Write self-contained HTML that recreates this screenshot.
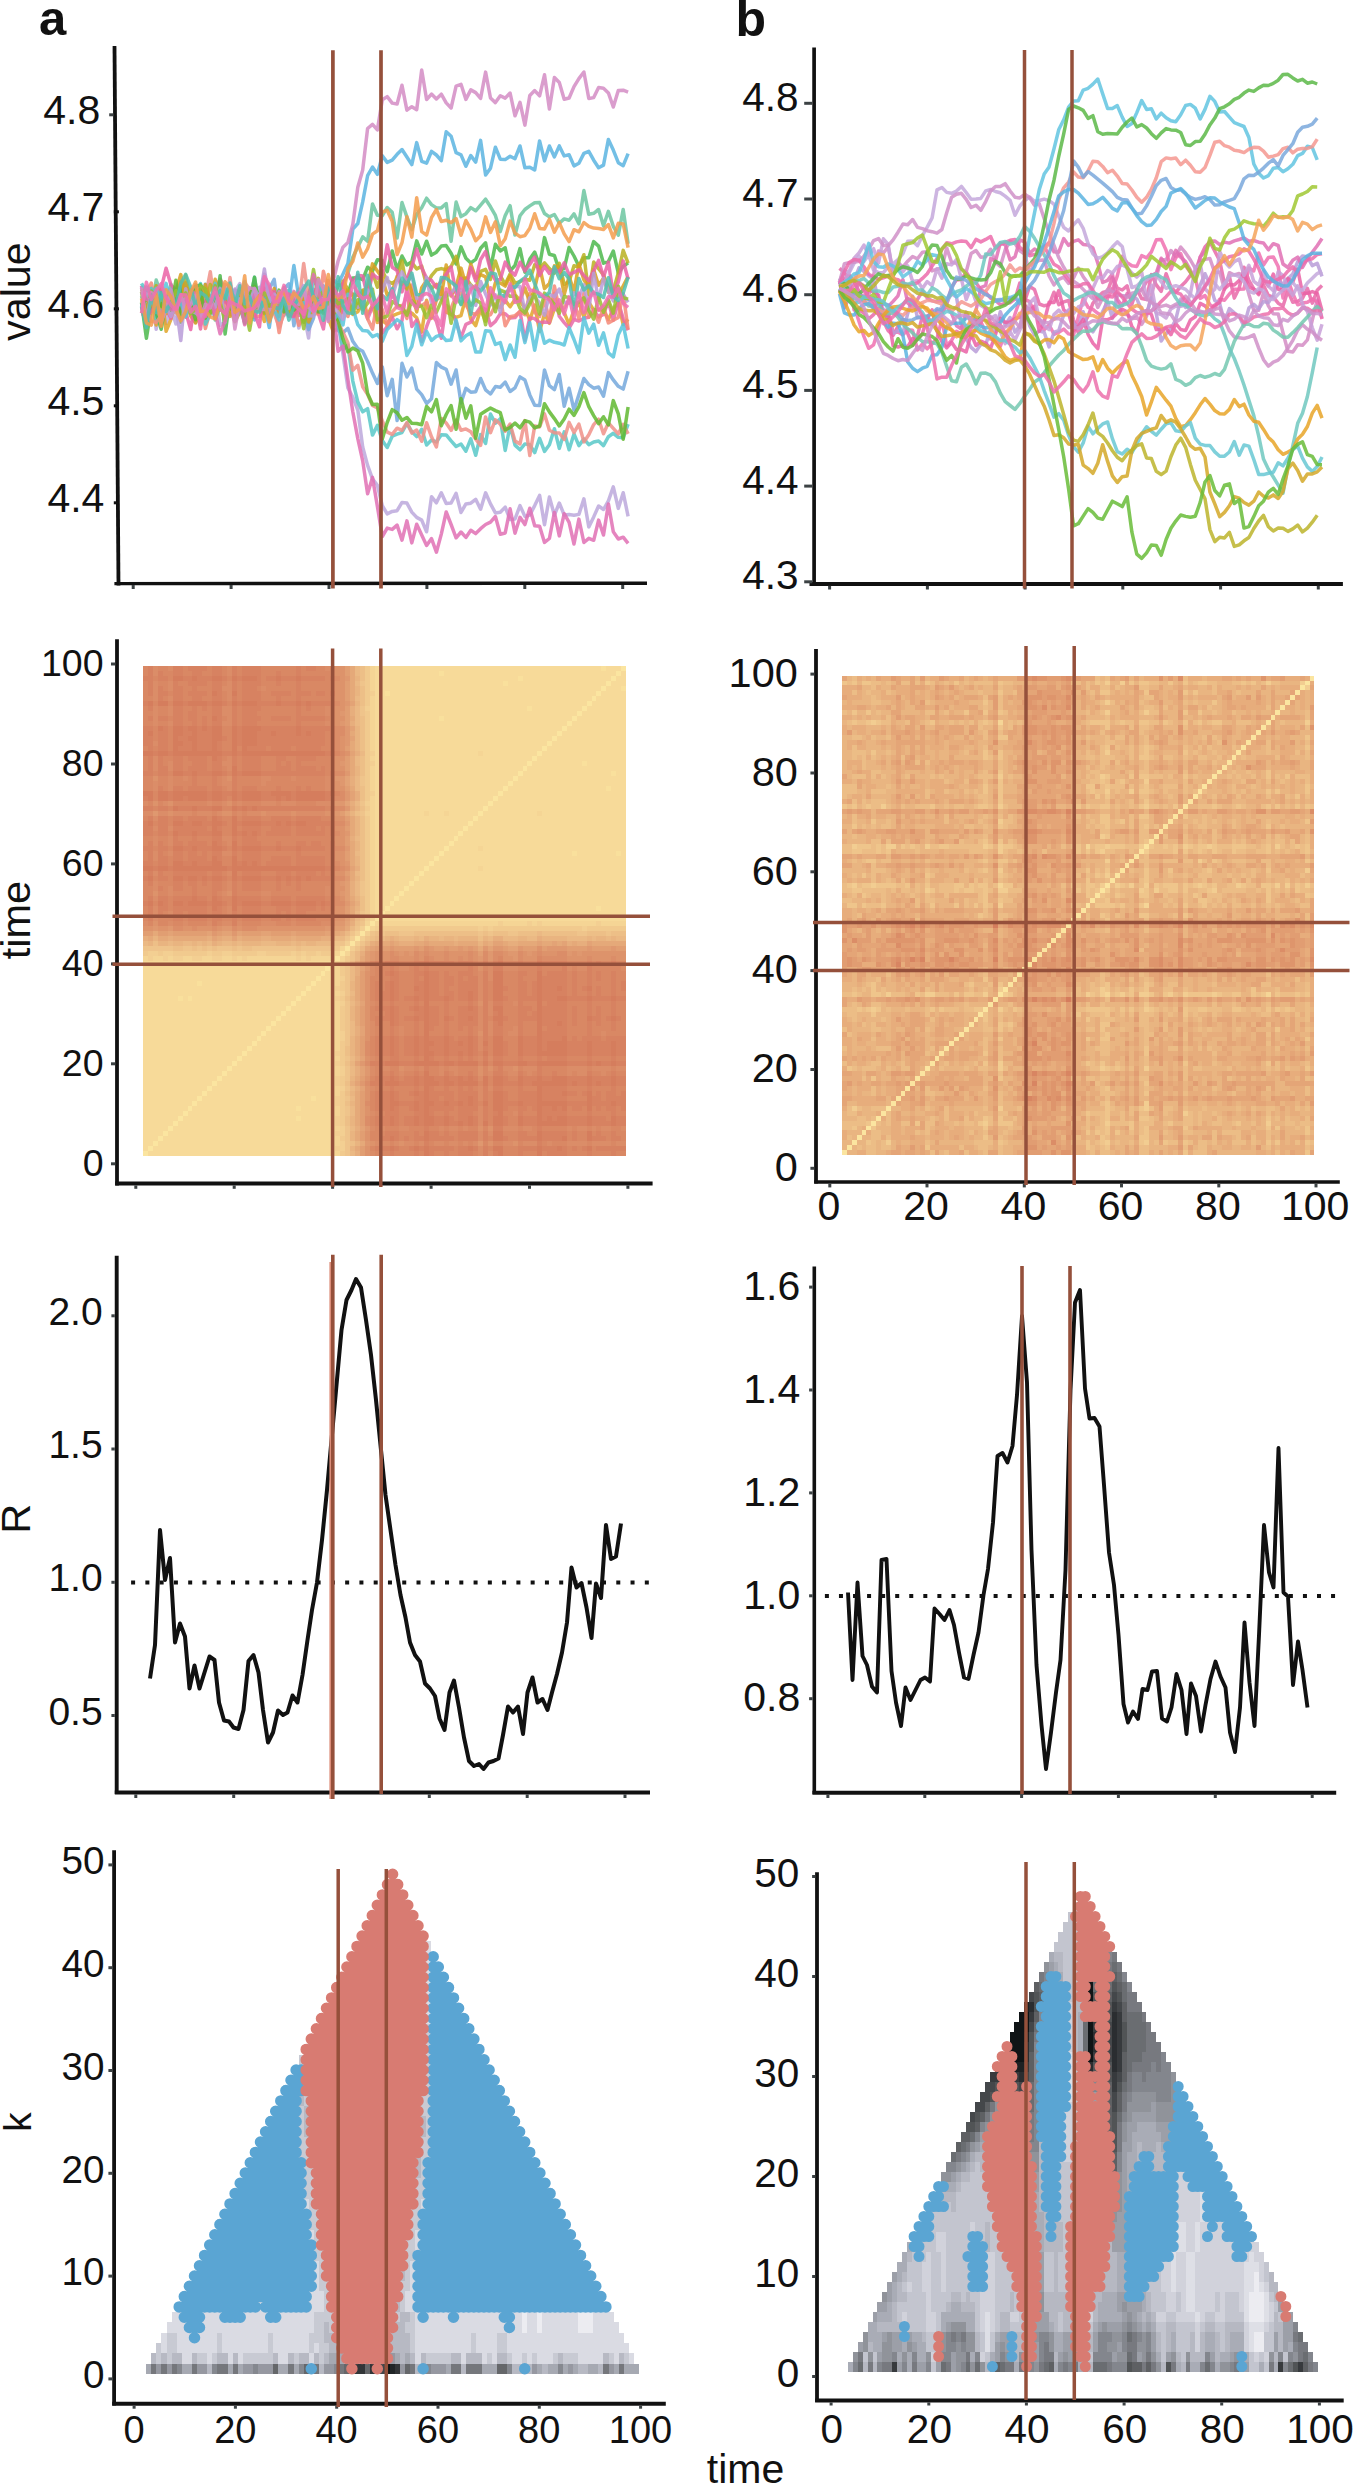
<!DOCTYPE html>
<html><head><meta charset="utf-8"><title>figure</title>
<style>html,body{margin:0;padding:0;background:#fff}svg{display:block}text{font-family:'Liberation Sans', sans-serif}</style>
</head><body>
<svg width="1354" height="2484" viewBox="0 0 1354 2484">
<rect width="1354" height="2484" fill="#fff"/>
<line x1="114.5" y1="46" x2="118.5" y2="585.5" stroke="#111" stroke-width="3.8" />
<line x1="114.4" y1="583.6" x2="647" y2="583.2" stroke="#111" stroke-width="3.4" />
<line x1="133.2" y1="585" x2="133.2" y2="589" stroke="#3c4244" stroke-width="3" />
<line x1="231.1" y1="585" x2="231.1" y2="589" stroke="#3c4244" stroke-width="3" />
<line x1="329" y1="585" x2="329" y2="589" stroke="#3c4244" stroke-width="3" />
<line x1="426.9" y1="585" x2="426.9" y2="589" stroke="#3c4244" stroke-width="3" />
<line x1="524.8" y1="585" x2="524.8" y2="589" stroke="#3c4244" stroke-width="3" />
<line x1="622.7" y1="585" x2="622.7" y2="589" stroke="#3c4244" stroke-width="3" />
<line x1="109.2" y1="114.8" x2="113.2" y2="114.8" stroke="#3c4244" stroke-width="3" />
<text x="100.3" y="123.9" font-size="41" text-anchor="end" font-weight="normal" fill="#111">4.8</text>
<line x1="113.8" y1="211.8" x2="118.9" y2="211.8" stroke="#111" stroke-width="3" />
<text x="104.4" y="220.9" font-size="41" text-anchor="end" font-weight="normal" fill="#111">4.7</text>
<line x1="113.8" y1="308.8" x2="118.9" y2="308.8" stroke="#111" stroke-width="3" />
<text x="104.4" y="317.9" font-size="41" text-anchor="end" font-weight="normal" fill="#111">4.6</text>
<line x1="113.8" y1="405.8" x2="118.9" y2="405.8" stroke="#111" stroke-width="3" />
<text x="104.4" y="414.9" font-size="41" text-anchor="end" font-weight="normal" fill="#111">4.5</text>
<line x1="113.8" y1="502.8" x2="118.9" y2="502.8" stroke="#111" stroke-width="3" />
<text x="104.4" y="511.9" font-size="41" text-anchor="end" font-weight="normal" fill="#111">4.4</text>
<text x="29.7" y="291.6" font-size="41.3" text-anchor="middle" font-weight="normal" fill="#111" transform="rotate(-90 29.7 291.6)">value</text>
<text x="39" y="34.6" font-size="49" text-anchor="start" font-weight="bold" fill="#111">a</text>
<polyline points="141.5,292.4 146.4,303.2 151.3,288.8 156.2,329.2 161.2,293.8 166.1,323.5 171,307.2 175.9,324 180.8,294.5 185.7,296.1 190.7,297.2 195.6,306.6 200.5,308.1 205.4,313.4 210.3,307.9 215.2,287.9 220.1,325.2 225.1,322.3 230,294.6 234.9,291.7 239.8,283.7 244.7,298.1 249.6,318.4 254.5,297.3 259.5,287.2 264.4,288.1 269.3,300.2 274.2,299.7 279.1,311.1 284,305.4 288.9,297.1 293.9,292.5 298.8,327.9 303.7,312.8 308.6,338.1 313.5,289.7 318.4,310.1 323.4,291 328.3,307.7 333.2,308 338.1,323.8 343,354.1 347.9,388 352.8,397.1 357.8,410 362.7,447 367.6,465.4 372.5,478.9 377.4,485.3 382.3,505.6 387.2,513.9 392.2,511.4 397.1,510.7 402,502.4 406.9,503.1 411.8,512.1 416.7,517.4 421.7,520.1 426.6,531.8 431.5,496.7 436.4,502.8 441.3,492.8 446.2,503.5 451.1,503 456.1,493.4 461,512.5 465.9,503.9 470.8,503.2 475.7,499.3 480.6,509.3 485.6,492.8 490.5,503.9 495.4,512.9 500.3,512.2 505.2,507.1 510.1,519.6 515,519 520,505.6 524.9,516.4 529.8,515.1 534.7,505.6 539.6,495.4 544.5,524.8 549.4,497 554.4,515.2 559.3,503 564.2,515 569.1,514.6 574,515.3 578.9,514.4 583.9,498.8 588.8,526.9 593.7,516.9 598.6,506 603.5,509.5 608.4,500.9 613.3,486.9 618.3,508.4 623.2,492.7 628.1,516.3" fill="none" stroke="#bca8dc" stroke-width="3.5" stroke-linejoin="round" stroke-linecap="butt" stroke-opacity="0.85"/>
<polyline points="141.5,294.1 146.4,296 151.3,296 156.2,325 161.2,291.4 166.1,331.3 171,319.2 175.9,290.2 180.8,303.1 185.7,288 190.7,290.5 195.6,288.7 200.5,298.6 205.4,307.6 210.3,310.7 215.2,306.8 220.1,290.8 225.1,315.2 230,293.5 234.9,315.5 239.8,288.7 244.7,309.5 249.6,294.2 254.5,284.3 259.5,306.8 264.4,321.4 269.3,288.4 274.2,295.6 279.1,309.1 284,287.8 288.9,313.8 293.9,305.5 298.8,289.3 303.7,305.3 308.6,315.8 313.5,306.2 318.4,288.4 323.4,310.4 328.3,318.1 333.2,331.4 338.1,328.1 343,302.9 347.9,298.6 352.8,314.4 357.8,311.8 362.7,302.4 367.6,314.8 372.5,305.2 377.4,322.4 382.3,320.7 387.2,324 392.2,315.8 397.1,313.8 402,312.2 406.9,311.3 411.8,313.1 416.7,317.7 421.7,332.1 426.6,300.2 431.5,318.4 436.4,299.9 441.3,296 446.2,312 451.1,314.5 456.1,317.4 461,315.6 465.9,297.2 470.8,319.2 475.7,325.6 480.6,309.3 485.6,321.2 490.5,300 495.4,306.8 500.3,307.2 505.2,300.4 510.1,306.8 515,299.4 520,301 524.9,308.2 529.8,320.2 534.7,305 539.6,331.5 544.5,313.6 549.4,323.3 554.4,308.6 559.3,304.7 564.2,312.7 569.1,324.4 574,309.9 578.9,302.8 583.9,316.8 588.8,302.2 593.7,310.1 598.6,309.3 603.5,310.5 608.4,319.5 613.3,309.2 618.3,302.7 623.2,324.6 628.1,319.3" fill="none" stroke="#e0a428" stroke-width="3.5" stroke-linejoin="round" stroke-linecap="butt" stroke-opacity="0.85"/>
<polyline points="141.5,308.1 146.4,302.3 151.3,296.2 156.2,315.2 161.2,299.8 166.1,296.9 171,293 175.9,304.6 180.8,311.7 185.7,295.1 190.7,298.8 195.6,305.8 200.5,309.3 205.4,284.2 210.3,302.2 215.2,311.2 220.1,299.8 225.1,290.4 230,301.6 234.9,291.6 239.8,298.1 244.7,290.4 249.6,293.4 254.5,320 259.5,300 264.4,302.4 269.3,288.6 274.2,279.4 279.1,315.1 284,288.7 288.9,283.8 293.9,325.8 298.8,296.2 303.7,313.9 308.6,329.6 313.5,318.2 318.4,293.1 323.4,285.8 328.3,318.9 333.2,313.5 338.1,330.7 343,332.6 347.9,328.4 352.8,341.3 357.8,348.5 362.7,351.3 367.6,361.5 372.5,373.1 377.4,383.5 382.3,366.9 387.2,395.8 392.2,379.3 397.1,420.5 402,363.3 406.9,377 411.8,368.1 416.7,389.1 421.7,394.6 426.6,403.4 431.5,398.7 436.4,362.6 441.3,367.1 446.2,369.3 451.1,384.2 456.1,370 461,402.9 465.9,388.3 470.8,392.2 475.7,391.7 480.6,378.5 485.6,389.9 490.5,394 495.4,386.6 500.3,387.3 505.2,382.1 510.1,391.5 515,387.9 520,376.9 524.9,380 529.8,394.9 534.7,405.2 539.6,405.5 544.5,370.1 549.4,385.7 554.4,389.6 559.3,374.5 564.2,406.2 569.1,388.3 574,410 578.9,394.6 583.9,378.5 588.8,384.7 593.7,388.2 598.6,387 603.5,396.1 608.4,372.6 613.3,379.9 618.3,386.3 623.2,389.1 628.1,371.2" fill="none" stroke="#74a8dc" stroke-width="3.5" stroke-linejoin="round" stroke-linecap="butt" stroke-opacity="0.85"/>
<polyline points="141.5,302.8 146.4,310.3 151.3,310.8 156.2,299.8 161.2,311.1 166.1,308.7 171,296 175.9,302.3 180.8,281.6 185.7,297.8 190.7,312.3 195.6,289.7 200.5,302.3 205.4,312.6 210.3,298.6 215.2,317.5 220.1,279.8 225.1,295.8 230,290.5 234.9,293.5 239.8,307.1 244.7,322.3 249.6,316.6 254.5,317.6 259.5,300.2 264.4,304 269.3,327.6 274.2,293.1 279.1,298.9 284,315.4 288.9,301.9 293.9,265.5 298.8,297 303.7,315.1 308.6,323.1 313.5,295.6 318.4,305.2 323.4,288.5 328.3,300.6 333.2,279.2 338.1,284 343,273.9 347.9,263.4 352.8,229.2 357.8,223.5 362.7,201.9 367.6,175.7 372.5,167 377.4,174.3 382.3,155.7 387.2,162.4 392.2,160.1 397.1,154.3 402,149.5 406.9,157 411.8,164.6 416.7,142.6 421.7,161.3 426.6,163.2 431.5,151.3 436.4,155 441.3,160.6 446.2,131.7 451.1,136.2 456.1,152.7 461,154.9 465.9,166.3 470.8,155.6 475.7,162.1 480.6,140.4 485.6,175.1 490.5,168.2 495.4,147.2 500.3,159.2 505.2,159.6 510.1,156.2 515,158.7 520,146 524.9,167.8 529.8,167.2 534.7,170 539.6,140.9 544.5,160.9 549.4,146 554.4,156.9 559.3,145.9 564.2,155.9 569.1,154.8 574,165.9 578.9,163.3 583.9,153.4 588.8,151.3 593.7,160.2 598.6,167.7 603.5,165.1 608.4,139.4 613.3,150.1 618.3,162.7 623.2,165.7 628.1,153.7" fill="none" stroke="#5ab4e0" stroke-width="3.5" stroke-linejoin="round" stroke-linecap="butt" stroke-opacity="0.85"/>
<polyline points="141.5,296 146.4,313.6 151.3,311.4 156.2,280 161.2,294.3 166.1,303 171,284.4 175.9,310.6 180.8,282.9 185.7,303.8 190.7,308.9 195.6,312.3 200.5,317.4 205.4,295.2 210.3,296.1 215.2,320.1 220.1,305.4 225.1,292.5 230,308.4 234.9,315.5 239.8,307.5 244.7,310.3 249.6,304 254.5,277 259.5,311.1 264.4,299.2 269.3,305.1 274.2,293.8 279.1,294.6 284,303.2 288.9,316.3 293.9,304.2 298.8,312.9 303.7,307.9 308.6,292.3 313.5,297.8 318.4,311.3 323.4,310.7 328.3,296.3 333.2,299.8 338.1,303.4 343,284.5 347.9,273.2 352.8,257.3 357.8,247 362.7,236.9 367.6,241.3 372.5,204 377.4,215.3 382.3,215.7 387.2,207.5 392.2,212.3 397.1,238.1 402,202.6 406.9,216.9 411.8,229.7 416.7,214.4 421.7,207.8 426.6,198.2 431.5,204.6 436.4,207.9 441.3,207.9 446.2,203.5 451.1,241.2 456.1,202.1 461,216.6 465.9,213.7 470.8,207.6 475.7,210.8 480.6,205.1 485.6,199.2 490.5,206.8 495.4,215.4 500.3,231.6 505.2,215.6 510.1,205.7 515,235.1 520,215.8 524.9,209.5 529.8,205.9 534.7,202.7 539.6,202.6 544.5,213.5 549.4,216.9 554.4,214.5 559.3,223.1 564.2,218.9 569.1,220.2 574,213.9 578.9,223.8 583.9,190.5 588.8,214.3 593.7,213.3 598.6,209.5 603.5,225.7 608.4,211.3 613.3,226.3 618.3,235.2 623.2,209.4 628.1,243.7" fill="none" stroke="#6cc6a0" stroke-width="3.5" stroke-linejoin="round" stroke-linecap="butt" stroke-opacity="0.85"/>
<polyline points="141.5,285.8 146.4,314.2 151.3,310.8 156.2,294.7 161.2,302.6 166.1,308.6 171,318.4 175.9,297.9 180.8,288 185.7,282.5 190.7,304.8 195.6,301.7 200.5,329 205.4,293.6 210.3,296.3 215.2,304.4 220.1,299.1 225.1,312.9 230,314.7 234.9,294.3 239.8,292.1 244.7,308.8 249.6,308.9 254.5,290.1 259.5,301.2 264.4,274.3 269.3,293 274.2,311.5 279.1,302.6 284,307.4 288.9,301.8 293.9,297.1 298.8,315.5 303.7,310.5 308.6,302.1 313.5,297 318.4,313.8 323.4,328.9 328.3,295.4 333.2,306.5 338.1,296 343,312.7 347.9,310.6 352.8,300.3 357.8,292.1 362.7,306.1 367.6,318.7 372.5,306.8 377.4,306.6 382.3,333.1 387.2,326.6 392.2,316.9 397.1,328.8 402,320.6 406.9,287.7 411.8,326.4 416.7,320.1 421.7,341.6 426.6,326.7 431.5,313.9 436.4,321.4 441.3,338.2 446.2,305.3 451.1,310.3 456.1,321.7 461,337.5 465.9,324.3 470.8,322.2 475.7,313.9 480.6,306.9 485.6,309.6 490.5,325.6 495.4,321.4 500.3,313.6 505.2,313.8 510.1,318.1 515,317.6 520,311.4 524.9,340.2 529.8,318 534.7,318.6 539.6,322.8 544.5,322.1 549.4,322.6 554.4,293.2 559.3,316.3 564.2,322.6 569.1,328.1 574,319.3 578.9,321 583.9,318.3 588.8,317.2 593.7,309.8 598.6,316.9 603.5,314.4 608.4,301.3 613.3,320.2 618.3,302 623.2,318.6 628.1,330.3" fill="none" stroke="#e868a8" stroke-width="3.5" stroke-linejoin="round" stroke-linecap="butt" stroke-opacity="0.85"/>
<polyline points="141.5,297.2 146.4,293.7 151.3,283 156.2,308.3 161.2,308.7 166.1,306.7 171,296.7 175.9,295.4 180.8,297.7 185.7,317.2 190.7,296.4 195.6,284.3 200.5,299.8 205.4,328.6 210.3,310.2 215.2,290.9 220.1,279.2 225.1,288.5 230,309.3 234.9,310.7 239.8,295.8 244.7,294.3 249.6,299.8 254.5,316 259.5,316.4 264.4,309.1 269.3,296.5 274.2,299 279.1,332.6 284,307 288.9,298.7 293.9,306.4 298.8,325.2 303.7,315.7 308.6,297.5 313.5,313.2 318.4,313.9 323.4,271.2 328.3,291.4 333.2,303.4 338.1,299.4 343,305.5 347.9,316.5 352.8,299.5 357.8,308.3 362.7,291 367.6,318.7 372.5,329.1 377.4,300.9 382.3,309.5 387.2,325.9 392.2,311.6 397.1,306.3 402,305.5 406.9,318.5 411.8,285 416.7,302.5 421.7,305.7 426.6,302.2 431.5,315.8 436.4,298 441.3,287.3 446.2,311.8 451.1,308.1 456.1,296.2 461,292.6 465.9,304.9 470.8,313.2 475.7,314.3 480.6,310.2 485.6,315.8 490.5,314.8 495.4,305.4 500.3,297.3 505.2,325.8 510.1,316.8 515,315.7 520,311.6 524.9,314.7 529.8,293.2 534.7,312.3 539.6,316.5 544.5,299.9 549.4,320.5 554.4,286.1 559.3,309.1 564.2,307.8 569.1,300 574,302 578.9,318.5 583.9,293.3 588.8,317.1 593.7,310.7 598.6,322.2 603.5,306.4 608.4,322.9 613.3,320.2 618.3,317.5 623.2,293.5 628.1,329.6" fill="none" stroke="#f48878" stroke-width="3.5" stroke-linejoin="round" stroke-linecap="butt" stroke-opacity="0.85"/>
<polyline points="141.5,283.4 146.4,291.9 151.3,288.4 156.2,319.8 161.2,308.2 166.1,303.7 171,289.6 175.9,289.8 180.8,291.3 185.7,309.9 190.7,297.3 195.6,322.2 200.5,283.4 205.4,324 210.3,313.9 215.2,299.6 220.1,306.8 225.1,298.6 230,306.6 234.9,298.4 239.8,296.5 244.7,294 249.6,299.5 254.5,295.5 259.5,306.1 264.4,304.9 269.3,309 274.2,298 279.1,301 284,291.3 288.9,290.7 293.9,312.9 298.8,298.2 303.7,299.6 308.6,299.2 313.5,314.6 318.4,283.1 323.4,310.6 328.3,293.5 333.2,315.9 338.1,322 343,349.5 347.9,345 352.8,381.1 357.8,401.9 362.7,411.8 367.6,408.6 372.5,435.1 377.4,425.4 382.3,440.6 387.2,447.5 392.2,436.2 397.1,434.1 402,432.5 406.9,423.4 411.8,431.6 416.7,436.6 421.7,429.3 426.6,445 431.5,440.1 436.4,441.9 441.3,434.7 446.2,434.9 451.1,440.9 456.1,446.5 461,444 465.9,451.2 470.8,438.9 475.7,455.3 480.6,434.6 485.6,443.5 490.5,414 495.4,423.2 500.3,418.7 505.2,450.5 510.1,425.6 515,445.1 520,449.8 524.9,443.9 529.8,444.8 534.7,452.6 539.6,438.3 544.5,451.4 549.4,444.8 554.4,428.7 559.3,448.4 564.2,431.9 569.1,449.7 574,434 578.9,445.6 583.9,438.9 588.8,444.7 593.7,442 598.6,441 603.5,445.6 608.4,436.7 613.3,433.3 618.3,437.3 623.2,437.7 628.1,424.1" fill="none" stroke="#58c8c8" stroke-width="3.5" stroke-linejoin="round" stroke-linecap="butt" stroke-opacity="0.85"/>
<polyline points="141.5,302.5 146.4,338.2 151.3,307.7 156.2,313 161.2,329.3 166.1,299.4 171,304.4 175.9,300.6 180.8,286.8 185.7,302.4 190.7,312.1 195.6,286.3 200.5,284.8 205.4,293.8 210.3,313 215.2,307 220.1,275.7 225.1,334.1 230,298.3 234.9,304.7 239.8,297.7 244.7,298.2 249.6,302.8 254.5,277.5 259.5,308.6 264.4,312.3 269.3,305.5 274.2,303.7 279.1,299.4 284,304.9 288.9,311.1 293.9,302.4 298.8,302.1 303.7,301.2 308.6,300.6 313.5,299.7 318.4,310.9 323.4,307.9 328.3,312.3 333.2,304.2 338.1,284.7 343,285.8 347.9,294.1 352.8,277.9 357.8,277.7 362.7,279.7 367.6,267.2 372.5,271 377.4,259.7 382.3,260.5 387.2,271.7 392.2,251 397.1,269.6 402,256 406.9,265 411.8,261.7 416.7,240.9 421.7,254 426.6,241.2 431.5,255.1 436.4,252.2 441.3,246 446.2,245.6 451.1,253.2 456.1,264 461,246.9 465.9,258.2 470.8,262.9 475.7,259.4 480.6,248.3 485.6,242.8 490.5,268.7 495.4,244.3 500.3,250.9 505.2,247.8 510.1,270.9 515,265.5 520,248.6 524.9,272.2 529.8,259 534.7,252.1 539.6,265.4 544.5,237.6 549.4,254.2 554.4,255.5 559.3,270.4 564.2,268.3 569.1,247.5 574,256 578.9,266.3 583.9,257.7 588.8,257.8 593.7,241.6 598.6,246.1 603.5,263.2 608.4,261.6 613.3,251 618.3,273 623.2,266.3 628.1,262.8" fill="none" stroke="#4cb84c" stroke-width="3.5" stroke-linejoin="round" stroke-linecap="butt" stroke-opacity="0.85"/>
<polyline points="141.5,300.8 146.4,307.9 151.3,321.3 156.2,322.4 161.2,315.4 166.1,304.4 171,304.2 175.9,309.5 180.8,295.9 185.7,294.1 190.7,293.2 195.6,307.7 200.5,288 205.4,297.7 210.3,271.8 215.2,309.2 220.1,297.9 225.1,311.1 230,277.4 234.9,315.7 239.8,300.4 244.7,283 249.6,288.8 254.5,311.9 259.5,309.7 264.4,291.4 269.3,301.8 274.2,313.3 279.1,327.1 284,314.2 288.9,306.2 293.9,291.7 298.8,304.8 303.7,263.5 308.6,299 313.5,312.7 318.4,301.3 323.4,291.7 328.3,315.4 333.2,310.5 338.1,322.6 343,332.4 347.9,342.7 352.8,370.2 357.8,365.3 362.7,386.7 367.6,394.4 372.5,405.5 377.4,407.9 382.3,420.9 387.2,432.1 392.2,434.4 397.1,428.2 402,430.4 406.9,422.6 411.8,433.1 416.7,430.1 421.7,441.3 426.6,422.8 431.5,436.8 436.4,446.9 441.3,418.4 446.2,423 451.1,430.4 456.1,420 461,430.3 465.9,428.9 470.8,431.8 475.7,439.1 480.6,445.4 485.6,416.9 490.5,432.7 495.4,419.8 500.3,424.3 505.2,431.2 510.1,424 515,441.1 520,443.9 524.9,420.6 529.8,455.4 534.7,425.9 539.6,427 544.5,413.9 549.4,430.2 554.4,432.8 559.3,433 564.2,439.5 569.1,422.4 574,432.6 578.9,424.1 583.9,441.9 588.8,434.7 593.7,424.6 598.6,419.2 603.5,433.8 608.4,422.9 613.3,428.4 618.3,433.9 623.2,424.4 628.1,433.9" fill="none" stroke="#f09088" stroke-width="3.5" stroke-linejoin="round" stroke-linecap="butt" stroke-opacity="0.85"/>
<polyline points="141.5,313.5 146.4,305.6 151.3,301.3 156.2,285.7 161.2,306.9 166.1,309.1 171,307.4 175.9,312.6 180.8,315.8 185.7,275.1 190.7,308.6 195.6,291.5 200.5,302.9 205.4,310.6 210.3,284.5 215.2,298.5 220.1,298.6 225.1,298.7 230,308.1 234.9,321.6 239.8,312.2 244.7,296 249.6,303.3 254.5,308.3 259.5,305.1 264.4,313.6 269.3,295 274.2,302.2 279.1,298.9 284,295 288.9,313.4 293.9,299.2 298.8,308.3 303.7,294.9 308.6,310.1 313.5,300.4 318.4,278.4 323.4,313.5 328.3,310.7 333.2,310.1 338.1,319.9 343,280.9 347.9,289.7 352.8,294.8 357.8,308.4 362.7,290.1 367.6,288.7 372.5,272.5 377.4,287.3 382.3,270.5 387.2,281.1 392.2,283.3 397.1,280 402,260.7 406.9,289 411.8,262.6 416.7,268.9 421.7,266.2 426.6,285.2 431.5,275.6 436.4,269.8 441.3,268.6 446.2,269.7 451.1,266.5 456.1,256.2 461,278.8 465.9,278.1 470.8,284.9 475.7,289.2 480.6,271.4 485.6,269.4 490.5,279.4 495.4,261 500.3,275.8 505.2,284.3 510.1,273.9 515,283.1 520,281.8 524.9,279.3 529.8,280.2 534.7,264.8 539.6,268.4 544.5,262.9 549.4,268.6 554.4,273.1 559.3,263.4 564.2,284.4 569.1,281.6 574,265.8 578.9,267.1 583.9,254.7 588.8,294.9 593.7,261.9 598.6,268.7 603.5,275 608.4,287.4 613.3,290.6 618.3,273.1 623.2,250.4 628.1,263.1" fill="none" stroke="#b8b020" stroke-width="3.5" stroke-linejoin="round" stroke-linecap="butt" stroke-opacity="0.85"/>
<polyline points="141.5,289.2 146.4,299.3 151.3,306 156.2,291.3 161.2,289 166.1,313.7 171,299.9 175.9,291.2 180.8,274.6 185.7,301.1 190.7,315.9 195.6,323 200.5,309.6 205.4,284.6 210.3,305.8 215.2,279.2 220.1,309.1 225.1,288.8 230,316.4 234.9,294.2 239.8,291.6 244.7,315.1 249.6,311.6 254.5,299.3 259.5,293.6 264.4,309.2 269.3,309.8 274.2,288.5 279.1,316.7 284,294.8 288.9,307.1 293.9,315.2 298.8,298.6 303.7,299.5 308.6,322 313.5,310.8 318.4,312.1 323.4,296.4 328.3,303 333.2,307.5 338.1,306.2 343,283.8 347.9,296.9 352.8,294.3 357.8,295 362.7,297.4 367.6,285.8 372.5,263.9 377.4,270.9 382.3,277.8 387.2,295 392.2,291.3 397.1,276.3 402,284.3 406.9,277.9 411.8,291.9 416.7,311.9 421.7,287.7 426.6,280.5 431.5,288.3 436.4,284.3 441.3,296.7 446.2,265.1 451.1,296 456.1,286.6 461,268.1 465.9,285.1 470.8,264.2 475.7,278 480.6,274.7 485.6,276.9 490.5,301 495.4,282.6 500.3,283 505.2,286.1 510.1,275.9 515,294.7 520,300.7 524.9,287.9 529.8,302.6 534.7,288.3 539.6,266.7 544.5,288.6 549.4,283.5 554.4,265.9 559.3,267.7 564.2,294.5 569.1,276.4 574,291.7 578.9,263.9 583.9,279.8 588.8,287.5 593.7,269.7 598.6,285.2 603.5,278.2 608.4,292.3 613.3,290.5 618.3,295.8 623.2,286 628.1,276.6" fill="none" stroke="#d8a020" stroke-width="3.5" stroke-linejoin="round" stroke-linecap="butt" stroke-opacity="0.85"/>
<polyline points="141.5,313.8 146.4,314.8 151.3,312.1 156.2,303.1 161.2,288.6 166.1,268.2 171,284.9 175.9,290 180.8,306.6 185.7,312 190.7,329.5 195.6,297.3 200.5,304.9 205.4,301.9 210.3,301.9 215.2,316.8 220.1,298.2 225.1,302 230,306.2 234.9,290.3 239.8,292.4 244.7,297.8 249.6,306.2 254.5,313.4 259.5,326.8 264.4,279.3 269.3,297.7 274.2,291.7 279.1,309.6 284,309.6 288.9,315.3 293.9,316.6 298.8,304.3 303.7,317 308.6,297.7 313.5,289.3 318.4,312 323.4,295.8 328.3,317.4 333.2,298 338.1,308.4 343,283.4 347.9,273.3 352.8,282.7 357.8,275.2 362.7,275.9 367.6,297.1 372.5,274 377.4,278.2 382.3,275.4 387.2,244.7 392.2,267.2 397.1,270.6 402,291.9 406.9,278.2 411.8,267.3 416.7,249.1 421.7,267.8 426.6,278.3 431.5,280.4 436.4,287.5 441.3,281 446.2,274.4 451.1,267 456.1,293.5 461,278.4 465.9,288.7 470.8,267.4 475.7,280.9 480.6,259.5 485.6,251.5 490.5,270.1 495.4,280.3 500.3,279.5 505.2,262.1 510.1,270.5 515,275.1 520,262.2 524.9,271 529.8,264.3 534.7,257 539.6,275.5 544.5,266.4 549.4,273.4 554.4,269 559.3,271.9 564.2,262.9 569.1,274.7 574,272.4 578.9,269.8 583.9,275.5 588.8,280.7 593.7,270.9 598.6,260.4 603.5,277 608.4,262.1 613.3,295 618.3,281.8 623.2,261 628.1,279.1" fill="none" stroke="#ea62a6" stroke-width="3.5" stroke-linejoin="round" stroke-linecap="butt" stroke-opacity="0.85"/>
<polyline points="141.5,309.9 146.4,296 151.3,302.5 156.2,295.3 161.2,306.2 166.1,296.5 171,310.2 175.9,280.3 180.8,322.2 185.7,309.7 190.7,305.4 195.6,319.8 200.5,289.6 205.4,318.2 210.3,304.4 215.2,299.6 220.1,309.6 225.1,311.3 230,306.5 234.9,314.1 239.8,297.7 244.7,323.5 249.6,292.9 254.5,286.7 259.5,296.9 264.4,305 269.3,301.9 274.2,309.2 279.1,290.1 284,311.9 288.9,302.6 293.9,310 298.8,304.8 303.7,322.4 308.6,307.6 313.5,302.8 318.4,311.8 323.4,311.9 328.3,296.9 333.2,312.4 338.1,320.7 343,339.2 347.9,351.8 352.8,348.1 357.8,351 362.7,363.2 367.6,393.5 372.5,404.5 377.4,404.2 382.3,439 387.2,422.5 392.2,409.6 397.1,412.8 402,420.3 406.9,417.5 411.8,423.3 416.7,423.5 421.7,424.8 426.6,406.5 431.5,411.8 436.4,399.6 441.3,425.7 446.2,414.5 451.1,405.5 456.1,429.3 461,398.5 465.9,418.2 470.8,405.9 475.7,438.2 480.6,414.3 485.6,411 490.5,408 495.4,410.6 500.3,412.7 505.2,429.9 510.1,427.5 515,423.1 520,427.8 524.9,420.7 529.8,422.1 534.7,427.9 539.6,426 544.5,403.7 549.4,411.9 554.4,418.6 559.3,425.9 564.2,419 569.1,409.2 574,415.3 578.9,406.6 583.9,392.6 588.8,406.7 593.7,415.6 598.6,423.7 603.5,416.8 608.4,424.8 613.3,400.6 618.3,413.9 623.2,439.2 628.1,407" fill="none" stroke="#60b830" stroke-width="3.5" stroke-linejoin="round" stroke-linecap="butt" stroke-opacity="0.85"/>
<polyline points="141.5,307.3 146.4,287 151.3,292.6 156.2,288.4 161.2,299.7 166.1,283.4 171,302.6 175.9,307.6 180.8,302.3 185.7,316.7 190.7,297.9 195.6,307 200.5,318.1 205.4,312.8 210.3,300.7 215.2,283.4 220.1,307.4 225.1,288.8 230,304.1 234.9,290.9 239.8,305.6 244.7,281.5 249.6,313.5 254.5,291.7 259.5,297.7 264.4,307.3 269.3,297.8 274.2,309.8 279.1,319.9 284,292.8 288.9,300.8 293.9,301.4 298.8,304.4 303.7,302.6 308.6,316.1 313.5,279.4 318.4,286.3 323.4,294 328.3,293.2 333.2,320.3 338.1,313.8 343,325 347.9,294.2 352.8,308 357.8,324.7 362.7,330.6 367.6,330.9 372.5,336.6 377.4,334.5 382.3,341.3 387.2,329.4 392.2,324.6 397.1,319.6 402,323.1 406.9,355.5 411.8,346.4 416.7,324.3 421.7,344.8 426.6,331.3 431.5,340.5 436.4,336.4 441.3,335 446.2,340.6 451.1,339.9 456.1,319.9 461,340.9 465.9,335.7 470.8,332.9 475.7,352 480.6,352 485.6,330.7 490.5,331.3 495.4,344.4 500.3,342.6 505.2,359.6 510.1,345 515,357.3 520,320.5 524.9,342.6 529.8,322.7 534.7,350.2 539.6,324.2 544.5,343.3 549.4,340.2 554.4,342.3 559.3,343.2 564.2,345 569.1,327.7 574,339.5 578.9,352.6 583.9,317.8 588.8,333.1 593.7,324.2 598.6,345.3 603.5,332.8 608.4,352.9 613.3,357 618.3,334.7 623.2,324.5 628.1,348.5" fill="none" stroke="#58c4dc" stroke-width="3.5" stroke-linejoin="round" stroke-linecap="butt" stroke-opacity="0.85"/>
<polyline points="141.5,292 146.4,293.7 151.3,302.8 156.2,300.5 161.2,322.7 166.1,306.8 171,316.4 175.9,303.9 180.8,340.6 185.7,288.7 190.7,311.6 195.6,312.7 200.5,317.1 205.4,310.1 210.3,300.1 215.2,307.2 220.1,288.4 225.1,322.5 230,299.4 234.9,289 239.8,303.5 244.7,286.6 249.6,303.4 254.5,288.3 259.5,298.3 264.4,269.1 269.3,301.7 274.2,294.2 279.1,299.4 284,295.6 288.9,304.3 293.9,294.6 298.8,295.2 303.7,285.5 308.6,315.7 313.5,316 318.4,299.4 323.4,298.5 328.3,319.7 333.2,307.4 338.1,312.2 343,319.2 347.9,300.4 352.8,304.2 357.8,307.3 362.7,303.4 367.6,290 372.5,302.3 377.4,301.6 382.3,291.1 387.2,277.5 392.2,297.2 397.1,280.4 402,271.9 406.9,282.3 411.8,275.2 416.7,298.3 421.7,299.5 426.6,277.3 431.5,303.1 436.4,296 441.3,298.1 446.2,296.1 451.1,292.9 456.1,286.9 461,290.4 465.9,289.7 470.8,285.2 475.7,305.3 480.6,281.4 485.6,294.1 490.5,305.1 495.4,294.9 500.3,312.3 505.2,292.9 510.1,290.4 515,286.6 520,286.5 524.9,311.9 529.8,297.5 534.7,296.6 539.6,303 544.5,315.3 549.4,294.3 554.4,296.7 559.3,289 564.2,302.3 569.1,303.2 574,292.8 578.9,297.3 583.9,284.7 588.8,310 593.7,273.3 598.6,300.5 603.5,278.5 608.4,291.2 613.3,301 618.3,295.9 623.2,294.5 628.1,302.2" fill="none" stroke="#b89cd8" stroke-width="3.5" stroke-linejoin="round" stroke-linecap="butt" stroke-opacity="0.85"/>
<polyline points="141.5,291.8 146.4,317.9 151.3,291 156.2,298.9 161.2,300.3 166.1,300 171,303.4 175.9,290.7 180.8,299.1 185.7,292.8 190.7,313.8 195.6,309.3 200.5,285.9 205.4,289 210.3,313.1 215.2,285.7 220.1,302.6 225.1,320.7 230,298.8 234.9,313.9 239.8,308.8 244.7,306.7 249.6,330.2 254.5,301.3 259.5,295.5 264.4,293 269.3,306 274.2,303.1 279.1,303.6 284,295.1 288.9,294.5 293.9,298.8 298.8,298.6 303.7,328.8 308.6,300 313.5,269.6 318.4,297.4 323.4,291.4 328.3,303.8 333.2,295.3 338.1,303.8 343,301.4 347.9,298.9 352.8,313.5 357.8,299.7 362.7,309.7 367.6,303.1 372.5,289.2 377.4,320.1 382.3,317.8 387.2,316 392.2,301.6 397.1,304.6 402,307.3 406.9,315.2 411.8,300.6 416.7,306.2 421.7,306.1 426.6,317.7 431.5,305.2 436.4,312.2 441.3,301.1 446.2,292.4 451.1,323.3 456.1,296.9 461,304.1 465.9,295.6 470.8,305.2 475.7,299.8 480.6,303 485.6,324.8 490.5,294.7 495.4,311.8 500.3,290.1 505.2,292.2 510.1,296.3 515,296 520,308.3 524.9,313.1 529.8,303.9 534.7,293.3 539.6,314.2 544.5,293.1 549.4,298.7 554.4,304.4 559.3,313.3 564.2,296.5 569.1,297.6 574,304.5 578.9,302.2 583.9,297.9 588.8,310.3 593.7,319.1 598.6,296.9 603.5,312.3 608.4,299.8 613.3,313.2 618.3,286.2 623.2,297.8 628.1,299.1" fill="none" stroke="#98c030" stroke-width="3.5" stroke-linejoin="round" stroke-linecap="butt" stroke-opacity="0.85"/>
<polyline points="141.5,292 146.4,299.2 151.3,301 156.2,302.4 161.2,320.5 166.1,296.7 171,309.4 175.9,309.8 180.8,298 185.7,303.6 190.7,292.5 195.6,293.3 200.5,307.5 205.4,316.4 210.3,299.9 215.2,313.2 220.1,333.8 225.1,321 230,297 234.9,320.6 239.8,301.2 244.7,324.8 249.6,309.8 254.5,294.8 259.5,298.5 264.4,298.8 269.3,319.3 274.2,297.3 279.1,302.7 284,294.3 288.9,293.9 293.9,300.8 298.8,292.9 303.7,317.2 308.6,297.8 313.5,274.6 318.4,291.4 323.4,307.2 328.3,280.4 333.2,311.1 338.1,351.2 343,346 347.9,379.5 352.8,411.8 357.8,438.6 362.7,460.8 367.6,493.7 372.5,477.4 377.4,506.5 382.3,536.5 387.2,528.1 392.2,529.4 397.1,525.1 402,540.1 406.9,520.9 411.8,542.9 416.7,524.2 421.7,534.9 426.6,545.4 431.5,538.6 436.4,552.2 441.3,534.1 446.2,512 451.1,524.5 456.1,537.8 461,532 465.9,537.4 470.8,530.3 475.7,533.6 480.6,528.7 485.6,524.5 490.5,522.1 495.4,516.5 500.3,534.3 505.2,533 510.1,508.8 515,533.2 520,517.3 524.9,524.6 529.8,508.2 534.7,525.7 539.6,526.3 544.5,542.4 549.4,538.5 554.4,512.4 559.3,535.9 564.2,513.7 569.1,522.3 574,544 578.9,519.1 583.9,542.5 588.8,538.3 593.7,540.3 598.6,520.1 603.5,535 608.4,503.9 613.3,531.8 618.3,539 623.2,537.2 628.1,543.4" fill="none" stroke="#e070b4" stroke-width="3.5" stroke-linejoin="round" stroke-linecap="butt" stroke-opacity="0.85"/>
<polyline points="141.5,287.4 146.4,321.2 151.3,292.5 156.2,296.7 161.2,320.8 166.1,309.7 171,289.9 175.9,312.5 180.8,294.5 185.7,309.6 190.7,304.7 195.6,295.2 200.5,321.2 205.4,304.2 210.3,308 215.2,292.6 220.1,302.4 225.1,284.6 230,287.2 234.9,329 239.8,301.9 244.7,296.6 249.6,287.7 254.5,289.1 259.5,309 264.4,309.6 269.3,309.5 274.2,310.1 279.1,291.8 284,298.4 288.9,308.3 293.9,291.4 298.8,304.4 303.7,289.6 308.6,307.2 313.5,311.7 318.4,279.5 323.4,288.7 328.3,321.5 333.2,281.4 338.1,261 343,247.2 347.9,242.5 352.8,224.5 357.8,187.2 362.7,169.9 367.6,128.5 372.5,124.3 377.4,129.9 382.3,99.8 387.2,96.6 392.2,103.1 397.1,104 402,85.3 406.9,110.2 411.8,106.7 416.7,109.7 421.7,70 426.6,99.5 431.5,94.1 436.4,99 441.3,94.2 446.2,102.9 451.1,108 456.1,86.1 461,84.3 465.9,99.4 470.8,89.9 475.7,92.6 480.6,98.4 485.6,72.1 490.5,98 495.4,102.6 500.3,95.7 505.2,98.1 510.1,93 515,115.8 520,102.3 524.9,125.1 529.8,95.5 534.7,90.6 539.6,95.8 544.5,74.8 549.4,109 554.4,77.5 559.3,82.5 564.2,99.3 569.1,98 574,86.6 578.9,78.6 583.9,72 588.8,98.5 593.7,97.6 598.6,87.6 603.5,88.2 608.4,92.9 613.3,107 618.3,90.6 623.2,90.2 628.1,92.1" fill="none" stroke="#d48cc4" stroke-width="3.5" stroke-linejoin="round" stroke-linecap="butt" stroke-opacity="0.85"/>
<polyline points="141.5,306.9 146.4,327.6 151.3,295 156.2,312.6 161.2,292.6 166.1,311.6 171,302.1 175.9,305.3 180.8,283.6 185.7,274.3 190.7,287.1 195.6,306.7 200.5,292.4 205.4,295.9 210.3,303.1 215.2,295.7 220.1,290.6 225.1,298.8 230,283 234.9,306.2 239.8,285.8 244.7,303.7 249.6,296.5 254.5,310.9 259.5,312.2 264.4,298.3 269.3,321 274.2,307.3 279.1,308.7 284,298 288.9,320.1 293.9,306.6 298.8,297.6 303.7,288.8 308.6,281.1 313.5,296.5 318.4,301.8 323.4,320.3 328.3,288.1 333.2,305.9 338.1,276.7 343,306.1 347.9,313.1 352.8,313.2 357.8,272.2 362.7,313.2 367.6,275.2 372.5,293.9 377.4,308.8 382.3,295.6 387.2,299.7 392.2,288.7 397.1,303.9 402,278 406.9,284.9 411.8,273 416.7,294.5 421.7,294.8 426.6,281.1 431.5,288.1 436.4,300 441.3,277.5 446.2,278.3 451.1,282.1 456.1,286 461,304.6 465.9,281.2 470.8,314.4 475.7,287.5 480.6,291.2 485.6,284.8 490.5,272.9 495.4,273.9 500.3,295 505.2,296.5 510.1,286.1 515,287.4 520,281.2 524.9,277.8 529.8,270.2 534.7,283.6 539.6,296.6 544.5,296.4 549.4,292.4 554.4,266.8 559.3,278.8 564.2,272.4 569.1,278.9 574,309.7 578.9,278.6 583.9,290 588.8,285.6 593.7,293.3 598.6,294.3 603.5,297.5 608.4,277.8 613.3,296.7 618.3,300.5 623.2,293 628.1,277.2" fill="none" stroke="#50c0b0" stroke-width="3.5" stroke-linejoin="round" stroke-linecap="butt" stroke-opacity="0.85"/>
<polyline points="141.5,298.5 146.4,323 151.3,325.1 156.2,293.8 161.2,326.3 166.1,289.7 171,296.9 175.9,309.3 180.8,320.8 185.7,311.5 190.7,292.3 195.6,282.1 200.5,311.6 205.4,310.9 210.3,316.9 215.2,318.8 220.1,303.9 225.1,281.8 230,287.5 234.9,312.3 239.8,309 244.7,275.8 249.6,323 254.5,302.3 259.5,295.6 264.4,300.4 269.3,321.9 274.2,306.4 279.1,293.6 284,292.6 288.9,303.6 293.9,293.1 298.8,298.3 303.7,308.3 308.6,305 313.5,296.5 318.4,308.7 323.4,307.1 328.3,274.5 333.2,296.5 338.1,296.9 343,297.2 347.9,268.7 352.8,261.2 357.8,243 362.7,257.2 367.6,248.6 372.5,234.1 377.4,230.7 382.3,211.9 387.2,210.4 392.2,221.2 397.1,254.6 402,242.7 406.9,216.7 411.8,237.1 416.7,197.7 421.7,231.6 426.6,235.1 431.5,217.7 436.4,209.5 441.3,221.5 446.2,220.2 451.1,222.6 456.1,218.6 461,235.3 465.9,220.5 470.8,229.1 475.7,240.7 480.6,235.7 485.6,216.9 490.5,232.4 495.4,221.8 500.3,245.7 505.2,238.8 510.1,221.1 515,233.1 520,236.7 524.9,235.6 529.8,228.3 534.7,213.7 539.6,228.4 544.5,228.9 549.4,219.2 554.4,232.2 559.3,222.6 564.2,233.9 569.1,241.6 574,229.7 578.9,231.8 583.9,222.5 588.8,226.4 593.7,228.1 598.6,228.5 603.5,229.5 608.4,224.6 613.3,237.9 618.3,223.2 623.2,223.9 628.1,247.6" fill="none" stroke="#f39c4c" stroke-width="3.5" stroke-linejoin="round" stroke-linecap="butt" stroke-opacity="0.85"/>
<polyline points="141.5,313.2 146.4,282.2 151.3,299.5 156.2,290.4 161.2,283.7 166.1,298.1 171,305.2 175.9,309.5 180.8,294.8 185.7,294.9 190.7,312 195.6,306.3 200.5,324.8 205.4,313 210.3,303.5 215.2,288 220.1,309.1 225.1,313.5 230,301.8 234.9,304.1 239.8,306.4 244.7,311 249.6,309.4 254.5,308.1 259.5,300.8 264.4,276.7 269.3,285.2 274.2,302.2 279.1,300.7 284,285.3 288.9,300.5 293.9,304.5 298.8,309.3 303.7,314.4 308.6,296.9 313.5,311.2 318.4,303.6 323.4,299.8 328.3,299.5 333.2,287.4 338.1,296 343,290.6 347.9,308.7 352.8,283.1 357.8,293.1 362.7,298.6 367.6,296.5 372.5,305.8 377.4,300.3 382.3,295.5 387.2,313 392.2,290.9 397.1,307.4 402,309.8 406.9,292.9 411.8,302.5 416.7,308.4 421.7,295.7 426.6,293.4 431.5,296.2 436.4,315.8 441.3,325.8 446.2,288.7 451.1,294 456.1,302.4 461,281.1 465.9,300.9 470.8,289.2 475.7,285.7 480.6,295.8 485.6,310.6 490.5,287.8 495.4,297.4 500.3,297 505.2,302.4 510.1,283.7 515,302.4 520,300.9 524.9,279 529.8,290 534.7,291 539.6,293.2 544.5,297.4 549.4,299.7 554.4,310 559.3,299.8 564.2,314.1 569.1,296.9 574,318.5 578.9,293.1 583.9,312.7 588.8,299.1 593.7,291.9 598.6,310.4 603.5,305.7 608.4,296.8 613.3,297 618.3,288.4 623.2,303.4 628.1,307.3" fill="none" stroke="#f070b0" stroke-width="3.5" stroke-linejoin="round" stroke-linecap="butt" stroke-opacity="0.85"/>
<line x1="332.9" y1="50.2" x2="332.9" y2="588.5" stroke="#95503b" stroke-width="3.7" />
<line x1="381" y1="50.2" x2="381" y2="588.5" stroke="#95503b" stroke-width="3.7" />
<line x1="814.1" y1="47.4" x2="814.1" y2="585.5" stroke="#111" stroke-width="3.7" />
<line x1="809.5" y1="584" x2="1342.9" y2="584" stroke="#111" stroke-width="3.8" />
<line x1="829.6" y1="585.8" x2="829.6" y2="589.5" stroke="#3c4244" stroke-width="3" />
<line x1="927.4" y1="585.8" x2="927.4" y2="589.5" stroke="#3c4244" stroke-width="3" />
<line x1="1025.1" y1="585.8" x2="1025.1" y2="589.5" stroke="#3c4244" stroke-width="3" />
<line x1="1122.8" y1="585.8" x2="1122.8" y2="589.5" stroke="#3c4244" stroke-width="3" />
<line x1="1220.6" y1="585.8" x2="1220.6" y2="589.5" stroke="#3c4244" stroke-width="3" />
<line x1="1318.3" y1="585.8" x2="1318.3" y2="589.5" stroke="#3c4244" stroke-width="3" />
<line x1="804.2" y1="103.3" x2="812.3" y2="103.3" stroke="#3c4244" stroke-width="3" />
<text x="798.5" y="110.9" font-size="40.5" text-anchor="end" font-weight="normal" fill="#111">4.8</text>
<line x1="804.2" y1="199" x2="812.3" y2="199" stroke="#3c4244" stroke-width="3" />
<text x="798.5" y="206.6" font-size="40.5" text-anchor="end" font-weight="normal" fill="#111">4.7</text>
<line x1="804.2" y1="294.7" x2="812.3" y2="294.7" stroke="#3c4244" stroke-width="3" />
<text x="798.5" y="302.3" font-size="40.5" text-anchor="end" font-weight="normal" fill="#111">4.6</text>
<line x1="804.2" y1="390.4" x2="812.3" y2="390.4" stroke="#3c4244" stroke-width="3" />
<text x="798.5" y="398" font-size="40.5" text-anchor="end" font-weight="normal" fill="#111">4.5</text>
<line x1="804.2" y1="486.1" x2="812.3" y2="486.1" stroke="#3c4244" stroke-width="3" />
<text x="798.5" y="493.7" font-size="40.5" text-anchor="end" font-weight="normal" fill="#111">4.4</text>
<line x1="804.2" y1="581.8" x2="812.3" y2="581.8" stroke="#3c4244" stroke-width="3" />
<text x="798.5" y="589.4" font-size="40.5" text-anchor="end" font-weight="normal" fill="#111">4.3</text>
<text x="735.6" y="35.8" font-size="50" text-anchor="start" font-weight="bold" fill="#111">b</text>
<polyline points="839.5,268.3 844.4,272.5 849.2,278.9 854.1,309.9 859,309.7 863.9,313.1 868.7,318.8 873.6,314.6 878.5,309.3 883.4,321.3 888.2,330.8 893.1,335.3 898,326.3 902.9,319.1 907.7,333.5 912.6,345.3 917.5,335.5 922.4,316.3 927.2,316.2 932.1,323.5 937,310.2 941.9,313.5 946.7,304.7 951.6,286.8 956.5,279.9 961.4,279.6 966.2,271.8 971.1,280 976,282.7 980.8,289.8 985.7,292.4 990.6,298.2 995.5,300.4 1000.3,304.7 1005.2,303.5 1010.1,302.7 1015,299.2 1019.8,283.1 1024.7,301.3 1029.6,286.4 1034.5,289.5 1039.3,304 1044.2,305.8 1049.1,304.6 1054,292.2 1058.8,304.6 1063.7,301.9 1068.6,300.5 1073.5,319.8 1078.3,332.8 1083.2,324.9 1088.1,316.2 1092.9,303.2 1097.8,296.9 1102.7,292.5 1107.6,291.3 1112.4,277.6 1117.3,288 1122.2,290 1127.1,285.8 1131.9,304.3 1136.8,289.1 1141.7,298.6 1146.6,299.4 1151.4,274.6 1156.3,284.9 1161.2,291.4 1166.1,273.7 1170.9,286.9 1175.8,292.3 1180.7,286.5 1185.6,281.7 1190.4,275.4 1195.3,271.9 1200.2,257.3 1205,246.9 1209.9,241.6 1214.8,251.2 1219.7,260.8 1224.5,283.9 1229.4,276.5 1234.3,298.1 1239.2,288 1244,267.2 1248.9,280.3 1253.8,288.8 1258.7,294.6 1263.5,285.2 1268.4,295.5 1273.3,297.1 1278.2,303.2 1283,306 1287.9,291 1292.8,302.3 1297.7,301.4 1302.5,298.2 1307.4,288.4 1312.3,303.2 1317.2,290.3 1322,285.6" fill="none" stroke="#e868a8" stroke-width="3.5" stroke-linejoin="round" stroke-linecap="butt" stroke-opacity="0.85"/>
<polyline points="839.5,278.3 844.4,278.1 849.2,297.6 854.1,305.1 859,295.5 863.9,295.2 868.7,295.9 873.6,275.4 878.5,250.9 883.4,252.8 888.2,246.8 893.1,271.9 898,262.8 902.9,266.9 907.7,261.2 912.6,256.5 917.5,258.8 922.4,252.2 927.2,251.8 932.1,270.9 937,269.2 941.9,268 946.7,247.9 951.6,262.4 956.5,263.3 961.4,269.3 966.2,271.7 971.1,253.5 976,250.5 980.8,257.3 985.7,256.8 990.6,249.3 995.5,262.2 1000.3,266.4 1005.2,249.7 1010.1,241.3 1015,243.6 1019.8,250.7 1024.7,254 1029.6,273.2 1034.5,263.1 1039.3,260.3 1044.2,259.9 1049.1,276 1054,284.9 1058.8,279.4 1063.7,277.1 1068.6,283.4 1073.5,278.1 1078.3,268 1083.2,276.7 1088.1,283.4 1092.9,293.9 1097.8,307.4 1102.7,298 1107.6,292.2 1112.4,288.5 1117.3,302.3 1122.2,314.2 1127.1,314.5 1131.9,318.8 1136.8,316.9 1141.7,324.4 1146.6,316.1 1151.4,295 1156.3,277.3 1161.2,259.5 1166.1,259.9 1170.9,250.5 1175.8,256.3 1180.7,247 1185.6,252.9 1190.4,260 1195.3,268.5 1200.2,261.4 1205,259.4 1209.9,258.5 1214.8,272.8 1219.7,272 1224.5,289.3 1229.4,272.7 1234.3,275 1239.2,273.5 1244,275.5 1248.9,294.4 1253.8,310.3 1258.7,310.3 1263.5,292.8 1268.4,305.9 1273.3,313.8 1278.2,313.9 1283,332.8 1287.9,351.3 1292.8,351.9 1297.7,344.8 1302.5,345.3 1307.4,339.8 1312.3,320.2 1317.2,300 1322,318.3" fill="none" stroke="#d48cc4" stroke-width="3.5" stroke-linejoin="round" stroke-linecap="butt" stroke-opacity="0.85"/>
<polyline points="839.5,292.7 844.4,279.5 849.2,296 854.1,306.7 859,321.4 863.9,336.4 868.7,348.3 873.6,344.8 878.5,328.8 883.4,310.4 888.2,310 893.1,332.3 898,331.9 902.9,334.9 907.7,329.7 912.6,330.3 917.5,350 922.4,343.8 927.2,348.8 932.1,343.8 937,338.4 941.9,319.2 946.7,345.7 951.6,340.4 956.5,331.3 961.4,334.1 966.2,325.7 971.1,337.6 976,328.9 980.8,321.8 985.7,332.4 990.6,339.1 995.5,340.1 1000.3,346.4 1005.2,333 1010.1,330 1015,314 1019.8,300.1 1024.7,299.3 1029.6,301.6 1034.5,312.4 1039.3,321.2 1044.2,329.8 1049.1,324.9 1054,334.3 1058.8,332.3 1063.7,329.1 1068.6,333.9 1073.5,335 1078.3,317.4 1083.2,298.3 1088.1,307.3 1092.9,309.3 1097.8,313.3 1102.7,316.1 1107.6,297.9 1112.4,290.1 1117.3,275.9 1122.2,256.2 1127.1,262.6 1131.9,265.8 1136.8,266.4 1141.7,255.6 1146.6,257.9 1151.4,251.8 1156.3,239.8 1161.2,239.4 1166.1,250.3 1170.9,269.6 1175.8,257.6 1180.7,253.6 1185.6,265.8 1190.4,272.6 1195.3,278.5 1200.2,298.4 1205,295.6 1209.9,304.7 1214.8,307.9 1219.7,299.2 1224.5,300.3 1229.4,294 1234.3,289.3 1239.2,289.3 1244,289 1248.9,268 1253.8,270.9 1258.7,253 1263.5,264.9 1268.4,257.6 1273.3,256.9 1278.2,266.5 1283,297.9 1287.9,279.7 1292.8,293.5 1297.7,304.8 1302.5,303.1 1307.4,302.3 1312.3,299.1 1317.2,302 1322,319.1" fill="none" stroke="#f070b0" stroke-width="3.5" stroke-linejoin="round" stroke-linecap="butt" stroke-opacity="0.85"/>
<polyline points="839.5,278.4 844.4,289.4 849.2,287.1 854.1,280.9 859,267.9 863.9,271.4 868.7,275.7 873.6,279.1 878.5,300.9 883.4,309.6 888.2,320.8 893.1,333.4 898,330.4 902.9,333.1 907.7,313.7 912.6,296.2 917.5,317.9 922.4,316 927.2,327 932.1,319.7 937,317.3 941.9,306.1 946.7,302.3 951.6,293.5 956.5,297.1 961.4,326 966.2,338.8 971.1,347.4 976,351.6 980.8,344.3 985.7,344.9 990.6,328.6 995.5,331.7 1000.3,311.7 1005.2,325.1 1010.1,317.5 1015,332.2 1019.8,326.1 1024.7,307.1 1029.6,325.6 1034.5,334.9 1039.3,331 1044.2,332.2 1049.1,346.9 1054,332.2 1058.8,330.6 1063.7,314.8 1068.6,310.7 1073.5,323.6 1078.3,328.4 1083.2,311.7 1088.1,327.2 1092.9,331.8 1097.8,323.9 1102.7,311.5 1107.6,301.6 1112.4,318.5 1117.3,294 1122.2,296 1127.1,296 1131.9,296.1 1136.8,298.9 1141.7,310 1146.6,313.5 1151.4,297.9 1156.3,313.6 1161.2,341.1 1166.1,333.7 1170.9,328.8 1175.8,319.5 1180.7,299.1 1185.6,307.4 1190.4,305.2 1195.3,299.2 1200.2,285.1 1205,273.7 1209.9,284.2 1214.8,300.5 1219.7,303.6 1224.5,322 1229.4,308.6 1234.3,312.8 1239.2,316.5 1244,326.2 1248.9,307.9 1253.8,304.4 1258.7,308.9 1263.5,301.6 1268.4,302.6 1273.3,295.6 1278.2,280.6 1283,284.2 1287.9,278.8 1292.8,273.9 1297.7,261.7 1302.5,256 1307.4,256.9 1312.3,265.6 1317.2,263.2 1322,276.3" fill="none" stroke="#b89cd8" stroke-width="3.5" stroke-linejoin="round" stroke-linecap="butt" stroke-opacity="0.85"/>
<polyline points="839.5,280.8 844.4,280.7 849.2,275 854.1,281.7 859,291.4 863.9,302.1 868.7,289.4 873.6,292.2 878.5,295 883.4,315.7 888.2,315.9 893.1,345.6 898,347 902.9,345.3 907.7,346.9 912.6,338.5 917.5,339.7 922.4,333.6 927.2,318 932.1,309.8 937,331.3 941.9,341.7 946.7,347.8 951.6,342.3 956.5,349.6 961.4,349.6 966.2,351.9 971.1,334 976,345.5 980.8,341.2 985.7,343.1 990.6,348.4 995.5,334.5 1000.3,318.4 1005.2,322.4 1010.1,321.9 1015,318.6 1019.8,317.4 1024.7,305.2 1029.6,310.7 1034.5,306.1 1039.3,331.3 1044.2,321.7 1049.1,302.2 1054,302.5 1058.8,290.5 1063.7,309.9 1068.6,313.4 1073.5,330.7 1078.3,326.2 1083.2,319.4 1088.1,334.5 1092.9,343.2 1097.8,348.7 1102.7,319.4 1107.6,319.7 1112.4,317.7 1117.3,313 1122.2,309.2 1127.1,311.7 1131.9,326.6 1136.8,333.6 1141.7,313.9 1146.6,310.5 1151.4,314.5 1156.3,329.6 1161.2,329.3 1166.1,328.1 1170.9,334.7 1175.8,323.5 1180.7,329.5 1185.6,330.6 1190.4,320 1195.3,316.8 1200.2,303.4 1205,305.9 1209.9,310.7 1214.8,305 1219.7,302.4 1224.5,288.7 1229.4,284.4 1234.3,285.1 1239.2,280.4 1244,273.5 1248.9,287.1 1253.8,289.1 1258.7,293.3 1263.5,279.7 1268.4,285.9 1273.3,274.1 1278.2,289.3 1283,290.3 1287.9,278.3 1292.8,281.9 1297.7,269.2 1302.5,293.4 1307.4,293.3 1312.3,291.6 1317.2,293.3 1322,310.8" fill="none" stroke="#ea62a6" stroke-width="3.5" stroke-linejoin="round" stroke-linecap="butt" stroke-opacity="0.85"/>
<polyline points="839.5,280.7 844.4,308 849.2,296.9 854.1,293.6 859,282.4 863.9,285.9 868.7,299 873.6,305 878.5,310.1 883.4,302.9 888.2,306.4 893.1,301.4 898,295.8 902.9,279.6 907.7,303 912.6,307.5 917.5,299.3 922.4,291.3 927.2,297.9 932.1,300.9 937,301.8 941.9,300.1 946.7,306.4 951.6,313.4 956.5,325.7 961.4,329.1 966.2,312.1 971.1,322.4 976,310.5 980.8,287.7 985.7,285.5 990.6,258.6 995.5,261.1 1000.3,242.9 1005.2,244.8 1010.1,260 1015,256.8 1019.8,239.9 1024.7,241.9 1029.6,253.3 1034.5,249 1039.3,252.2 1044.2,246.7 1049.1,242.7 1054,251.8 1058.8,252.2 1063.7,238.6 1068.6,245.4 1073.5,241.4 1078.3,239.8 1083.2,244.4 1088.1,244.9 1092.9,248 1097.8,263.1 1102.7,282.5 1107.6,280.4 1112.4,274 1117.3,299.5 1122.2,305.7 1127.1,293.6 1131.9,298.9 1136.8,292.4 1141.7,289.6 1146.6,281.5 1151.4,276 1156.3,272.7 1161.2,258.2 1166.1,264.8 1170.9,263.3 1175.8,250.4 1180.7,257.2 1185.6,261.6 1190.4,270.2 1195.3,280.7 1200.2,256.9 1205,251.6 1209.9,241.3 1214.8,240.9 1219.7,244.7 1224.5,242.1 1229.4,243.1 1234.3,240.9 1239.2,239.5 1244,237.9 1248.9,241.2 1253.8,240.5 1258.7,242.2 1263.5,242.9 1268.4,249.8 1273.3,243.7 1278.2,245.5 1283,264 1287.9,267.5 1292.8,260.3 1297.7,257.1 1302.5,267.5 1307.4,259 1312.3,252.2 1317.2,245.7 1322,238.5" fill="none" stroke="#e070b4" stroke-width="3.5" stroke-linejoin="round" stroke-linecap="butt" stroke-opacity="0.85"/>
<polyline points="839.5,280.5 844.4,283.2 849.2,271.5 854.1,258.2 859,253 863.9,245.1 868.7,255.2 873.6,248.7 878.5,263.1 883.4,238.8 888.2,244.3 893.1,276 898,261.2 902.9,271.7 907.7,265.9 912.6,281.4 917.5,280.8 922.4,288.4 927.2,281.6 932.1,285.7 937,268.7 941.9,278.1 946.7,263.8 951.6,264.9 956.5,259.7 961.4,279 966.2,299.5 971.1,287.3 976,301.6 980.8,305.3 985.7,308.6 990.6,318.6 995.5,315.5 1000.3,331.1 1005.2,343.7 1010.1,331.7 1015,339.9 1019.8,330 1024.7,321.4 1029.6,303.3 1034.5,297.9 1039.3,318.9 1044.2,325.7 1049.1,329.6 1054,314.6 1058.8,310.1 1063.7,315.4 1068.6,309.9 1073.5,313.6 1078.3,306.9 1083.2,304.9 1088.1,292 1092.9,288.4 1097.8,277.3 1102.7,278.1 1107.6,270.5 1112.4,273.1 1117.3,266.5 1122.2,265 1127.1,267.4 1131.9,273.2 1136.8,277.1 1141.7,272.4 1146.6,299.5 1151.4,285.2 1156.3,312.9 1161.2,314.6 1166.1,318 1170.9,308.9 1175.8,305.9 1180.7,306.2 1185.6,305.1 1190.4,294 1195.3,267.3 1200.2,263.9 1205,288.7 1209.9,293.8 1214.8,289.2 1219.7,251.4 1224.5,261.6 1229.4,267 1234.3,261.6 1239.2,259 1244,275.4 1248.9,265.3 1253.8,281.4 1258.7,285 1263.5,270.2 1268.4,286.3 1273.3,290.6 1278.2,271.7 1283,275.5 1287.9,288.3 1292.8,295.3 1297.7,285.8 1302.5,304.3 1307.4,311.4 1312.3,327.8 1317.2,340.2 1322,324.2" fill="none" stroke="#c8a0d8" stroke-width="3.5" stroke-linejoin="round" stroke-linecap="butt" stroke-opacity="0.85"/>
<polyline points="839.5,283.8 844.4,269.9 849.2,272.8 854.1,263.3 859,256.2 863.9,261.5 868.7,254.7 873.6,270.1 878.5,272.5 883.4,272.7 888.2,266.6 893.1,263.8 898,259.7 902.9,253.7 907.7,241.3 912.6,241 917.5,245.7 922.4,235.7 927.2,227.1 932.1,217.9 937,189.9 941.9,187.5 946.7,192.4 951.6,193.3 956.5,191.1 961.4,186.4 966.2,192.5 971.1,199.3 976,199 980.8,198.4 985.7,190.9 990.6,189.5 995.5,191.5 1000.3,192.8 1005.2,196.1 1010.1,200.3 1015,215.3 1019.8,206 1024.7,200.5 1029.6,197.1 1034.5,201.3 1039.3,200.5 1044.2,199.1 1049.1,200.6 1054,204.2 1058.8,216.5 1063.7,227.3 1068.6,231 1073.5,224.7 1078.3,219.8 1083.2,228.3 1088.1,243.6 1092.9,253.8 1097.8,258.4 1102.7,256.7 1107.6,252.8 1112.4,247 1117.3,241.9 1122.2,246.5 1127.1,268.8 1131.9,287.5 1136.8,285.9 1141.7,281.2 1146.6,279.7 1151.4,276.7 1156.3,273.9 1161.2,281.8 1166.1,288.3 1170.9,286.9 1175.8,285.7 1180.7,287.4 1185.6,289.4 1190.4,294.3 1195.3,298.7 1200.2,291.1 1205,286.3 1209.9,280 1214.8,283.6 1219.7,289.5 1224.5,283.6 1229.4,276.2 1234.3,274.6 1239.2,276.5 1244,281.8 1248.9,291.2 1253.8,293.1 1258.7,288.6 1263.5,290.7 1268.4,298.7 1273.3,299.5 1278.2,294.2 1283,290 1287.9,285.1 1292.8,282.6 1297.7,288.5 1302.5,290.3 1307.4,283.1 1312.3,278.3 1317.2,273.6 1322,271.3" fill="none" stroke="#c4a8dc" stroke-width="3.5" stroke-linejoin="round" stroke-linecap="butt" stroke-opacity="0.85"/>
<polyline points="839.5,282.5 844.4,263.7 849.2,262.8 854.1,262.3 859,261.2 863.9,256.3 868.7,249 873.6,240.7 878.5,238.6 883.4,245.6 888.2,245.5 893.1,239.9 898,232.2 902.9,224.1 907.7,224.7 912.6,219.5 917.5,227.4 922.4,228.6 927.2,230.7 932.1,231.7 937,233.2 941.9,229.5 946.7,212.8 951.6,197.2 956.5,194.2 961.4,193.3 966.2,199.3 971.1,207.5 976,205.3 980.8,210.3 985.7,201.6 990.6,190.9 995.5,186.5 1000.3,186.6 1005.2,183.7 1010.1,191 1015,197.3 1019.8,197.9 1024.7,194.3 1029.6,197.5 1034.5,205.2 1039.3,203.9 1044.2,218.8 1049.1,233 1054,245.3 1058.8,257.8 1063.7,267.2 1068.6,275.7 1073.5,281.3 1078.3,284.4 1083.2,289.4 1088.1,294.4 1092.9,298.7 1097.8,300.2 1102.7,296.4 1107.6,289.4 1112.4,291.5 1117.3,293.8 1122.2,295.6 1127.1,297.7 1131.9,293.2 1136.8,292.1 1141.7,289.7 1146.6,298.8 1151.4,302.4 1156.3,305.6 1161.2,306.4 1166.1,305.1 1170.9,307.1 1175.8,304.3 1180.7,302 1185.6,296.1 1190.4,302.1 1195.3,309.5 1200.2,312.5 1205,312.1 1209.9,312.6 1214.8,309.2 1219.7,307.9 1224.5,320.2 1229.4,330.9 1234.3,336.9 1239.2,337.7 1244,338.5 1248.9,337.1 1253.8,334.8 1258.7,348.2 1263.5,359.7 1268.4,366.2 1273.3,362.1 1278.2,360.1 1283,355.4 1287.9,348.2 1292.8,340.3 1297.7,330.1 1302.5,324.7 1307.4,329.3 1312.3,332.1 1317.2,337 1322,340.3" fill="none" stroke="#d090c8" stroke-width="3.5" stroke-linejoin="round" stroke-linecap="butt" stroke-opacity="0.85"/>
<polyline points="839.5,284.4 844.4,271.7 849.2,262.5 854.1,259.5 859,260.3 863.9,266.7 868.7,274.3 873.6,276.8 878.5,279.2 883.4,277.9 888.2,276.1 893.1,278.7 898,279.7 902.9,283.4 907.7,284.7 912.6,284.4 917.5,282.8 922.4,278.4 927.2,273.8 932.1,266.1 937,258.8 941.9,249.6 946.7,242.7 951.6,243.8 956.5,241.9 961.4,241 966.2,241.5 971.1,247.6 976,239.4 980.8,241.9 985.7,239.4 990.6,236.5 995.5,248.1 1000.3,244.3 1005.2,242.4 1010.1,240.3 1015,239.5 1019.8,247.5 1024.7,251.1 1029.6,255.7 1034.5,254.4 1039.3,253.8 1044.2,246 1049.1,255.8 1054,264.3 1058.8,267.1 1063.7,273.6 1068.6,279.8 1073.5,286.5 1078.3,286.6 1083.2,283.8 1088.1,283.6 1092.9,290.3 1097.8,298.5 1102.7,299.4 1107.6,296 1112.4,297 1117.3,291.4 1122.2,297.2 1127.1,303.2 1131.9,309.3 1136.8,312.4 1141.7,313.6 1146.6,314 1151.4,311.1 1156.3,306.8 1161.2,301.4 1166.1,296.7 1170.9,291.4 1175.8,292.3 1180.7,294.2 1185.6,301 1190.4,305.5 1195.3,299 1200.2,294.5 1205,286.5 1209.9,278.8 1214.8,268.1 1219.7,263.4 1224.5,260.5 1229.4,256.7 1234.3,255.7 1239.2,253.9 1244,248.9 1248.9,251.2 1253.8,259.2 1258.7,268.4 1263.5,281 1268.4,282.1 1273.3,281.3 1278.2,279.1 1283,276.9 1287.9,271.2 1292.8,266.9 1297.7,272.9 1302.5,263.7 1307.4,259.7 1312.3,258.7 1317.2,254.4 1322,253.7" fill="none" stroke="#ec6cac" stroke-width="3.5" stroke-linejoin="round" stroke-linecap="butt" stroke-opacity="0.85"/>
<polyline points="839.5,287.5 844.4,289.2 849.2,292 854.1,298.6 859,298.6 863.9,300.4 868.7,306.1 873.6,306.1 878.5,304.3 883.4,312.4 888.2,313.8 893.1,312.2 898,317.2 902.9,324.4 907.7,328.7 912.6,333 917.5,337.5 922.4,341.5 927.2,341.7 932.1,342.5 937,343.9 941.9,352.1 946.7,366.5 951.6,380.7 956.5,381.8 961.4,367.2 966.2,364 971.1,372.4 976,384 980.8,373.3 985.7,373.1 990.6,375.2 995.5,381.9 1000.3,393.2 1005.2,401.7 1010.1,405.5 1015,409.4 1019.8,403.4 1024.7,396.2 1029.6,389.4 1034.5,382 1039.3,378.7 1044.2,372.6 1049.1,366 1054,360.4 1058.8,355 1063.7,350.5 1068.6,344.3 1073.5,339.3 1078.3,334.7 1083.2,330.9 1088.1,331.6 1092.9,329.8 1097.8,324.6 1102.7,321.5 1107.6,322.9 1112.4,323.8 1117.3,324.3 1122.2,328.8 1127.1,328.5 1131.9,328.9 1136.8,333.6 1141.7,346.1 1146.6,360.4 1151.4,366.2 1156.3,367.9 1161.2,369.1 1166.1,368.1 1170.9,363.9 1175.8,379.4 1180.7,381.3 1185.6,385.3 1190.4,383.1 1195.3,377.6 1200.2,375.5 1205,377.3 1209.9,375.9 1214.8,373.5 1219.7,375.3 1224.5,369.3 1229.4,355.3 1234.3,341.4 1239.2,332.6 1244,324.2 1248.9,324.1 1253.8,326.5 1258.7,326.7 1263.5,323.3 1268.4,323.9 1273.3,330.1 1278.2,333.3 1283,337.1 1287.9,337.3 1292.8,332.6 1297.7,327.6 1302.5,322.2 1307.4,317 1312.3,311.1 1317.2,306.5 1322,311.9" fill="none" stroke="#74c8b0" stroke-width="3.5" stroke-linejoin="round" stroke-linecap="butt" stroke-opacity="0.85"/>
<polyline points="839.5,291.4 844.4,288.6 849.2,280.1 854.1,279.8 859,280.6 863.9,278.4 868.7,283.1 873.6,291.3 878.5,290.9 883.4,292.5 888.2,292.5 893.1,287 898,286.2 902.9,282.8 907.7,284.3 912.6,282.4 917.5,289.9 922.4,289.9 927.2,295.1 932.1,287.9 937,290.5 941.9,295.4 946.7,299.1 951.6,294.3 956.5,291.7 961.4,290 966.2,286.2 971.1,282.8 976,283.2 980.8,275.1 985.7,253.9 990.6,254.8 995.5,247.9 1000.3,242.4 1005.2,241.6 1010.1,244.1 1015,242.7 1019.8,236.5 1024.7,226.5 1029.6,231.1 1034.5,238.3 1039.3,246.5 1044.2,254.9 1049.1,264 1054,275.8 1058.8,284.9 1063.7,293.1 1068.6,296.3 1073.5,300.5 1078.3,297.7 1083.2,295.6 1088.1,293 1092.9,292.5 1097.8,294.7 1102.7,298.9 1107.6,302.4 1112.4,302.5 1117.3,307.2 1122.2,305.4 1127.1,303.5 1131.9,299 1136.8,290.7 1141.7,280.2 1146.6,276.9 1151.4,275.5 1156.3,274.1 1161.2,277.2 1166.1,279.8 1170.9,289.6 1175.8,298 1180.7,304.6 1185.6,304.9 1190.4,309.3 1195.3,312.6 1200.2,315.1 1205,316 1209.9,313.6 1214.8,318.9 1219.7,322.2 1224.5,334.5 1229.4,348.5 1234.3,358.5 1239.2,371.2 1244,385 1248.9,400.4 1253.8,415.6 1258.7,436.1 1263.5,459.1 1268.4,469.3 1273.3,477 1278.2,485.2 1283,493.2 1287.9,466.6 1292.8,445.8 1297.7,423.3 1302.5,413.3 1307.4,396.5 1312.3,372.6 1317.2,347.5" fill="none" stroke="#70c8c0" stroke-width="3.5" stroke-linejoin="round" stroke-linecap="butt" stroke-opacity="0.85"/>
<polyline points="839.5,285.3 844.4,282.3 849.2,278.9 854.1,273.9 859,272.7 863.9,259.9 868.7,243.4 873.6,261.8 878.5,266.7 883.4,267.2 888.2,263.9 893.1,266 898,269.4 902.9,276.9 907.7,273.4 912.6,270.1 917.5,261.3 922.4,265 927.2,260 932.1,254.6 937,255.8 941.9,269.8 946.7,279.4 951.6,288.1 956.5,296.9 961.4,292.9 966.2,288.4 971.1,291.9 976,295.2 980.8,300.6 985.7,303.8 990.6,302.6 995.5,301 1000.3,300.6 1005.2,297.8 1010.1,297.5 1015,295.5 1019.8,294.1 1024.7,264.7 1029.6,237.3 1034.5,212.8 1039.3,189.5 1044.2,174 1049.1,166.9 1054,148.8 1058.8,129.5 1063.7,119.8 1068.6,107.2 1073.5,101.1 1078.3,100.7 1083.2,90.1 1088.1,88.3 1092.9,84.1 1097.8,79 1102.7,93.9 1107.6,108.5 1112.4,108.6 1117.3,105.6 1122.2,117.1 1127.1,126.5 1131.9,123.5 1136.8,112.6 1141.7,100.5 1146.6,109.4 1151.4,108.7 1156.3,118.9 1161.2,113.2 1166.1,117.8 1170.9,120.7 1175.8,121.8 1180.7,114.8 1185.6,105.5 1190.4,104.4 1195.3,108.2 1200.2,118.9 1205,109.4 1209.9,96.3 1214.8,101.4 1219.7,111.9 1224.5,111.5 1229.4,117.1 1234.3,122.6 1239.2,124.6 1244,126.5 1248.9,137.5 1253.8,164 1258.7,173.2 1263.5,178 1268.4,175.6 1273.3,168.2 1278.2,167.4 1283,171.7 1287.9,168.7 1292.8,164.3 1297.7,155.7 1302.5,153.4 1307.4,146.2 1312.3,147.7 1317.2,159.8" fill="none" stroke="#62c4e0" stroke-width="3.5" stroke-linejoin="round" stroke-linecap="butt" stroke-opacity="0.85"/>
<polyline points="839.5,286.8 844.4,283.5 849.2,290.4 854.1,292.3 859,293.9 863.9,289.4 868.7,283.4 873.6,278.5 878.5,273.8 883.4,276.1 888.2,275.4 893.1,274.6 898,269.2 902.9,266.8 907.7,268 912.6,269.5 917.5,272.5 922.4,266.5 927.2,251.9 932.1,245 937,245.4 941.9,256.6 946.7,270.6 951.6,277.7 956.5,279.3 961.4,278.7 966.2,276 971.1,277.8 976,279.3 980.8,280 985.7,279.4 990.6,272.8 995.5,261.3 1000.3,263.9 1005.2,272.5 1010.1,275.8 1015,276.2 1019.8,275.7 1024.7,270.5 1029.6,264.7 1034.5,259 1039.3,247 1044.2,224.4 1049.1,199.7 1054,180.2 1058.8,156 1063.7,133.9 1068.6,109.5 1073.5,106 1078.3,107.8 1083.2,110.4 1088.1,118.4 1092.9,115.7 1097.8,131.8 1102.7,134.3 1107.6,133.6 1112.4,133.8 1117.3,134.1 1122.2,127.2 1127.1,122 1131.9,118 1136.8,127 1141.7,124.6 1146.6,128 1151.4,133.7 1156.3,138.3 1161.2,132.8 1166.1,128.6 1170.9,129.9 1175.8,130.2 1180.7,132.5 1185.6,144.7 1190.4,145.5 1195.3,141.6 1200.2,141.3 1205,134.2 1209.9,124.9 1214.8,118.1 1219.7,108.6 1224.5,106.8 1229.4,103.8 1234.3,99.4 1239.2,97.3 1244,93.1 1248.9,90.1 1253.8,91.4 1258.7,87.9 1263.5,85.2 1268.4,85.5 1273.3,83.4 1278.2,80.2 1283,74.5 1287.9,74.3 1292.8,77.9 1297.7,81 1302.5,79.3 1307.4,83.2 1312.3,82 1317.2,84" fill="none" stroke="#5cb848" stroke-width="3.5" stroke-linejoin="round" stroke-linecap="butt" stroke-opacity="0.85"/>
<polyline points="839.5,292.8 844.4,290.7 849.2,290.2 854.1,290.1 859,298.2 863.9,301.4 868.7,304 873.6,308.6 878.5,309.6 883.4,312.2 888.2,309.7 893.1,311.9 898,313.4 902.9,315.4 907.7,310.6 912.6,308 917.5,305.4 922.4,302.6 927.2,300.5 932.1,300.6 937,302.3 941.9,304 946.7,306.3 951.6,311.6 956.5,306.7 961.4,301.7 966.2,304 971.1,306.1 976,302.7 980.8,299.1 985.7,291.3 990.6,284.4 995.5,281.6 1000.3,279.4 1005.2,273.6 1010.1,264.9 1015,271.2 1019.8,267.9 1024.7,270.1 1029.6,265.8 1034.5,261.7 1039.3,256.4 1044.2,249.6 1049.1,243.3 1054,223.4 1058.8,199.2 1063.7,187.8 1068.6,182.1 1073.5,171.8 1078.3,177.1 1083.2,177.7 1088.1,170.7 1092.9,161.2 1097.8,161.7 1102.7,166.4 1107.6,172.7 1112.4,170.2 1117.3,176.1 1122.2,183.4 1127.1,184 1131.9,190 1136.8,197.2 1141.7,202.2 1146.6,197.3 1151.4,189.2 1156.3,177.8 1161.2,161.7 1166.1,157.9 1170.9,158.8 1175.8,158 1180.7,164.7 1185.6,160.2 1190.4,165.3 1195.3,171.8 1200.2,172.2 1205,167.6 1209.9,155.4 1214.8,142.2 1219.7,141.2 1224.5,145.7 1229.4,147.2 1234.3,150.2 1239.2,151 1244,152.6 1248.9,149.1 1253.8,147.3 1258.7,147.4 1263.5,151.1 1268.4,157.2 1273.3,156.1 1278.2,154.6 1283,148.6 1287.9,147.3 1292.8,152.8 1297.7,149.2 1302.5,148.4 1307.4,148.4 1312.3,146.7 1317.2,139.1" fill="none" stroke="#f49890" stroke-width="3.5" stroke-linejoin="round" stroke-linecap="butt" stroke-opacity="0.85"/>
<polyline points="839.5,291.7 844.4,295.3 849.2,294.1 854.1,294.5 859,295.1 863.9,297.3 868.7,299.8 873.6,298.1 878.5,303.5 883.4,303.5 888.2,304.9 893.1,309.3 898,314.1 902.9,319.5 907.7,320.4 912.6,319.9 917.5,317.3 922.4,318 927.2,316.2 932.1,313.7 937,308.7 941.9,310.1 946.7,300.2 951.6,289.2 956.5,277.1 961.4,278.4 966.2,280.4 971.1,284.6 976,288.9 980.8,291.4 985.7,294.7 990.6,296.6 995.5,299.9 1000.3,299.5 1005.2,300.8 1010.1,298.9 1015,296.8 1019.8,303.6 1024.7,293.2 1029.6,286 1034.5,280.3 1039.3,271.6 1044.2,262.8 1049.1,253.3 1054,238.8 1058.8,225.8 1063.7,210.5 1068.6,186.4 1073.5,160.9 1078.3,167.1 1083.2,177 1088.1,171.6 1092.9,175.1 1097.8,179.1 1102.7,183.1 1107.6,187.3 1112.4,191.6 1117.3,197.3 1122.2,199.6 1127.1,200 1131.9,208 1136.8,214 1141.7,213.3 1146.6,205.9 1151.4,196.3 1156.3,185.6 1161.2,180.3 1166.1,178.5 1170.9,187.4 1175.8,190.5 1180.7,189.7 1185.6,194 1190.4,197.4 1195.3,199.4 1200.2,198.3 1205,196.7 1209.9,199.6 1214.8,205.1 1219.7,204.7 1224.5,201.8 1229.4,200.3 1234.3,198.7 1239.2,190.2 1244,178.8 1248.9,175.2 1253.8,175.4 1258.7,172.3 1263.5,168.1 1268.4,163.2 1273.3,159.7 1278.2,165.8 1283,155.4 1287.9,149.7 1292.8,143.7 1297.7,132.2 1302.5,127.2 1307.4,126.3 1312.3,124.2 1317.2,118.1" fill="none" stroke="#7aa8dc" stroke-width="3.5" stroke-linejoin="round" stroke-linecap="butt" stroke-opacity="0.85"/>
<polyline points="839.5,293.8 844.4,312.9 849.2,315 854.1,314.9 859,308.1 863.9,304.7 868.7,303.6 873.6,307.8 878.5,312.5 883.4,321.7 888.2,327.1 893.1,323.2 898,323.8 902.9,335.3 907.7,361.9 912.6,368.2 917.5,371.6 922.4,368.2 927.2,366.3 932.1,355.1 937,354.8 941.9,347.2 946.7,326.9 951.6,323.5 956.5,323.3 961.4,323 966.2,318.1 971.1,317.4 976,319.8 980.8,326.3 985.7,327.9 990.6,327.1 995.5,325.7 1000.3,322.8 1005.2,315.3 1010.1,309.9 1015,305.3 1019.8,299.7 1024.7,283.4 1029.6,274.5 1034.5,267.1 1039.3,255.3 1044.2,242.6 1049.1,227.5 1054,211.6 1058.8,195.8 1063.7,191.9 1068.6,189.5 1073.5,189.5 1078.3,193.2 1083.2,198.7 1088.1,204.4 1092.9,203.8 1097.8,200.9 1102.7,197.3 1107.6,202.7 1112.4,208.4 1117.3,210.9 1122.2,203 1127.1,202.4 1131.9,208.1 1136.8,215.6 1141.7,221.7 1146.6,225.4 1151.4,224.9 1156.3,219.4 1161.2,211.5 1166.1,206.4 1170.9,193.1 1175.8,190.7 1180.7,188.6 1185.6,193.2 1190.4,200.7 1195.3,208 1200.2,204.4 1205,200.5 1209.9,197.8 1214.8,198.1 1219.7,202 1224.5,204.5 1229.4,207 1234.3,208.7 1239.2,223 1244,239.3 1248.9,245 1253.8,249.4 1258.7,260.6 1263.5,269.6 1268.4,276.9 1273.3,280.9 1278.2,283.9 1283,286.1 1287.9,285.7 1292.8,279.4 1297.7,270.9 1302.5,259.8 1307.4,255.8 1312.3,253.2 1317.2,253.3 1322,253.3" fill="none" stroke="#5cb4e0" stroke-width="3.5" stroke-linejoin="round" stroke-linecap="butt" stroke-opacity="0.85"/>
<polyline points="839.5,289.2 844.4,291.6 849.2,293.8 854.1,289.7 859,296.4 863.9,298.1 868.7,298.5 873.6,294.3 878.5,302 883.4,302.4 888.2,289.1 893.1,276.4 898,264.8 902.9,245.2 907.7,243.8 912.6,242.6 917.5,238 922.4,235.1 927.2,248.1 932.1,261.2 937,262.2 941.9,248.7 946.7,243.8 951.6,246 956.5,255.5 961.4,268.8 966.2,274.2 971.1,280.9 976,296.5 980.8,303.5 985.7,307.4 990.6,310.3 995.5,291 1000.3,271.8 1005.2,301.3 1010.1,277.9 1015,275.5 1019.8,275.8 1024.7,275.6 1029.6,272 1034.5,271.4 1039.3,272 1044.2,272.2 1049.1,269.7 1054,270.9 1058.8,272.7 1063.7,272.7 1068.6,271.2 1073.5,270.6 1078.3,269.2 1083.2,269.8 1088.1,270 1092.9,279.8 1097.8,268.8 1102.7,259.2 1107.6,253.9 1112.4,249.7 1117.3,252.6 1122.2,259.6 1127.1,267.5 1131.9,275.6 1136.8,274.4 1141.7,270.2 1146.6,264.9 1151.4,256.3 1156.3,260.3 1161.2,264.4 1166.1,268.5 1170.9,261.9 1175.8,264.9 1180.7,268.6 1185.6,264.3 1190.4,272.2 1195.3,281.5 1200.2,266.4 1205,257.6 1209.9,238.2 1214.8,248.4 1219.7,250 1224.5,237.8 1229.4,230.5 1234.3,229.1 1239.2,225.9 1244,220.8 1248.9,222.6 1253.8,223.8 1258.7,224.1 1263.5,226.4 1268.4,220.5 1273.3,213.2 1278.2,217.5 1283,216.8 1287.9,217.1 1292.8,210.5 1297.7,195.9 1302.5,194 1307.4,191.5 1312.3,186.7 1317.2,186.9" fill="none" stroke="#a0c832" stroke-width="3.5" stroke-linejoin="round" stroke-linecap="butt" stroke-opacity="0.85"/>
<polyline points="839.5,285.5 844.4,285.6 849.2,283.2 854.1,278.8 859,276.1 863.9,275.5 868.7,267.7 873.6,258.9 878.5,253.9 883.4,254.9 888.2,267.8 893.1,277.2 898,283.3 902.9,286.5 907.7,292.4 912.6,297.1 917.5,302 922.4,305.5 927.2,311 932.1,313 937,314.4 941.9,317.7 946.7,322.6 951.6,330.2 956.5,336.8 961.4,332.8 966.2,328.7 971.1,319.9 976,309.6 980.8,317.7 985.7,321.3 990.6,328.7 995.5,338 1000.3,342 1005.2,333.9 1010.1,327.7 1015,321 1019.8,313.2 1024.7,313.9 1029.6,312.4 1034.5,312.5 1039.3,313.4 1044.2,317.3 1049.1,316.6 1054,319.4 1058.8,315.6 1063.7,315 1068.6,314.8 1073.5,307.5 1078.3,311.2 1083.2,314.7 1088.1,315.2 1092.9,315.4 1097.8,317.9 1102.7,313.6 1107.6,308.4 1112.4,308.1 1117.3,312.1 1122.2,315 1127.1,312.2 1131.9,307.9 1136.8,305.4 1141.7,307.7 1146.6,321.5 1151.4,323.8 1156.3,324.6 1161.2,325.3 1166.1,337.7 1170.9,345.6 1175.8,348.5 1180.7,345.7 1185.6,345 1190.4,345.1 1195.3,349.8 1200.2,343 1205,320.4 1209.9,292.2 1214.8,268.7 1219.7,264.8 1224.5,255.7 1229.4,264.9 1234.3,256.8 1239.2,248.7 1244,250.9 1248.9,249.5 1253.8,238.3 1258.7,220.2 1263.5,230.2 1268.4,223.9 1273.3,215.8 1278.2,217 1283,218 1287.9,216.5 1292.8,219.6 1297.7,231 1302.5,222.3 1307.4,224.1 1312.3,229.6 1317.2,226.4 1322,224.8" fill="none" stroke="#f4a45c" stroke-width="3.5" stroke-linejoin="round" stroke-linecap="butt" stroke-opacity="0.85"/>
<polyline points="839.5,291.4 844.4,301.1 849.2,312.6 854.1,325 859,331.8 863.9,330.5 868.7,335.6 873.6,332.2 878.5,323.3 883.4,315.3 888.2,310.2 893.1,307 898,306.4 902.9,308.3 907.7,309.9 912.6,311 917.5,308.7 922.4,306.7 927.2,308.2 932.1,314.6 937,319.5 941.9,324.5 946.7,327.9 951.6,329.8 956.5,334.6 961.4,337.5 966.2,337.1 971.1,332.1 976,329.5 980.8,333.2 985.7,335.5 990.6,336.6 995.5,342.7 1000.3,349.1 1005.2,356.9 1010.1,360.7 1015,358.5 1019.8,359.1 1024.7,332.9 1029.6,334.5 1034.5,340 1039.3,344.1 1044.2,340 1049.1,339.6 1054,342.8 1058.8,336.1 1063.7,339.1 1068.6,351.5 1073.5,354.5 1078.3,357 1083.2,359.6 1088.1,358.9 1092.9,356.8 1097.8,370.7 1102.7,359.5 1107.6,368.2 1112.4,373.3 1117.3,368.1 1122.2,363.8 1127.1,360.8 1131.9,375.2 1136.8,385.2 1141.7,396.5 1146.6,415 1151.4,401.8 1156.3,387.4 1161.2,393.7 1166.1,400.2 1170.9,406.2 1175.8,418.4 1180.7,426.7 1185.6,425.5 1190.4,419.7 1195.3,412.7 1200.2,404.8 1205,398.5 1209.9,404.1 1214.8,410.6 1219.7,413.7 1224.5,414 1229.4,409.4 1234.3,399.6 1239.2,406.6 1244,404.2 1248.9,415 1253.8,421.3 1258.7,422.3 1263.5,429.4 1268.4,437.4 1273.3,442.1 1278.2,449.7 1283,454.3 1287.9,452.1 1292.8,449.4 1297.7,438.9 1302.5,434.3 1307.4,426.5 1312.3,413.1 1317.2,405.4 1322,418.2" fill="none" stroke="#e8a428" stroke-width="3.5" stroke-linejoin="round" stroke-linecap="butt" stroke-opacity="0.85"/>
<polyline points="839.5,288.3 844.4,295 849.2,301.4 854.1,303.8 859,302 863.9,297 868.7,297.3 873.6,299.3 878.5,299.7 883.4,301.5 888.2,308.6 893.1,312 898,307.2 902.9,304.1 907.7,299.3 912.6,302.7 917.5,307.9 922.4,312.2 927.2,321.4 932.1,320.6 937,316.9 941.9,314.6 946.7,311.2 951.6,312.5 956.5,315.3 961.4,319.1 966.2,326.3 971.1,326.5 976,327 980.8,330.7 985.7,332.2 990.6,333.7 995.5,336.7 1000.3,340.6 1005.2,340.6 1010.1,344.1 1015,347.2 1019.8,352.9 1024.7,350.2 1029.6,357.4 1034.5,366.8 1039.3,376.3 1044.2,390.6 1049.1,403.6 1054,417.2 1058.8,413.7 1063.7,420.3 1068.6,435.3 1073.5,446.6 1078.3,452.2 1083.2,442.9 1088.1,426.4 1092.9,433.8 1097.8,428.6 1102.7,423.9 1107.6,422 1112.4,438.7 1117.3,451.6 1122.2,454 1127.1,449.2 1131.9,452.7 1136.8,444 1141.7,434 1146.6,426.8 1151.4,431.3 1156.3,435.2 1161.2,429.2 1166.1,423.8 1170.9,422.9 1175.8,430.7 1180.7,431.6 1185.6,426 1190.4,422.6 1195.3,438.1 1200.2,444.1 1205,445.4 1209.9,445.5 1214.8,451.9 1219.7,456.2 1224.5,456.2 1229.4,452 1234.3,441.5 1239.2,455.2 1244,445 1248.9,446.1 1253.8,459.5 1258.7,474.4 1263.5,474.6 1268.4,473.3 1273.3,472.3 1278.2,462.8 1283,465.9 1287.9,458.1 1292.8,449.7 1297.7,446.2 1302.5,458.2 1307.4,466.9 1312.3,471.4 1317.2,466.6 1322,457" fill="none" stroke="#68c8d4" stroke-width="3.5" stroke-linejoin="round" stroke-linecap="butt" stroke-opacity="0.85"/>
<polyline points="839.5,290 844.4,294.5 849.2,298.2 854.1,303.2 859,308.5 863.9,310.1 868.7,310.8 873.6,310.4 878.5,314.2 883.4,318.7 888.2,320.1 893.1,325.5 898,323 902.9,323.1 907.7,324.3 912.6,322.6 917.5,327.1 922.4,325.9 927.2,324.7 932.1,323.5 937,330.7 941.9,336.5 946.7,335.7 951.6,335 956.5,333.6 961.4,332.6 966.2,330.3 971.1,334.7 976,336 980.8,343 985.7,345.7 990.6,349.9 995.5,351.5 1000.3,355.3 1005.2,360.2 1010.1,363 1015,360.5 1019.8,359.8 1024.7,365.9 1029.6,374.2 1034.5,385.2 1039.3,396.3 1044.2,406.2 1049.1,420 1054,435.5 1058.8,434.7 1063.7,437.7 1068.6,444 1073.5,444.9 1078.3,444.5 1083.2,465.1 1088.1,468.6 1092.9,473.3 1097.8,463.2 1102.7,444.8 1107.6,461.4 1112.4,475.9 1117.3,482.5 1122.2,476.7 1127.1,476 1131.9,450.4 1136.8,438.7 1141.7,433.4 1146.6,431.3 1151.4,429.3 1156.3,427.9 1161.2,415.5 1166.1,422.1 1170.9,419.8 1175.8,422.1 1180.7,428.8 1185.6,437 1190.4,445.7 1195.3,449.3 1200.2,448.3 1205,457 1209.9,492 1214.8,503.8 1219.7,516.7 1224.5,512.4 1229.4,505.8 1234.3,496.6 1239.2,498.2 1244,502.5 1248.9,505.1 1253.8,501.2 1258.7,492 1263.5,496.2 1268.4,498 1273.3,494.9 1278.2,498.5 1283,491.2 1287.9,468.9 1292.8,463 1297.7,470.5 1302.5,481.2 1307.4,474 1312.3,473.9 1317.2,471.9 1322,467" fill="none" stroke="#d4a828" stroke-width="3.5" stroke-linejoin="round" stroke-linecap="butt" stroke-opacity="0.85"/>
<polyline points="839.5,287.8 844.4,285.3 849.2,281.7 854.1,280.4 859,283.2 863.9,286.5 868.7,290.3 873.6,285.9 878.5,280.2 883.4,275.1 888.2,276.6 893.1,281 898,284.8 902.9,286.1 907.7,286.2 912.6,289.8 917.5,293.2 922.4,294.2 927.2,295.9 932.1,295.7 937,298.3 941.9,297.5 946.7,304.9 951.6,307.2 956.5,308.4 961.4,311.3 966.2,312.5 971.1,313.3 976,317.1 980.8,318.9 985.7,320.1 990.6,324.5 995.5,327.9 1000.3,331.3 1005.2,334.1 1010.1,339.7 1015,341.6 1019.8,345.2 1024.7,332.9 1029.6,335.5 1034.5,341.4 1039.3,343.4 1044.2,354 1049.1,367.3 1054,381.1 1058.8,397.6 1063.7,414.4 1068.6,432.2 1073.5,440.1 1078.3,441.4 1083.2,434.8 1088.1,424.8 1092.9,413 1097.8,432.8 1102.7,436.4 1107.6,443 1112.4,450.7 1117.3,457.3 1122.2,460.7 1127.1,454.1 1131.9,450.1 1136.8,445.7 1141.7,443.8 1146.6,458 1151.4,458.6 1156.3,471.3 1161.2,474.6 1166.1,471.1 1170.9,456.8 1175.8,445.1 1180.7,438.2 1185.6,447.3 1190.4,464.4 1195.3,480.3 1200.2,489.5 1205,498.7 1209.9,529.6 1214.8,541.6 1219.7,537.2 1224.5,537.9 1229.4,532.3 1234.3,546.4 1239.2,544.8 1244,540.8 1248.9,537.5 1253.8,528.5 1258.7,521 1263.5,515.4 1268.4,526.7 1273.3,531 1278.2,527.9 1283,528.2 1287.9,531.4 1292.8,528.9 1297.7,525 1302.5,531.9 1307.4,528.2 1312.3,522.2 1317.2,515.3" fill="none" stroke="#bcb42c" stroke-width="3.5" stroke-linejoin="round" stroke-linecap="butt" stroke-opacity="0.85"/>
<polyline points="839.5,289.8 844.4,297.3 849.2,301 854.1,306.9 859,314.4 863.9,317.5 868.7,322.5 873.6,328 878.5,333.5 883.4,341.7 888.2,347 893.1,351.2 898,338.7 902.9,347.2 907.7,348.3 912.6,345.4 917.5,339 922.4,334 927.2,335.1 932.1,336.5 937,340.5 941.9,351 946.7,360.3 951.6,355.4 956.5,363 961.4,338.5 966.2,329.5 971.1,326.1 976,323.5 980.8,318.3 985.7,314.8 990.6,311.8 995.5,308.5 1000.3,307.2 1005.2,305.1 1010.1,301.3 1015,296.7 1019.8,290.9 1024.7,313.2 1029.6,321.9 1034.5,330.3 1039.3,342.9 1044.2,356.5 1049.1,379.6 1054,405 1058.8,429.9 1063.7,456.7 1068.6,489.1 1073.5,525.8 1078.3,523.7 1083.2,516.1 1088.1,508.6 1092.9,512.4 1097.8,518.1 1102.7,519.2 1107.6,510 1112.4,501.2 1117.3,503.8 1122.2,506.6 1127.1,496.8 1131.9,532.2 1136.8,554.1 1141.7,558.4 1146.6,552.9 1151.4,544.9 1156.3,545.4 1161.2,555.3 1166.1,539.5 1170.9,528.3 1175.8,521.1 1180.7,515 1185.6,516.4 1190.4,517.3 1195.3,516.2 1200.2,502.4 1205,482 1209.9,475.5 1214.8,490.5 1219.7,495.9 1224.5,485.3 1229.4,483.9 1234.3,503.5 1239.2,499.9 1244,528.1 1248.9,526.6 1253.8,516.6 1258.7,505.7 1263.5,501.2 1268.4,492.1 1273.3,488.3 1278.2,494.3 1283,479.1 1287.9,466 1292.8,449 1297.7,444.4 1302.5,441.8 1307.4,454.6 1312.3,456.4 1317.2,464.6 1322,464.7" fill="none" stroke="#68bc38" stroke-width="3.5" stroke-linejoin="round" stroke-linecap="butt" stroke-opacity="0.85"/>
<polyline points="839.5,288.6 844.4,291.1 849.2,291.2 854.1,285.3 859,282.7 863.9,290.7 868.7,297 873.6,301.1 878.5,314.6 883.4,323.7 888.2,321.5 893.1,316.7 898,311.7 902.9,305.1 907.7,298.2 912.6,300.7 917.5,307.7 922.4,315.8 927.2,328.1 932.1,350.2 937,378.9 941.9,377.2 946.7,377.3 951.6,365.6 956.5,355.3 961.4,344.9 966.2,336.3 971.1,328.4 976,320.3 980.8,323 985.7,308.3 990.6,322.9 995.5,324.9 1000.3,325 1005.2,332.7 1010.1,344 1015,355.7 1019.8,357.6 1024.7,360.4 1029.6,366.9 1034.5,372.8 1039.3,376.4 1044.2,374.4 1049.1,381.9 1054,391.9 1058.8,387.1 1063.7,381.8 1068.6,375.8 1073.5,379.4 1078.3,386.6 1083.2,391.8 1088.1,384.7 1092.9,371.8 1097.8,390.5 1102.7,396.2 1107.6,398.1 1112.4,375.6 1117.3,377.2 1122.2,366.6 1127.1,353.7 1131.9,342.4 1136.8,337.9 1141.7,333.9 1146.6,338.4 1151.4,338.3 1156.3,336.1 1161.2,332 1166.1,327.1 1170.9,325.9 1175.8,331.3 1180.7,335.9 1185.6,338.3 1190.4,332 1195.3,325.4 1200.2,318.7 1205,322.6 1209.9,323.8 1214.8,327.5 1219.7,325.6 1224.5,321.7 1229.4,314.3 1234.3,313.8 1239.2,316.5 1244,322.8 1248.9,320.7 1253.8,317 1258.7,315.9 1263.5,314.4 1268.4,313.7 1273.3,308.8 1278.2,308.7 1283,307.9 1287.9,312.8 1292.8,315.4 1297.7,313.1 1302.5,308 1307.4,308.2 1312.3,311.4 1317.2,310.8 1322,311.3" fill="none" stroke="#ec70ac" stroke-width="3.5" stroke-linejoin="round" stroke-linecap="butt" stroke-opacity="0.85"/>
<polyline points="839.5,288.3 844.4,290.9 849.2,293.9 854.1,296.6 859,300.2 863.9,307.6 868.7,320.4 873.6,331.3 878.5,342.2 883.4,353.4 888.2,355.4 893.1,358.5 898,360.7 902.9,359.5 907.7,360.6 912.6,353.5 917.5,347 922.4,350.4 927.2,336.5 932.1,325.9 937,320.2 941.9,315.2 946.7,319 951.6,323.4 956.5,317.1 961.4,315.2 966.2,315.8 971.1,319.4 976,324.3 980.8,319.2 985.7,315.5 990.6,316.7 995.5,322.4 1000.3,326.9 1005.2,326.9 1010.1,324.2 1015,321.5 1019.8,327.5 1024.7,307.7 1029.6,308.8 1034.5,315.9 1039.3,319.5 1044.2,322.3 1049.1,322.9 1054,318.7 1058.8,318.4 1063.7,322 1068.6,327.4 1073.5,327.1 1078.3,328.3 1083.2,324.7 1088.1,323.5 1092.9,320.8 1097.8,321.2 1102.7,319.9 1107.6,322.4 1112.4,323.1 1117.3,323.5 1122.2,318.3 1127.1,321.4 1131.9,318.2 1136.8,314.2 1141.7,311.9 1146.6,310.7 1151.4,311 1156.3,304.7 1161.2,312.8 1166.1,313.6 1170.9,314.3 1175.8,322 1180.7,318.9 1185.6,313 1190.4,309.1 1195.3,312.3 1200.2,311.1 1205,312.8 1209.9,309.7 1214.8,314.1 1219.7,314.4 1224.5,315 1229.4,320.9 1234.3,319.1 1239.2,315.1 1244,316.7 1248.9,319.8 1253.8,310.6 1258.7,316.2 1263.5,317.7 1268.4,318.2 1273.3,324.7 1278.2,325.6 1283,319.3 1287.9,321.1 1292.8,316 1297.7,312.9 1302.5,307.2 1307.4,309.9 1312.3,313.5 1317.2,313.4 1322,314.8" fill="none" stroke="#cc94cc" stroke-width="3.5" stroke-linejoin="round" stroke-linecap="butt" stroke-opacity="0.85"/>
<line x1="1024.5" y1="50" x2="1024.5" y2="588.5" stroke="#95503b" stroke-width="3.5" />
<line x1="1072" y1="50" x2="1072" y2="588.5" stroke="#95503b" stroke-width="3.5" />
<line x1="117" y1="639.2" x2="117" y2="1185.5" stroke="#111" stroke-width="3.8" />
<line x1="115.2" y1="1183.5" x2="652.6" y2="1183.5" stroke="#111" stroke-width="4" />
<line x1="135.8" y1="1185.4" x2="135.8" y2="1188.8" stroke="#3c4244" stroke-width="3" />
<line x1="234.2" y1="1185.4" x2="234.2" y2="1188.8" stroke="#3c4244" stroke-width="3" />
<line x1="332.6" y1="1185.4" x2="332.6" y2="1188.8" stroke="#3c4244" stroke-width="3" />
<line x1="431.1" y1="1185.4" x2="431.1" y2="1188.8" stroke="#3c4244" stroke-width="3" />
<line x1="529.5" y1="1185.4" x2="529.5" y2="1188.8" stroke="#3c4244" stroke-width="3" />
<line x1="627.9" y1="1185.4" x2="627.9" y2="1188.8" stroke="#3c4244" stroke-width="3" />
<line x1="111" y1="664" x2="115.2" y2="664" stroke="#3c4244" stroke-width="3" />
<text x="103.5" y="676" font-size="37.5" text-anchor="end" font-weight="normal" fill="#111">100</text>
<line x1="111" y1="764" x2="115.2" y2="764" stroke="#3c4244" stroke-width="3" />
<text x="103.5" y="776" font-size="37.5" text-anchor="end" font-weight="normal" fill="#111">80</text>
<line x1="111" y1="863.9" x2="115.2" y2="863.9" stroke="#3c4244" stroke-width="3" />
<text x="103.5" y="875.9" font-size="37.5" text-anchor="end" font-weight="normal" fill="#111">60</text>
<line x1="111" y1="963.9" x2="115.2" y2="963.9" stroke="#3c4244" stroke-width="3" />
<text x="103.5" y="975.9" font-size="37.5" text-anchor="end" font-weight="normal" fill="#111">40</text>
<line x1="111" y1="1063.8" x2="115.2" y2="1063.8" stroke="#3c4244" stroke-width="3" />
<text x="103.5" y="1075.8" font-size="37.5" text-anchor="end" font-weight="normal" fill="#111">20</text>
<line x1="111" y1="1163.8" x2="115.2" y2="1163.8" stroke="#3c4244" stroke-width="3" />
<text x="103.5" y="1175.8" font-size="37.5" text-anchor="end" font-weight="normal" fill="#111">0</text>
<text x="29.7" y="920" font-size="41.5" text-anchor="middle" font-weight="normal" fill="#111" transform="rotate(-90 29.7 920)">time</text>
<g transform="translate(143.2 666) scale(4.9265 5.0000)" shape-rendering="crispEdges">
<rect width="98" height="98" fill="#f7db99"/>
<path fill="#fbe5a0" d="M0 97h1v1h-1zM1 96h1v1h-1zM2 95h1v1h-1zM3 94h1v1h-1zM4 93h1v1h-1zM5 92h1v1h-1zM6 91h1v1h-1zM7 90h1v1h-1zM8 89h1v1h-1zM9 88h1v1h-1zM10 87h1v1h-1zM11 86h1v1h-1zM12 85h1v1h-1zM13 84h1v1h-1zM14 83h1v1h-1zM15 82h1v1h-1zM16 81h1v1h-1zM17 80h1v1h-1zM18 79h1v1h-1zM19 78h1v1h-1zM20 77h1v1h-1zM21 76h1v1h-1zM22 75h1v1h-1zM23 74h1v1h-1zM24 73h1v1h-1zM25 72h1v1h-1zM26 71h1v1h-1zM27 70h1v1h-1zM28 69h1v1h-1zM29 68h1v1h-1zM30 67h1v1h-1zM31 66h1v1h-1zM32 65h1v1h-1zM33 64h1v1h-1zM34 63h1v1h-1zM35 62h1v1h-1zM36 61h1v1h-1zM37 60h1v1h-1zM38 59h1v1h-1zM39 58h1v1h-1zM40 57h1v1h-1zM41 56h1v1h-1zM42 55h1v1h-1zM43 54h1v1h-1zM44 53h1v1h-1zM45 52h1v1h-1zM46 51h1v1h-1zM47 50h1v1h-1zM48 49h1v1h-1zM49 48h1v1h-1zM50 47h1v1h-1zM51 46h1v1h-1zM52 45h1v1h-1zM53 44h1v1h-1zM54 43h1v1h-1zM55 42h1v1h-1zM56 41h1v1h-1zM57 40h1v1h-1zM58 39h1v1h-1zM59 38h1v1h-1zM60 37h1v1h-1zM61 36h1v1h-1zM62 35h1v1h-1zM63 34h1v1h-1zM64 33h1v1h-1zM65 32h1v1h-1zM66 31h1v1h-1zM67 30h1v1h-1zM68 29h1v1h-1zM69 28h1v1h-1zM70 27h1v1h-1zM71 26h1v1h-1zM72 25h1v1h-1zM73 24h1v1h-1zM74 23h1v1h-1zM75 22h1v1h-1zM76 21h1v1h-1zM77 20h1v1h-1zM78 19h1v1h-1zM79 18h1v1h-1zM80 17h1v1h-1zM81 16h1v1h-1zM82 15h1v1h-1zM83 14h1v1h-1zM84 13h1v1h-1zM85 12h1v1h-1zM86 11h1v1h-1zM87 10h1v1h-1zM88 9h1v1h-1zM89 8h1v1h-1zM90 7h1v1h-1zM91 6h1v1h-1zM92 5h1v1h-1zM93 4h1v1h-1zM94 3h1v1h-1zM95 2h1v1h-1zM96 1h1v1h-1zM97 0h1v1h-1z"/>
<path fill="#f9e09c" d="M31 90h1v1h-1zM31 88h1v1h-1zM34 86h1v1h-1zM7 66h1v1h-1zM9 66h1v1h-1zM11 63h1v1h-1zM92 48h1v1h-1zM87 37h1v1h-1zM96 37h1v1h-1zM94 24h1v1h-1zM95 21h1v1h-1zM89 19h1v1h-1zM60 10h1v1h-1zM78 8h1v1h-1zM49 5h1v1h-1zM97 4h1v1h-1zM73 3h1v1h-1zM76 2h1v1h-1zM60 1h1v1h-1zM93 0h1v1h-1z"/>
<path fill="#f7da99" d="M1 97h38v1h-38zM0 96h1v1h-1zM2 96h37v1h-37zM0 95h2v1h-2zM3 95h36v1h-36zM0 94h3v1h-3zM4 94h35v1h-35zM0 93h4v1h-4zM5 93h34v1h-34zM0 92h5v1h-5zM6 92h33v1h-33zM0 91h6v1h-6zM7 91h32v1h-32zM0 90h7v1h-7zM8 90h23v1h-23zM32 90h7v1h-7zM0 89h8v1h-8zM9 89h30v1h-30zM0 88h9v1h-9zM10 88h21v1h-21zM32 88h7v1h-7zM0 87h10v1h-10zM11 87h28v1h-28zM0 86h11v1h-11zM12 86h22v1h-22zM35 86h4v1h-4zM0 85h12v1h-12zM13 85h26v1h-26zM0 84h13v1h-13zM14 84h25v1h-25zM0 83h14v1h-14zM15 83h24v1h-24zM0 82h15v1h-15zM16 82h23v1h-23zM0 81h16v1h-16zM17 81h22v1h-22zM0 80h17v1h-17zM18 80h21v1h-21zM0 79h18v1h-18zM19 79h20v1h-20zM0 78h19v1h-19zM20 78h19v1h-19zM0 77h20v1h-20zM21 77h18v1h-18zM0 76h21v1h-21zM22 76h17v1h-17zM0 75h22v1h-22zM23 75h16v1h-16zM0 74h23v1h-23zM24 74h15v1h-15zM0 73h24v1h-24zM25 73h14v1h-14zM0 72h25v1h-25zM26 72h13v1h-13zM0 71h26v1h-26zM27 71h12v1h-12zM0 70h27v1h-27zM28 70h11v1h-11zM0 69h28v1h-28zM29 69h10v1h-10zM0 68h29v1h-29zM30 68h9v1h-9zM0 67h30v1h-30zM31 67h8v1h-8zM0 66h7v1h-7zM8 66h1v1h-1zM10 66h21v1h-21zM32 66h7v1h-7zM0 65h32v1h-32zM33 65h6v1h-6zM0 64h33v1h-33zM34 64h5v1h-5zM0 63h11v1h-11zM12 63h22v1h-22zM35 63h4v1h-4zM0 62h35v1h-35zM36 62h3v1h-3zM0 61h36v1h-36zM37 61h2v1h-2zM0 60h37v1h-37zM38 60h1v1h-1zM0 59h38v1h-38zM48 50h50v1h-50zM47 49h1v1h-1zM49 49h49v1h-49zM47 48h2v1h-2zM50 48h42v1h-42zM93 48h5v1h-5zM47 47h3v1h-3zM51 47h47v1h-47zM47 46h4v1h-4zM52 46h46v1h-46zM47 45h5v1h-5zM53 45h45v1h-45zM47 44h6v1h-6zM54 44h44v1h-44zM47 43h7v1h-7zM55 43h43v1h-43zM47 42h8v1h-8zM56 42h42v1h-42zM47 41h9v1h-9zM57 41h41v1h-41zM47 40h10v1h-10zM58 40h10v1h-10zM69 40h29v1h-29zM47 39h11v1h-11zM59 39h39v1h-39zM47 38h12v1h-12zM60 38h38v1h-38zM47 37h13v1h-13zM61 37h26v1h-26zM88 37h8v1h-8zM97 37h1v1h-1zM47 36h14v1h-14zM62 36h6v1h-6zM69 36h29v1h-29zM47 35h15v1h-15zM63 35h35v1h-35zM47 34h16v1h-16zM64 34h34v1h-34zM47 33h17v1h-17zM65 33h33v1h-33zM47 32h18v1h-18zM66 32h32v1h-32zM47 31h19v1h-19zM67 31h31v1h-31zM47 30h20v1h-20zM68 30h30v1h-30zM47 29h10v1h-10zM58 29h3v1h-3zM62 29h6v1h-6zM69 29h11v1h-11zM81 29h17v1h-17zM47 28h22v1h-22zM70 28h28v1h-28zM47 27h23v1h-23zM71 27h27v1h-27zM47 26h24v1h-24zM72 26h26v1h-26zM47 25h25v1h-25zM73 25h25v1h-25zM47 24h26v1h-26zM74 24h20v1h-20zM95 24h3v1h-3zM47 23h27v1h-27zM75 23h23v1h-23zM47 22h28v1h-28zM76 22h22v1h-22zM47 21h29v1h-29zM77 21h18v1h-18zM96 21h2v1h-2zM47 20h30v1h-30zM78 20h20v1h-20zM47 19h31v1h-31zM79 19h10v1h-10zM90 19h8v1h-8zM47 18h32v1h-32zM80 18h18v1h-18zM47 17h21v1h-21zM69 17h11v1h-11zM81 17h17v1h-17zM47 16h34v1h-34zM82 16h16v1h-16zM47 15h35v1h-35zM83 15h15v1h-15zM47 14h36v1h-36zM84 14h14v1h-14zM47 13h37v1h-37zM85 13h13v1h-13zM47 12h38v1h-38zM86 12h12v1h-12zM47 11h39v1h-39zM87 11h11v1h-11zM47 10h13v1h-13zM61 10h26v1h-26zM88 10h10v1h-10zM47 9h41v1h-41zM89 9h9v1h-9zM47 8h31v1h-31zM79 8h10v1h-10zM90 8h8v1h-8zM47 7h43v1h-43zM91 7h7v1h-7zM47 6h44v1h-44zM92 6h6v1h-6zM47 5h2v1h-2zM50 5h42v1h-42zM93 5h5v1h-5zM47 4h46v1h-46zM94 4h3v1h-3zM47 3h26v1h-26zM74 3h20v1h-20zM95 3h3v1h-3zM47 2h29v1h-29zM77 2h18v1h-18zM96 2h2v1h-2zM47 1h13v1h-13zM61 1h35v1h-35zM97 1h1v1h-1zM47 0h46v1h-46zM94 0h3v1h-3z"/>
<path fill="#f5d595" d="M39 97h1v1h-1zM39 95h1v1h-1zM39 94h1v1h-1zM39 92h1v1h-1zM39 89h1v1h-1zM39 88h1v1h-1zM39 85h1v1h-1zM39 84h1v1h-1zM39 81h1v1h-1zM39 80h1v1h-1zM39 78h1v1h-1zM39 76h1v1h-1zM39 75h1v1h-1zM39 74h1v1h-1zM39 73h1v1h-1zM39 72h1v1h-1zM39 71h1v1h-1zM39 70h1v1h-1zM39 69h1v1h-1zM39 68h1v1h-1zM39 67h1v1h-1zM39 65h1v1h-1zM39 63h1v1h-1zM39 62h1v1h-1zM39 61h1v1h-1zM39 60h1v1h-1zM39 59h1v1h-1zM0 58h1v1h-1zM2 58h2v1h-2zM5 58h1v1h-1zM8 58h2v1h-2zM12 58h2v1h-2zM16 58h2v1h-2zM19 58h1v1h-1zM21 58h10v1h-10zM32 58h1v1h-1zM34 58h5v1h-5zM40 58h1v1h-1zM39 57h1v1h-1zM41 57h1v1h-1zM40 56h1v1h-1zM46 52h1v1h-1zM45 51h1v1h-1zM47 51h25v1h-25zM73 51h5v1h-5zM79 51h1v1h-1zM81 51h11v1h-11zM93 51h5v1h-5zM46 50h1v1h-1zM46 49h1v1h-1zM46 48h1v1h-1zM46 47h1v1h-1zM46 46h1v1h-1zM46 45h1v1h-1zM46 44h1v1h-1zM46 43h1v1h-1zM46 42h1v1h-1zM46 41h1v1h-1zM46 40h1v1h-1zM68 40h1v1h-1zM46 39h1v1h-1zM46 38h1v1h-1zM46 37h1v1h-1zM46 36h1v1h-1zM68 36h1v1h-1zM46 35h1v1h-1zM46 34h1v1h-1zM46 33h1v1h-1zM46 32h1v1h-1zM46 31h1v1h-1zM46 30h1v1h-1zM46 29h1v1h-1zM57 29h1v1h-1zM61 29h1v1h-1zM80 29h1v1h-1zM46 28h1v1h-1zM46 27h1v1h-1zM46 26h1v1h-1zM46 24h1v1h-1zM46 23h1v1h-1zM46 22h1v1h-1zM46 21h1v1h-1zM46 20h1v1h-1zM46 18h1v1h-1zM68 17h1v1h-1zM46 16h1v1h-1zM46 15h1v1h-1zM46 14h1v1h-1zM46 13h1v1h-1zM46 12h1v1h-1zM46 11h1v1h-1zM46 10h1v1h-1zM46 9h1v1h-1zM46 8h1v1h-1zM46 7h1v1h-1zM46 6h1v1h-1zM46 4h1v1h-1zM46 3h1v1h-1zM46 2h1v1h-1zM46 1h1v1h-1zM46 0h1v1h-1z"/>
<path fill="#f3cf92" d="M39 96h2v1h-2zM40 95h1v1h-1zM39 93h2v1h-2zM40 92h1v1h-1zM39 91h1v1h-1zM39 90h1v1h-1zM39 87h1v1h-1zM39 86h1v1h-1zM40 84h1v1h-1zM39 83h1v1h-1zM39 82h1v1h-1zM40 81h1v1h-1zM40 80h1v1h-1zM39 79h1v1h-1zM39 77h1v1h-1zM40 74h1v1h-1zM40 73h1v1h-1zM40 67h1v1h-1zM39 66h1v1h-1zM40 65h1v1h-1zM39 64h1v1h-1zM40 62h1v1h-1zM40 59h1v1h-1zM1 58h1v1h-1zM4 58h1v1h-1zM6 58h2v1h-2zM10 58h2v1h-2zM14 58h2v1h-2zM18 58h1v1h-1zM20 58h1v1h-1zM31 58h1v1h-1zM33 58h1v1h-1zM1 57h2v1h-2zM4 57h2v1h-2zM13 57h1v1h-1zM16 57h2v1h-2zM23 57h2v1h-2zM30 57h1v1h-1zM32 57h1v1h-1zM35 57h1v1h-1zM38 57h1v1h-1zM42 56h1v1h-1zM41 55h1v1h-1zM43 55h1v1h-1zM42 54h1v1h-1zM44 54h1v1h-1zM43 53h1v1h-1zM45 53h1v1h-1zM44 52h1v1h-1zM47 52h1v1h-1zM68 52h1v1h-1zM70 52h1v1h-1zM89 52h1v1h-1zM72 51h1v1h-1zM78 51h1v1h-1zM80 51h1v1h-1zM92 51h1v1h-1zM45 50h1v1h-1zM45 29h1v1h-1zM45 27h1v1h-1zM46 25h1v1h-1zM46 19h1v1h-1zM46 17h1v1h-1zM45 8h1v1h-1zM46 5h1v1h-1z"/>
<path fill="#f1ca8e" d="M40 97h1v1h-1zM40 94h1v1h-1zM40 91h1v1h-1zM40 90h1v1h-1zM40 89h1v1h-1zM40 88h1v1h-1zM40 87h1v1h-1zM40 86h1v1h-1zM40 85h1v1h-1zM40 83h1v1h-1zM40 82h1v1h-1zM40 79h1v1h-1zM40 78h1v1h-1zM40 77h1v1h-1zM40 76h1v1h-1zM40 75h1v1h-1zM40 72h1v1h-1zM40 71h1v1h-1zM40 70h1v1h-1zM40 69h1v1h-1zM40 68h1v1h-1zM40 66h1v1h-1zM40 64h1v1h-1zM40 63h1v1h-1zM40 61h1v1h-1zM40 60h1v1h-1zM41 58h1v1h-1zM0 57h1v1h-1zM3 57h1v1h-1zM6 57h7v1h-7zM14 57h2v1h-2zM18 57h5v1h-5zM25 57h5v1h-5zM31 57h1v1h-1zM33 57h2v1h-2zM36 57h2v1h-2zM39 56h1v1h-1zM48 52h20v1h-20zM69 52h1v1h-1zM71 52h18v1h-18zM90 52h8v1h-8zM45 49h1v1h-1zM45 48h1v1h-1zM45 47h1v1h-1zM45 46h1v1h-1zM45 45h1v1h-1zM45 44h1v1h-1zM45 43h1v1h-1zM45 42h1v1h-1zM45 41h1v1h-1zM45 40h1v1h-1zM45 39h1v1h-1zM45 38h1v1h-1zM45 37h1v1h-1zM45 36h1v1h-1zM45 35h1v1h-1zM45 34h1v1h-1zM45 33h1v1h-1zM45 32h1v1h-1zM45 31h1v1h-1zM45 30h1v1h-1zM45 28h1v1h-1zM45 26h1v1h-1zM45 25h1v1h-1zM45 24h1v1h-1zM45 23h1v1h-1zM45 22h1v1h-1zM45 21h1v1h-1zM45 20h1v1h-1zM45 19h1v1h-1zM45 18h1v1h-1zM45 17h1v1h-1zM45 16h1v1h-1zM45 15h1v1h-1zM45 14h1v1h-1zM45 13h1v1h-1zM45 12h1v1h-1zM45 11h1v1h-1zM45 10h1v1h-1zM45 9h1v1h-1zM45 7h1v1h-1zM45 6h1v1h-1zM45 5h1v1h-1zM45 4h1v1h-1zM45 3h1v1h-1zM45 2h1v1h-1zM45 1h1v1h-1zM45 0h1v1h-1z"/>
<path fill="#efc48b" d="M41 97h1v1h-1zM41 96h1v1h-1zM41 95h1v1h-1zM41 94h1v1h-1zM41 93h1v1h-1zM41 92h1v1h-1zM41 89h1v1h-1zM41 88h1v1h-1zM41 86h1v1h-1zM41 84h1v1h-1zM41 82h1v1h-1zM41 81h1v1h-1zM41 80h1v1h-1zM41 78h1v1h-1zM41 75h1v1h-1zM41 74h1v1h-1zM41 73h1v1h-1zM41 72h1v1h-1zM41 71h1v1h-1zM41 70h1v1h-1zM41 69h1v1h-1zM41 68h1v1h-1zM41 67h1v1h-1zM41 65h1v1h-1zM41 64h1v1h-1zM41 63h1v1h-1zM41 62h1v1h-1zM41 61h1v1h-1zM41 60h1v1h-1zM41 59h1v1h-1zM42 58h1v1h-1zM42 57h1v1h-1zM0 56h6v1h-6zM8 56h2v1h-2zM11 56h1v1h-1zM13 56h1v1h-1zM15 56h3v1h-3zM19 56h1v1h-1zM22 56h9v1h-9zM32 56h7v1h-7zM43 56h1v1h-1zM39 55h2v1h-2zM44 55h1v1h-1zM41 54h1v1h-1zM45 54h1v1h-1zM42 53h1v1h-1zM46 53h1v1h-1zM48 53h1v1h-1zM52 53h3v1h-3zM68 53h1v1h-1zM70 53h1v1h-1zM74 53h2v1h-2zM88 53h2v1h-2zM94 53h1v1h-1zM43 52h1v1h-1zM44 51h1v1h-1zM44 49h1v1h-1zM44 45h1v1h-1zM44 44h1v1h-1zM44 43h1v1h-1zM44 29h1v1h-1zM44 27h1v1h-1zM44 23h1v1h-1zM44 22h1v1h-1zM44 9h1v1h-1zM44 8h1v1h-1zM44 3h1v1h-1z"/>
<path fill="#edbf87" d="M42 95h1v1h-1zM41 91h1v1h-1zM41 90h1v1h-1zM41 87h1v1h-1zM41 85h1v1h-1zM41 83h1v1h-1zM41 79h1v1h-1zM41 77h1v1h-1zM41 76h1v1h-1zM41 66h1v1h-1zM6 56h2v1h-2zM10 56h1v1h-1zM12 56h1v1h-1zM14 56h1v1h-1zM18 56h1v1h-1zM20 56h2v1h-2zM31 56h1v1h-1zM2 55h1v1h-1zM46 54h1v1h-1zM68 54h1v1h-1zM47 53h1v1h-1zM49 53h3v1h-3zM55 53h13v1h-13zM69 53h1v1h-1zM71 53h3v1h-3zM76 53h4v1h-4zM81 53h7v1h-7zM90 53h4v1h-4zM95 53h3v1h-3zM43 51h1v1h-1zM44 50h1v1h-1zM44 48h1v1h-1zM44 47h1v1h-1zM44 46h1v1h-1zM44 42h1v1h-1zM44 41h1v1h-1zM44 40h1v1h-1zM44 39h1v1h-1zM44 38h1v1h-1zM44 37h1v1h-1zM44 36h1v1h-1zM44 35h1v1h-1zM44 34h1v1h-1zM44 33h1v1h-1zM44 32h1v1h-1zM44 31h1v1h-1zM44 30h1v1h-1zM43 29h1v1h-1zM44 28h1v1h-1zM44 26h1v1h-1zM44 25h1v1h-1zM44 24h1v1h-1zM44 21h1v1h-1zM44 20h1v1h-1zM44 19h1v1h-1zM44 18h1v1h-1zM44 16h1v1h-1zM44 15h1v1h-1zM44 14h1v1h-1zM44 13h1v1h-1zM44 12h1v1h-1zM44 11h1v1h-1zM44 10h1v1h-1zM44 7h1v1h-1zM44 6h1v1h-1zM44 5h1v1h-1zM44 4h1v1h-1zM44 2h1v1h-1zM44 1h1v1h-1zM44 0h1v1h-1z"/>
<path fill="#ebb984" d="M42 97h1v1h-1zM42 92h1v1h-1zM42 89h1v1h-1zM42 88h1v1h-1zM42 86h1v1h-1zM42 84h1v1h-1zM42 81h1v1h-1zM42 80h1v1h-1zM42 78h1v1h-1zM42 73h1v1h-1zM42 72h1v1h-1zM42 71h1v1h-1zM42 67h1v1h-1zM42 65h1v1h-1zM42 62h1v1h-1zM42 61h1v1h-1zM42 60h1v1h-1zM42 59h1v1h-1zM43 58h1v1h-1zM43 57h1v1h-1zM44 56h1v1h-1zM0 55h1v1h-1zM5 55h1v1h-1zM8 55h2v1h-2zM11 55h1v1h-1zM13 55h1v1h-1zM16 55h2v1h-2zM19 55h1v1h-1zM24 55h3v1h-3zM30 55h1v1h-1zM32 55h1v1h-1zM35 55h4v1h-4zM45 55h1v1h-1zM39 54h2v1h-2zM47 54h2v1h-2zM52 54h3v1h-3zM56 54h1v1h-1zM60 54h1v1h-1zM63 54h1v1h-1zM70 54h1v1h-1zM73 54h3v1h-3zM78 54h2v1h-2zM86 54h4v1h-4zM91 54h1v1h-1zM94 54h1v1h-1zM96 54h2v1h-2zM41 53h1v1h-1zM80 53h1v1h-1zM42 52h1v1h-1zM43 50h1v1h-1zM43 49h1v1h-1zM43 45h1v1h-1zM43 44h1v1h-1zM43 43h1v1h-1zM43 41h1v1h-1zM43 37h1v1h-1zM43 34h1v1h-1zM43 27h1v1h-1zM43 24h1v1h-1zM43 23h1v1h-1zM43 22h1v1h-1zM43 19h1v1h-1zM43 18h1v1h-1zM44 17h1v1h-1zM43 11h1v1h-1zM43 10h1v1h-1zM43 9h1v1h-1zM43 8h1v1h-1zM43 6h1v1h-1zM43 3h1v1h-1zM43 1h1v1h-1zM43 0h1v1h-1z"/>
<path fill="#e9b480" d="M42 96h1v1h-1zM43 95h1v1h-1zM42 94h1v1h-1zM42 93h1v1h-1zM42 91h1v1h-1zM42 90h1v1h-1zM42 87h1v1h-1zM42 85h1v1h-1zM42 82h1v1h-1zM42 79h1v1h-1zM42 77h1v1h-1zM42 76h1v1h-1zM42 75h1v1h-1zM42 74h1v1h-1zM42 70h1v1h-1zM42 69h1v1h-1zM42 68h1v1h-1zM42 66h1v1h-1zM42 64h1v1h-1zM42 63h1v1h-1zM1 55h1v1h-1zM3 55h2v1h-2zM6 55h2v1h-2zM10 55h1v1h-1zM12 55h1v1h-1zM15 55h1v1h-1zM18 55h1v1h-1zM20 55h4v1h-4zM27 55h3v1h-3zM31 55h1v1h-1zM33 55h2v1h-2zM68 55h1v1h-1zM2 54h1v1h-1zM49 54h1v1h-1zM51 54h1v1h-1zM55 54h1v1h-1zM58 54h2v1h-2zM61 54h2v1h-2zM64 54h4v1h-4zM69 54h1v1h-1zM76 54h2v1h-2zM81 54h5v1h-5zM90 54h1v1h-1zM92 54h2v1h-2zM95 54h1v1h-1zM43 48h1v1h-1zM43 46h1v1h-1zM43 42h1v1h-1zM43 39h1v1h-1zM43 38h1v1h-1zM43 36h1v1h-1zM43 35h1v1h-1zM43 33h1v1h-1zM43 32h1v1h-1zM43 31h1v1h-1zM43 30h1v1h-1zM42 29h1v1h-1zM43 28h1v1h-1zM43 21h1v1h-1zM43 20h1v1h-1zM43 16h1v1h-1zM43 15h1v1h-1zM43 14h1v1h-1zM43 13h1v1h-1zM43 12h1v1h-1zM43 7h1v1h-1zM43 5h1v1h-1zM43 4h1v1h-1zM43 2h1v1h-1z"/>
<path fill="#e7ae7d" d="M43 97h1v1h-1zM43 92h1v1h-1zM43 84h1v1h-1zM42 83h1v1h-1zM43 81h1v1h-1zM43 80h1v1h-1zM43 78h1v1h-1zM43 73h1v1h-1zM43 72h1v1h-1zM43 67h1v1h-1zM43 61h1v1h-1zM43 60h1v1h-1zM44 57h1v1h-1zM14 55h1v1h-1zM46 55h1v1h-1zM52 55h3v1h-3zM63 55h1v1h-1zM70 55h1v1h-1zM74 55h2v1h-2zM86 55h1v1h-1zM88 55h2v1h-2zM0 54h1v1h-1zM5 54h1v1h-1zM13 54h1v1h-1zM16 54h2v1h-2zM19 54h1v1h-1zM24 54h2v1h-2zM30 54h1v1h-1zM36 54h2v1h-2zM50 54h1v1h-1zM57 54h1v1h-1zM71 54h2v1h-2zM80 54h1v1h-1zM40 53h1v1h-1zM42 51h1v1h-1zM43 47h1v1h-1zM42 45h1v1h-1zM42 44h1v1h-1zM42 43h1v1h-1zM43 40h1v1h-1zM42 34h1v1h-1zM42 27h1v1h-1zM43 26h1v1h-1zM43 25h1v1h-1zM42 23h1v1h-1zM42 22h1v1h-1zM43 17h1v1h-1zM42 11h1v1h-1zM42 9h1v1h-1zM42 8h1v1h-1z"/>
<path fill="#e5a979" d="M43 96h1v1h-1zM44 95h1v1h-1zM43 94h1v1h-1zM43 93h1v1h-1zM43 91h1v1h-1zM43 90h1v1h-1zM43 89h1v1h-1zM43 88h1v1h-1zM43 87h1v1h-1zM43 86h1v1h-1zM43 85h1v1h-1zM43 82h1v1h-1zM43 77h1v1h-1zM43 76h1v1h-1zM43 75h1v1h-1zM43 74h1v1h-1zM43 71h1v1h-1zM43 70h1v1h-1zM43 69h1v1h-1zM43 68h1v1h-1zM43 66h1v1h-1zM43 65h1v1h-1zM43 64h1v1h-1zM43 63h1v1h-1zM43 62h1v1h-1zM43 59h1v1h-1zM44 58h1v1h-1zM45 56h1v1h-1zM68 56h1v1h-1zM47 55h3v1h-3zM51 55h1v1h-1zM55 55h2v1h-2zM58 55h5v1h-5zM64 55h4v1h-4zM69 55h1v1h-1zM73 55h1v1h-1zM76 55h4v1h-4zM81 55h2v1h-2zM84 55h1v1h-1zM87 55h1v1h-1zM91 55h7v1h-7zM1 54h1v1h-1zM3 54h2v1h-2zM6 54h7v1h-7zM15 54h1v1h-1zM20 54h4v1h-4zM26 54h4v1h-4zM31 54h5v1h-5zM38 54h1v1h-1zM2 53h1v1h-1zM39 53h1v1h-1zM41 52h1v1h-1zM42 50h1v1h-1zM42 49h1v1h-1zM42 48h1v1h-1zM42 46h1v1h-1zM42 42h1v1h-1zM42 41h1v1h-1zM42 39h1v1h-1zM42 38h1v1h-1zM42 37h1v1h-1zM42 36h1v1h-1zM42 35h1v1h-1zM42 33h1v1h-1zM42 32h1v1h-1zM42 31h1v1h-1zM42 30h1v1h-1zM41 29h1v1h-1zM42 28h1v1h-1zM42 24h1v1h-1zM42 21h1v1h-1zM42 20h1v1h-1zM42 19h1v1h-1zM42 18h1v1h-1zM42 16h1v1h-1zM42 15h1v1h-1zM42 13h1v1h-1zM42 10h1v1h-1zM42 6h1v1h-1zM42 5h1v1h-1zM42 4h1v1h-1zM42 3h1v1h-1zM42 2h1v1h-1zM42 1h1v1h-1zM42 0h1v1h-1z"/>
<path fill="#e3a376" d="M44 92h1v1h-1zM44 84h1v1h-1zM43 83h1v1h-1zM44 81h1v1h-1zM44 80h1v1h-1zM43 79h1v1h-1zM44 78h1v1h-1zM44 73h1v1h-1zM44 72h1v1h-1zM44 67h1v1h-1zM44 60h1v1h-1zM46 56h1v1h-1zM70 56h1v1h-1zM74 56h2v1h-2zM50 55h1v1h-1zM57 55h1v1h-1zM71 55h2v1h-2zM80 55h1v1h-1zM83 55h1v1h-1zM85 55h1v1h-1zM90 55h1v1h-1zM14 54h1v1h-1zM18 54h1v1h-1zM5 53h1v1h-1zM13 53h1v1h-1zM16 53h2v1h-2zM19 53h1v1h-1zM24 53h2v1h-2zM30 53h1v1h-1zM37 53h1v1h-1zM41 51h1v1h-1zM42 47h1v1h-1zM42 40h1v1h-1zM41 27h1v1h-1zM42 26h1v1h-1zM42 25h1v1h-1zM41 23h1v1h-1zM41 22h1v1h-1zM42 17h1v1h-1zM42 14h1v1h-1zM42 12h1v1h-1zM42 7h1v1h-1z"/>
<path fill="#e19e72" d="M44 97h1v1h-1zM44 96h1v1h-1zM44 94h1v1h-1zM44 93h1v1h-1zM44 91h1v1h-1zM44 90h1v1h-1zM44 89h1v1h-1zM44 88h1v1h-1zM44 87h1v1h-1zM44 86h1v1h-1zM44 85h1v1h-1zM44 82h1v1h-1zM44 77h1v1h-1zM44 76h1v1h-1zM44 75h1v1h-1zM44 74h1v1h-1zM44 71h1v1h-1zM44 70h1v1h-1zM44 69h1v1h-1zM44 68h1v1h-1zM44 66h1v1h-1zM44 65h1v1h-1zM44 64h1v1h-1zM44 63h1v1h-1zM44 62h1v1h-1zM44 61h1v1h-1zM44 59h1v1h-1zM45 58h1v1h-1zM45 57h1v1h-1zM68 57h1v1h-1zM47 56h3v1h-3zM51 56h4v1h-4zM56 56h1v1h-1zM59 56h2v1h-2zM62 56h2v1h-2zM65 56h1v1h-1zM67 56h1v1h-1zM73 56h1v1h-1zM77 56h3v1h-3zM81 56h1v1h-1zM86 56h4v1h-4zM91 56h4v1h-4zM96 56h2v1h-2zM0 53h2v1h-2zM3 53h2v1h-2zM6 53h7v1h-7zM15 53h1v1h-1zM20 53h4v1h-4zM26 53h4v1h-4zM31 53h6v1h-6zM38 53h1v1h-1zM39 52h2v1h-2zM41 50h1v1h-1zM41 49h1v1h-1zM41 48h1v1h-1zM41 46h1v1h-1zM41 45h1v1h-1zM41 44h1v1h-1zM41 43h1v1h-1zM41 41h1v1h-1zM41 38h1v1h-1zM41 37h1v1h-1zM41 35h1v1h-1zM41 34h1v1h-1zM41 32h1v1h-1zM41 30h1v1h-1zM40 29h1v1h-1zM41 24h1v1h-1zM41 20h1v1h-1zM41 19h1v1h-1zM41 18h1v1h-1zM41 16h1v1h-1zM41 11h1v1h-1zM41 10h1v1h-1zM41 9h1v1h-1zM41 8h1v1h-1zM41 6h1v1h-1zM41 5h1v1h-1zM41 4h1v1h-1zM41 3h1v1h-1zM41 1h1v1h-1zM41 0h1v1h-1z"/>
<path fill="#df986f" d="M45 95h1v1h-1zM68 95h1v1h-1zM45 92h1v1h-1zM44 83h1v1h-1zM45 81h1v1h-1zM45 80h1v1h-1zM44 79h1v1h-1zM45 60h1v1h-1zM46 58h1v1h-1zM68 58h1v1h-1zM70 58h1v1h-1zM75 58h1v1h-1zM46 57h1v1h-1zM52 57h1v1h-1zM54 57h1v1h-1zM70 57h1v1h-1zM74 57h2v1h-2zM78 57h1v1h-1zM86 57h1v1h-1zM88 57h1v1h-1zM50 56h1v1h-1zM55 56h1v1h-1zM58 56h1v1h-1zM61 56h1v1h-1zM64 56h1v1h-1zM66 56h1v1h-1zM69 56h1v1h-1zM71 56h2v1h-2zM76 56h1v1h-1zM82 56h4v1h-4zM90 56h1v1h-1zM95 56h1v1h-1zM14 53h1v1h-1zM18 53h1v1h-1zM2 52h1v1h-1zM5 52h1v1h-1zM16 52h2v1h-2zM37 52h1v1h-1zM39 51h2v1h-2zM41 47h1v1h-1zM40 45h1v1h-1zM40 43h1v1h-1zM41 42h1v1h-1zM41 39h1v1h-1zM41 36h1v1h-1zM41 33h1v1h-1zM41 31h1v1h-1zM2 29h1v1h-1zM39 29h1v1h-1zM41 28h1v1h-1zM39 27h2v1h-2zM41 26h1v1h-1zM41 25h1v1h-1zM40 23h1v1h-1zM39 22h2v1h-2zM41 21h1v1h-1zM40 19h1v1h-1zM41 15h1v1h-1zM41 14h1v1h-1zM41 13h1v1h-1zM41 12h1v1h-1zM40 11h1v1h-1zM40 9h1v1h-1zM41 7h1v1h-1zM41 2h1v1h-1z"/>
<path fill="#dd936b" d="M45 97h1v1h-1zM45 96h1v1h-1zM46 95h1v1h-1zM52 95h1v1h-1zM70 95h1v1h-1zM75 95h1v1h-1zM45 94h1v1h-1zM45 93h1v1h-1zM68 92h1v1h-1zM70 92h1v1h-1zM45 89h1v1h-1zM45 88h1v1h-1zM45 86h1v1h-1zM45 85h1v1h-1zM45 84h1v1h-1zM45 82h1v1h-1zM68 81h1v1h-1zM52 80h1v1h-1zM68 80h1v1h-1zM70 80h1v1h-1zM75 80h1v1h-1zM45 78h1v1h-1zM45 74h1v1h-1zM45 73h1v1h-1zM68 73h1v1h-1zM45 72h1v1h-1zM45 71h1v1h-1zM45 70h1v1h-1zM45 69h1v1h-1zM45 68h1v1h-1zM45 67h1v1h-1zM68 67h1v1h-1zM45 66h1v1h-1zM45 65h1v1h-1zM45 64h1v1h-1zM45 63h1v1h-1zM45 62h1v1h-1zM45 61h1v1h-1zM68 60h1v1h-1zM45 59h1v1h-1zM47 58h3v1h-3zM52 58h3v1h-3zM56 58h1v1h-1zM59 58h2v1h-2zM62 58h2v1h-2zM65 58h1v1h-1zM67 58h1v1h-1zM73 58h2v1h-2zM77 58h3v1h-3zM86 58h4v1h-4zM91 58h4v1h-4zM96 58h2v1h-2zM47 57h3v1h-3zM51 57h1v1h-1zM53 57h1v1h-1zM56 57h1v1h-1zM58 57h3v1h-3zM62 57h4v1h-4zM67 57h1v1h-1zM73 57h1v1h-1zM77 57h1v1h-1zM79 57h1v1h-1zM81 57h3v1h-3zM87 57h1v1h-1zM89 57h9v1h-9zM57 56h1v1h-1zM80 56h1v1h-1zM0 52h2v1h-2zM3 52h2v1h-2zM8 52h2v1h-2zM11 52h3v1h-3zM15 52h1v1h-1zM19 52h1v1h-1zM23 52h14v1h-14zM38 52h1v1h-1zM2 51h1v1h-1zM39 50h2v1h-2zM39 49h2v1h-2zM39 48h2v1h-2zM40 46h1v1h-1zM2 45h1v1h-1zM17 45h1v1h-1zM39 45h1v1h-1zM39 44h2v1h-2zM39 43h1v1h-1zM39 41h2v1h-2zM41 40h1v1h-1zM40 39h1v1h-1zM39 38h2v1h-2zM39 37h2v1h-2zM39 35h2v1h-2zM39 34h2v1h-2zM40 33h1v1h-1zM39 32h2v1h-2zM39 30h2v1h-2zM5 29h1v1h-1zM16 29h2v1h-2zM24 29h1v1h-1zM30 29h1v1h-1zM37 29h1v1h-1zM2 27h1v1h-1zM5 27h1v1h-1zM17 27h1v1h-1zM39 24h2v1h-2zM39 23h1v1h-1zM2 22h1v1h-1zM17 22h1v1h-1zM39 20h2v1h-2zM39 19h1v1h-1zM39 18h2v1h-2zM41 17h1v1h-1zM40 16h1v1h-1zM40 15h1v1h-1zM40 14h1v1h-1zM39 11h1v1h-1zM39 10h2v1h-2zM39 9h1v1h-1zM39 8h2v1h-2zM40 7h1v1h-1zM39 6h2v1h-2zM39 5h2v1h-2zM39 4h2v1h-2zM39 3h2v1h-2zM40 2h1v1h-1zM39 1h2v1h-2zM39 0h2v1h-2z"/>
<path fill="#db8d68" d="M46 97h1v1h-1zM68 97h1v1h-1zM70 97h1v1h-1zM68 96h1v1h-1zM47 95h3v1h-3zM51 95h1v1h-1zM53 95h2v1h-2zM56 95h1v1h-1zM59 95h2v1h-2zM62 95h2v1h-2zM65 95h1v1h-1zM67 95h1v1h-1zM73 95h2v1h-2zM77 95h3v1h-3zM82 95h1v1h-1zM86 95h4v1h-4zM91 95h4v1h-4zM96 95h2v1h-2zM68 94h1v1h-1zM68 93h1v1h-1zM70 93h1v1h-1zM46 92h1v1h-1zM48 92h1v1h-1zM52 92h2v1h-2zM60 92h1v1h-1zM62 92h2v1h-2zM65 92h1v1h-1zM73 92h3v1h-3zM77 92h2v1h-2zM86 92h1v1h-1zM88 92h2v1h-2zM91 92h1v1h-1zM93 92h2v1h-2zM97 92h1v1h-1zM45 91h1v1h-1zM68 91h1v1h-1zM45 90h1v1h-1zM68 90h1v1h-1zM46 89h1v1h-1zM68 89h1v1h-1zM75 89h1v1h-1zM68 88h1v1h-1zM45 87h1v1h-1zM68 86h1v1h-1zM68 85h1v1h-1zM46 84h1v1h-1zM68 84h1v1h-1zM70 84h1v1h-1zM45 83h1v1h-1zM68 82h1v1h-1zM46 81h1v1h-1zM52 81h1v1h-1zM60 81h1v1h-1zM63 81h1v1h-1zM70 81h1v1h-1zM74 81h2v1h-2zM78 81h1v1h-1zM86 81h1v1h-1zM88 81h2v1h-2zM93 81h1v1h-1zM46 80h1v1h-1zM48 80h2v1h-2zM53 80h2v1h-2zM56 80h1v1h-1zM60 80h1v1h-1zM62 80h2v1h-2zM73 80h2v1h-2zM77 80h3v1h-3zM86 80h4v1h-4zM91 80h4v1h-4zM96 80h2v1h-2zM45 79h1v1h-1zM46 78h1v1h-1zM68 78h1v1h-1zM70 78h1v1h-1zM45 77h1v1h-1zM45 76h1v1h-1zM68 76h1v1h-1zM45 75h1v1h-1zM68 75h1v1h-1zM68 74h1v1h-1zM46 73h1v1h-1zM52 73h1v1h-1zM70 73h1v1h-1zM74 73h2v1h-2zM93 73h1v1h-1zM46 72h1v1h-1zM52 72h1v1h-1zM68 72h1v1h-1zM70 72h1v1h-1zM75 72h1v1h-1zM46 71h1v1h-1zM68 71h1v1h-1zM70 71h1v1h-1zM68 70h1v1h-1zM68 69h1v1h-1zM70 69h1v1h-1zM68 68h1v1h-1zM70 68h1v1h-1zM46 67h1v1h-1zM70 67h1v1h-1zM75 67h1v1h-1zM68 66h1v1h-1zM68 65h1v1h-1zM68 64h1v1h-1zM68 63h1v1h-1zM68 62h1v1h-1zM70 62h1v1h-1zM46 61h1v1h-1zM68 61h1v1h-1zM70 61h1v1h-1zM46 60h1v1h-1zM52 60h2v1h-2zM70 60h1v1h-1zM73 60h3v1h-3zM86 60h1v1h-1zM88 60h2v1h-2zM97 60h1v1h-1zM68 59h1v1h-1zM70 59h1v1h-1zM50 58h2v1h-2zM55 58h1v1h-1zM58 58h1v1h-1zM61 58h1v1h-1zM64 58h1v1h-1zM66 58h1v1h-1zM69 58h1v1h-1zM71 58h1v1h-1zM76 58h1v1h-1zM81 58h5v1h-5zM90 58h1v1h-1zM95 58h1v1h-1zM50 57h1v1h-1zM55 57h1v1h-1zM57 57h1v1h-1zM61 57h1v1h-1zM66 57h1v1h-1zM69 57h1v1h-1zM71 57h2v1h-2zM76 57h1v1h-1zM80 57h1v1h-1zM84 57h2v1h-2zM6 52h2v1h-2zM10 52h1v1h-1zM14 52h1v1h-1zM18 52h1v1h-1zM20 52h3v1h-3zM0 51h1v1h-1zM5 51h1v1h-1zM8 51h1v1h-1zM13 51h1v1h-1zM16 51h2v1h-2zM19 51h1v1h-1zM24 51h3v1h-3zM30 51h1v1h-1zM36 51h2v1h-2zM2 50h1v1h-1zM2 49h1v1h-1zM5 49h1v1h-1zM17 49h1v1h-1zM2 48h1v1h-1zM17 48h1v1h-1zM39 47h2v1h-2zM2 46h1v1h-1zM39 46h1v1h-1zM5 45h1v1h-1zM16 45h1v1h-1zM24 45h2v1h-2zM37 45h1v1h-1zM2 44h1v1h-1zM5 44h1v1h-1zM17 44h1v1h-1zM37 44h1v1h-1zM2 43h1v1h-1zM17 43h1v1h-1zM39 42h2v1h-2zM2 41h1v1h-1zM17 41h1v1h-1zM40 40h1v1h-1zM39 39h1v1h-1zM2 38h1v1h-1zM2 37h1v1h-1zM5 37h1v1h-1zM16 37h2v1h-2zM39 36h2v1h-2zM2 35h1v1h-1zM5 35h1v1h-1zM17 35h1v1h-1zM2 34h1v1h-1zM5 34h1v1h-1zM16 34h2v1h-2zM39 33h1v1h-1zM2 32h1v1h-1zM5 32h1v1h-1zM39 31h2v1h-2zM2 30h1v1h-1zM0 29h2v1h-2zM3 29h2v1h-2zM6 29h4v1h-4zM11 29h3v1h-3zM15 29h1v1h-1zM19 29h1v1h-1zM21 29h3v1h-3zM25 29h5v1h-5zM31 29h6v1h-6zM38 29h1v1h-1zM39 28h2v1h-2zM0 27h1v1h-1zM4 27h1v1h-1zM13 27h1v1h-1zM16 27h1v1h-1zM19 27h1v1h-1zM24 27h3v1h-3zM28 27h3v1h-3zM35 27h4v1h-4zM39 26h2v1h-2zM40 25h1v1h-1zM2 24h1v1h-1zM5 24h1v1h-1zM17 24h1v1h-1zM37 24h1v1h-1zM2 23h1v1h-1zM5 23h1v1h-1zM16 23h2v1h-2zM24 23h1v1h-1zM37 23h1v1h-1zM5 22h1v1h-1zM8 22h1v1h-1zM16 22h1v1h-1zM24 22h2v1h-2zM30 22h1v1h-1zM37 22h1v1h-1zM39 21h2v1h-2zM2 20h1v1h-1zM5 20h1v1h-1zM17 20h1v1h-1zM2 19h1v1h-1zM5 19h1v1h-1zM16 19h2v1h-2zM2 18h1v1h-1zM17 18h1v1h-1zM40 17h1v1h-1zM39 16h1v1h-1zM2 15h1v1h-1zM39 15h1v1h-1zM39 14h1v1h-1zM39 13h2v1h-2zM39 12h2v1h-2zM2 11h1v1h-1zM5 11h1v1h-1zM16 11h2v1h-2zM37 11h1v1h-1zM2 10h1v1h-1zM17 10h1v1h-1zM2 9h1v1h-1zM5 9h1v1h-1zM16 9h2v1h-2zM37 9h1v1h-1zM2 8h1v1h-1zM5 8h1v1h-1zM16 8h2v1h-2zM37 8h1v1h-1zM39 7h1v1h-1zM2 6h1v1h-1zM5 6h1v1h-1zM17 6h1v1h-1zM2 5h1v1h-1zM17 5h1v1h-1zM2 4h1v1h-1zM5 4h1v1h-1zM16 4h2v1h-2zM24 4h1v1h-1zM2 3h1v1h-1zM5 3h1v1h-1zM17 3h1v1h-1zM39 2h1v1h-1zM2 1h1v1h-1zM17 1h1v1h-1zM2 0h1v1h-1zM5 0h1v1h-1zM17 0h1v1h-1zM37 0h1v1h-1z"/>
<path fill="#d98864" d="M47 97h3v1h-3zM51 97h4v1h-4zM56 97h1v1h-1zM59 97h2v1h-2zM62 97h2v1h-2zM67 97h1v1h-1zM73 97h3v1h-3zM77 97h3v1h-3zM81 97h1v1h-1zM86 97h4v1h-4zM91 97h4v1h-4zM96 97h2v1h-2zM46 96h1v1h-1zM52 96h2v1h-2zM63 96h1v1h-1zM70 96h1v1h-1zM73 96h3v1h-3zM86 96h1v1h-1zM88 96h1v1h-1zM91 96h1v1h-1zM50 95h1v1h-1zM55 95h1v1h-1zM58 95h1v1h-1zM61 95h1v1h-1zM64 95h1v1h-1zM66 95h1v1h-1zM69 95h1v1h-1zM71 95h2v1h-2zM76 95h1v1h-1zM81 95h1v1h-1zM83 95h3v1h-3zM90 95h1v1h-1zM95 95h1v1h-1zM46 94h2v1h-2zM52 94h1v1h-1zM54 94h1v1h-1zM63 94h1v1h-1zM70 94h1v1h-1zM74 94h2v1h-2zM86 94h1v1h-1zM88 94h2v1h-2zM94 94h1v1h-1zM97 94h1v1h-1zM46 93h3v1h-3zM52 93h3v1h-3zM56 93h1v1h-1zM60 93h1v1h-1zM62 93h2v1h-2zM73 93h3v1h-3zM78 93h2v1h-2zM86 93h1v1h-1zM88 93h2v1h-2zM91 93h1v1h-1zM93 93h2v1h-2zM96 93h2v1h-2zM47 92h1v1h-1zM49 92h3v1h-3zM54 92h3v1h-3zM58 92h2v1h-2zM61 92h1v1h-1zM64 92h1v1h-1zM66 92h2v1h-2zM69 92h1v1h-1zM76 92h1v1h-1zM79 92h1v1h-1zM81 92h5v1h-5zM87 92h1v1h-1zM90 92h1v1h-1zM92 92h1v1h-1zM95 92h2v1h-2zM46 91h1v1h-1zM52 91h1v1h-1zM70 91h1v1h-1zM74 91h2v1h-2zM46 90h1v1h-1zM52 90h1v1h-1zM63 90h1v1h-1zM70 90h1v1h-1zM74 90h2v1h-2zM94 90h1v1h-1zM47 89h2v1h-2zM52 89h3v1h-3zM59 89h2v1h-2zM62 89h2v1h-2zM67 89h1v1h-1zM70 89h1v1h-1zM73 89h2v1h-2zM77 89h3v1h-3zM86 89h4v1h-4zM91 89h4v1h-4zM96 89h2v1h-2zM46 88h1v1h-1zM52 88h2v1h-2zM63 88h1v1h-1zM70 88h1v1h-1zM74 88h2v1h-2zM78 88h1v1h-1zM86 88h1v1h-1zM89 88h1v1h-1zM91 88h1v1h-1zM93 88h1v1h-1zM96 88h1v1h-1zM46 87h1v1h-1zM68 87h1v1h-1zM70 87h1v1h-1zM46 86h1v1h-1zM52 86h3v1h-3zM60 86h1v1h-1zM63 86h1v1h-1zM70 86h1v1h-1zM74 86h2v1h-2zM86 86h4v1h-4zM93 86h1v1h-1zM46 85h1v1h-1zM52 85h2v1h-2zM63 85h1v1h-1zM70 85h1v1h-1zM74 85h2v1h-2zM88 85h1v1h-1zM91 85h1v1h-1zM93 85h1v1h-1zM96 85h1v1h-1zM47 84h3v1h-3zM51 84h4v1h-4zM56 84h1v1h-1zM59 84h2v1h-2zM62 84h2v1h-2zM65 84h1v1h-1zM67 84h1v1h-1zM73 84h3v1h-3zM77 84h3v1h-3zM86 84h4v1h-4zM91 84h4v1h-4zM96 84h2v1h-2zM68 83h1v1h-1zM70 83h1v1h-1zM46 82h1v1h-1zM52 82h1v1h-1zM70 82h1v1h-1zM74 82h2v1h-2zM47 81h3v1h-3zM51 81h1v1h-1zM53 81h2v1h-2zM56 81h1v1h-1zM58 81h2v1h-2zM62 81h1v1h-1zM64 81h2v1h-2zM67 81h1v1h-1zM69 81h1v1h-1zM73 81h1v1h-1zM77 81h1v1h-1zM79 81h1v1h-1zM81 81h2v1h-2zM84 81h2v1h-2zM87 81h1v1h-1zM91 81h2v1h-2zM94 81h1v1h-1zM96 81h2v1h-2zM47 80h1v1h-1zM50 80h2v1h-2zM55 80h1v1h-1zM58 80h2v1h-2zM61 80h1v1h-1zM64 80h4v1h-4zM69 80h1v1h-1zM71 80h1v1h-1zM76 80h1v1h-1zM81 80h5v1h-5zM90 80h1v1h-1zM95 80h1v1h-1zM68 79h1v1h-1zM70 79h1v1h-1zM47 78h3v1h-3zM52 78h3v1h-3zM56 78h1v1h-1zM59 78h2v1h-2zM62 78h2v1h-2zM65 78h1v1h-1zM67 78h1v1h-1zM73 78h3v1h-3zM77 78h3v1h-3zM81 78h1v1h-1zM86 78h4v1h-4zM91 78h4v1h-4zM96 78h2v1h-2zM46 77h1v1h-1zM52 77h1v1h-1zM68 77h1v1h-1zM70 77h1v1h-1zM74 77h2v1h-2zM46 76h1v1h-1zM52 76h1v1h-1zM70 76h1v1h-1zM74 76h2v1h-2zM46 75h1v1h-1zM52 75h1v1h-1zM70 75h1v1h-1zM74 75h2v1h-2zM46 74h1v1h-1zM52 74h1v1h-1zM63 74h1v1h-1zM70 74h1v1h-1zM73 74h3v1h-3zM86 74h1v1h-1zM88 74h1v1h-1zM93 74h1v1h-1zM47 73h3v1h-3zM51 73h1v1h-1zM53 73h2v1h-2zM56 73h1v1h-1zM58 73h3v1h-3zM62 73h4v1h-4zM67 73h1v1h-1zM73 73h1v1h-1zM77 73h3v1h-3zM86 73h4v1h-4zM91 73h2v1h-2zM94 73h4v1h-4zM47 72h3v1h-3zM51 72h1v1h-1zM53 72h2v1h-2zM56 72h1v1h-1zM59 72h2v1h-2zM62 72h2v1h-2zM65 72h1v1h-1zM67 72h1v1h-1zM73 72h2v1h-2zM77 72h3v1h-3zM81 72h1v1h-1zM86 72h4v1h-4zM91 72h4v1h-4zM96 72h2v1h-2zM48 71h2v1h-2zM52 71h3v1h-3zM56 71h1v1h-1zM60 71h1v1h-1zM62 71h2v1h-2zM73 71h3v1h-3zM77 71h3v1h-3zM86 71h1v1h-1zM88 71h2v1h-2zM91 71h1v1h-1zM93 71h2v1h-2zM96 71h2v1h-2zM46 70h1v1h-1zM52 70h1v1h-1zM60 70h1v1h-1zM63 70h1v1h-1zM70 70h1v1h-1zM74 70h2v1h-2zM86 70h1v1h-1zM88 70h2v1h-2zM93 70h1v1h-1zM97 70h1v1h-1zM46 69h3v1h-3zM52 69h3v1h-3zM60 69h1v1h-1zM62 69h2v1h-2zM73 69h3v1h-3zM78 69h1v1h-1zM86 69h1v1h-1zM88 69h2v1h-2zM91 69h1v1h-1zM93 69h2v1h-2zM96 69h2v1h-2zM46 68h1v1h-1zM52 68h2v1h-2zM60 68h1v1h-1zM62 68h2v1h-2zM73 68h3v1h-3zM79 68h1v1h-1zM86 68h1v1h-1zM88 68h2v1h-2zM91 68h1v1h-1zM93 68h2v1h-2zM96 68h2v1h-2zM47 67h3v1h-3zM51 67h4v1h-4zM56 67h1v1h-1zM58 67h3v1h-3zM62 67h4v1h-4zM67 67h1v1h-1zM73 67h2v1h-2zM77 67h3v1h-3zM81 67h1v1h-1zM86 67h4v1h-4zM91 67h4v1h-4zM96 67h2v1h-2zM46 66h1v1h-1zM52 66h1v1h-1zM63 66h1v1h-1zM70 66h1v1h-1zM74 66h2v1h-2zM46 65h1v1h-1zM52 65h3v1h-3zM60 65h1v1h-1zM63 65h1v1h-1zM70 65h1v1h-1zM73 65h3v1h-3zM78 65h1v1h-1zM86 65h1v1h-1zM88 65h2v1h-2zM91 65h1v1h-1zM93 65h2v1h-2zM96 65h2v1h-2zM46 64h1v1h-1zM48 64h1v1h-1zM52 64h3v1h-3zM60 64h1v1h-1zM62 64h2v1h-2zM70 64h1v1h-1zM74 64h2v1h-2zM78 64h1v1h-1zM86 64h1v1h-1zM88 64h1v1h-1zM91 64h1v1h-1zM93 64h2v1h-2zM96 64h1v1h-1zM46 63h1v1h-1zM48 63h1v1h-1zM52 63h3v1h-3zM60 63h1v1h-1zM63 63h1v1h-1zM70 63h1v1h-1zM73 63h3v1h-3zM78 63h1v1h-1zM86 63h1v1h-1zM88 63h2v1h-2zM91 63h4v1h-4zM96 63h1v1h-1zM46 62h4v1h-4zM52 62h3v1h-3zM56 62h1v1h-1zM60 62h1v1h-1zM63 62h1v1h-1zM65 62h1v1h-1zM73 62h3v1h-3zM77 62h3v1h-3zM86 62h1v1h-1zM88 62h2v1h-2zM91 62h1v1h-1zM93 62h2v1h-2zM96 62h2v1h-2zM47 61h2v1h-2zM52 61h3v1h-3zM60 61h1v1h-1zM62 61h2v1h-2zM67 61h1v1h-1zM73 61h3v1h-3zM78 61h2v1h-2zM81 61h1v1h-1zM86 61h1v1h-1zM88 61h2v1h-2zM91 61h1v1h-1zM93 61h2v1h-2zM96 61h2v1h-2zM47 60h3v1h-3zM51 60h1v1h-1zM54 60h1v1h-1zM56 60h1v1h-1zM58 60h8v1h-8zM67 60h1v1h-1zM69 60h1v1h-1zM76 60h4v1h-4zM81 60h4v1h-4zM87 60h1v1h-1zM91 60h6v1h-6zM46 59h1v1h-1zM48 59h1v1h-1zM52 59h3v1h-3zM63 59h1v1h-1zM67 59h1v1h-1zM73 59h3v1h-3zM77 59h3v1h-3zM86 59h4v1h-4zM91 59h1v1h-1zM93 59h2v1h-2zM96 59h2v1h-2zM57 58h1v1h-1zM72 58h1v1h-1zM80 58h1v1h-1zM1 51h1v1h-1zM3 51h2v1h-2zM6 51h2v1h-2zM9 51h4v1h-4zM15 51h1v1h-1zM20 51h4v1h-4zM27 51h3v1h-3zM31 51h5v1h-5zM38 51h1v1h-1zM0 50h1v1h-1zM3 50h3v1h-3zM8 50h1v1h-1zM13 50h1v1h-1zM16 50h2v1h-2zM19 50h1v1h-1zM24 50h2v1h-2zM28 50h1v1h-1zM30 50h1v1h-1zM35 50h3v1h-3zM0 49h1v1h-1zM4 49h1v1h-1zM8 49h1v1h-1zM13 49h1v1h-1zM16 49h1v1h-1zM19 49h1v1h-1zM24 49h3v1h-3zM28 49h1v1h-1zM30 49h1v1h-1zM33 49h6v1h-6zM0 48h1v1h-1zM5 48h1v1h-1zM13 48h1v1h-1zM16 48h1v1h-1zM19 48h1v1h-1zM24 48h3v1h-3zM30 48h1v1h-1zM35 48h1v1h-1zM37 48h1v1h-1zM2 47h1v1h-1zM5 47h1v1h-1zM17 47h1v1h-1zM0 46h1v1h-1zM5 46h1v1h-1zM13 46h1v1h-1zM16 46h2v1h-2zM24 46h2v1h-2zM30 46h1v1h-1zM37 46h1v1h-1zM0 45h2v1h-2zM3 45h2v1h-2zM6 45h4v1h-4zM11 45h3v1h-3zM15 45h1v1h-1zM19 45h5v1h-5zM26 45h11v1h-11zM38 45h1v1h-1zM0 44h2v1h-2zM4 44h1v1h-1zM8 44h2v1h-2zM11 44h3v1h-3zM16 44h1v1h-1zM19 44h1v1h-1zM24 44h3v1h-3zM28 44h3v1h-3zM32 44h5v1h-5zM38 44h1v1h-1zM0 43h1v1h-1zM3 43h3v1h-3zM8 43h1v1h-1zM11 43h1v1h-1zM13 43h1v1h-1zM16 43h1v1h-1zM19 43h1v1h-1zM24 43h3v1h-3zM28 43h1v1h-1zM30 43h1v1h-1zM32 43h7v1h-7zM2 42h1v1h-1zM5 42h1v1h-1zM17 42h1v1h-1zM0 41h1v1h-1zM4 41h2v1h-2zM13 41h1v1h-1zM16 41h1v1h-1zM19 41h1v1h-1zM24 41h3v1h-3zM30 41h1v1h-1zM35 41h1v1h-1zM37 41h1v1h-1zM39 40h1v1h-1zM2 39h1v1h-1zM5 39h1v1h-1zM16 39h2v1h-2zM24 39h1v1h-1zM30 39h1v1h-1zM37 39h1v1h-1zM0 38h1v1h-1zM5 38h1v1h-1zM8 38h1v1h-1zM13 38h1v1h-1zM16 38h2v1h-2zM19 38h1v1h-1zM24 38h2v1h-2zM30 38h1v1h-1zM37 38h1v1h-1zM0 37h1v1h-1zM4 37h1v1h-1zM8 37h1v1h-1zM11 37h1v1h-1zM13 37h1v1h-1zM19 37h1v1h-1zM24 37h7v1h-7zM32 37h6v1h-6zM2 36h1v1h-1zM5 36h1v1h-1zM17 36h1v1h-1zM37 36h1v1h-1zM0 35h1v1h-1zM4 35h1v1h-1zM8 35h1v1h-1zM13 35h1v1h-1zM16 35h1v1h-1zM19 35h1v1h-1zM24 35h3v1h-3zM28 35h3v1h-3zM33 35h1v1h-1zM36 35h2v1h-2zM0 34h2v1h-2zM3 34h2v1h-2zM7 34h3v1h-3zM11 34h3v1h-3zM19 34h1v1h-1zM23 34h16v1h-16zM2 33h1v1h-1zM5 33h1v1h-1zM16 33h2v1h-2zM24 33h1v1h-1zM30 33h1v1h-1zM37 33h1v1h-1zM13 32h1v1h-1zM16 32h2v1h-2zM19 32h1v1h-1zM24 32h2v1h-2zM30 32h1v1h-1zM35 32h1v1h-1zM37 32h1v1h-1zM2 31h1v1h-1zM5 31h1v1h-1zM17 31h1v1h-1zM0 30h1v1h-1zM5 30h1v1h-1zM8 30h1v1h-1zM13 30h1v1h-1zM16 30h2v1h-2zM19 30h1v1h-1zM24 30h2v1h-2zM30 30h1v1h-1zM36 30h3v1h-3zM10 29h1v1h-1zM14 29h1v1h-1zM18 29h1v1h-1zM20 29h1v1h-1zM2 28h1v1h-1zM5 28h1v1h-1zM16 28h2v1h-2zM37 28h1v1h-1zM1 27h1v1h-1zM3 27h1v1h-1zM6 27h7v1h-7zM14 27h2v1h-2zM18 27h1v1h-1zM20 27h4v1h-4zM27 27h1v1h-1zM31 27h4v1h-4zM2 26h1v1h-1zM17 26h1v1h-1zM2 25h1v1h-1zM39 25h1v1h-1zM0 24h2v1h-2zM4 24h1v1h-1zM8 24h1v1h-1zM13 24h1v1h-1zM16 24h1v1h-1zM19 24h1v1h-1zM23 24h4v1h-4zM28 24h3v1h-3zM32 24h1v1h-1zM34 24h3v1h-3zM38 24h1v1h-1zM0 23h2v1h-2zM3 23h2v1h-2zM6 23h4v1h-4zM11 23h3v1h-3zM15 23h1v1h-1zM19 23h5v1h-5zM25 23h12v1h-12zM38 23h1v1h-1zM0 22h2v1h-2zM3 22h2v1h-2zM6 22h2v1h-2zM9 22h1v1h-1zM11 22h3v1h-3zM15 22h1v1h-1zM19 22h5v1h-5zM26 22h4v1h-4zM31 22h6v1h-6zM38 22h1v1h-1zM2 21h1v1h-1zM5 21h1v1h-1zM17 21h1v1h-1zM37 21h1v1h-1zM0 20h1v1h-1zM8 20h1v1h-1zM13 20h1v1h-1zM16 20h1v1h-1zM19 20h1v1h-1zM24 20h3v1h-3zM30 20h1v1h-1zM35 20h1v1h-1zM37 20h2v1h-2zM0 19h1v1h-1zM4 19h1v1h-1zM8 19h2v1h-2zM13 19h1v1h-1zM19 19h1v1h-1zM24 19h3v1h-3zM28 19h1v1h-1zM30 19h1v1h-1zM32 19h7v1h-7zM0 18h1v1h-1zM4 18h2v1h-2zM8 18h1v1h-1zM13 18h1v1h-1zM16 18h1v1h-1zM19 18h1v1h-1zM24 18h3v1h-3zM29 18h2v1h-2zM35 18h4v1h-4zM39 17h1v1h-1zM0 16h1v1h-1zM2 16h1v1h-1zM5 16h1v1h-1zM16 16h2v1h-2zM19 16h1v1h-1zM25 16h1v1h-1zM30 16h1v1h-1zM36 16h2v1h-2zM5 15h1v1h-1zM16 15h2v1h-2zM37 15h1v1h-1zM2 14h1v1h-1zM5 14h1v1h-1zM17 14h1v1h-1zM37 14h1v1h-1zM2 13h1v1h-1zM5 13h1v1h-1zM16 13h2v1h-2zM37 13h1v1h-1zM2 12h1v1h-1zM5 12h1v1h-1zM16 12h2v1h-2zM0 11h2v1h-2zM3 11h2v1h-2zM8 11h2v1h-2zM11 11h1v1h-1zM13 11h1v1h-1zM19 11h1v1h-1zM23 11h8v1h-8zM32 11h5v1h-5zM38 11h1v1h-1zM0 10h1v1h-1zM5 10h1v1h-1zM8 10h1v1h-1zM11 10h1v1h-1zM13 10h1v1h-1zM16 10h1v1h-1zM19 10h1v1h-1zM24 10h2v1h-2zM30 10h1v1h-1zM37 10h2v1h-2zM0 9h2v1h-2zM3 9h2v1h-2zM8 9h1v1h-1zM11 9h3v1h-3zM19 9h1v1h-1zM23 9h8v1h-8zM32 9h5v1h-5zM38 9h1v1h-1zM0 8h1v1h-1zM3 8h2v1h-2zM8 8h2v1h-2zM11 8h1v1h-1zM13 8h1v1h-1zM19 8h1v1h-1zM24 8h7v1h-7zM32 8h1v1h-1zM34 8h3v1h-3zM38 8h1v1h-1zM2 7h1v1h-1zM5 7h1v1h-1zM17 7h1v1h-1zM0 6h2v1h-2zM4 6h1v1h-1zM8 6h2v1h-2zM12 6h2v1h-2zM16 6h1v1h-1zM19 6h1v1h-1zM24 6h3v1h-3zM28 6h3v1h-3zM32 6h7v1h-7zM0 5h1v1h-1zM5 5h1v1h-1zM8 5h1v1h-1zM13 5h1v1h-1zM16 5h1v1h-1zM19 5h1v1h-1zM24 5h2v1h-2zM30 5h1v1h-1zM34 5h1v1h-1zM37 5h1v1h-1zM0 4h1v1h-1zM4 4h1v1h-1zM8 4h2v1h-2zM11 4h3v1h-3zM19 4h1v1h-1zM23 4h1v1h-1zM25 4h6v1h-6zM32 4h7v1h-7zM0 3h1v1h-1zM3 3h2v1h-2zM7 3h2v1h-2zM13 3h1v1h-1zM16 3h1v1h-1zM19 3h1v1h-1zM24 3h3v1h-3zM28 3h3v1h-3zM32 3h7v1h-7zM2 2h1v1h-1zM5 2h1v1h-1zM17 2h1v1h-1zM24 2h1v1h-1zM37 2h1v1h-1zM0 1h1v1h-1zM4 1h2v1h-2zM8 1h2v1h-2zM12 1h2v1h-2zM16 1h1v1h-1zM19 1h1v1h-1zM24 1h3v1h-3zM28 1h3v1h-3zM32 1h7v1h-7zM0 0h1v1h-1zM3 0h2v1h-2zM8 0h1v1h-1zM13 0h1v1h-1zM16 0h1v1h-1zM19 0h1v1h-1zM24 0h7v1h-7zM32 0h1v1h-1zM35 0h2v1h-2zM38 0h1v1h-1z"/>
<path fill="#d78261" d="M50 97h1v1h-1zM55 97h1v1h-1zM58 97h1v1h-1zM61 97h1v1h-1zM64 97h3v1h-3zM69 97h1v1h-1zM71 97h1v1h-1zM76 97h1v1h-1zM82 97h4v1h-4zM90 97h1v1h-1zM95 97h1v1h-1zM47 96h3v1h-3zM51 96h1v1h-1zM54 96h1v1h-1zM56 96h1v1h-1zM58 96h5v1h-5zM64 96h2v1h-2zM67 96h1v1h-1zM69 96h1v1h-1zM76 96h4v1h-4zM81 96h3v1h-3zM85 96h1v1h-1zM87 96h1v1h-1zM89 96h1v1h-1zM92 96h6v1h-6zM57 95h1v1h-1zM80 95h1v1h-1zM48 94h2v1h-2zM51 94h1v1h-1zM53 94h1v1h-1zM55 94h2v1h-2zM58 94h5v1h-5zM64 94h4v1h-4zM69 94h1v1h-1zM73 94h1v1h-1zM76 94h4v1h-4zM81 94h4v1h-4zM87 94h1v1h-1zM91 94h3v1h-3zM95 94h2v1h-2zM49 93h3v1h-3zM55 93h1v1h-1zM58 93h2v1h-2zM61 93h1v1h-1zM64 93h4v1h-4zM69 93h1v1h-1zM76 93h2v1h-2zM81 93h5v1h-5zM87 93h1v1h-1zM92 93h1v1h-1zM95 93h1v1h-1zM57 92h1v1h-1zM71 92h2v1h-2zM80 92h1v1h-1zM47 91h3v1h-3zM51 91h1v1h-1zM53 91h2v1h-2zM56 91h1v1h-1zM59 91h2v1h-2zM62 91h2v1h-2zM65 91h1v1h-1zM67 91h1v1h-1zM73 91h1v1h-1zM77 91h3v1h-3zM86 91h4v1h-4zM91 91h4v1h-4zM96 91h2v1h-2zM47 90h3v1h-3zM51 90h1v1h-1zM53 90h2v1h-2zM56 90h1v1h-1zM59 90h2v1h-2zM62 90h1v1h-1zM64 90h2v1h-2zM67 90h1v1h-1zM69 90h1v1h-1zM73 90h1v1h-1zM77 90h3v1h-3zM81 90h1v1h-1zM83 90h1v1h-1zM86 90h4v1h-4zM91 90h3v1h-3zM96 90h2v1h-2zM49 89h3v1h-3zM55 89h2v1h-2zM58 89h1v1h-1zM61 89h1v1h-1zM64 89h3v1h-3zM69 89h1v1h-1zM71 89h1v1h-1zM76 89h1v1h-1zM81 89h5v1h-5zM90 89h1v1h-1zM95 89h1v1h-1zM47 88h3v1h-3zM51 88h1v1h-1zM54 88h1v1h-1zM56 88h1v1h-1zM58 88h5v1h-5zM64 88h4v1h-4zM69 88h1v1h-1zM73 88h1v1h-1zM76 88h2v1h-2zM79 88h1v1h-1zM81 88h2v1h-2zM84 88h1v1h-1zM87 88h2v1h-2zM92 88h1v1h-1zM94 88h2v1h-2zM97 88h1v1h-1zM47 87h3v1h-3zM52 87h3v1h-3zM56 87h1v1h-1zM59 87h2v1h-2zM62 87h2v1h-2zM65 87h1v1h-1zM67 87h1v1h-1zM73 87h3v1h-3zM77 87h3v1h-3zM86 87h4v1h-4zM91 87h4v1h-4zM96 87h2v1h-2zM47 86h3v1h-3zM51 86h1v1h-1zM55 86h2v1h-2zM58 86h2v1h-2zM61 86h2v1h-2zM64 86h2v1h-2zM67 86h1v1h-1zM69 86h1v1h-1zM73 86h1v1h-1zM76 86h4v1h-4zM81 86h5v1h-5zM91 86h2v1h-2zM94 86h4v1h-4zM47 85h3v1h-3zM51 85h1v1h-1zM54 85h1v1h-1zM56 85h1v1h-1zM58 85h5v1h-5zM64 85h4v1h-4zM69 85h1v1h-1zM73 85h1v1h-1zM76 85h4v1h-4zM81 85h4v1h-4zM86 85h2v1h-2zM89 85h1v1h-1zM92 85h1v1h-1zM94 85h2v1h-2zM97 85h1v1h-1zM50 84h1v1h-1zM55 84h1v1h-1zM58 84h1v1h-1zM61 84h1v1h-1zM64 84h1v1h-1zM66 84h1v1h-1zM69 84h1v1h-1zM71 84h2v1h-2zM76 84h1v1h-1zM81 84h5v1h-5zM90 84h1v1h-1zM95 84h1v1h-1zM46 83h3v1h-3zM52 83h3v1h-3zM56 83h1v1h-1zM60 83h1v1h-1zM63 83h1v1h-1zM73 83h3v1h-3zM77 83h2v1h-2zM86 83h1v1h-1zM88 83h2v1h-2zM91 83h1v1h-1zM93 83h2v1h-2zM96 83h2v1h-2zM47 82h3v1h-3zM51 82h1v1h-1zM53 82h2v1h-2zM56 82h1v1h-1zM59 82h2v1h-2zM62 82h2v1h-2zM65 82h1v1h-1zM67 82h1v1h-1zM73 82h1v1h-1zM77 82h3v1h-3zM81 82h2v1h-2zM86 82h4v1h-4zM91 82h4v1h-4zM96 82h2v1h-2zM50 81h1v1h-1zM55 81h1v1h-1zM61 81h1v1h-1zM66 81h1v1h-1zM71 81h2v1h-2zM76 81h1v1h-1zM80 81h1v1h-1zM83 81h1v1h-1zM90 81h1v1h-1zM95 81h1v1h-1zM57 80h1v1h-1zM72 80h1v1h-1zM80 80h1v1h-1zM46 79h3v1h-3zM52 79h3v1h-3zM60 79h1v1h-1zM63 79h1v1h-1zM73 79h3v1h-3zM78 79h2v1h-2zM86 79h4v1h-4zM91 79h1v1h-1zM93 79h2v1h-2zM96 79h2v1h-2zM50 78h2v1h-2zM55 78h1v1h-1zM58 78h1v1h-1zM61 78h1v1h-1zM64 78h1v1h-1zM66 78h1v1h-1zM69 78h1v1h-1zM71 78h2v1h-2zM76 78h1v1h-1zM80 78h1v1h-1zM82 78h4v1h-4zM90 78h1v1h-1zM95 78h1v1h-1zM47 77h3v1h-3zM51 77h1v1h-1zM53 77h2v1h-2zM56 77h1v1h-1zM59 77h2v1h-2zM62 77h2v1h-2zM65 77h1v1h-1zM67 77h1v1h-1zM73 77h1v1h-1zM77 77h3v1h-3zM86 77h4v1h-4zM91 77h4v1h-4zM96 77h2v1h-2zM47 76h3v1h-3zM51 76h1v1h-1zM53 76h2v1h-2zM56 76h1v1h-1zM58 76h3v1h-3zM62 76h4v1h-4zM67 76h1v1h-1zM69 76h1v1h-1zM73 76h1v1h-1zM77 76h3v1h-3zM81 76h1v1h-1zM86 76h4v1h-4zM91 76h4v1h-4zM96 76h2v1h-2zM47 75h3v1h-3zM51 75h1v1h-1zM53 75h2v1h-2zM56 75h1v1h-1zM59 75h2v1h-2zM62 75h2v1h-2zM65 75h1v1h-1zM67 75h1v1h-1zM73 75h1v1h-1zM77 75h3v1h-3zM81 75h1v1h-1zM86 75h4v1h-4zM91 75h4v1h-4zM96 75h2v1h-2zM47 74h3v1h-3zM51 74h1v1h-1zM53 74h2v1h-2zM56 74h1v1h-1zM58 74h3v1h-3zM62 74h1v1h-1zM64 74h2v1h-2zM67 74h1v1h-1zM69 74h1v1h-1zM77 74h3v1h-3zM81 74h4v1h-4zM87 74h1v1h-1zM89 74h4v1h-4zM94 74h4v1h-4zM50 73h1v1h-1zM55 73h1v1h-1zM61 73h1v1h-1zM66 73h1v1h-1zM69 73h1v1h-1zM71 73h2v1h-2zM76 73h1v1h-1zM81 73h5v1h-5zM90 73h1v1h-1zM50 72h1v1h-1zM55 72h1v1h-1zM58 72h1v1h-1zM61 72h1v1h-1zM64 72h1v1h-1zM66 72h1v1h-1zM69 72h1v1h-1zM71 72h2v1h-2zM76 72h1v1h-1zM82 72h4v1h-4zM90 72h1v1h-1zM95 72h1v1h-1zM47 71h1v1h-1zM51 71h1v1h-1zM55 71h1v1h-1zM58 71h2v1h-2zM61 71h1v1h-1zM64 71h4v1h-4zM69 71h1v1h-1zM71 71h1v1h-1zM76 71h1v1h-1zM81 71h3v1h-3zM85 71h1v1h-1zM87 71h1v1h-1zM90 71h1v1h-1zM92 71h1v1h-1zM95 71h1v1h-1zM47 70h3v1h-3zM51 70h1v1h-1zM53 70h2v1h-2zM56 70h1v1h-1zM58 70h2v1h-2zM62 70h1v1h-1zM64 70h2v1h-2zM67 70h1v1h-1zM69 70h1v1h-1zM73 70h1v1h-1zM76 70h4v1h-4zM81 70h5v1h-5zM87 70h1v1h-1zM91 70h2v1h-2zM94 70h1v1h-1zM96 70h1v1h-1zM49 69h1v1h-1zM51 69h1v1h-1zM55 69h2v1h-2zM58 69h2v1h-2zM61 69h1v1h-1zM64 69h4v1h-4zM69 69h1v1h-1zM71 69h1v1h-1zM76 69h2v1h-2zM79 69h1v1h-1zM81 69h5v1h-5zM87 69h1v1h-1zM90 69h1v1h-1zM92 69h1v1h-1zM95 69h1v1h-1zM47 68h3v1h-3zM51 68h1v1h-1zM54 68h1v1h-1zM56 68h1v1h-1zM58 68h2v1h-2zM61 68h1v1h-1zM64 68h2v1h-2zM67 68h1v1h-1zM69 68h1v1h-1zM76 68h3v1h-3zM81 68h5v1h-5zM87 68h1v1h-1zM90 68h1v1h-1zM92 68h1v1h-1zM95 68h1v1h-1zM50 67h1v1h-1zM55 67h1v1h-1zM61 67h1v1h-1zM66 67h1v1h-1zM69 67h1v1h-1zM71 67h2v1h-2zM76 67h1v1h-1zM82 67h4v1h-4zM90 67h1v1h-1zM95 67h1v1h-1zM47 66h3v1h-3zM51 66h1v1h-1zM53 66h2v1h-2zM56 66h1v1h-1zM58 66h3v1h-3zM62 66h1v1h-1zM64 66h2v1h-2zM67 66h1v1h-1zM69 66h1v1h-1zM73 66h1v1h-1zM76 66h4v1h-4zM81 66h3v1h-3zM86 66h4v1h-4zM91 66h4v1h-4zM96 66h2v1h-2zM47 65h3v1h-3zM51 65h1v1h-1zM55 65h2v1h-2zM58 65h2v1h-2zM61 65h2v1h-2zM64 65h2v1h-2zM67 65h1v1h-1zM69 65h1v1h-1zM76 65h2v1h-2zM79 65h1v1h-1zM81 65h5v1h-5zM87 65h1v1h-1zM90 65h1v1h-1zM92 65h1v1h-1zM95 65h1v1h-1zM47 64h1v1h-1zM49 64h1v1h-1zM51 64h1v1h-1zM56 64h1v1h-1zM58 64h2v1h-2zM61 64h1v1h-1zM64 64h4v1h-4zM69 64h1v1h-1zM73 64h1v1h-1zM76 64h2v1h-2zM79 64h1v1h-1zM81 64h3v1h-3zM85 64h1v1h-1zM87 64h1v1h-1zM89 64h1v1h-1zM92 64h1v1h-1zM95 64h1v1h-1zM97 64h1v1h-1zM47 63h1v1h-1zM49 63h1v1h-1zM51 63h1v1h-1zM55 63h2v1h-2zM58 63h2v1h-2zM61 63h2v1h-2zM64 63h4v1h-4zM69 63h1v1h-1zM76 63h2v1h-2zM79 63h1v1h-1zM81 63h5v1h-5zM87 63h1v1h-1zM90 63h1v1h-1zM95 63h1v1h-1zM97 63h1v1h-1zM50 62h2v1h-2zM55 62h1v1h-1zM58 62h2v1h-2zM61 62h2v1h-2zM64 62h1v1h-1zM66 62h2v1h-2zM69 62h1v1h-1zM76 62h1v1h-1zM81 62h5v1h-5zM87 62h1v1h-1zM90 62h1v1h-1zM92 62h1v1h-1zM95 62h1v1h-1zM49 61h1v1h-1zM51 61h1v1h-1zM55 61h2v1h-2zM58 61h2v1h-2zM61 61h1v1h-1zM64 61h3v1h-3zM69 61h1v1h-1zM76 61h2v1h-2zM82 61h4v1h-4zM87 61h1v1h-1zM90 61h1v1h-1zM92 61h1v1h-1zM95 61h1v1h-1zM50 60h1v1h-1zM55 60h1v1h-1zM57 60h1v1h-1zM66 60h1v1h-1zM71 60h2v1h-2zM80 60h1v1h-1zM85 60h1v1h-1zM90 60h1v1h-1zM47 59h1v1h-1zM49 59h3v1h-3zM55 59h2v1h-2zM58 59h5v1h-5zM64 59h3v1h-3zM69 59h1v1h-1zM71 59h1v1h-1zM76 59h1v1h-1zM81 59h5v1h-5zM90 59h1v1h-1zM92 59h1v1h-1zM95 59h1v1h-1zM14 51h1v1h-1zM18 51h1v1h-1zM1 50h1v1h-1zM6 50h2v1h-2zM9 50h4v1h-4zM14 50h2v1h-2zM18 50h1v1h-1zM20 50h4v1h-4zM26 50h2v1h-2zM29 50h1v1h-1zM31 50h4v1h-4zM38 50h1v1h-1zM1 49h1v1h-1zM3 49h1v1h-1zM6 49h2v1h-2zM9 49h4v1h-4zM14 49h2v1h-2zM18 49h1v1h-1zM20 49h4v1h-4zM27 49h1v1h-1zM29 49h1v1h-1zM31 49h2v1h-2zM1 48h1v1h-1zM3 48h2v1h-2zM6 48h7v1h-7zM15 48h1v1h-1zM20 48h4v1h-4zM27 48h3v1h-3zM31 48h4v1h-4zM36 48h1v1h-1zM38 48h1v1h-1zM0 47h1v1h-1zM4 47h1v1h-1zM8 47h1v1h-1zM13 47h1v1h-1zM16 47h1v1h-1zM19 47h1v1h-1zM24 47h2v1h-2zM30 47h1v1h-1zM35 47h1v1h-1zM37 47h2v1h-2zM1 46h1v1h-1zM3 46h2v1h-2zM6 46h4v1h-4zM11 46h2v1h-2zM15 46h1v1h-1zM19 46h5v1h-5zM26 46h4v1h-4zM31 46h6v1h-6zM38 46h1v1h-1zM10 45h1v1h-1zM14 45h1v1h-1zM18 45h1v1h-1zM3 44h1v1h-1zM6 44h2v1h-2zM10 44h1v1h-1zM14 44h2v1h-2zM18 44h1v1h-1zM20 44h4v1h-4zM27 44h1v1h-1zM31 44h1v1h-1zM1 43h1v1h-1zM6 43h2v1h-2zM9 43h2v1h-2zM12 43h1v1h-1zM14 43h2v1h-2zM18 43h1v1h-1zM20 43h4v1h-4zM27 43h1v1h-1zM29 43h1v1h-1zM31 43h1v1h-1zM0 42h1v1h-1zM3 42h2v1h-2zM8 42h1v1h-1zM11 42h1v1h-1zM13 42h1v1h-1zM16 42h1v1h-1zM19 42h1v1h-1zM24 42h3v1h-3zM28 42h1v1h-1zM30 42h1v1h-1zM32 42h1v1h-1zM34 42h5v1h-5zM1 41h1v1h-1zM3 41h1v1h-1zM6 41h7v1h-7zM14 41h2v1h-2zM20 41h4v1h-4zM27 41h3v1h-3zM31 41h4v1h-4zM36 41h1v1h-1zM38 41h1v1h-1zM2 40h1v1h-1zM5 40h1v1h-1zM17 40h1v1h-1zM37 40h1v1h-1zM0 39h2v1h-2zM3 39h2v1h-2zM8 39h2v1h-2zM11 39h3v1h-3zM19 39h1v1h-1zM21 39h1v1h-1zM23 39h1v1h-1zM25 39h5v1h-5zM31 39h6v1h-6zM38 39h1v1h-1zM1 38h1v1h-1zM3 38h2v1h-2zM6 38h2v1h-2zM9 38h4v1h-4zM15 38h1v1h-1zM20 38h4v1h-4zM26 38h4v1h-4zM31 38h6v1h-6zM38 38h1v1h-1zM1 37h1v1h-1zM3 37h1v1h-1zM6 37h2v1h-2zM9 37h2v1h-2zM12 37h1v1h-1zM14 37h2v1h-2zM18 37h1v1h-1zM20 37h4v1h-4zM31 37h1v1h-1zM38 37h1v1h-1zM0 36h2v1h-2zM3 36h2v1h-2zM8 36h2v1h-2zM11 36h3v1h-3zM16 36h1v1h-1zM19 36h1v1h-1zM24 36h3v1h-3zM28 36h3v1h-3zM32 36h5v1h-5zM38 36h1v1h-1zM1 35h1v1h-1zM3 35h1v1h-1zM6 35h2v1h-2zM9 35h4v1h-4zM15 35h1v1h-1zM20 35h4v1h-4zM27 35h1v1h-1zM31 35h2v1h-2zM34 35h2v1h-2zM38 35h1v1h-1zM6 34h1v1h-1zM10 34h1v1h-1zM14 34h2v1h-2zM18 34h1v1h-1zM20 34h3v1h-3zM0 33h2v1h-2zM3 33h2v1h-2zM7 33h3v1h-3zM11 33h3v1h-3zM19 33h1v1h-1zM21 33h1v1h-1zM23 33h1v1h-1zM25 33h5v1h-5zM31 33h6v1h-6zM38 33h1v1h-1zM0 32h2v1h-2zM3 32h2v1h-2zM6 32h7v1h-7zM15 32h1v1h-1zM20 32h4v1h-4zM26 32h4v1h-4zM31 32h4v1h-4zM36 32h1v1h-1zM38 32h1v1h-1zM0 31h1v1h-1zM3 31h2v1h-2zM8 31h2v1h-2zM12 31h2v1h-2zM16 31h1v1h-1zM19 31h1v1h-1zM24 31h3v1h-3zM28 31h1v1h-1zM30 31h1v1h-1zM33 31h6v1h-6zM1 30h1v1h-1zM3 30h2v1h-2zM6 30h2v1h-2zM9 30h4v1h-4zM15 30h1v1h-1zM20 30h4v1h-4zM26 30h4v1h-4zM31 30h5v1h-5zM0 28h2v1h-2zM3 28h2v1h-2zM7 28h3v1h-3zM11 28h3v1h-3zM19 28h1v1h-1zM21 28h1v1h-1zM23 28h14v1h-14zM38 28h1v1h-1zM0 26h1v1h-1zM5 26h1v1h-1zM8 26h1v1h-1zM13 26h1v1h-1zM16 26h1v1h-1zM19 26h1v1h-1zM24 26h3v1h-3zM28 26h1v1h-1zM30 26h1v1h-1zM37 26h2v1h-2zM5 25h1v1h-1zM13 25h1v1h-1zM16 25h2v1h-2zM19 25h1v1h-1zM24 25h2v1h-2zM30 25h1v1h-1zM37 25h1v1h-1zM3 24h1v1h-1zM6 24h2v1h-2zM9 24h4v1h-4zM14 24h2v1h-2zM18 24h1v1h-1zM20 24h3v1h-3zM27 24h1v1h-1zM31 24h1v1h-1zM33 24h1v1h-1zM10 23h1v1h-1zM14 23h1v1h-1zM18 23h1v1h-1zM10 22h1v1h-1zM14 22h1v1h-1zM18 22h1v1h-1zM0 21h2v1h-2zM3 21h2v1h-2zM8 21h2v1h-2zM11 21h3v1h-3zM16 21h1v1h-1zM19 21h1v1h-1zM24 21h13v1h-13zM38 21h1v1h-1zM1 20h1v1h-1zM3 20h2v1h-2zM6 20h2v1h-2zM9 20h4v1h-4zM14 20h2v1h-2zM20 20h4v1h-4zM27 20h3v1h-3zM31 20h4v1h-4zM36 20h1v1h-1zM1 19h1v1h-1zM3 19h1v1h-1zM6 19h2v1h-2zM10 19h3v1h-3zM14 19h2v1h-2zM18 19h1v1h-1zM20 19h4v1h-4zM27 19h1v1h-1zM29 19h1v1h-1zM31 19h1v1h-1zM1 18h1v1h-1zM3 18h1v1h-1zM6 18h2v1h-2zM9 18h4v1h-4zM15 18h1v1h-1zM18 18h1v1h-1zM20 18h4v1h-4zM27 18h2v1h-2zM31 18h4v1h-4zM2 17h1v1h-1zM5 17h1v1h-1zM16 17h2v1h-2zM19 17h1v1h-1zM37 17h1v1h-1zM1 16h1v1h-1zM3 16h2v1h-2zM7 16h3v1h-3zM11 16h3v1h-3zM15 16h1v1h-1zM21 16h4v1h-4zM26 16h4v1h-4zM31 16h5v1h-5zM38 16h1v1h-1zM0 15h2v1h-2zM3 15h2v1h-2zM8 15h2v1h-2zM11 15h3v1h-3zM15 15h1v1h-1zM19 15h1v1h-1zM23 15h14v1h-14zM38 15h1v1h-1zM0 14h2v1h-2zM3 14h2v1h-2zM7 14h2v1h-2zM11 14h3v1h-3zM16 14h1v1h-1zM19 14h1v1h-1zM23 14h14v1h-14zM38 14h1v1h-1zM0 13h1v1h-1zM3 13h2v1h-2zM8 13h2v1h-2zM11 13h3v1h-3zM19 13h1v1h-1zM23 13h3v1h-3zM27 13h4v1h-4zM32 13h1v1h-1zM34 13h3v1h-3zM38 13h1v1h-1zM0 12h2v1h-2zM4 12h1v1h-1zM8 12h1v1h-1zM11 12h1v1h-1zM13 12h1v1h-1zM19 12h1v1h-1zM24 12h7v1h-7zM32 12h7v1h-7zM6 11h2v1h-2zM10 11h1v1h-1zM12 11h1v1h-1zM14 11h2v1h-2zM18 11h1v1h-1zM20 11h3v1h-3zM31 11h1v1h-1zM1 10h1v1h-1zM3 10h2v1h-2zM6 10h2v1h-2zM9 10h2v1h-2zM12 10h1v1h-1zM15 10h1v1h-1zM18 10h1v1h-1zM20 10h4v1h-4zM26 10h4v1h-4zM31 10h6v1h-6zM6 9h2v1h-2zM9 9h2v1h-2zM14 9h2v1h-2zM18 9h1v1h-1zM20 9h3v1h-3zM31 9h1v1h-1zM1 8h1v1h-1zM6 8h2v1h-2zM10 8h1v1h-1zM12 8h1v1h-1zM14 8h2v1h-2zM18 8h1v1h-1zM20 8h4v1h-4zM31 8h1v1h-1zM33 8h1v1h-1zM0 7h1v1h-1zM8 7h1v1h-1zM13 7h1v1h-1zM16 7h1v1h-1zM19 7h1v1h-1zM23 7h4v1h-4zM28 7h3v1h-3zM32 7h1v1h-1zM34 7h5v1h-5zM3 6h1v1h-1zM6 6h2v1h-2zM10 6h2v1h-2zM14 6h2v1h-2zM18 6h1v1h-1zM20 6h4v1h-4zM27 6h1v1h-1zM31 6h1v1h-1zM1 5h1v1h-1zM3 5h2v1h-2zM6 5h2v1h-2zM9 5h4v1h-4zM15 5h1v1h-1zM20 5h4v1h-4zM26 5h4v1h-4zM31 5h3v1h-3zM35 5h2v1h-2zM38 5h1v1h-1zM1 4h1v1h-1zM3 4h1v1h-1zM6 4h2v1h-2zM10 4h1v1h-1zM14 4h2v1h-2zM18 4h1v1h-1zM20 4h3v1h-3zM31 4h1v1h-1zM1 3h1v1h-1zM6 3h1v1h-1zM9 3h4v1h-4zM14 3h2v1h-2zM18 3h1v1h-1zM20 3h4v1h-4zM27 3h1v1h-1zM31 3h1v1h-1zM0 2h2v1h-2zM3 2h2v1h-2zM8 2h2v1h-2zM11 2h3v1h-3zM16 2h1v1h-1zM19 2h1v1h-1zM23 2h1v1h-1zM25 2h2v1h-2zM28 2h3v1h-3zM32 2h5v1h-5zM38 2h1v1h-1zM1 1h1v1h-1zM3 1h1v1h-1zM6 1h2v1h-2zM10 1h2v1h-2zM14 1h2v1h-2zM18 1h1v1h-1zM20 1h4v1h-4zM27 1h1v1h-1zM31 1h1v1h-1zM1 0h1v1h-1zM6 0h2v1h-2zM9 0h4v1h-4zM14 0h2v1h-2zM18 0h1v1h-1zM20 0h4v1h-4zM31 0h1v1h-1zM33 0h2v1h-2z"/>
<path fill="#d57d5d" d="M57 97h1v1h-1zM72 97h1v1h-1zM80 97h1v1h-1zM50 96h1v1h-1zM55 96h1v1h-1zM57 96h1v1h-1zM66 96h1v1h-1zM71 96h2v1h-2zM80 96h1v1h-1zM84 96h1v1h-1zM90 96h1v1h-1zM50 94h1v1h-1zM57 94h1v1h-1zM71 94h2v1h-2zM80 94h1v1h-1zM85 94h1v1h-1zM90 94h1v1h-1zM57 93h1v1h-1zM71 93h2v1h-2zM80 93h1v1h-1zM90 93h1v1h-1zM50 91h1v1h-1zM55 91h1v1h-1zM57 91h2v1h-2zM61 91h1v1h-1zM64 91h1v1h-1zM66 91h1v1h-1zM69 91h1v1h-1zM71 91h2v1h-2zM76 91h1v1h-1zM80 91h6v1h-6zM90 91h1v1h-1zM95 91h1v1h-1zM50 90h1v1h-1zM55 90h1v1h-1zM57 90h2v1h-2zM61 90h1v1h-1zM66 90h1v1h-1zM71 90h2v1h-2zM76 90h1v1h-1zM80 90h1v1h-1zM82 90h1v1h-1zM84 90h2v1h-2zM90 90h1v1h-1zM95 90h1v1h-1zM57 89h1v1h-1zM72 89h1v1h-1zM80 89h1v1h-1zM50 88h1v1h-1zM55 88h1v1h-1zM57 88h1v1h-1zM71 88h2v1h-2zM80 88h1v1h-1zM83 88h1v1h-1zM85 88h1v1h-1zM90 88h1v1h-1zM50 87h2v1h-2zM55 87h1v1h-1zM57 87h2v1h-2zM61 87h1v1h-1zM64 87h1v1h-1zM66 87h1v1h-1zM69 87h1v1h-1zM71 87h2v1h-2zM76 87h1v1h-1zM80 87h6v1h-6zM90 87h1v1h-1zM95 87h1v1h-1zM50 86h1v1h-1zM57 86h1v1h-1zM66 86h1v1h-1zM71 86h2v1h-2zM80 86h1v1h-1zM90 86h1v1h-1zM50 85h1v1h-1zM55 85h1v1h-1zM57 85h1v1h-1zM71 85h2v1h-2zM80 85h1v1h-1zM85 85h1v1h-1zM90 85h1v1h-1zM57 84h1v1h-1zM80 84h1v1h-1zM49 83h3v1h-3zM55 83h1v1h-1zM57 83h3v1h-3zM61 83h2v1h-2zM64 83h4v1h-4zM69 83h1v1h-1zM71 83h2v1h-2zM76 83h1v1h-1zM79 83h7v1h-7zM87 83h1v1h-1zM90 83h1v1h-1zM92 83h1v1h-1zM95 83h1v1h-1zM50 82h1v1h-1zM55 82h1v1h-1zM57 82h2v1h-2zM61 82h1v1h-1zM64 82h1v1h-1zM66 82h1v1h-1zM69 82h1v1h-1zM71 82h2v1h-2zM76 82h1v1h-1zM80 82h1v1h-1zM83 82h3v1h-3zM90 82h1v1h-1zM95 82h1v1h-1zM57 81h1v1h-1zM49 79h3v1h-3zM55 79h5v1h-5zM61 79h2v1h-2zM64 79h4v1h-4zM69 79h1v1h-1zM71 79h2v1h-2zM76 79h2v1h-2zM80 79h6v1h-6zM90 79h1v1h-1zM92 79h1v1h-1zM95 79h1v1h-1zM57 78h1v1h-1zM50 77h1v1h-1zM55 77h1v1h-1zM57 77h2v1h-2zM61 77h1v1h-1zM64 77h1v1h-1zM66 77h1v1h-1zM69 77h1v1h-1zM71 77h2v1h-2zM76 77h1v1h-1zM80 77h6v1h-6zM90 77h1v1h-1zM95 77h1v1h-1zM50 76h1v1h-1zM55 76h1v1h-1zM57 76h1v1h-1zM61 76h1v1h-1zM66 76h1v1h-1zM71 76h2v1h-2zM76 76h1v1h-1zM80 76h1v1h-1zM82 76h4v1h-4zM90 76h1v1h-1zM95 76h1v1h-1zM50 75h1v1h-1zM55 75h1v1h-1zM57 75h2v1h-2zM61 75h1v1h-1zM64 75h1v1h-1zM66 75h1v1h-1zM69 75h1v1h-1zM71 75h2v1h-2zM76 75h1v1h-1zM80 75h1v1h-1zM82 75h4v1h-4zM90 75h1v1h-1zM95 75h1v1h-1zM50 74h1v1h-1zM55 74h1v1h-1zM57 74h1v1h-1zM61 74h1v1h-1zM66 74h1v1h-1zM71 74h2v1h-2zM76 74h1v1h-1zM80 74h1v1h-1zM85 74h1v1h-1zM57 73h1v1h-1zM80 73h1v1h-1zM57 72h1v1h-1zM80 72h1v1h-1zM50 71h1v1h-1zM57 71h1v1h-1zM72 71h1v1h-1zM80 71h1v1h-1zM84 71h1v1h-1zM50 70h1v1h-1zM55 70h1v1h-1zM57 70h1v1h-1zM61 70h1v1h-1zM66 70h1v1h-1zM71 70h2v1h-2zM80 70h1v1h-1zM90 70h1v1h-1zM95 70h1v1h-1zM50 69h1v1h-1zM57 69h1v1h-1zM72 69h1v1h-1zM80 69h1v1h-1zM50 68h1v1h-1zM55 68h1v1h-1zM57 68h1v1h-1zM66 68h1v1h-1zM71 68h2v1h-2zM80 68h1v1h-1zM57 67h1v1h-1zM80 67h1v1h-1zM50 66h1v1h-1zM55 66h1v1h-1zM57 66h1v1h-1zM61 66h1v1h-1zM66 66h1v1h-1zM71 66h2v1h-2zM80 66h1v1h-1zM84 66h2v1h-2zM90 66h1v1h-1zM95 66h1v1h-1zM50 65h1v1h-1zM57 65h1v1h-1zM66 65h1v1h-1zM71 65h2v1h-2zM80 65h1v1h-1zM50 64h1v1h-1zM55 64h1v1h-1zM57 64h1v1h-1zM71 64h2v1h-2zM80 64h1v1h-1zM84 64h1v1h-1zM90 64h1v1h-1zM50 63h1v1h-1zM57 63h1v1h-1zM71 63h2v1h-2zM80 63h1v1h-1zM57 62h1v1h-1zM71 62h2v1h-2zM80 62h1v1h-1zM50 61h1v1h-1zM57 61h1v1h-1zM71 61h2v1h-2zM80 61h1v1h-1zM57 59h1v1h-1zM72 59h1v1h-1zM80 59h1v1h-1zM14 48h1v1h-1zM18 48h1v1h-1zM1 47h1v1h-1zM3 47h1v1h-1zM6 47h2v1h-2zM9 47h4v1h-4zM14 47h2v1h-2zM18 47h1v1h-1zM20 47h4v1h-4zM26 47h4v1h-4zM31 47h4v1h-4zM36 47h1v1h-1zM10 46h1v1h-1zM14 46h1v1h-1zM18 46h1v1h-1zM1 42h1v1h-1zM6 42h2v1h-2zM9 42h2v1h-2zM12 42h1v1h-1zM14 42h2v1h-2zM18 42h1v1h-1zM20 42h4v1h-4zM27 42h1v1h-1zM29 42h1v1h-1zM31 42h1v1h-1zM33 42h1v1h-1zM18 41h1v1h-1zM0 40h2v1h-2zM3 40h2v1h-2zM6 40h11v1h-11zM18 40h19v1h-19zM38 40h1v1h-1zM6 39h2v1h-2zM10 39h1v1h-1zM14 39h2v1h-2zM18 39h1v1h-1zM20 39h1v1h-1zM22 39h1v1h-1zM14 38h1v1h-1zM18 38h1v1h-1zM6 36h2v1h-2zM10 36h1v1h-1zM14 36h2v1h-2zM18 36h1v1h-1zM20 36h4v1h-4zM27 36h1v1h-1zM31 36h1v1h-1zM14 35h1v1h-1zM18 35h1v1h-1zM6 33h1v1h-1zM10 33h1v1h-1zM14 33h2v1h-2zM18 33h1v1h-1zM20 33h1v1h-1zM22 33h1v1h-1zM14 32h1v1h-1zM18 32h1v1h-1zM1 31h1v1h-1zM6 31h2v1h-2zM10 31h2v1h-2zM14 31h2v1h-2zM18 31h1v1h-1zM20 31h4v1h-4zM27 31h1v1h-1zM29 31h1v1h-1zM31 31h2v1h-2zM14 30h1v1h-1zM18 30h1v1h-1zM6 28h1v1h-1zM10 28h1v1h-1zM14 28h2v1h-2zM18 28h1v1h-1zM20 28h1v1h-1zM22 28h1v1h-1zM1 26h1v1h-1zM3 26h2v1h-2zM6 26h2v1h-2zM9 26h4v1h-4zM14 26h2v1h-2zM18 26h1v1h-1zM20 26h4v1h-4zM27 26h1v1h-1zM29 26h1v1h-1zM31 26h6v1h-6zM0 25h2v1h-2zM3 25h2v1h-2zM6 25h7v1h-7zM14 25h2v1h-2zM18 25h1v1h-1zM20 25h4v1h-4zM26 25h4v1h-4zM31 25h6v1h-6zM38 25h1v1h-1zM6 21h2v1h-2zM10 21h1v1h-1zM14 21h2v1h-2zM18 21h1v1h-1zM20 21h4v1h-4zM18 20h1v1h-1zM14 18h1v1h-1zM0 17h2v1h-2zM3 17h2v1h-2zM6 17h10v1h-10zM18 17h1v1h-1zM20 17h17v1h-17zM38 17h1v1h-1zM6 16h1v1h-1zM10 16h1v1h-1zM14 16h1v1h-1zM18 16h1v1h-1zM20 16h1v1h-1zM6 15h2v1h-2zM10 15h1v1h-1zM14 15h1v1h-1zM18 15h1v1h-1zM20 15h3v1h-3zM6 14h1v1h-1zM9 14h2v1h-2zM14 14h2v1h-2zM18 14h1v1h-1zM20 14h3v1h-3zM1 13h1v1h-1zM6 13h2v1h-2zM10 13h1v1h-1zM14 13h2v1h-2zM18 13h1v1h-1zM20 13h3v1h-3zM26 13h1v1h-1zM31 13h1v1h-1zM33 13h1v1h-1zM3 12h1v1h-1zM6 12h2v1h-2zM9 12h2v1h-2zM12 12h1v1h-1zM14 12h2v1h-2zM18 12h1v1h-1zM20 12h4v1h-4zM31 12h1v1h-1zM14 10h1v1h-1zM1 7h1v1h-1zM3 7h2v1h-2zM6 7h2v1h-2zM9 7h4v1h-4zM14 7h2v1h-2zM18 7h1v1h-1zM20 7h3v1h-3zM27 7h1v1h-1zM31 7h1v1h-1zM33 7h1v1h-1zM14 5h1v1h-1zM18 5h1v1h-1zM6 2h2v1h-2zM10 2h1v1h-1zM14 2h2v1h-2zM18 2h1v1h-1zM20 2h3v1h-3zM27 2h1v1h-1zM31 2h1v1h-1z"/>
</g>
<line x1="332.6" y1="648.5" x2="332.6" y2="1187" stroke="#95503b" stroke-width="3.5" />
<line x1="380.8" y1="648.5" x2="380.8" y2="1187" stroke="#95503b" stroke-width="3.5" />
<line x1="112.5" y1="916.3" x2="650" y2="916.3" stroke="#95503b" stroke-width="3.5" />
<line x1="112.5" y1="964.3" x2="650" y2="964.3" stroke="#95503b" stroke-width="3.5" />
<line x1="816" y1="649" x2="816" y2="1183.5" stroke="#111" stroke-width="3.8" />
<line x1="814.2" y1="1182" x2="1339.8" y2="1182" stroke="#111" stroke-width="3.4" />
<line x1="829.8" y1="1183.6" x2="829.8" y2="1187.4" stroke="#3c4244" stroke-width="3" />
<text x="828.9" y="1220" font-size="41" text-anchor="middle" font-weight="normal" fill="#111">0</text>
<line x1="927" y1="1183.6" x2="927" y2="1187.4" stroke="#3c4244" stroke-width="3" />
<text x="926.1" y="1220" font-size="41" text-anchor="middle" font-weight="normal" fill="#111">20</text>
<line x1="1024.3" y1="1183.6" x2="1024.3" y2="1187.4" stroke="#3c4244" stroke-width="3" />
<text x="1023.4" y="1220" font-size="41" text-anchor="middle" font-weight="normal" fill="#111">40</text>
<line x1="1121.5" y1="1183.6" x2="1121.5" y2="1187.4" stroke="#3c4244" stroke-width="3" />
<text x="1120.6" y="1220" font-size="41" text-anchor="middle" font-weight="normal" fill="#111">60</text>
<line x1="1218.8" y1="1183.6" x2="1218.8" y2="1187.4" stroke="#3c4244" stroke-width="3" />
<text x="1217.9" y="1220" font-size="41" text-anchor="middle" font-weight="normal" fill="#111">80</text>
<line x1="1316" y1="1183.6" x2="1316" y2="1187.4" stroke="#3c4244" stroke-width="3" />
<text x="1315.1" y="1220" font-size="41" text-anchor="middle" font-weight="normal" fill="#111">100</text>
<line x1="810.4" y1="674.1" x2="814.2" y2="674.1" stroke="#3c4244" stroke-width="3" />
<text x="797.8" y="686.8" font-size="41.5" text-anchor="end" font-weight="normal" fill="#111">100</text>
<line x1="810.4" y1="773" x2="814.2" y2="773" stroke="#3c4244" stroke-width="3" />
<text x="797.8" y="785.7" font-size="41.5" text-anchor="end" font-weight="normal" fill="#111">80</text>
<line x1="810.4" y1="871.8" x2="814.2" y2="871.8" stroke="#3c4244" stroke-width="3" />
<text x="797.8" y="884.5" font-size="41.5" text-anchor="end" font-weight="normal" fill="#111">60</text>
<line x1="810.4" y1="970.6" x2="814.2" y2="970.6" stroke="#3c4244" stroke-width="3" />
<text x="797.8" y="983.4" font-size="41.5" text-anchor="end" font-weight="normal" fill="#111">40</text>
<line x1="810.4" y1="1069.5" x2="814.2" y2="1069.5" stroke="#3c4244" stroke-width="3" />
<text x="797.8" y="1082.2" font-size="41.5" text-anchor="end" font-weight="normal" fill="#111">20</text>
<line x1="810.4" y1="1168.3" x2="814.2" y2="1168.3" stroke="#3c4244" stroke-width="3" />
<text x="797.8" y="1181" font-size="41.5" text-anchor="end" font-weight="normal" fill="#111">0</text>
<g transform="translate(842.1 675.6) scale(4.8691 4.9443)" shape-rendering="crispEdges">
<rect width="97" height="97" fill="#e8b17e"/>
<path fill="#fbe5a0" d="M0 96h1v1h-1zM1 95h1v1h-1zM2 94h1v1h-1zM3 93h1v1h-1zM4 92h1v1h-1zM5 91h1v1h-1zM6 90h1v1h-1zM7 89h1v1h-1zM8 88h1v1h-1zM9 87h1v1h-1zM10 86h1v1h-1zM11 85h1v1h-1zM12 84h1v1h-1zM13 83h1v1h-1zM14 82h1v1h-1zM15 81h1v1h-1zM16 80h1v1h-1zM17 79h1v1h-1zM18 78h1v1h-1zM19 77h1v1h-1zM20 76h1v1h-1zM21 75h1v1h-1zM22 74h1v1h-1zM23 73h1v1h-1zM24 72h1v1h-1zM25 71h1v1h-1zM26 70h1v1h-1zM27 69h1v1h-1zM28 68h1v1h-1zM29 67h1v1h-1zM30 66h1v1h-1zM31 65h1v1h-1zM32 64h1v1h-1zM33 63h1v1h-1zM34 62h1v1h-1zM35 61h1v1h-1zM36 60h1v1h-1zM37 59h1v1h-1zM38 58h1v1h-1zM39 57h1v1h-1zM40 56h1v1h-1zM41 55h1v1h-1zM42 54h1v1h-1zM43 53h1v1h-1zM44 52h1v1h-1zM45 51h1v1h-1zM46 50h1v1h-1zM47 49h1v1h-1zM48 48h1v1h-1zM49 47h1v1h-1zM50 46h1v1h-1zM51 45h1v1h-1zM52 44h1v1h-1zM53 43h1v1h-1zM54 42h1v1h-1zM55 41h1v1h-1zM56 40h1v1h-1zM57 39h1v1h-1zM58 38h1v1h-1zM59 37h1v1h-1zM60 36h1v1h-1zM61 35h1v1h-1zM62 34h1v1h-1zM63 33h1v1h-1zM64 32h1v1h-1zM65 31h1v1h-1zM66 30h1v1h-1zM67 29h1v1h-1zM68 28h1v1h-1zM69 27h1v1h-1zM70 26h1v1h-1zM71 25h1v1h-1zM72 24h1v1h-1zM73 23h1v1h-1zM74 22h1v1h-1zM75 21h1v1h-1zM76 20h1v1h-1zM77 19h1v1h-1zM78 18h1v1h-1zM79 17h1v1h-1zM80 16h1v1h-1zM81 15h1v1h-1zM82 14h1v1h-1zM83 13h1v1h-1zM84 12h1v1h-1zM85 11h1v1h-1zM86 10h1v1h-1zM87 9h1v1h-1zM88 8h1v1h-1zM89 7h1v1h-1zM90 6h1v1h-1zM91 5h1v1h-1zM92 4h1v1h-1zM93 3h1v1h-1zM94 2h1v1h-1zM95 1h1v1h-1zM96 0h1v1h-1z"/>
<path fill="#f5d596" d="M54 64h1v1h-1zM87 64h1v1h-1zM62 46h1v1h-1zM32 42h1v1h-1zM50 34h1v1h-1zM32 9h1v1h-1z"/>
<path fill="#f2cd91" d="M9 94h1v1h-1zM54 94h1v1h-1zM62 94h1v1h-1zM29 90h1v1h-1zM54 90h1v1h-1zM87 90h1v1h-1zM70 88h1v1h-1zM2 87h1v1h-1zM32 87h1v1h-1zM62 87h1v1h-1zM62 86h1v1h-1zM32 79h1v1h-1zM53 79h1v1h-1zM62 79h1v1h-1zM32 78h1v1h-1zM6 67h1v1h-1zM32 67h1v1h-1zM62 67h1v1h-1zM9 64h1v1h-1zM17 64h2v1h-2zM29 64h1v1h-1zM33 64h1v1h-1zM50 64h1v1h-1zM53 64h1v1h-1zM57 64h1v1h-1zM61 64h2v1h-2zM67 64h1v1h-1zM70 64h1v1h-1zM76 64h1v1h-1zM32 63h1v1h-1zM53 63h1v1h-1zM32 46h1v1h-1zM17 43h1v1h-1zM32 43h2v1h-2zM54 43h1v1h-1zM61 43h1v1h-1zM64 43h1v1h-1zM76 43h1v1h-1zM2 42h1v1h-1zM6 42h1v1h-1zM53 42h1v1h-1zM56 42h1v1h-1zM59 42h1v1h-1zM62 42h1v1h-1zM73 42h1v1h-1zM81 42h1v1h-1zM89 42h1v1h-1zM91 42h1v1h-1zM95 42h1v1h-1zM54 40h1v1h-1zM32 39h1v1h-1zM95 39h1v1h-1zM54 37h1v1h-1zM73 37h1v1h-1zM32 35h1v1h-1zM53 35h1v1h-1zM62 35h1v1h-1zM2 34h1v1h-1zM9 34h2v1h-2zM17 34h1v1h-1zM29 34h1v1h-1zM32 34h1v1h-1zM54 34h1v1h-1zM61 34h1v1h-1zM70 34h1v1h-1zM75 34h1v1h-1zM89 34h1v1h-1zM53 32h1v1h-1zM32 29h1v1h-1zM8 26h1v1h-1zM32 26h1v1h-1zM62 26h1v1h-1zM54 23h1v1h-1zM59 23h1v1h-1zM62 21h1v1h-1zM32 20h1v1h-1zM53 20h1v1h-1zM54 15h1v1h-1zM6 9h1v1h-1zM95 9h1v1h-1zM54 7h1v1h-1zM62 7h1v1h-1zM54 5h1v1h-1zM95 2h1v1h-1zM54 1h1v1h-1zM57 1h1v1h-1zM87 1h1v1h-1zM94 1h1v1h-1z"/>
<path fill="#efc58b" d="M70 96h1v1h-1zM95 96h1v1h-1zM17 95h1v1h-1zM50 95h1v1h-1zM54 95h1v1h-1zM5 94h1v1h-1zM32 94h1v1h-1zM50 94h1v1h-1zM53 94h1v1h-1zM61 94h1v1h-1zM66 94h1v1h-1zM70 94h1v1h-1zM87 94h1v1h-1zM89 94h1v1h-1zM95 94h1v1h-1zM29 93h1v1h-1zM53 93h1v1h-1zM61 93h2v1h-2zM50 92h1v1h-1zM52 92h1v1h-1zM54 92h1v1h-1zM56 92h1v1h-1zM62 92h1v1h-1zM95 92h1v1h-1zM2 91h1v1h-1zM6 91h1v1h-1zM29 91h1v1h-1zM54 91h1v1h-1zM59 91h1v1h-1zM62 91h1v1h-1zM70 91h1v1h-1zM87 91h1v1h-1zM89 91h1v1h-1zM95 91h1v1h-1zM5 90h1v1h-1zM15 90h1v1h-1zM28 90h1v1h-1zM32 90h3v1h-3zM59 90h1v1h-1zM67 90h1v1h-1zM81 90h1v1h-1zM29 89h1v1h-1zM32 89h1v1h-1zM54 89h1v1h-1zM61 89h2v1h-2zM87 89h1v1h-1zM50 88h1v1h-1zM54 88h1v1h-1zM54 87h1v1h-1zM61 87h1v1h-1zM54 86h1v1h-1zM62 84h1v1h-1zM54 83h1v1h-1zM62 82h1v1h-1zM6 81h1v1h-1zM32 81h1v1h-1zM1 79h1v1h-1zM54 79h1v1h-1zM56 79h1v1h-1zM95 79h1v1h-1zM29 78h1v1h-1zM50 78h1v1h-1zM53 78h1v1h-1zM70 78h1v1h-1zM87 78h1v1h-1zM29 76h1v1h-1zM62 76h1v1h-1zM62 75h1v1h-1zM32 73h1v1h-1zM50 73h1v1h-1zM53 73h2v1h-2zM95 73h1v1h-1zM54 72h1v1h-1zM32 71h1v1h-1zM53 71h1v1h-1zM89 71h1v1h-1zM32 70h1v1h-1zM34 70h1v1h-1zM53 70h2v1h-2zM29 69h1v1h-1zM50 69h1v1h-1zM6 68h1v1h-1zM29 68h1v1h-1zM48 68h1v1h-1zM54 68h1v1h-1zM70 68h1v1h-1zM3 67h1v1h-1zM5 67h1v1h-1zM7 67h1v1h-1zM18 67h1v1h-1zM20 67h1v1h-1zM27 67h2v1h-2zM35 67h1v1h-1zM50 67h5v1h-5zM57 67h1v1h-1zM59 67h1v1h-1zM63 67h1v1h-1zM70 67h1v1h-1zM73 67h2v1h-2zM80 67h2v1h-2zM87 67h1v1h-1zM89 67h1v1h-1zM91 67h1v1h-1zM62 66h1v1h-1zM2 64h1v1h-1zM6 64h2v1h-2zM15 64h1v1h-1zM23 64h1v1h-1zM25 64h2v1h-2zM34 64h1v1h-1zM51 64h1v1h-1zM56 64h1v1h-1zM59 64h1v1h-1zM63 64h1v1h-1zM66 64h1v1h-1zM71 64h5v1h-5zM77 64h1v1h-1zM80 64h2v1h-2zM84 64h1v1h-1zM86 64h1v1h-1zM89 64h1v1h-1zM93 64h1v1h-1zM95 64h1v1h-1zM6 63h1v1h-1zM54 63h1v1h-1zM59 63h1v1h-1zM62 63h1v1h-1zM84 63h1v1h-1zM6 62h1v1h-1zM26 62h1v1h-1zM32 62h1v1h-1zM54 62h1v1h-1zM62 62h1v1h-1zM29 61h1v1h-1zM54 49h1v1h-1zM28 48h1v1h-1zM53 48h1v1h-1zM61 48h2v1h-2zM70 48h1v1h-1zM1 46h2v1h-2zM4 46h1v1h-1zM8 46h1v1h-1zM18 46h1v1h-1zM23 46h1v1h-1zM27 46h1v1h-1zM29 46h1v1h-1zM52 46h4v1h-4zM57 46h1v1h-1zM61 46h1v1h-1zM70 46h1v1h-1zM74 46h1v1h-1zM29 45h1v1h-1zM32 45h1v1h-1zM54 45h1v1h-1zM73 45h2v1h-2zM87 45h1v1h-1zM4 44h1v1h-1zM29 44h1v1h-1zM50 44h1v1h-1zM53 44h1v1h-1zM56 44h1v1h-1zM61 44h2v1h-2zM72 44h1v1h-1zM87 44h1v1h-1zM95 44h1v1h-1zM2 43h2v1h-2zM18 43h1v1h-1zM23 43h1v1h-1zM25 43h2v1h-2zM29 43h1v1h-1zM48 43h1v1h-1zM50 43h1v1h-1zM52 43h1v1h-1zM62 43h1v1h-1zM67 43h2v1h-2zM70 43h1v1h-1zM75 43h1v1h-1zM87 43h1v1h-1zM93 43h1v1h-1zM1 42h1v1h-1zM4 42h2v1h-2zM7 42h4v1h-4zM13 42h1v1h-1zM17 42h1v1h-1zM23 42h2v1h-2zM26 42h1v1h-1zM28 42h2v1h-2zM33 42h2v1h-2zM47 42h1v1h-1zM50 42h2v1h-2zM57 42h1v1h-1zM64 42h1v1h-1zM66 42h3v1h-3zM70 42h1v1h-1zM72 42h1v1h-1zM74 42h1v1h-1zM76 42h1v1h-1zM82 42h1v1h-1zM86 42h2v1h-2zM93 42h1v1h-1zM50 41h1v1h-1zM62 41h1v1h-1zM4 40h1v1h-1zM17 40h1v1h-1zM32 40h1v1h-1zM52 40h1v1h-1zM62 40h1v1h-1zM29 39h1v1h-1zM50 39h1v1h-1zM54 39h1v1h-1zM62 39h1v1h-1zM67 39h1v1h-1zM75 39h1v1h-1zM87 39h1v1h-1zM5 37h2v1h-2zM29 37h1v1h-1zM32 37h2v1h-2zM76 37h1v1h-1zM95 37h1v1h-1zM2 35h2v1h-2zM7 35h1v1h-1zM9 35h1v1h-1zM48 35h1v1h-1zM50 35h1v1h-1zM52 35h1v1h-1zM68 35h1v1h-1zM70 35h1v1h-1zM73 35h1v1h-1zM76 35h1v1h-1zM80 35h1v1h-1zM87 35h1v1h-1zM95 35h1v1h-1zM3 34h3v1h-3zM7 34h1v1h-1zM12 34h1v1h-1zM14 34h1v1h-1zM20 34h2v1h-2zM30 34h1v1h-1zM33 34h2v1h-2zM48 34h1v1h-1zM52 34h2v1h-2zM55 34h3v1h-3zM63 34h1v1h-1zM66 34h1v1h-1zM68 34h1v1h-1zM71 34h1v1h-1zM73 34h2v1h-2zM76 34h1v1h-1zM80 34h3v1h-3zM87 34h1v1h-1zM93 34h1v1h-1zM95 34h1v1h-1zM29 33h1v1h-1zM32 33h1v1h-1zM62 33h1v1h-1zM54 32h1v1h-1zM2 30h1v1h-1zM32 30h1v1h-1zM54 30h1v1h-1zM62 30h1v1h-1zM87 30h1v1h-1zM6 29h1v1h-1zM53 29h2v1h-2zM57 29h1v1h-1zM95 29h1v1h-1zM53 28h2v1h-2zM61 28h2v1h-2zM70 28h1v1h-1zM0 26h1v1h-1zM2 26h1v1h-1zM5 26h1v1h-1zM18 26h1v1h-1zM28 26h2v1h-2zM48 26h1v1h-1zM50 26h1v1h-1zM53 26h2v1h-2zM61 26h1v1h-1zM68 26h1v1h-1zM76 26h1v1h-1zM81 26h1v1h-1zM87 26h1v1h-1zM89 26h1v1h-1zM93 26h1v1h-1zM95 26h1v1h-1zM32 25h1v1h-1zM62 25h1v1h-1zM32 24h1v1h-1zM52 24h1v1h-1zM54 24h1v1h-1zM93 24h1v1h-1zM29 23h1v1h-1zM32 23h1v1h-1zM51 23h1v1h-1zM61 23h2v1h-2zM87 23h1v1h-1zM89 23h1v1h-1zM95 23h1v1h-1zM29 22h1v1h-1zM32 22h1v1h-1zM50 22h2v1h-2zM54 22h1v1h-1zM62 22h1v1h-1zM95 22h1v1h-1zM32 21h1v1h-1zM53 21h1v1h-1zM57 21h1v1h-1zM54 20h1v1h-1zM59 20h1v1h-1zM61 20h2v1h-2zM70 20h1v1h-1zM87 20h1v1h-1zM91 20h1v1h-1zM32 19h1v1h-1zM87 19h1v1h-1zM29 16h1v1h-1zM32 16h1v1h-1zM61 16h2v1h-2zM6 15h1v1h-1zM29 15h1v1h-1zM32 15h1v1h-1zM62 15h1v1h-1zM70 15h1v1h-1zM54 14h1v1h-1zM62 14h1v1h-1zM95 14h1v1h-1zM32 12h2v1h-2zM95 12h1v1h-1zM32 10h1v1h-1zM54 10h1v1h-1zM2 9h1v1h-1zM5 9h1v1h-1zM7 9h1v1h-1zM18 9h1v1h-1zM29 9h1v1h-1zM51 9h4v1h-4zM57 9h1v1h-1zM61 9h2v1h-2zM66 9h1v1h-1zM70 9h1v1h-1zM73 9h1v1h-1zM76 9h2v1h-2zM2 7h1v1h-1zM5 7h1v1h-1zM25 7h1v1h-1zM29 7h1v1h-1zM32 7h1v1h-1zM70 7h1v1h-1zM73 7h1v1h-1zM29 5h1v1h-1zM76 5h1v1h-1zM32 3h1v1h-1zM53 3h2v1h-2zM62 3h1v1h-1zM70 3h1v1h-1zM72 3h1v1h-1zM0 1h1v1h-1zM2 1h1v1h-1zM4 1h2v1h-2zM17 1h1v1h-1zM23 1h1v1h-1zM32 1h1v1h-1zM52 1h1v1h-1zM59 1h1v1h-1zM61 1h2v1h-2zM67 1h1v1h-1zM70 1h1v1h-1zM73 1h2v1h-2zM82 1h1v1h-1zM84 1h1v1h-1z"/>
<path fill="#ecbd86" d="M5 96h2v1h-2zM18 96h1v1h-1zM21 96h1v1h-1zM25 96h1v1h-1zM29 96h1v1h-1zM32 96h1v1h-1zM51 96h1v1h-1zM53 96h2v1h-2zM61 96h2v1h-2zM72 96h3v1h-3zM89 96h1v1h-1zM3 95h1v1h-1zM5 95h2v1h-2zM8 95h2v1h-2zM24 95h1v1h-1zM28 95h2v1h-2zM32 95h1v1h-1zM51 95h1v1h-1zM53 95h1v1h-1zM61 95h2v1h-2zM70 95h1v1h-1zM73 95h2v1h-2zM87 95h1v1h-1zM95 95h1v1h-1zM6 94h1v1h-1zM8 94h1v1h-1zM17 94h1v1h-1zM27 94h4v1h-4zM33 94h1v1h-1zM52 94h1v1h-1zM56 94h1v1h-1zM59 94h1v1h-1zM64 94h1v1h-1zM67 94h2v1h-2zM71 94h1v1h-1zM73 94h2v1h-2zM76 94h1v1h-1zM80 94h3v1h-3zM84 94h1v1h-1zM93 94h1v1h-1zM96 94h1v1h-1zM1 93h1v1h-1zM6 93h2v1h-2zM9 93h1v1h-1zM32 93h1v1h-1zM48 93h1v1h-1zM54 93h1v1h-1zM76 93h1v1h-1zM81 93h1v1h-1zM84 93h1v1h-1zM87 93h1v1h-1zM6 92h2v1h-2zM15 92h1v1h-1zM17 92h1v1h-1zM26 92h1v1h-1zM29 92h1v1h-1zM33 92h1v1h-1zM53 92h1v1h-1zM59 92h1v1h-1zM61 92h1v1h-1zM66 92h1v1h-1zM70 92h2v1h-2zM76 92h1v1h-1zM78 92h4v1h-4zM87 92h1v1h-1zM0 91h2v1h-2zM17 91h1v1h-1zM34 91h1v1h-1zM50 91h1v1h-1zM52 91h2v1h-2zM61 91h1v1h-1zM93 91h1v1h-1zM0 90h5v1h-5zM7 90h1v1h-1zM9 90h1v1h-1zM12 90h2v1h-2zM17 90h2v1h-2zM23 90h1v1h-1zM25 90h2v1h-2zM30 90h1v1h-1zM50 90h1v1h-1zM53 90h1v1h-1zM55 90h4v1h-4zM61 90h3v1h-3zM66 90h1v1h-1zM70 90h2v1h-2zM73 90h1v1h-1zM76 90h2v1h-2zM80 90h1v1h-1zM84 90h1v1h-1zM91 90h2v1h-2zM94 90h2v1h-2zM3 89h2v1h-2zM6 89h1v1h-1zM9 89h1v1h-1zM18 89h1v1h-1zM21 89h1v1h-1zM25 89h1v1h-1zM30 89h1v1h-1zM35 89h1v1h-1zM50 89h1v1h-1zM53 89h1v1h-1zM57 89h1v1h-1zM63 89h1v1h-1zM70 89h2v1h-2zM73 89h1v1h-1zM77 89h1v1h-1zM89 89h1v1h-1zM91 89h1v1h-1zM95 89h1v1h-1zM1 88h2v1h-2zM9 88h1v1h-1zM21 88h1v1h-1zM27 88h1v1h-1zM32 88h2v1h-2zM51 88h3v1h-3zM57 88h1v1h-1zM59 88h1v1h-1zM61 88h2v1h-2zM66 88h1v1h-1zM71 88h1v1h-1zM73 88h1v1h-1zM76 88h1v1h-1zM87 88h1v1h-1zM1 87h1v1h-1zM3 87h1v1h-1zM6 87h3v1h-3zM17 87h1v1h-1zM21 87h1v1h-1zM29 87h1v1h-1zM36 87h1v1h-1zM55 87h1v1h-1zM59 87h1v1h-1zM63 87h1v1h-1zM66 87h2v1h-2zM70 87h1v1h-1zM74 87h1v1h-1zM81 87h1v1h-1zM84 87h1v1h-1zM87 87h2v1h-2zM93 87h1v1h-1zM95 87h1v1h-1zM32 86h1v1h-1zM53 86h1v1h-1zM32 85h1v1h-1zM54 85h1v1h-1zM6 84h1v1h-1zM17 84h2v1h-2zM32 84h1v1h-1zM53 84h3v1h-3zM70 84h1v1h-1zM80 84h1v1h-1zM95 84h1v1h-1zM6 83h1v1h-1zM17 83h1v1h-1zM29 83h1v1h-1zM53 83h1v1h-1zM62 83h1v1h-1zM76 83h1v1h-1zM87 83h1v1h-1zM95 83h1v1h-1zM52 82h1v1h-1zM4 81h1v1h-1zM47 81h1v1h-1zM50 81h2v1h-2zM53 81h2v1h-2zM61 81h2v1h-2zM70 81h1v1h-1zM79 81h1v1h-1zM95 81h1v1h-1zM32 80h1v1h-1zM70 80h1v1h-1zM2 79h1v1h-1zM4 79h3v1h-3zM9 79h1v1h-1zM12 79h2v1h-2zM20 79h1v1h-1zM25 79h1v1h-1zM28 79h2v1h-2zM33 79h1v1h-1zM51 79h2v1h-2zM55 79h1v1h-1zM57 79h1v1h-1zM59 79h1v1h-1zM70 79h1v1h-1zM72 79h2v1h-2zM79 79h1v1h-1zM87 79h1v1h-1zM89 79h1v1h-1zM91 79h1v1h-1zM0 78h1v1h-1zM6 78h2v1h-2zM12 78h1v1h-1zM21 78h1v1h-1zM27 78h1v1h-1zM51 78h1v1h-1zM56 78h1v1h-1zM62 78h1v1h-1zM76 78h1v1h-1zM89 78h1v1h-1zM95 78h1v1h-1zM32 77h1v1h-1zM62 77h1v1h-1zM17 76h1v1h-1zM32 76h1v1h-1zM53 76h2v1h-2zM76 76h1v1h-1zM0 75h1v1h-1zM7 75h3v1h-3zM18 75h1v1h-1zM29 75h1v1h-1zM32 75h1v1h-1zM52 75h3v1h-3zM67 75h2v1h-2zM70 75h1v1h-1zM73 75h1v1h-1zM75 75h1v1h-1zM89 75h1v1h-1zM95 75h1v1h-1zM29 74h1v1h-1zM53 74h2v1h-2zM62 74h1v1h-1zM87 74h1v1h-1zM6 73h1v1h-1zM29 73h1v1h-1zM62 73h1v1h-1zM70 73h1v1h-1zM1 72h1v1h-1zM53 72h1v1h-1zM62 72h2v1h-2zM70 72h1v1h-1zM87 72h1v1h-1zM0 71h1v1h-1zM6 71h2v1h-2zM17 71h1v1h-1zM29 71h2v1h-2zM34 71h1v1h-1zM50 71h2v1h-2zM57 71h1v1h-1zM62 71h1v1h-1zM66 71h1v1h-1zM73 71h1v1h-1zM75 71h1v1h-1zM81 71h1v1h-1zM95 71h1v1h-1zM4 70h1v1h-1zM6 70h1v1h-1zM29 70h1v1h-1zM33 70h1v1h-1zM61 70h2v1h-2zM66 70h1v1h-1zM87 70h1v1h-1zM2 69h1v1h-1zM8 69h1v1h-1zM18 69h1v1h-1zM32 69h1v1h-1zM53 69h3v1h-3zM61 69h2v1h-2zM70 69h1v1h-1zM73 69h1v1h-1zM95 69h1v1h-1zM1 68h2v1h-2zM17 68h1v1h-1zM32 68h1v1h-1zM51 68h3v1h-3zM57 68h1v1h-1zM59 68h1v1h-1zM61 68h3v1h-3zM67 68h1v1h-1zM72 68h1v1h-1zM76 68h1v1h-1zM86 68h2v1h-2zM93 68h1v1h-1zM95 68h1v1h-1zM0 67h3v1h-3zM4 67h1v1h-1zM9 67h1v1h-1zM13 67h1v1h-1zM17 67h1v1h-1zM21 67h3v1h-3zM25 67h2v1h-2zM33 67h1v1h-1zM36 67h1v1h-1zM48 67h2v1h-2zM55 67h1v1h-1zM61 67h1v1h-1zM64 67h1v1h-1zM66 67h1v1h-1zM68 67h1v1h-1zM71 67h2v1h-2zM75 67h3v1h-3zM82 67h1v1h-1zM84 67h2v1h-2zM90 67h1v1h-1zM92 67h1v1h-1zM95 67h1v1h-1zM2 66h1v1h-1zM6 66h2v1h-2zM25 66h1v1h-1zM34 66h1v1h-1zM50 66h1v1h-1zM53 66h1v1h-1zM70 66h1v1h-1zM76 66h1v1h-1zM80 66h1v1h-1zM87 66h1v1h-1zM95 66h1v1h-1zM54 65h1v1h-1zM0 64h2v1h-2zM3 64h1v1h-1zM8 64h1v1h-1zM10 64h3v1h-3zM16 64h1v1h-1zM19 64h3v1h-3zM27 64h2v1h-2zM47 64h2v1h-2zM52 64h1v1h-1zM55 64h1v1h-1zM58 64h1v1h-1zM68 64h1v1h-1zM78 64h2v1h-2zM85 64h1v1h-1zM90 64h3v1h-3zM94 64h1v1h-1zM2 63h1v1h-1zM4 63h1v1h-1zM8 63h1v1h-1zM17 63h1v1h-1zM26 63h1v1h-1zM29 63h1v1h-1zM48 63h1v1h-1zM51 63h2v1h-2zM56 63h1v1h-1zM61 63h1v1h-1zM66 63h2v1h-2zM70 63h1v1h-1zM89 63h1v1h-1zM95 63h1v1h-1zM5 62h1v1h-1zM25 62h1v1h-1zM30 62h1v1h-1zM51 62h1v1h-1zM53 62h1v1h-1zM63 62h1v1h-1zM67 62h2v1h-2zM76 62h1v1h-1zM86 62h2v1h-2zM95 62h1v1h-1zM7 61h1v1h-1zM53 61h1v1h-1zM59 61h1v1h-1zM62 61h1v1h-1zM93 61h1v1h-1zM9 60h1v1h-1zM29 60h1v1h-1zM53 60h1v1h-1zM61 60h1v1h-1zM87 60h1v1h-1zM61 55h1v1h-1zM54 51h1v1h-1zM62 51h1v1h-1zM15 49h1v1h-1zM32 49h1v1h-1zM50 49h1v1h-1zM62 49h1v1h-1zM95 49h1v1h-1zM3 48h1v1h-1zM29 48h1v1h-1zM32 48h2v1h-2zM50 48h1v1h-1zM54 48h1v1h-1zM56 48h1v1h-1zM68 48h1v1h-1zM95 48h1v1h-1zM29 47h1v1h-1zM5 46h3v1h-3zM15 46h1v1h-1zM25 46h1v1h-1zM30 46h1v1h-1zM47 46h2v1h-2zM56 46h1v1h-1zM66 46h1v1h-1zM68 46h1v1h-1zM73 46h1v1h-1zM76 46h1v1h-1zM78 46h1v1h-1zM80 46h2v1h-2zM84 46h1v1h-1zM87 46h1v1h-1zM89 46h1v1h-1zM94 46h2v1h-2zM0 45h2v1h-2zM8 45h1v1h-1zM15 45h1v1h-1zM17 45h2v1h-2zM25 45h1v1h-1zM28 45h1v1h-1zM33 45h2v1h-2zM52 45h2v1h-2zM62 45h1v1h-1zM67 45h1v1h-1zM70 45h1v1h-1zM75 45h1v1h-1zM77 45h1v1h-1zM80 45h1v1h-1zM93 45h1v1h-1zM2 44h1v1h-1zM5 44h1v1h-1zM8 44h1v1h-1zM14 44h1v1h-1zM17 44h1v1h-1zM21 44h1v1h-1zM28 44h1v1h-1zM32 44h2v1h-2zM51 44h1v1h-1zM54 44h1v1h-1zM57 44h1v1h-1zM66 44h1v1h-1zM70 44h1v1h-1zM73 44h1v1h-1zM75 44h3v1h-3zM96 44h1v1h-1zM0 43h2v1h-2zM4 43h5v1h-5zM10 43h1v1h-1zM12 43h2v1h-2zM15 43h1v1h-1zM20 43h3v1h-3zM24 43h1v1h-1zM27 43h2v1h-2zM30 43h1v1h-1zM34 43h3v1h-3zM51 43h1v1h-1zM56 43h1v1h-1zM65 43h2v1h-2zM73 43h2v1h-2zM78 43h5v1h-5zM85 43h1v1h-1zM89 43h1v1h-1zM91 43h1v1h-1zM94 43h2v1h-2zM0 42h1v1h-1zM3 42h1v1h-1zM11 42h2v1h-2zM15 42h1v1h-1zM20 42h3v1h-3zM27 42h1v1h-1zM31 42h1v1h-1zM45 42h1v1h-1zM48 42h1v1h-1zM52 42h1v1h-1zM55 42h1v1h-1zM58 42h1v1h-1zM61 42h1v1h-1zM65 42h1v1h-1zM71 42h1v1h-1zM75 42h1v1h-1zM79 42h2v1h-2zM83 42h2v1h-2zM88 42h1v1h-1zM94 42h1v1h-1zM96 42h1v1h-1zM6 41h1v1h-1zM9 41h1v1h-1zM12 41h1v1h-1zM17 41h1v1h-1zM27 41h1v1h-1zM29 41h1v1h-1zM32 41h1v1h-1zM54 41h1v1h-1zM61 41h1v1h-1zM74 41h1v1h-1zM80 41h1v1h-1zM83 41h1v1h-1zM91 41h1v1h-1zM2 40h1v1h-1zM6 40h1v1h-1zM18 40h1v1h-1zM33 40h1v1h-1zM48 40h1v1h-1zM50 40h1v1h-1zM53 40h1v1h-1zM67 40h1v1h-1zM70 40h1v1h-1zM73 40h3v1h-3zM79 40h1v1h-1zM82 40h1v1h-1zM84 40h1v1h-1zM87 40h1v1h-1zM94 40h1v1h-1zM6 39h3v1h-3zM17 39h1v1h-1zM25 39h1v1h-1zM28 39h1v1h-1zM52 39h1v1h-1zM59 39h1v1h-1zM74 39h1v1h-1zM84 39h1v1h-1zM6 38h1v1h-1zM32 38h1v1h-1zM54 38h1v1h-1zM62 38h1v1h-1zM87 38h1v1h-1zM2 37h1v1h-1zM4 37h1v1h-1zM8 37h2v1h-2zM17 37h1v1h-1zM28 37h1v1h-1zM35 37h1v1h-1zM57 37h1v1h-1zM61 37h2v1h-2zM66 37h3v1h-3zM70 37h2v1h-2zM74 37h1v1h-1zM77 37h1v1h-1zM80 37h3v1h-3zM86 37h2v1h-2zM62 36h1v1h-1zM0 35h2v1h-2zM4 35h3v1h-3zM8 35h1v1h-1zM15 35h1v1h-1zM26 35h4v1h-4zM33 35h1v1h-1zM36 35h1v1h-1zM41 35h1v1h-1zM54 35h2v1h-2zM59 35h1v1h-1zM63 35h5v1h-5zM72 35h1v1h-1zM74 35h1v1h-1zM77 35h1v1h-1zM81 35h2v1h-2zM85 35h2v1h-2zM89 35h1v1h-1zM91 35h1v1h-1zM94 35h1v1h-1zM0 34h2v1h-2zM6 34h1v1h-1zM8 34h1v1h-1zM13 34h1v1h-1zM15 34h1v1h-1zM18 34h2v1h-2zM22 34h7v1h-7zM35 34h1v1h-1zM45 34h1v1h-1zM47 34h1v1h-1zM51 34h1v1h-1zM58 34h3v1h-3zM64 34h2v1h-2zM67 34h1v1h-1zM72 34h1v1h-1zM77 34h3v1h-3zM83 34h2v1h-2zM86 34h1v1h-1zM90 34h1v1h-1zM92 34h1v1h-1zM94 34h1v1h-1zM6 33h2v1h-2zM9 33h1v1h-1zM24 33h1v1h-1zM28 33h1v1h-1zM34 33h1v1h-1zM61 33h1v1h-1zM70 33h1v1h-1zM73 33h1v1h-1zM76 33h1v1h-1zM80 33h1v1h-1zM82 33h1v1h-1zM87 33h1v1h-1zM89 33h2v1h-2zM92 33h1v1h-1zM95 33h1v1h-1zM2 32h1v1h-1zM29 32h1v1h-1zM61 32h2v1h-2zM66 32h1v1h-1zM70 32h1v1h-1zM76 32h1v1h-1zM87 32h1v1h-1zM89 32h1v1h-1zM95 32h1v1h-1zM53 31h2v1h-2zM61 31h2v1h-2zM76 31h1v1h-1zM4 30h1v1h-1zM6 30h1v1h-1zM8 30h2v1h-2zM25 30h2v1h-2zM29 30h1v1h-1zM33 30h1v1h-1zM50 30h1v1h-1zM52 30h2v1h-2zM59 30h1v1h-1zM61 30h1v1h-1zM64 30h1v1h-1zM70 30h1v1h-1zM73 30h2v1h-2zM80 30h1v1h-1zM90 30h1v1h-1zM2 29h1v1h-1zM9 29h1v1h-1zM21 29h1v1h-1zM28 29h1v1h-1zM33 29h2v1h-2zM51 29h1v1h-1zM56 29h1v1h-1zM59 29h1v1h-1zM61 29h2v1h-2zM72 29h1v1h-1zM74 29h1v1h-1zM76 29h1v1h-1zM80 29h1v1h-1zM87 29h1v1h-1zM2 28h1v1h-1zM21 28h1v1h-1zM29 28h1v1h-1zM32 28h1v1h-1zM34 28h1v1h-1zM48 28h1v1h-1zM50 28h1v1h-1zM59 28h1v1h-1zM74 28h1v1h-1zM1 26h1v1h-1zM4 26h1v1h-1zM6 26h2v1h-2zM9 26h1v1h-1zM12 26h1v1h-1zM15 26h3v1h-3zM21 26h1v1h-1zM23 26h2v1h-2zM27 26h1v1h-1zM30 26h1v1h-1zM33 26h1v1h-1zM51 26h2v1h-2zM56 26h1v1h-1zM59 26h1v1h-1zM63 26h2v1h-2zM66 26h1v1h-1zM73 26h3v1h-3zM77 26h1v1h-1zM80 26h1v1h-1zM82 26h1v1h-1zM86 26h1v1h-1zM91 26h1v1h-1zM96 26h1v1h-1zM2 25h1v1h-1zM4 25h1v1h-1zM6 25h3v1h-3zM29 25h1v1h-1zM54 25h1v1h-1zM59 25h1v1h-1zM0 24h1v1h-1zM17 24h1v1h-1zM28 24h2v1h-2zM61 24h2v1h-2zM67 24h1v1h-1zM73 24h1v1h-1zM76 24h1v1h-1zM81 24h1v1h-1zM87 24h1v1h-1zM91 24h1v1h-1zM95 24h1v1h-1zM0 23h3v1h-3zM6 23h3v1h-3zM17 23h1v1h-1zM21 23h1v1h-1zM25 23h1v1h-1zM27 23h1v1h-1zM50 23h1v1h-1zM52 23h2v1h-2zM56 23h1v1h-1zM63 23h1v1h-1zM66 23h1v1h-1zM70 23h1v1h-1zM72 23h1v1h-1zM74 23h1v1h-1zM80 23h1v1h-1zM82 23h1v1h-1zM0 22h3v1h-3zM9 22h1v1h-1zM53 22h1v1h-1zM55 22h3v1h-3zM59 22h1v1h-1zM61 22h1v1h-1zM66 22h3v1h-3zM70 22h1v1h-1zM73 22h1v1h-1zM80 22h1v1h-1zM84 22h1v1h-1zM21 21h1v1h-1zM25 21h1v1h-1zM29 21h1v1h-1zM51 21h2v1h-2zM54 21h1v1h-1zM56 21h1v1h-1zM70 21h1v1h-1zM82 21h1v1h-1zM87 21h1v1h-1zM90 21h1v1h-1zM95 21h1v1h-1zM2 20h3v1h-3zM6 20h1v1h-1zM8 20h1v1h-1zM13 20h1v1h-1zM18 20h1v1h-1zM20 20h1v1h-1zM28 20h3v1h-3zM34 20h1v1h-1zM50 20h1v1h-1zM52 20h1v1h-1zM63 20h3v1h-3zM67 20h1v1h-1zM72 20h1v1h-1zM79 20h1v1h-1zM81 20h1v1h-1zM84 20h1v1h-1zM89 20h1v1h-1zM93 20h3v1h-3zM6 19h2v1h-2zM29 19h1v1h-1zM51 19h2v1h-2zM59 19h1v1h-1zM61 19h2v1h-2zM70 19h1v1h-1zM80 19h1v1h-1zM83 19h1v1h-1zM4 18h1v1h-1zM32 18h1v1h-1zM50 18h1v1h-1zM53 18h1v1h-1zM62 18h1v1h-1zM4 17h1v1h-1zM15 17h1v1h-1zM17 17h1v1h-1zM32 17h1v1h-1zM53 17h2v1h-2zM56 17h1v1h-1zM62 17h1v1h-1zM76 17h1v1h-1zM2 16h1v1h-1zM4 16h1v1h-1zM6 16h1v1h-1zM12 16h1v1h-1zM30 16h1v1h-1zM50 16h2v1h-2zM53 16h3v1h-3zM59 16h1v1h-1zM63 16h1v1h-1zM66 16h2v1h-2zM70 16h1v1h-1zM73 16h2v1h-2zM77 16h1v1h-1zM82 16h1v1h-1zM89 16h1v1h-1zM95 16h1v1h-1zM2 15h3v1h-3zM9 15h1v1h-1zM25 15h1v1h-1zM50 15h1v1h-1zM53 15h1v1h-1zM59 15h1v1h-1zM61 15h1v1h-1zM72 15h1v1h-1zM76 15h1v1h-1zM87 15h1v1h-1zM93 15h1v1h-1zM95 15h1v1h-1zM2 14h1v1h-1zM29 14h1v1h-1zM53 14h1v1h-1zM56 14h1v1h-1zM59 14h1v1h-1zM61 14h1v1h-1zM63 14h1v1h-1zM70 14h1v1h-1zM73 14h1v1h-1zM75 14h1v1h-1zM80 14h1v1h-1zM87 14h1v1h-1zM54 13h2v1h-2zM62 13h1v1h-1zM77 13h1v1h-1zM87 13h1v1h-1zM95 13h1v1h-1zM2 12h2v1h-2zM6 12h1v1h-1zM9 12h1v1h-1zM29 12h1v1h-1zM50 12h1v1h-1zM54 12h1v1h-1zM56 12h2v1h-2zM62 12h1v1h-1zM74 12h1v1h-1zM76 12h1v1h-1zM29 11h1v1h-1zM32 11h1v1h-1zM53 11h1v1h-1zM61 11h1v1h-1zM28 10h1v1h-1zM34 10h1v1h-1zM59 10h1v1h-1zM61 10h2v1h-2zM70 10h1v1h-1zM95 10h1v1h-1zM1 9h1v1h-1zM3 9h2v1h-2zM8 9h2v1h-2zM13 9h1v1h-1zM17 9h1v1h-1zM22 9h1v1h-1zM24 9h1v1h-1zM26 9h1v1h-1zM28 9h1v1h-1zM30 9h1v1h-1zM34 9h1v1h-1zM36 9h1v1h-1zM50 9h1v1h-1zM56 9h1v1h-1zM58 9h2v1h-2zM63 9h2v1h-2zM67 9h1v1h-1zM72 9h1v1h-1zM75 9h1v1h-1zM81 9h3v1h-3zM90 9h1v1h-1zM9 8h1v1h-1zM54 8h1v1h-1zM95 8h1v1h-1zM0 7h1v1h-1zM7 7h1v1h-1zM17 7h2v1h-2zM21 7h1v1h-1zM33 7h1v1h-1zM50 7h1v1h-1zM53 7h1v1h-1zM61 7h1v1h-1zM63 7h2v1h-2zM76 7h1v1h-1zM80 7h1v1h-1zM95 7h1v1h-1zM29 6h1v1h-1zM32 6h1v1h-1zM62 6h2v1h-2zM66 6h1v1h-1zM75 6h1v1h-1zM87 6h1v1h-1zM6 5h2v1h-2zM17 5h1v1h-1zM32 5h1v1h-1zM53 5h1v1h-1zM55 5h1v1h-1zM61 5h1v1h-1zM70 5h1v1h-1zM72 5h1v1h-1zM6 4h1v1h-1zM29 4h1v1h-1zM32 4h1v1h-1zM62 4h2v1h-2zM2 3h1v1h-1zM5 3h1v1h-1zM9 3h1v1h-1zM28 3h1v1h-1zM35 3h1v1h-1zM51 3h1v1h-1zM76 3h1v1h-1zM81 3h1v1h-1zM6 2h1v1h-1zM32 2h1v1h-1zM50 2h1v1h-1zM53 2h2v1h-2zM56 2h1v1h-1zM61 2h2v1h-2zM76 2h1v1h-1zM1 1h1v1h-1zM6 1h2v1h-2zM9 1h1v1h-1zM12 1h2v1h-2zM15 1h1v1h-1zM18 1h1v1h-1zM21 1h1v1h-1zM25 1h1v1h-1zM27 1h4v1h-4zM33 1h2v1h-2zM47 1h2v1h-2zM50 1h1v1h-1zM53 1h1v1h-1zM63 1h2v1h-2zM72 1h1v1h-1zM75 1h2v1h-2zM80 1h2v1h-2zM83 1h1v1h-1zM86 1h1v1h-1zM88 1h2v1h-2zM2 0h1v1h-1zM52 0h1v1h-1zM54 0h1v1h-1zM70 0h1v1h-1z"/>
<path fill="#e9b581" d="M1 96h2v1h-2zM7 96h2v1h-2zM20 96h1v1h-1zM28 96h1v1h-1zM33 96h2v1h-2zM50 96h1v1h-1zM55 96h1v1h-1zM57 96h1v1h-1zM64 96h1v1h-1zM66 96h1v1h-1zM68 96h1v1h-1zM77 96h8v1h-8zM87 96h1v1h-1zM91 96h1v1h-1zM0 95h1v1h-1zM2 95h1v1h-1zM4 95h1v1h-1zM7 95h1v1h-1zM10 95h1v1h-1zM27 95h1v1h-1zM30 95h1v1h-1zM33 95h2v1h-2zM52 95h1v1h-1zM56 95h2v1h-2zM59 95h1v1h-1zM63 95h4v1h-4zM72 95h1v1h-1zM76 95h2v1h-2zM80 95h2v1h-2zM84 95h1v1h-1zM86 95h1v1h-1zM89 95h1v1h-1zM96 95h1v1h-1zM0 94h2v1h-2zM3 94h2v1h-2zM7 94h1v1h-1zM10 94h1v1h-1zM12 94h2v1h-2zM18 94h1v1h-1zM20 94h7v1h-7zM34 94h3v1h-3zM47 94h3v1h-3zM51 94h1v1h-1zM55 94h1v1h-1zM57 94h2v1h-2zM63 94h1v1h-1zM75 94h1v1h-1zM78 94h1v1h-1zM85 94h1v1h-1zM88 94h1v1h-1zM91 94h1v1h-1zM2 93h1v1h-1zM4 93h2v1h-2zM17 93h1v1h-1zM21 93h1v1h-1zM25 93h1v1h-1zM27 93h2v1h-2zM30 93h1v1h-1zM33 93h1v1h-1zM45 93h1v1h-1zM50 93h2v1h-2zM56 93h4v1h-4zM63 93h2v1h-2zM66 93h2v1h-2zM70 93h1v1h-1zM73 93h1v1h-1zM80 93h1v1h-1zM89 93h1v1h-1zM91 93h1v1h-1zM95 93h1v1h-1zM1 92h3v1h-3zM8 92h2v1h-2zM12 92h1v1h-1zM16 92h1v1h-1zM21 92h1v1h-1zM25 92h1v1h-1zM28 92h1v1h-1zM32 92h1v1h-1zM34 92h1v1h-1zM51 92h1v1h-1zM57 92h1v1h-1zM63 92h2v1h-2zM67 92h1v1h-1zM72 92h3v1h-3zM84 92h1v1h-1zM88 92h2v1h-2zM91 92h4v1h-4zM96 92h1v1h-1zM3 91h1v1h-1zM7 91h3v1h-3zM12 91h1v1h-1zM18 91h1v1h-1zM22 91h1v1h-1zM25 91h4v1h-4zM32 91h2v1h-2zM35 91h2v1h-2zM49 91h1v1h-1zM56 91h1v1h-1zM66 91h1v1h-1zM71 91h1v1h-1zM78 91h2v1h-2zM81 91h3v1h-3zM85 91h2v1h-2zM91 91h2v1h-2zM94 91h1v1h-1zM8 90h1v1h-1zM21 90h2v1h-2zM24 90h1v1h-1zM27 90h1v1h-1zM35 90h1v1h-1zM47 90h1v1h-1zM51 90h2v1h-2zM68 90h2v1h-2zM72 90h1v1h-1zM75 90h1v1h-1zM78 90h2v1h-2zM82 90h2v1h-2zM86 90h1v1h-1zM88 90h3v1h-3zM93 90h1v1h-1zM96 90h1v1h-1zM0 89h3v1h-3zM5 89h1v1h-1zM17 89h1v1h-1zM19 89h1v1h-1zM27 89h2v1h-2zM33 89h2v1h-2zM45 89h1v1h-1zM48 89h1v1h-1zM52 89h1v1h-1zM59 89h1v1h-1zM64 89h1v1h-1zM66 89h2v1h-2zM72 89h1v1h-1zM74 89h2v1h-2zM78 89h1v1h-1zM80 89h3v1h-3zM84 89h1v1h-1zM86 89h1v1h-1zM88 89h1v1h-1zM92 89h2v1h-2zM0 88h1v1h-1zM4 88h3v1h-3zM12 88h2v1h-2zM15 88h2v1h-2zM25 88h1v1h-1zM28 88h3v1h-3zM49 88h1v1h-1zM55 88h2v1h-2zM67 88h1v1h-1zM72 88h1v1h-1zM74 88h2v1h-2zM77 88h1v1h-1zM81 88h1v1h-1zM84 88h1v1h-1zM89 88h1v1h-1zM91 88h1v1h-1zM94 88h2v1h-2zM4 87h2v1h-2zM10 87h2v1h-2zM15 87h1v1h-1zM18 87h1v1h-1zM23 87h6v1h-6zM33 87h3v1h-3zM45 87h1v1h-1zM50 87h4v1h-4zM56 87h2v1h-2zM60 87h1v1h-1zM68 87h1v1h-1zM71 87h3v1h-3zM75 87h6v1h-6zM82 87h1v1h-1zM85 87h2v1h-2zM89 87h1v1h-1zM91 87h1v1h-1zM94 87h1v1h-1zM1 86h2v1h-2zM9 86h1v1h-1zM17 86h1v1h-1zM29 86h1v1h-1zM33 86h2v1h-2zM50 86h1v1h-1zM55 86h1v1h-1zM66 86h3v1h-3zM70 86h1v1h-1zM73 86h2v1h-2zM77 86h1v1h-1zM81 86h1v1h-1zM90 86h1v1h-1zM93 86h1v1h-1zM95 86h1v1h-1zM9 85h1v1h-1zM18 85h1v1h-1zM25 85h1v1h-1zM29 85h1v1h-1zM52 85h1v1h-1zM61 85h2v1h-2zM87 85h1v1h-1zM2 84h1v1h-1zM4 84h2v1h-2zM8 84h1v1h-1zM19 84h2v1h-2zM25 84h1v1h-1zM28 84h2v1h-2zM33 84h1v1h-1zM35 84h1v1h-1zM50 84h1v1h-1zM56 84h1v1h-1zM59 84h1v1h-1zM61 84h1v1h-1zM66 84h1v1h-1zM68 84h1v1h-1zM74 84h1v1h-1zM76 84h1v1h-1zM79 84h1v1h-1zM86 84h2v1h-2zM89 84h1v1h-1zM92 84h1v1h-1zM2 83h1v1h-1zM8 83h1v1h-1zM15 83h1v1h-1zM23 83h1v1h-1zM32 83h1v1h-1zM34 83h1v1h-1zM52 83h1v1h-1zM56 83h2v1h-2zM59 83h1v1h-1zM61 83h1v1h-1zM63 83h1v1h-1zM70 83h1v1h-1zM72 83h1v1h-1zM77 83h1v1h-1zM81 83h2v1h-2zM89 83h3v1h-3zM29 82h1v1h-1zM33 82h1v1h-1zM53 82h1v1h-1zM61 82h1v1h-1zM70 82h1v1h-1zM74 82h1v1h-1zM77 82h1v1h-1zM89 82h2v1h-2zM8 81h2v1h-2zM13 81h1v1h-1zM25 81h1v1h-1zM29 81h2v1h-2zM33 81h2v1h-2zM48 81h1v1h-1zM52 81h1v1h-1zM57 81h1v1h-1zM59 81h1v1h-1zM66 81h1v1h-1zM68 81h1v1h-1zM72 81h1v1h-1zM74 81h1v1h-1zM76 81h2v1h-2zM80 81h1v1h-1zM82 81h1v1h-1zM84 81h1v1h-1zM86 81h1v1h-1zM89 81h1v1h-1zM93 81h1v1h-1zM96 81h1v1h-1zM4 80h1v1h-1zM8 80h1v1h-1zM17 80h1v1h-1zM29 80h1v1h-1zM53 80h2v1h-2zM61 80h2v1h-2zM66 80h1v1h-1zM76 80h1v1h-1zM87 80h1v1h-1zM3 79h1v1h-1zM7 79h1v1h-1zM10 79h1v1h-1zM16 79h1v1h-1zM18 79h1v1h-1zM21 79h4v1h-4zM26 79h1v1h-1zM30 79h1v1h-1zM35 79h2v1h-2zM50 79h1v1h-1zM61 79h1v1h-1zM63 79h4v1h-4zM68 79h1v1h-1zM74 79h5v1h-5zM81 79h2v1h-2zM84 79h1v1h-1zM86 79h1v1h-1zM88 79h1v1h-1zM92 79h2v1h-2zM96 79h1v1h-1zM2 78h1v1h-1zM5 78h1v1h-1zM9 78h1v1h-1zM11 78h1v1h-1zM17 78h1v1h-1zM20 78h1v1h-1zM23 78h1v1h-1zM25 78h2v1h-2zM33 78h2v1h-2zM49 78h1v1h-1zM52 78h1v1h-1zM54 78h1v1h-1zM57 78h1v1h-1zM59 78h1v1h-1zM61 78h1v1h-1zM64 78h1v1h-1zM66 78h1v1h-1zM68 78h1v1h-1zM73 78h1v1h-1zM77 78h1v1h-1zM80 78h2v1h-2zM86 78h1v1h-1zM91 78h1v1h-1zM94 78h1v1h-1zM7 77h1v1h-1zM12 77h1v1h-1zM28 77h2v1h-2zM51 77h1v1h-1zM53 77h2v1h-2zM57 77h1v1h-1zM59 77h1v1h-1zM61 77h1v1h-1zM70 77h1v1h-1zM76 77h1v1h-1zM0 76h1v1h-1zM2 76h1v1h-1zM12 76h1v1h-1zM18 76h1v1h-1zM21 76h1v1h-1zM33 76h2v1h-2zM50 76h2v1h-2zM59 76h1v1h-1zM70 76h1v1h-1zM80 76h2v1h-2zM87 76h1v1h-1zM89 76h1v1h-1zM95 76h1v1h-1zM2 75h3v1h-3zM6 75h1v1h-1zM17 75h1v1h-1zM20 75h1v1h-1zM23 75h1v1h-1zM26 75h1v1h-1zM36 75h1v1h-1zM50 75h2v1h-2zM55 75h1v1h-1zM57 75h1v1h-1zM59 75h1v1h-1zM61 75h1v1h-1zM71 75h1v1h-1zM76 75h2v1h-2zM80 75h4v1h-4zM87 75h1v1h-1zM93 75h1v1h-1zM2 74h1v1h-1zM5 74h2v1h-2zM17 74h1v1h-1zM28 74h1v1h-1zM32 74h1v1h-1zM35 74h1v1h-1zM50 74h1v1h-1zM55 74h3v1h-3zM61 74h1v1h-1zM64 74h1v1h-1zM70 74h1v1h-1zM73 74h1v1h-1zM75 74h2v1h-2zM90 74h1v1h-1zM95 74h1v1h-1zM2 73h1v1h-1zM9 73h1v1h-1zM13 73h1v1h-1zM17 73h2v1h-2zM21 73h1v1h-1zM25 73h1v1h-1zM30 73h1v1h-1zM35 73h1v1h-1zM51 73h1v1h-1zM56 73h2v1h-2zM59 73h1v1h-1zM61 73h1v1h-1zM64 73h1v1h-1zM66 73h1v1h-1zM68 73h1v1h-1zM72 73h2v1h-2zM76 73h3v1h-3zM80 73h1v1h-1zM84 73h1v1h-1zM87 73h1v1h-1zM89 73h1v1h-1zM92 73h1v1h-1zM2 72h1v1h-1zM6 72h1v1h-1zM9 72h1v1h-1zM17 72h1v1h-1zM25 72h1v1h-1zM29 72h2v1h-2zM32 72h1v1h-1zM55 72h2v1h-2zM59 72h1v1h-1zM61 72h1v1h-1zM67 72h2v1h-2zM74 72h1v1h-1zM80 72h2v1h-2zM84 72h1v1h-1zM89 72h1v1h-1zM94 72h2v1h-2zM2 71h4v1h-4zM8 71h2v1h-2zM11 71h2v1h-2zM15 71h1v1h-1zM18 71h1v1h-1zM23 71h2v1h-2zM26 71h3v1h-3zM33 71h1v1h-1zM48 71h1v1h-1zM54 71h3v1h-3zM58 71h2v1h-2zM61 71h1v1h-1zM63 71h1v1h-1zM68 71h1v1h-1zM70 71h1v1h-1zM72 71h1v1h-1zM74 71h1v1h-1zM76 71h2v1h-2zM80 71h1v1h-1zM82 71h1v1h-1zM85 71h3v1h-3zM93 71h1v1h-1zM96 71h1v1h-1zM2 70h1v1h-1zM5 70h1v1h-1zM9 70h1v1h-1zM17 70h2v1h-2zM21 70h1v1h-1zM25 70h1v1h-1zM28 70h1v1h-1zM30 70h1v1h-1zM35 70h1v1h-1zM50 70h2v1h-2zM57 70h3v1h-3zM63 70h2v1h-2zM68 70h1v1h-1zM70 70h1v1h-1zM73 70h1v1h-1zM77 70h1v1h-1zM80 70h1v1h-1zM82 70h1v1h-1zM84 70h1v1h-1zM91 70h1v1h-1zM93 70h1v1h-1zM95 70h1v1h-1zM1 69h1v1h-1zM3 69h1v1h-1zM5 69h3v1h-3zM9 69h1v1h-1zM25 69h1v1h-1zM28 69h1v1h-1zM30 69h1v1h-1zM34 69h1v1h-1zM48 69h1v1h-1zM51 69h1v1h-1zM56 69h2v1h-2zM59 69h1v1h-1zM64 69h1v1h-1zM66 69h1v1h-1zM72 69h1v1h-1zM76 69h1v1h-1zM80 69h1v1h-1zM91 69h1v1h-1zM93 69h2v1h-2zM0 68h1v1h-1zM3 68h3v1h-3zM7 68h3v1h-3zM12 68h1v1h-1zM19 68h1v1h-1zM22 68h1v1h-1zM25 68h3v1h-3zM30 68h1v1h-1zM33 68h2v1h-2zM36 68h1v1h-1zM47 68h1v1h-1zM50 68h1v1h-1zM56 68h1v1h-1zM64 68h1v1h-1zM66 68h1v1h-1zM68 68h1v1h-1zM71 68h1v1h-1zM73 68h2v1h-2zM77 68h1v1h-1zM80 68h4v1h-4zM85 68h1v1h-1zM90 68h2v1h-2zM8 67h1v1h-1zM10 67h3v1h-3zM14 67h3v1h-3zM19 67h1v1h-1zM24 67h1v1h-1zM30 67h1v1h-1zM34 67h1v1h-1zM37 67h1v1h-1zM42 67h1v1h-1zM45 67h1v1h-1zM56 67h1v1h-1zM58 67h1v1h-1zM60 67h1v1h-1zM65 67h1v1h-1zM67 67h1v1h-1zM78 67h2v1h-2zM83 67h1v1h-1zM86 67h1v1h-1zM88 67h1v1h-1zM93 67h2v1h-2zM96 67h1v1h-1zM1 66h1v1h-1zM3 66h1v1h-1zM8 66h1v1h-1zM15 66h1v1h-1zM17 66h1v1h-1zM23 66h2v1h-2zM26 66h4v1h-4zM32 66h2v1h-2zM45 66h1v1h-1zM48 66h1v1h-1zM54 66h4v1h-4zM59 66h1v1h-1zM61 66h1v1h-1zM63 66h1v1h-1zM65 66h2v1h-2zM68 66h1v1h-1zM71 66h4v1h-4zM78 66h2v1h-2zM81 66h1v1h-1zM86 66h1v1h-1zM90 66h2v1h-2zM93 66h2v1h-2zM62 65h1v1h-1zM4 64h2v1h-2zM13 64h1v1h-1zM22 64h1v1h-1zM24 64h1v1h-1zM30 64h1v1h-1zM35 64h1v1h-1zM44 64h2v1h-2zM49 64h1v1h-1zM64 64h1v1h-1zM69 64h1v1h-1zM82 64h2v1h-2zM88 64h1v1h-1zM0 63h2v1h-2zM3 63h1v1h-1zM5 63h1v1h-1zM7 63h1v1h-1zM9 63h2v1h-2zM12 63h1v1h-1zM14 63h2v1h-2zM18 63h1v1h-1zM20 63h1v1h-1zM25 63h1v1h-1zM28 63h1v1h-1zM30 63h1v1h-1zM34 63h2v1h-2zM37 63h1v1h-1zM50 63h1v1h-1zM55 63h1v1h-1zM57 63h2v1h-2zM60 63h1v1h-1zM71 63h1v1h-1zM73 63h2v1h-2zM76 63h6v1h-6zM83 63h1v1h-1zM86 63h3v1h-3zM93 63h2v1h-2zM0 62h3v1h-3zM4 62h1v1h-1zM7 62h1v1h-1zM9 62h2v1h-2zM13 62h1v1h-1zM15 62h1v1h-1zM18 62h1v1h-1zM20 62h1v1h-1zM27 62h3v1h-3zM33 62h1v1h-1zM36 62h1v1h-1zM48 62h1v1h-1zM50 62h1v1h-1zM52 62h1v1h-1zM56 62h1v1h-1zM59 62h1v1h-1zM61 62h1v1h-1zM66 62h1v1h-1zM70 62h2v1h-2zM73 62h3v1h-3zM81 62h1v1h-1zM91 62h1v1h-1zM93 62h2v1h-2zM2 61h1v1h-1zM5 61h2v1h-2zM9 61h1v1h-1zM12 61h1v1h-1zM17 61h1v1h-1zM22 61h2v1h-2zM26 61h1v1h-1zM32 61h2v1h-2zM50 61h1v1h-1zM52 61h1v1h-1zM57 61h1v1h-1zM61 61h1v1h-1zM63 61h1v1h-1zM66 61h3v1h-3zM70 61h2v1h-2zM73 61h2v1h-2zM76 61h1v1h-1zM78 61h1v1h-1zM80 61h1v1h-1zM87 61h1v1h-1zM89 61h1v1h-1zM95 61h1v1h-1zM2 60h1v1h-1zM5 60h1v1h-1zM17 60h1v1h-1zM21 60h1v1h-1zM28 60h1v1h-1zM34 60h1v1h-1zM54 60h1v1h-1zM62 60h1v1h-1zM70 60h1v1h-1zM76 60h1v1h-1zM95 60h1v1h-1zM29 59h1v1h-1zM33 59h1v1h-1zM54 59h1v1h-1zM61 59h1v1h-1zM87 59h1v1h-1zM95 59h1v1h-1zM81 56h1v1h-1zM29 54h1v1h-1zM54 54h1v1h-1zM62 54h1v1h-1zM32 52h1v1h-1zM70 52h1v1h-1zM3 51h1v1h-1zM7 51h1v1h-1zM9 51h1v1h-1zM29 51h2v1h-2zM32 51h1v1h-1zM52 51h2v1h-2zM70 51h1v1h-1zM76 51h1v1h-1zM2 49h1v1h-1zM6 49h1v1h-1zM28 49h1v1h-1zM48 49h1v1h-1zM53 49h1v1h-1zM70 49h1v1h-1zM80 49h1v1h-1zM89 49h1v1h-1zM2 48h1v1h-1zM7 48h1v1h-1zM15 48h1v1h-1zM25 48h1v1h-1zM27 48h1v1h-1zM30 48h1v1h-1zM34 48h1v1h-1zM47 48h1v1h-1zM57 48h1v1h-1zM63 48h2v1h-2zM67 48h1v1h-1zM71 48h1v1h-1zM73 48h2v1h-2zM76 48h2v1h-2zM80 48h2v1h-2zM84 48h1v1h-1zM86 48h1v1h-1zM89 48h3v1h-3zM93 48h1v1h-1zM2 47h1v1h-1zM5 47h1v1h-1zM8 47h1v1h-1zM18 47h1v1h-1zM32 47h1v1h-1zM50 47h1v1h-1zM53 47h2v1h-2zM57 47h1v1h-1zM59 47h1v1h-1zM61 47h2v1h-2zM70 47h1v1h-1zM75 47h1v1h-1zM80 47h1v1h-1zM87 47h1v1h-1zM89 47h1v1h-1zM0 46h1v1h-1zM3 46h1v1h-1zM9 46h2v1h-2zM12 46h1v1h-1zM17 46h1v1h-1zM20 46h3v1h-3zM26 46h1v1h-1zM28 46h1v1h-1zM33 46h3v1h-3zM49 46h1v1h-1zM51 46h1v1h-1zM58 46h2v1h-2zM67 46h1v1h-1zM71 46h2v1h-2zM75 46h1v1h-1zM77 46h1v1h-1zM82 46h2v1h-2zM86 46h1v1h-1zM88 46h1v1h-1zM90 46h1v1h-1zM93 46h1v1h-1zM2 45h3v1h-3zM6 45h1v1h-1zM9 45h1v1h-1zM19 45h3v1h-3zM23 45h1v1h-1zM26 45h2v1h-2zM50 45h1v1h-1zM56 45h1v1h-1zM59 45h1v1h-1zM61 45h1v1h-1zM63 45h1v1h-1zM65 45h2v1h-2zM68 45h1v1h-1zM71 45h1v1h-1zM76 45h1v1h-1zM79 45h1v1h-1zM81 45h1v1h-1zM84 45h1v1h-1zM88 45h1v1h-1zM92 45h1v1h-1zM95 45h1v1h-1zM1 44h1v1h-1zM6 44h2v1h-2zM9 44h1v1h-1zM11 44h1v1h-1zM13 44h1v1h-1zM15 44h1v1h-1zM18 44h1v1h-1zM34 44h2v1h-2zM45 44h1v1h-1zM55 44h1v1h-1zM58 44h2v1h-2zM63 44h1v1h-1zM67 44h2v1h-2zM71 44h1v1h-1zM78 44h1v1h-1zM80 44h1v1h-1zM83 44h2v1h-2zM88 44h2v1h-2zM91 44h1v1h-1zM9 43h1v1h-1zM14 43h1v1h-1zM16 43h1v1h-1zM19 43h1v1h-1zM45 43h1v1h-1zM47 43h1v1h-1zM49 43h1v1h-1zM55 43h1v1h-1zM57 43h3v1h-3zM63 43h1v1h-1zM69 43h1v1h-1zM71 43h2v1h-2zM77 43h1v1h-1zM83 43h2v1h-2zM86 43h1v1h-1zM88 43h1v1h-1zM90 43h1v1h-1zM96 43h1v1h-1zM16 42h1v1h-1zM18 42h2v1h-2zM25 42h1v1h-1zM30 42h1v1h-1zM36 42h2v1h-2zM42 42h1v1h-1zM49 42h1v1h-1zM60 42h1v1h-1zM69 42h1v1h-1zM77 42h2v1h-2zM90 42h1v1h-1zM92 42h1v1h-1zM0 41h1v1h-1zM2 41h1v1h-1zM8 41h1v1h-1zM10 41h1v1h-1zM21 41h2v1h-2zM24 41h2v1h-2zM30 41h1v1h-1zM33 41h1v1h-1zM52 41h2v1h-2zM56 41h1v1h-1zM63 41h1v1h-1zM66 41h2v1h-2zM70 41h1v1h-1zM72 41h2v1h-2zM76 41h2v1h-2zM81 41h1v1h-1zM87 41h1v1h-1zM89 41h2v1h-2zM93 41h1v1h-1zM95 41h1v1h-1zM1 40h1v1h-1zM3 40h1v1h-1zM5 40h1v1h-1zM8 40h2v1h-2zM12 40h2v1h-2zM22 40h4v1h-4zM27 40h4v1h-4zM34 40h1v1h-1zM51 40h1v1h-1zM55 40h1v1h-1zM57 40h1v1h-1zM59 40h1v1h-1zM61 40h1v1h-1zM63 40h2v1h-2zM66 40h1v1h-1zM68 40h2v1h-2zM71 40h1v1h-1zM76 40h3v1h-3zM80 40h2v1h-2zM83 40h1v1h-1zM88 40h3v1h-3zM95 40h1v1h-1zM0 39h5v1h-5zM9 39h1v1h-1zM13 39h1v1h-1zM15 39h1v1h-1zM18 39h2v1h-2zM21 39h3v1h-3zM26 39h2v1h-2zM30 39h1v1h-1zM33 39h1v1h-1zM35 39h1v1h-1zM48 39h2v1h-2zM53 39h1v1h-1zM56 39h1v1h-1zM60 39h2v1h-2zM63 39h2v1h-2zM66 39h1v1h-1zM70 39h1v1h-1zM72 39h2v1h-2zM76 39h1v1h-1zM78 39h1v1h-1zM80 39h1v1h-1zM82 39h2v1h-2zM85 39h1v1h-1zM91 39h1v1h-1zM93 39h2v1h-2zM2 38h2v1h-2zM25 38h2v1h-2zM29 38h1v1h-1zM33 38h1v1h-1zM50 38h1v1h-1zM52 38h2v1h-2zM70 38h2v1h-2zM73 38h1v1h-1zM75 38h1v1h-1zM77 38h1v1h-1zM81 38h2v1h-2zM1 37h1v1h-1zM3 37h1v1h-1zM7 37h1v1h-1zM12 37h2v1h-2zM15 37h1v1h-1zM18 37h4v1h-4zM23 37h5v1h-5zM30 37h1v1h-1zM34 37h1v1h-1zM49 37h5v1h-5zM56 37h1v1h-1zM63 37h2v1h-2zM79 37h1v1h-1zM83 37h2v1h-2zM89 37h2v1h-2zM93 37h1v1h-1zM96 37h1v1h-1zM9 36h1v1h-1zM29 36h1v1h-1zM33 36h1v1h-1zM54 36h1v1h-1zM57 36h1v1h-1zM61 36h1v1h-1zM70 36h1v1h-1zM95 36h1v1h-1zM11 35h4v1h-4zM16 35h4v1h-4zM21 35h5v1h-5zM30 35h1v1h-1zM34 35h2v1h-2zM37 35h1v1h-1zM49 35h1v1h-1zM51 35h1v1h-1zM56 35h2v1h-2zM60 35h1v1h-1zM71 35h1v1h-1zM75 35h1v1h-1zM78 35h2v1h-2zM83 35h2v1h-2zM88 35h1v1h-1zM90 35h1v1h-1zM92 35h1v1h-1zM96 35h1v1h-1zM11 34h1v1h-1zM16 34h1v1h-1zM31 34h1v1h-1zM36 34h1v1h-1zM42 34h1v1h-1zM49 34h1v1h-1zM69 34h1v1h-1zM85 34h1v1h-1zM88 34h1v1h-1zM91 34h1v1h-1zM1 33h4v1h-4zM13 33h1v1h-1zM17 33h1v1h-1zM25 33h2v1h-2zM30 33h1v1h-1zM35 33h1v1h-1zM48 33h1v1h-1zM51 33h3v1h-3zM55 33h3v1h-3zM59 33h1v1h-1zM64 33h1v1h-1zM66 33h3v1h-3zM71 33h1v1h-1zM74 33h1v1h-1zM81 33h1v1h-1zM86 33h1v1h-1zM88 33h1v1h-1zM94 33h1v1h-1zM0 32h2v1h-2zM3 32h2v1h-2zM7 32h1v1h-1zM17 32h2v1h-2zM22 32h2v1h-2zM26 32h3v1h-3zM32 32h1v1h-1zM48 32h1v1h-1zM56 32h2v1h-2zM59 32h1v1h-1zM63 32h1v1h-1zM73 32h1v1h-1zM77 32h1v1h-1zM80 32h1v1h-1zM82 32h1v1h-1zM84 32h1v1h-1zM90 32h1v1h-1zM94 32h1v1h-1zM1 31h1v1h-1zM17 31h1v1h-1zM29 31h2v1h-2zM51 31h1v1h-1zM70 31h1v1h-1zM74 31h1v1h-1zM95 31h1v1h-1zM0 30h2v1h-2zM3 30h1v1h-1zM5 30h1v1h-1zM7 30h1v1h-1zM10 30h1v1h-1zM12 30h1v1h-1zM15 30h4v1h-4zM23 30h1v1h-1zM27 30h2v1h-2zM30 30h1v1h-1zM34 30h2v1h-2zM51 30h1v1h-1zM55 30h3v1h-3zM63 30h1v1h-1zM72 30h1v1h-1zM75 30h3v1h-3zM81 30h1v1h-1zM86 30h1v1h-1zM89 30h1v1h-1zM91 30h5v1h-5zM3 29h2v1h-2zM7 29h2v1h-2zM10 29h1v1h-1zM24 29h1v1h-1zM29 29h1v1h-1zM35 29h1v1h-1zM48 29h1v1h-1zM50 29h1v1h-1zM52 29h1v1h-1zM55 29h1v1h-1zM63 29h1v1h-1zM68 29h1v1h-1zM70 29h2v1h-2zM73 29h1v1h-1zM75 29h1v1h-1zM77 29h1v1h-1zM79 29h1v1h-1zM81 29h1v1h-1zM83 29h2v1h-2zM86 29h1v1h-1zM88 29h2v1h-2zM91 29h1v1h-1zM94 29h1v1h-1zM0 28h1v1h-1zM6 28h1v1h-1zM9 28h2v1h-2zM12 28h1v1h-1zM15 28h1v1h-1zM17 28h2v1h-2zM23 28h4v1h-4zM28 28h1v1h-1zM30 28h1v1h-1zM35 28h1v1h-1zM51 28h2v1h-2zM56 28h1v1h-1zM63 28h1v1h-1zM67 28h1v1h-1zM71 28h3v1h-3zM75 28h1v1h-1zM77 28h1v1h-1zM80 28h2v1h-2zM83 28h1v1h-1zM85 28h6v1h-6zM93 28h1v1h-1zM95 28h1v1h-1zM6 27h1v1h-1zM32 27h1v1h-1zM53 27h2v1h-2zM56 27h1v1h-1zM62 27h1v1h-1zM3 26h1v1h-1zM10 26h1v1h-1zM13 26h2v1h-2zM19 26h2v1h-2zM22 26h1v1h-1zM25 26h2v1h-2zM34 26h3v1h-3zM44 26h2v1h-2zM47 26h1v1h-1zM49 26h1v1h-1zM55 26h1v1h-1zM57 26h2v1h-2zM60 26h1v1h-1zM65 26h1v1h-1zM67 26h1v1h-1zM71 26h2v1h-2zM78 26h2v1h-2zM83 26h2v1h-2zM88 26h1v1h-1zM90 26h1v1h-1zM92 26h1v1h-1zM94 26h1v1h-1zM5 25h1v1h-1zM9 25h1v1h-1zM21 25h1v1h-1zM28 25h1v1h-1zM30 25h1v1h-1zM33 25h3v1h-3zM48 25h1v1h-1zM50 25h4v1h-4zM56 25h1v1h-1zM58 25h1v1h-1zM61 25h1v1h-1zM63 25h1v1h-1zM67 25h2v1h-2zM70 25h1v1h-1zM73 25h2v1h-2zM76 25h1v1h-1zM80 25h3v1h-3zM88 25h1v1h-1zM91 25h1v1h-1zM93 25h1v1h-1zM95 25h1v1h-1zM1 24h1v1h-1zM4 24h1v1h-1zM6 24h4v1h-4zM13 24h1v1h-1zM15 24h1v1h-1zM23 24h1v1h-1zM25 24h1v1h-1zM27 24h1v1h-1zM30 24h1v1h-1zM50 24h1v1h-1zM53 24h1v1h-1zM55 24h1v1h-1zM57 24h1v1h-1zM66 24h1v1h-1zM68 24h1v1h-1zM70 24h1v1h-1zM75 24h1v1h-1zM78 24h1v1h-1zM83 24h2v1h-2zM92 24h1v1h-1zM3 23h2v1h-2zM9 23h2v1h-2zM18 23h1v1h-1zM22 23h2v1h-2zM26 23h1v1h-1zM28 23h1v1h-1zM30 23h1v1h-1zM33 23h3v1h-3zM48 23h1v1h-1zM55 23h1v1h-1zM57 23h2v1h-2zM64 23h1v1h-1zM67 23h2v1h-2zM71 23h1v1h-1zM75 23h3v1h-3zM79 23h1v1h-1zM81 23h1v1h-1zM84 23h3v1h-3zM88 23h1v1h-1zM90 23h2v1h-2zM93 23h2v1h-2zM4 22h1v1h-1zM7 22h2v1h-2zM10 22h1v1h-1zM12 22h1v1h-1zM14 22h2v1h-2zM17 22h1v1h-1zM24 22h2v1h-2zM28 22h1v1h-1zM30 22h1v1h-1zM33 22h3v1h-3zM48 22h1v1h-1zM63 22h1v1h-1zM65 22h1v1h-1zM71 22h1v1h-1zM76 22h1v1h-1zM79 22h1v1h-1zM83 22h1v1h-1zM85 22h1v1h-1zM87 22h1v1h-1zM89 22h1v1h-1zM91 22h1v1h-1zM93 22h2v1h-2zM96 22h1v1h-1zM2 21h1v1h-1zM6 21h4v1h-4zM17 21h1v1h-1zM22 21h1v1h-1zM34 21h1v1h-1zM49 21h2v1h-2zM58 21h1v1h-1zM61 21h1v1h-1zM66 21h3v1h-3zM72 21h2v1h-2zM76 21h1v1h-1zM80 21h2v1h-2zM85 21h1v1h-1zM89 21h1v1h-1zM91 21h1v1h-1zM93 21h1v1h-1zM1 20h1v1h-1zM9 20h1v1h-1zM12 20h1v1h-1zM15 20h3v1h-3zM19 20h1v1h-1zM21 20h3v1h-3zM25 20h1v1h-1zM27 20h1v1h-1zM33 20h1v1h-1zM35 20h2v1h-2zM45 20h1v1h-1zM48 20h1v1h-1zM51 20h1v1h-1zM55 20h3v1h-3zM66 20h1v1h-1zM71 20h1v1h-1zM73 20h3v1h-3zM77 20h2v1h-2zM80 20h1v1h-1zM82 20h2v1h-2zM86 20h1v1h-1zM90 20h1v1h-1zM0 19h2v1h-2zM8 19h3v1h-3zM13 19h3v1h-3zM17 19h2v1h-2zM21 19h1v1h-1zM23 19h1v1h-1zM25 19h2v1h-2zM28 19h1v1h-1zM33 19h1v1h-1zM48 19h1v1h-1zM50 19h1v1h-1zM53 19h4v1h-4zM58 19h1v1h-1zM64 19h1v1h-1zM66 19h3v1h-3zM73 19h1v1h-1zM76 19h1v1h-1zM79 19h1v1h-1zM81 19h2v1h-2zM84 19h1v1h-1zM86 19h1v1h-1zM89 19h4v1h-4zM95 19h1v1h-1zM0 18h1v1h-1zM2 18h1v1h-1zM5 18h3v1h-3zM9 18h1v1h-1zM17 18h1v1h-1zM23 18h1v1h-1zM29 18h2v1h-2zM33 18h1v1h-1zM35 18h1v1h-1zM52 18h1v1h-1zM54 18h1v1h-1zM56 18h2v1h-2zM61 18h1v1h-1zM70 18h1v1h-1zM72 18h1v1h-1zM76 18h1v1h-1zM79 18h1v1h-1zM81 18h1v1h-1zM87 18h1v1h-1zM94 18h2v1h-2zM0 17h1v1h-1zM5 17h2v1h-2zM9 17h1v1h-1zM12 17h1v1h-1zM29 17h2v1h-2zM33 17h1v1h-1zM51 17h1v1h-1zM59 17h1v1h-1zM61 17h1v1h-1zM67 17h1v1h-1zM70 17h1v1h-1zM73 17h2v1h-2zM77 17h2v1h-2zM80 17h1v1h-1zM87 17h1v1h-1zM94 17h2v1h-2zM0 16h2v1h-2zM3 16h1v1h-1zM7 16h1v1h-1zM9 16h1v1h-1zM15 16h1v1h-1zM18 16h1v1h-1zM20 16h2v1h-2zM23 16h6v1h-6zM33 16h1v1h-1zM35 16h1v1h-1zM47 16h3v1h-3zM52 16h1v1h-1zM56 16h2v1h-2zM64 16h1v1h-1zM68 16h1v1h-1zM71 16h1v1h-1zM75 16h2v1h-2zM79 16h1v1h-1zM81 16h1v1h-1zM83 16h2v1h-2zM92 16h3v1h-3zM0 15h2v1h-2zM5 15h1v1h-1zM7 15h2v1h-2zM10 15h1v1h-1zM13 15h1v1h-1zM17 15h2v1h-2zM20 15h2v1h-2zM24 15h1v1h-1zM28 15h1v1h-1zM30 15h1v1h-1zM33 15h2v1h-2zM40 15h1v1h-1zM48 15h1v1h-1zM51 15h1v1h-1zM55 15h2v1h-2zM58 15h1v1h-1zM63 15h1v1h-1zM66 15h3v1h-3zM71 15h1v1h-1zM73 15h1v1h-1zM75 15h1v1h-1zM77 15h2v1h-2zM80 15h1v1h-1zM82 15h1v1h-1zM84 15h3v1h-3zM88 15h2v1h-2zM0 14h1v1h-1zM5 14h3v1h-3zM9 14h1v1h-1zM13 14h1v1h-1zM15 14h1v1h-1zM17 14h1v1h-1zM21 14h1v1h-1zM25 14h2v1h-2zM28 14h1v1h-1zM32 14h1v1h-1zM50 14h1v1h-1zM57 14h2v1h-2zM64 14h1v1h-1zM71 14h1v1h-1zM76 14h2v1h-2zM81 14h1v1h-1zM86 14h1v1h-1zM89 14h1v1h-1zM93 14h2v1h-2zM0 13h1v1h-1zM5 13h2v1h-2zM21 13h1v1h-1zM28 13h2v1h-2zM32 13h2v1h-2zM50 13h1v1h-1zM52 13h2v1h-2zM56 13h2v1h-2zM59 13h1v1h-1zM61 13h1v1h-1zM67 13h2v1h-2zM70 13h1v1h-1zM72 13h1v1h-1zM74 13h1v1h-1zM76 13h1v1h-1zM80 13h1v1h-1zM93 13h1v1h-1zM0 12h2v1h-2zM4 12h1v1h-1zM7 12h2v1h-2zM15 12h1v1h-1zM17 12h1v1h-1zM23 12h2v1h-2zM26 12h1v1h-1zM48 12h1v1h-1zM51 12h3v1h-3zM59 12h1v1h-1zM61 12h1v1h-1zM64 12h1v1h-1zM67 12h1v1h-1zM70 12h1v1h-1zM72 12h2v1h-2zM77 12h1v1h-1zM80 12h2v1h-2zM87 12h1v1h-1zM89 12h1v1h-1zM92 12h3v1h-3zM2 11h1v1h-1zM5 11h1v1h-1zM9 11h1v1h-1zM25 11h1v1h-1zM28 11h1v1h-1zM57 11h1v1h-1zM62 11h1v1h-1zM68 11h1v1h-1zM73 11h3v1h-3zM81 11h1v1h-1zM94 11h2v1h-2zM1 10h1v1h-1zM5 10h3v1h-3zM9 10h1v1h-1zM12 10h1v1h-1zM15 10h1v1h-1zM17 10h2v1h-2zM25 10h1v1h-1zM29 10h2v1h-2zM33 10h1v1h-1zM48 10h1v1h-1zM50 10h1v1h-1zM53 10h1v1h-1zM63 10h1v1h-1zM66 10h3v1h-3zM73 10h1v1h-1zM76 10h2v1h-2zM81 10h2v1h-2zM87 10h1v1h-1zM89 10h1v1h-1zM93 10h1v1h-1zM0 9h1v1h-1zM11 9h2v1h-2zM16 9h1v1h-1zM20 9h2v1h-2zM23 9h1v1h-1zM25 9h1v1h-1zM33 9h1v1h-1zM35 9h1v1h-1zM37 9h1v1h-1zM49 9h1v1h-1zM55 9h1v1h-1zM68 9h1v1h-1zM74 9h1v1h-1zM78 9h2v1h-2zM84 9h1v1h-1zM86 9h1v1h-1zM89 9h1v1h-1zM91 9h4v1h-4zM2 8h1v1h-1zM4 8h1v1h-1zM6 8h2v1h-2zM17 8h1v1h-1zM29 8h1v1h-1zM32 8h2v1h-2zM50 8h4v1h-4zM56 8h1v1h-1zM61 8h3v1h-3zM67 8h2v1h-2zM70 8h2v1h-2zM73 8h1v1h-1zM81 8h1v1h-1zM1 7h1v1h-1zM3 7h2v1h-2zM6 7h1v1h-1zM8 7h2v1h-2zM12 7h4v1h-4zM20 7h1v1h-1zM23 7h2v1h-2zM35 7h1v1h-1zM47 7h3v1h-3zM52 7h1v1h-1zM55 7h2v1h-2zM59 7h1v1h-1zM66 7h3v1h-3zM74 7h2v1h-2zM77 7h1v1h-1zM81 7h2v1h-2zM84 7h1v1h-1zM86 7h2v1h-2zM90 7h2v1h-2zM93 7h2v1h-2zM6 6h1v1h-1zM10 6h1v1h-1zM13 6h2v1h-2zM22 6h1v1h-1zM28 6h1v1h-1zM30 6h1v1h-1zM48 6h1v1h-1zM50 6h1v1h-1zM53 6h4v1h-4zM59 6h1v1h-1zM61 6h1v1h-1zM64 6h1v1h-1zM68 6h1v1h-1zM70 6h1v1h-1zM73 6h1v1h-1zM76 6h2v1h-2zM89 6h1v1h-1zM93 6h1v1h-1zM95 6h1v1h-1zM0 5h1v1h-1zM2 5h4v1h-4zM8 5h2v1h-2zM13 5h1v1h-1zM18 5h1v1h-1zM26 5h3v1h-3zM30 5h1v1h-1zM34 5h1v1h-1zM48 5h1v1h-1zM52 5h1v1h-1zM57 5h1v1h-1zM62 5h1v1h-1zM66 5h2v1h-2zM71 5h1v1h-1zM73 5h3v1h-3zM77 5h1v1h-1zM87 5h1v1h-1zM89 5h1v1h-1zM93 5h1v1h-1zM95 5h1v1h-1zM4 4h2v1h-2zM7 4h1v1h-1zM12 4h1v1h-1zM17 4h1v1h-1zM23 4h1v1h-1zM51 4h1v1h-1zM54 4h1v1h-1zM61 4h1v1h-1zM66 4h1v1h-1zM70 4h1v1h-1zM72 4h1v1h-1zM77 4h1v1h-1zM80 4h1v1h-1zM84 4h1v1h-1zM87 4h1v1h-1zM95 4h1v1h-1zM4 3h1v1h-1zM6 3h2v1h-2zM10 3h1v1h-1zM15 3h1v1h-1zM17 3h1v1h-1zM21 3h1v1h-1zM25 3h3v1h-3zM29 3h2v1h-2zM33 3h2v1h-2zM48 3h1v1h-1zM50 3h1v1h-1zM55 3h1v1h-1zM57 3h1v1h-1zM59 3h1v1h-1zM66 3h1v1h-1zM68 3h1v1h-1zM71 3h1v1h-1zM73 3h3v1h-3zM80 3h1v1h-1zM82 3h3v1h-3zM86 3h2v1h-2zM89 3h3v1h-3zM95 3h1v1h-1zM4 2h2v1h-2zM8 2h2v1h-2zM18 2h1v1h-1zM24 2h1v1h-1zM27 2h1v1h-1zM29 2h2v1h-2zM33 2h2v1h-2zM57 2h1v1h-1zM63 2h2v1h-2zM66 2h2v1h-2zM70 2h1v1h-1zM73 2h2v1h-2zM78 2h3v1h-3zM82 2h1v1h-1zM84 2h2v1h-2zM87 2h1v1h-1zM89 2h1v1h-1zM3 1h1v1h-1zM8 1h1v1h-1zM10 1h1v1h-1zM20 1h1v1h-1zM22 1h1v1h-1zM24 1h1v1h-1zM26 1h1v1h-1zM35 1h3v1h-3zM51 1h1v1h-1zM55 1h2v1h-2zM60 1h1v1h-1zM65 1h2v1h-2zM68 1h1v1h-1zM71 1h1v1h-1zM77 1h3v1h-3zM85 1h1v1h-1zM90 1h4v1h-4zM1 0h1v1h-1zM4 0h1v1h-1zM6 0h1v1h-1zM15 0h1v1h-1zM17 0h1v1h-1zM25 0h1v1h-1zM29 0h1v1h-1zM53 0h1v1h-1zM59 0h1v1h-1zM61 0h1v1h-1zM74 0h1v1h-1z"/>
<path fill="#e7ad7c" d="M3 96h2v1h-2zM9 96h1v1h-1zM12 96h1v1h-1zM15 96h1v1h-1zM17 96h1v1h-1zM22 96h2v1h-2zM26 96h2v1h-2zM35 96h1v1h-1zM47 96h3v1h-3zM52 96h1v1h-1zM56 96h1v1h-1zM59 96h1v1h-1zM63 96h1v1h-1zM67 96h1v1h-1zM71 96h1v1h-1zM75 96h1v1h-1zM85 96h2v1h-2zM88 96h1v1h-1zM90 96h1v1h-1zM93 96h2v1h-2zM12 95h2v1h-2zM15 95h1v1h-1zM18 95h6v1h-6zM25 95h2v1h-2zM31 95h1v1h-1zM35 95h3v1h-3zM48 95h2v1h-2zM55 95h1v1h-1zM67 95h2v1h-2zM75 95h1v1h-1zM78 95h2v1h-2zM82 95h2v1h-2zM88 95h1v1h-1zM90 95h5v1h-5zM11 94h1v1h-1zM14 94h3v1h-3zM31 94h1v1h-1zM37 94h1v1h-1zM42 94h1v1h-1zM45 94h1v1h-1zM60 94h1v1h-1zM72 94h1v1h-1zM77 94h1v1h-1zM79 94h1v1h-1zM83 94h1v1h-1zM86 94h1v1h-1zM90 94h1v1h-1zM92 94h1v1h-1zM94 94h1v1h-1zM0 93h1v1h-1zM8 93h1v1h-1zM10 93h4v1h-4zM15 93h2v1h-2zM18 93h3v1h-3zM22 93h1v1h-1zM24 93h1v1h-1zM26 93h1v1h-1zM34 93h1v1h-1zM40 93h1v1h-1zM49 93h1v1h-1zM52 93h1v1h-1zM55 93h1v1h-1zM68 93h1v1h-1zM71 93h2v1h-2zM78 93h2v1h-2zM82 93h1v1h-1zM85 93h2v1h-2zM88 93h1v1h-1zM92 93h2v1h-2zM96 93h1v1h-1zM0 92h1v1h-1zM5 92h1v1h-1zM10 92h2v1h-2zM13 92h2v1h-2zM18 92h1v1h-1zM20 92h1v1h-1zM22 92h3v1h-3zM27 92h1v1h-1zM35 92h1v1h-1zM38 92h1v1h-1zM44 92h1v1h-1zM49 92h1v1h-1zM55 92h1v1h-1zM58 92h1v1h-1zM60 92h1v1h-1zM68 92h1v1h-1zM75 92h1v1h-1zM77 92h1v1h-1zM82 92h2v1h-2zM85 92h2v1h-2zM4 91h1v1h-1zM10 91h2v1h-2zM13 91h3v1h-3zM19 91h3v1h-3zM23 91h2v1h-2zM30 91h1v1h-1zM38 91h1v1h-1zM47 91h2v1h-2zM51 91h1v1h-1zM55 91h1v1h-1zM57 91h1v1h-1zM60 91h1v1h-1zM63 91h3v1h-3zM67 91h1v1h-1zM73 91h5v1h-5zM80 91h1v1h-1zM84 91h1v1h-1zM88 91h1v1h-1zM90 91h1v1h-1zM96 91h1v1h-1zM10 90h2v1h-2zM20 90h1v1h-1zM31 90h1v1h-1zM36 90h1v1h-1zM38 90h1v1h-1zM40 90h2v1h-2zM43 90h3v1h-3zM48 90h2v1h-2zM60 90h1v1h-1zM64 90h2v1h-2zM74 90h1v1h-1zM85 90h1v1h-1zM8 89h1v1h-1zM10 89h1v1h-1zM12 89h2v1h-2zM15 89h2v1h-2zM20 89h1v1h-1zM22 89h2v1h-2zM26 89h1v1h-1zM36 89h1v1h-1zM44 89h1v1h-1zM51 89h1v1h-1zM55 89h2v1h-2zM58 89h1v1h-1zM68 89h1v1h-1zM76 89h1v1h-1zM79 89h1v1h-1zM83 89h1v1h-1zM85 89h1v1h-1zM90 89h1v1h-1zM94 89h1v1h-1zM3 88h1v1h-1zM7 88h1v1h-1zM10 88h1v1h-1zM14 88h1v1h-1zM17 88h2v1h-2zM20 88h1v1h-1zM22 88h3v1h-3zM26 88h1v1h-1zM34 88h1v1h-1zM36 88h1v1h-1zM47 88h2v1h-2zM58 88h1v1h-1zM64 88h1v1h-1zM68 88h1v1h-1zM78 88h1v1h-1zM80 88h1v1h-1zM82 88h1v1h-1zM86 88h1v1h-1zM88 88h1v1h-1zM90 88h1v1h-1zM92 88h2v1h-2zM96 88h1v1h-1zM0 87h1v1h-1zM12 87h2v1h-2zM16 87h1v1h-1zM19 87h1v1h-1zM22 87h1v1h-1zM30 87h1v1h-1zM40 87h1v1h-1zM48 87h1v1h-1zM64 87h1v1h-1zM83 87h1v1h-1zM92 87h1v1h-1zM96 87h1v1h-1zM3 86h6v1h-6zM12 86h2v1h-2zM18 86h4v1h-4zM23 86h6v1h-6zM30 86h1v1h-1zM35 86h3v1h-3zM51 86h2v1h-2zM57 86h1v1h-1zM59 86h1v1h-1zM61 86h1v1h-1zM71 86h2v1h-2zM75 86h2v1h-2zM78 86h1v1h-1zM80 86h1v1h-1zM82 86h3v1h-3zM87 86h2v1h-2zM91 86h2v1h-2zM2 85h5v1h-5zM15 85h1v1h-1zM17 85h1v1h-1zM26 85h1v1h-1zM28 85h1v1h-1zM30 85h1v1h-1zM33 85h2v1h-2zM48 85h1v1h-1zM50 85h1v1h-1zM53 85h1v1h-1zM56 85h1v1h-1zM59 85h1v1h-1zM64 85h1v1h-1zM70 85h1v1h-1zM73 85h1v1h-1zM86 85h1v1h-1zM93 85h2v1h-2zM0 84h2v1h-2zM3 84h1v1h-1zM7 84h1v1h-1zM9 84h2v1h-2zM15 84h1v1h-1zM21 84h2v1h-2zM24 84h1v1h-1zM27 84h1v1h-1zM34 84h1v1h-1zM38 84h1v1h-1zM45 84h1v1h-1zM51 84h2v1h-2zM57 84h1v1h-1zM67 84h1v1h-1zM71 84h3v1h-3zM75 84h1v1h-1zM77 84h2v1h-2zM81 84h2v1h-2zM84 84h1v1h-1zM88 84h1v1h-1zM90 84h2v1h-2zM93 84h2v1h-2zM96 84h1v1h-1zM1 83h1v1h-1zM3 83h3v1h-3zM7 83h1v1h-1zM9 83h2v1h-2zM18 83h2v1h-2zM21 83h1v1h-1zM26 83h3v1h-3zM30 83h1v1h-1zM33 83h1v1h-1zM48 83h2v1h-2zM51 83h1v1h-1zM55 83h1v1h-1zM64 83h1v1h-1zM66 83h2v1h-2zM73 83h3v1h-3zM84 83h1v1h-1zM92 83h3v1h-3zM96 83h1v1h-1zM2 82h1v1h-1zM4 82h2v1h-2zM8 82h1v1h-1zM32 82h1v1h-1zM35 82h2v1h-2zM48 82h1v1h-1zM50 82h1v1h-1zM54 82h1v1h-1zM56 82h1v1h-1zM59 82h1v1h-1zM66 82h1v1h-1zM68 82h1v1h-1zM71 82h1v1h-1zM73 82h1v1h-1zM0 81h4v1h-4zM5 81h1v1h-1zM7 81h1v1h-1zM11 81h2v1h-2zM16 81h3v1h-3zM21 81h1v1h-1zM23 81h2v1h-2zM35 81h1v1h-1zM55 81h2v1h-2zM67 81h1v1h-1zM73 81h1v1h-1zM75 81h1v1h-1zM81 81h1v1h-1zM85 81h1v1h-1zM87 81h2v1h-2zM91 81h2v1h-2zM2 80h2v1h-2zM7 80h1v1h-1zM9 80h1v1h-1zM15 80h1v1h-1zM18 80h2v1h-2zM24 80h1v1h-1zM28 80h1v1h-1zM34 80h1v1h-1zM51 80h2v1h-2zM55 80h1v1h-1zM57 80h1v1h-1zM59 80h1v1h-1zM63 80h1v1h-1zM68 80h1v1h-1zM71 80h5v1h-5zM77 80h1v1h-1zM80 80h1v1h-1zM88 80h2v1h-2zM92 80h2v1h-2zM95 80h1v1h-1zM0 79h1v1h-1zM8 79h1v1h-1zM11 79h1v1h-1zM15 79h1v1h-1zM19 79h1v1h-1zM27 79h1v1h-1zM31 79h1v1h-1zM34 79h1v1h-1zM37 79h1v1h-1zM39 79h2v1h-2zM42 79h2v1h-2zM45 79h1v1h-1zM48 79h2v1h-2zM58 79h1v1h-1zM67 79h1v1h-1zM69 79h1v1h-1zM71 79h1v1h-1zM80 79h1v1h-1zM83 79h1v1h-1zM85 79h1v1h-1zM90 79h1v1h-1zM94 79h1v1h-1zM1 78h1v1h-1zM3 78h2v1h-2zM8 78h1v1h-1zM10 78h1v1h-1zM13 78h1v1h-1zM15 78h2v1h-2zM22 78h1v1h-1zM24 78h1v1h-1zM28 78h1v1h-1zM30 78h1v1h-1zM43 78h1v1h-1zM48 78h1v1h-1zM55 78h1v1h-1zM60 78h1v1h-1zM63 78h1v1h-1zM67 78h1v1h-1zM71 78h1v1h-1zM74 78h2v1h-2zM78 78h2v1h-2zM82 78h3v1h-3zM90 78h1v1h-1zM92 78h2v1h-2zM96 78h1v1h-1zM1 77h1v1h-1zM3 77h1v1h-1zM5 77h1v1h-1zM9 77h2v1h-2zM13 77h1v1h-1zM16 77h2v1h-2zM20 77h1v1h-1zM23 77h1v1h-1zM26 77h2v1h-2zM36 77h1v1h-1zM48 77h1v1h-1zM50 77h1v1h-1zM52 77h1v1h-1zM55 77h2v1h-2zM66 77h2v1h-2zM72 77h4v1h-4zM79 77h4v1h-4zM87 77h1v1h-1zM91 77h1v1h-1zM95 77h2v1h-2zM1 76h1v1h-1zM3 76h6v1h-6zM10 76h1v1h-1zM19 76h1v1h-1zM23 76h1v1h-1zM28 76h1v1h-1zM30 76h1v1h-1zM40 76h1v1h-1zM48 76h2v1h-2zM52 76h1v1h-1zM55 76h3v1h-3zM61 76h1v1h-1zM64 76h1v1h-1zM66 76h3v1h-3zM71 76h5v1h-5zM77 76h2v1h-2zM82 76h4v1h-4zM88 76h1v1h-1zM90 76h2v1h-2zM93 76h1v1h-1zM1 75h1v1h-1zM5 75h1v1h-1zM10 75h1v1h-1zM12 75h2v1h-2zM15 75h1v1h-1zM24 75h2v1h-2zM27 75h2v1h-2zM30 75h1v1h-1zM33 75h3v1h-3zM42 75h1v1h-1zM47 75h2v1h-2zM56 75h1v1h-1zM58 75h1v1h-1zM60 75h1v1h-1zM63 75h2v1h-2zM66 75h1v1h-1zM72 75h1v1h-1zM74 75h1v1h-1zM79 75h1v1h-1zM85 75h2v1h-2zM88 75h1v1h-1zM91 75h2v1h-2zM94 75h1v1h-1zM0 74h2v1h-2zM3 74h2v1h-2zM7 74h3v1h-3zM12 74h1v1h-1zM18 74h1v1h-1zM23 74h4v1h-4zM30 74h1v1h-1zM33 74h2v1h-2zM47 74h2v1h-2zM52 74h1v1h-1zM59 74h1v1h-1zM63 74h1v1h-1zM66 74h2v1h-2zM72 74h1v1h-1zM78 74h1v1h-1zM81 74h1v1h-1zM83 74h2v1h-2zM89 74h1v1h-1zM91 74h1v1h-1zM93 74h1v1h-1zM96 74h1v1h-1zM0 73h2v1h-2zM4 73h2v1h-2zM7 73h2v1h-2zM10 73h1v1h-1zM15 73h1v1h-1zM19 73h2v1h-2zM22 73h1v1h-1zM26 73h3v1h-3zM33 73h2v1h-2zM48 73h1v1h-1zM52 73h1v1h-1zM58 73h1v1h-1zM67 73h1v1h-1zM74 73h2v1h-2zM81 73h1v1h-1zM83 73h1v1h-1zM90 73h1v1h-1zM94 73h1v1h-1zM96 73h1v1h-1zM3 72h3v1h-3zM8 72h1v1h-1zM10 72h1v1h-1zM12 72h1v1h-1zM15 72h2v1h-2zM18 72h1v1h-1zM21 72h2v1h-2zM26 72h3v1h-3zM33 72h1v1h-1zM35 72h2v1h-2zM48 72h1v1h-1zM50 72h3v1h-3zM57 72h1v1h-1zM60 72h1v1h-1zM65 72h2v1h-2zM72 72h2v1h-2zM75 72h4v1h-4zM82 72h2v1h-2zM90 72h4v1h-4zM1 71h1v1h-1zM10 71h1v1h-1zM21 71h2v1h-2zM31 71h1v1h-1zM35 71h2v1h-2zM40 71h1v1h-1zM42 71h1v1h-1zM49 71h1v1h-1zM52 71h1v1h-1zM64 71h1v1h-1zM67 71h1v1h-1zM71 71h1v1h-1zM78 71h2v1h-2zM83 71h1v1h-1zM88 71h1v1h-1zM90 71h2v1h-2zM94 71h1v1h-1zM0 70h2v1h-2zM3 70h1v1h-1zM7 70h2v1h-2zM10 70h2v1h-2zM13 70h1v1h-1zM19 70h1v1h-1zM22 70h3v1h-3zM27 70h1v1h-1zM47 70h3v1h-3zM52 70h1v1h-1zM56 70h1v1h-1zM60 70h1v1h-1zM65 70h1v1h-1zM69 70h1v1h-1zM72 70h1v1h-1zM74 70h1v1h-1zM76 70h1v1h-1zM78 70h1v1h-1zM81 70h1v1h-1zM89 70h1v1h-1zM96 70h1v1h-1zM0 69h1v1h-1zM4 69h1v1h-1zM10 69h1v1h-1zM12 69h2v1h-2zM17 69h1v1h-1zM19 69h1v1h-1zM21 69h1v1h-1zM23 69h2v1h-2zM26 69h1v1h-1zM33 69h1v1h-1zM35 69h2v1h-2zM47 69h1v1h-1zM49 69h1v1h-1zM52 69h1v1h-1zM58 69h1v1h-1zM63 69h1v1h-1zM67 69h2v1h-2zM71 69h1v1h-1zM74 69h1v1h-1zM82 69h4v1h-4zM87 69h3v1h-3zM10 68h2v1h-2zM13 68h1v1h-1zM16 68h1v1h-1zM18 68h1v1h-1zM20 68h2v1h-2zM23 68h2v1h-2zM31 68h1v1h-1zM35 68h1v1h-1zM37 68h1v1h-1zM45 68h1v1h-1zM49 68h1v1h-1zM55 68h1v1h-1zM58 68h1v1h-1zM75 68h1v1h-1zM78 68h2v1h-2zM84 68h1v1h-1zM88 68h1v1h-1zM92 68h1v1h-1zM94 68h1v1h-1zM96 68h1v1h-1zM31 67h1v1h-1zM39 67h3v1h-3zM43 67h1v1h-1zM47 67h1v1h-1zM5 66h1v1h-1zM9 66h3v1h-3zM13 66h1v1h-1zM18 66h1v1h-1zM20 66h3v1h-3zM35 66h1v1h-1zM47 66h1v1h-1zM49 66h1v1h-1zM51 66h2v1h-2zM58 66h1v1h-1zM60 66h1v1h-1zM64 66h1v1h-1zM67 66h1v1h-1zM75 66h1v1h-1zM77 66h1v1h-1zM83 66h2v1h-2zM89 66h1v1h-1zM96 66h1v1h-1zM1 65h2v1h-2zM6 65h1v1h-1zM17 65h1v1h-1zM25 65h1v1h-1zM28 65h2v1h-2zM32 65h1v1h-1zM51 65h1v1h-1zM53 65h1v1h-1zM59 65h1v1h-1zM61 65h1v1h-1zM70 65h1v1h-1zM74 65h1v1h-1zM76 65h1v1h-1zM80 65h1v1h-1zM82 65h1v1h-1zM87 65h1v1h-1zM93 65h1v1h-1zM95 65h1v1h-1zM14 64h1v1h-1zM31 64h1v1h-1zM36 64h8v1h-8zM60 64h1v1h-1zM65 64h1v1h-1zM96 64h1v1h-1zM11 63h1v1h-1zM13 63h1v1h-1zM21 63h4v1h-4zM27 63h1v1h-1zM36 63h1v1h-1zM44 63h2v1h-2zM47 63h1v1h-1zM49 63h1v1h-1zM63 63h3v1h-3zM68 63h2v1h-2zM72 63h1v1h-1zM75 63h1v1h-1zM82 63h1v1h-1zM85 63h1v1h-1zM90 63h3v1h-3zM96 63h1v1h-1zM3 62h1v1h-1zM8 62h1v1h-1zM11 62h2v1h-2zM16 62h2v1h-2zM21 62h3v1h-3zM35 62h1v1h-1zM37 62h1v1h-1zM40 62h1v1h-1zM49 62h1v1h-1zM55 62h1v1h-1zM57 62h1v1h-1zM60 62h1v1h-1zM64 62h1v1h-1zM72 62h1v1h-1zM77 62h4v1h-4zM82 62h2v1h-2zM88 62h3v1h-3zM96 62h1v1h-1zM0 61h2v1h-2zM4 61h1v1h-1zM10 61h1v1h-1zM14 61h2v1h-2zM21 61h1v1h-1zM24 61h2v1h-2zM27 61h2v1h-2zM30 61h1v1h-1zM34 61h1v1h-1zM48 61h2v1h-2zM51 61h1v1h-1zM54 61h3v1h-3zM72 61h1v1h-1zM75 61h1v1h-1zM81 61h1v1h-1zM83 61h2v1h-2zM88 61h1v1h-1zM90 61h3v1h-3zM94 61h1v1h-1zM96 61h1v1h-1zM1 60h1v1h-1zM6 60h3v1h-3zM10 60h1v1h-1zM14 60h1v1h-1zM19 60h1v1h-1zM24 60h2v1h-2zM27 60h1v1h-1zM32 60h2v1h-2zM51 60h2v1h-2zM56 60h1v1h-1zM59 60h1v1h-1zM66 60h1v1h-1zM68 60h1v1h-1zM73 60h1v1h-1zM75 60h1v1h-1zM81 60h1v1h-1zM84 60h3v1h-3zM89 60h1v1h-1zM91 60h1v1h-1zM1 59h2v1h-2zM10 59h1v1h-1zM17 59h1v1h-1zM28 59h1v1h-1zM32 59h1v1h-1zM34 59h1v1h-1zM47 59h2v1h-2zM50 59h1v1h-1zM52 59h2v1h-2zM55 59h3v1h-3zM62 59h1v1h-1zM75 59h2v1h-2zM89 59h1v1h-1zM94 59h1v1h-1zM4 58h3v1h-3zM12 58h1v1h-1zM32 58h1v1h-1zM50 58h2v1h-2zM54 58h1v1h-1zM61 58h2v1h-2zM73 58h1v1h-1zM95 58h1v1h-1zM17 57h1v1h-1zM29 57h1v1h-1zM32 57h1v1h-1zM54 57h1v1h-1zM62 57h1v1h-1zM3 56h1v1h-1zM6 56h1v1h-1zM9 56h1v1h-1zM17 56h1v1h-1zM20 56h1v1h-1zM25 56h1v1h-1zM29 56h1v1h-1zM32 56h1v1h-1zM34 56h1v1h-1zM45 56h1v1h-1zM48 56h1v1h-1zM53 56h2v1h-2zM57 56h1v1h-1zM61 56h2v1h-2zM66 56h1v1h-1zM70 56h1v1h-1zM95 56h1v1h-1zM6 55h1v1h-1zM29 55h1v1h-1zM32 55h1v1h-1zM48 55h1v1h-1zM53 55h2v1h-2zM57 55h1v1h-1zM81 55h1v1h-1zM95 55h1v1h-1zM2 54h1v1h-1zM17 54h1v1h-1zM21 54h1v1h-1zM25 54h1v1h-1zM32 54h1v1h-1zM50 54h2v1h-2zM56 54h3v1h-3zM61 54h1v1h-1zM66 54h1v1h-1zM70 54h1v1h-1zM78 54h1v1h-1zM6 53h1v1h-1zM17 53h2v1h-2zM29 53h1v1h-1zM32 53h1v1h-1zM53 53h1v1h-1zM61 53h1v1h-1zM4 52h1v1h-1zM6 52h2v1h-2zM33 52h1v1h-1zM45 52h1v1h-1zM47 52h1v1h-1zM49 52h1v1h-1zM53 52h2v1h-2zM56 52h1v1h-1zM61 52h2v1h-2zM72 52h1v1h-1zM74 52h1v1h-1zM81 52h1v1h-1zM87 52h1v1h-1zM94 52h2v1h-2zM2 51h1v1h-1zM6 51h1v1h-1zM12 51h1v1h-1zM17 51h1v1h-1zM28 51h1v1h-1zM33 51h1v1h-1zM40 51h1v1h-1zM44 51h1v1h-1zM48 51h1v1h-1zM50 51h2v1h-2zM56 51h1v1h-1zM59 51h1v1h-1zM61 51h1v1h-1zM63 51h2v1h-2zM68 51h1v1h-1zM79 51h1v1h-1zM82 51h1v1h-1zM87 51h1v1h-1zM62 50h1v1h-1zM70 50h1v1h-1zM0 49h1v1h-1zM5 49h1v1h-1zM8 49h1v1h-1zM21 49h2v1h-2zM26 49h2v1h-2zM29 49h2v1h-2zM33 49h1v1h-1zM37 49h1v1h-1zM44 49h1v1h-1zM52 49h1v1h-1zM55 49h3v1h-3zM59 49h1v1h-1zM68 49h1v1h-1zM73 49h4v1h-4zM78 49h1v1h-1zM81 49h1v1h-1zM84 49h1v1h-1zM87 49h1v1h-1zM90 49h1v1h-1zM0 48h2v1h-2zM5 48h2v1h-2zM8 48h2v1h-2zM11 48h1v1h-1zM13 48h2v1h-2zM17 48h8v1h-8zM26 48h1v1h-1zM35 48h1v1h-1zM37 48h1v1h-1zM40 48h2v1h-2zM45 48h1v1h-1zM51 48h2v1h-2zM55 48h1v1h-1zM59 48h1v1h-1zM65 48h2v1h-2zM75 48h1v1h-1zM78 48h1v1h-1zM82 48h2v1h-2zM87 48h2v1h-2zM92 48h1v1h-1zM0 47h2v1h-2zM3 47h2v1h-2zM6 47h1v1h-1zM13 47h1v1h-1zM17 47h1v1h-1zM20 47h1v1h-1zM25 47h4v1h-4zM30 47h1v1h-1zM33 47h3v1h-3zM44 47h1v1h-1zM51 47h2v1h-2zM55 47h1v1h-1zM58 47h1v1h-1zM63 47h6v1h-6zM73 47h2v1h-2zM76 47h3v1h-3zM81 47h2v1h-2zM84 47h1v1h-1zM94 47h2v1h-2zM11 46h1v1h-1zM14 46h1v1h-1zM19 46h1v1h-1zM24 46h1v1h-1zM37 46h2v1h-2zM42 46h1v1h-1zM45 46h1v1h-1zM60 46h1v1h-1zM63 46h3v1h-3zM79 46h1v1h-1zM85 46h1v1h-1zM91 46h2v1h-2zM5 45h1v1h-1zM7 45h1v1h-1zM10 45h1v1h-1zM12 45h2v1h-2zM16 45h1v1h-1zM24 45h1v1h-1zM30 45h2v1h-2zM35 45h2v1h-2zM38 45h1v1h-1zM42 45h1v1h-1zM45 45h1v1h-1zM48 45h2v1h-2zM55 45h1v1h-1zM57 45h2v1h-2zM64 45h1v1h-1zM72 45h1v1h-1zM78 45h1v1h-1zM83 45h1v1h-1zM86 45h1v1h-1zM89 45h3v1h-3zM94 45h1v1h-1zM0 44h1v1h-1zM3 44h1v1h-1zM10 44h1v1h-1zM12 44h1v1h-1zM16 44h1v1h-1zM19 44h2v1h-2zM22 44h6v1h-6zM30 44h1v1h-1zM36 44h2v1h-2zM47 44h3v1h-3zM69 44h1v1h-1zM79 44h1v1h-1zM81 44h2v1h-2zM85 44h2v1h-2zM93 44h2v1h-2zM11 43h1v1h-1zM31 43h1v1h-1zM37 43h1v1h-1zM40 43h2v1h-2zM43 43h2v1h-2zM60 43h1v1h-1zM92 43h1v1h-1zM14 42h1v1h-1zM35 42h1v1h-1zM38 42h4v1h-4zM44 42h1v1h-1zM63 42h1v1h-1zM85 42h1v1h-1zM1 41h1v1h-1zM3 41h3v1h-3zM7 41h1v1h-1zM13 41h1v1h-1zM15 41h2v1h-2zM18 41h3v1h-3zM28 41h1v1h-1zM34 41h2v1h-2zM37 41h1v1h-1zM47 41h3v1h-3zM51 41h1v1h-1zM57 41h3v1h-3zM64 41h2v1h-2zM68 41h2v1h-2zM78 41h1v1h-1zM84 41h1v1h-1zM86 41h1v1h-1zM88 41h1v1h-1zM92 41h1v1h-1zM94 41h1v1h-1zM0 40h1v1h-1zM7 40h1v1h-1zM11 40h1v1h-1zM14 40h2v1h-2zM19 40h3v1h-3zM26 40h1v1h-1zM35 40h3v1h-3zM42 40h1v1h-1zM44 40h2v1h-2zM47 40h1v1h-1zM58 40h1v1h-1zM60 40h1v1h-1zM72 40h1v1h-1zM85 40h2v1h-2zM91 40h3v1h-3zM96 40h1v1h-1zM5 39h1v1h-1zM10 39h1v1h-1zM12 39h1v1h-1zM16 39h1v1h-1zM20 39h1v1h-1zM24 39h1v1h-1zM34 39h1v1h-1zM37 39h1v1h-1zM40 39h3v1h-3zM47 39h1v1h-1zM51 39h1v1h-1zM55 39h1v1h-1zM68 39h1v1h-1zM71 39h1v1h-1zM79 39h1v1h-1zM81 39h1v1h-1zM86 39h1v1h-1zM88 39h2v1h-2zM92 39h1v1h-1zM4 38h1v1h-1zM7 38h2v1h-2zM17 38h1v1h-1zM21 38h1v1h-1zM23 38h1v1h-1zM27 38h2v1h-2zM30 38h1v1h-1zM42 38h1v1h-1zM49 38h1v1h-1zM51 38h1v1h-1zM55 38h2v1h-2zM59 38h1v1h-1zM61 38h1v1h-1zM63 38h2v1h-2zM66 38h4v1h-4zM72 38h1v1h-1zM76 38h1v1h-1zM78 38h1v1h-1zM80 38h1v1h-1zM85 38h1v1h-1zM88 38h1v1h-1zM90 38h1v1h-1zM92 38h4v1h-4zM0 37h1v1h-1zM10 37h2v1h-2zM14 37h1v1h-1zM16 37h1v1h-1zM22 37h1v1h-1zM31 37h1v1h-1zM36 37h1v1h-1zM45 37h1v1h-1zM47 37h2v1h-2zM55 37h1v1h-1zM58 37h1v1h-1zM65 37h1v1h-1zM72 37h1v1h-1zM75 37h1v1h-1zM78 37h1v1h-1zM88 37h1v1h-1zM91 37h2v1h-2zM94 37h1v1h-1zM2 36h1v1h-1zM4 36h3v1h-3zM18 36h1v1h-1zM21 36h1v1h-1zM24 36h1v1h-1zM26 36h1v1h-1zM30 36h1v1h-1zM32 36h1v1h-1zM34 36h1v1h-1zM50 36h1v1h-1zM53 36h1v1h-1zM56 36h1v1h-1zM68 36h1v1h-1zM73 36h3v1h-3zM79 36h4v1h-4zM87 36h3v1h-3zM10 35h1v1h-1zM20 35h1v1h-1zM31 35h1v1h-1zM38 35h1v1h-1zM40 35h1v1h-1zM42 35h4v1h-4zM58 35h1v1h-1zM93 35h1v1h-1zM37 34h4v1h-4zM44 34h1v1h-1zM46 34h1v1h-1zM96 34h1v1h-1zM0 33h1v1h-1zM5 33h1v1h-1zM16 33h1v1h-1zM18 33h1v1h-1zM21 33h2v1h-2zM27 33h1v1h-1zM33 33h1v1h-1zM45 33h1v1h-1zM49 33h2v1h-2zM54 33h1v1h-1zM58 33h1v1h-1zM72 33h1v1h-1zM75 33h1v1h-1zM77 33h3v1h-3zM83 33h1v1h-1zM85 33h1v1h-1zM91 33h1v1h-1zM96 33h1v1h-1zM5 32h2v1h-2zM8 32h2v1h-2zM11 32h1v1h-1zM13 32h1v1h-1zM20 32h2v1h-2zM25 32h1v1h-1zM30 32h1v1h-1zM33 32h2v1h-2zM45 32h1v1h-1zM49 32h3v1h-3zM55 32h1v1h-1zM58 32h1v1h-1zM71 32h1v1h-1zM74 32h2v1h-2zM79 32h1v1h-1zM81 32h1v1h-1zM85 32h1v1h-1zM88 32h1v1h-1zM91 32h1v1h-1zM96 32h1v1h-1zM5 31h2v1h-2zM24 31h1v1h-1zM26 31h1v1h-1zM32 31h2v1h-2zM48 31h3v1h-3zM55 31h1v1h-1zM59 31h1v1h-1zM66 31h1v1h-1zM72 31h2v1h-2zM77 31h1v1h-1zM81 31h1v1h-1zM87 31h1v1h-1zM92 31h2v1h-2zM13 30h2v1h-2zM19 30h4v1h-4zM24 30h1v1h-1zM36 30h1v1h-1zM40 30h1v1h-1zM42 30h1v1h-1zM48 30h2v1h-2zM58 30h1v1h-1zM65 30h1v1h-1zM67 30h2v1h-2zM71 30h1v1h-1zM79 30h1v1h-1zM82 30h1v1h-1zM85 30h1v1h-1zM88 30h1v1h-1zM96 30h1v1h-1zM0 29h2v1h-2zM5 29h1v1h-1zM12 29h2v1h-2zM15 29h1v1h-1zM17 29h4v1h-4zM22 29h2v1h-2zM25 29h1v1h-1zM27 29h1v1h-1zM30 29h1v1h-1zM49 29h1v1h-1zM58 29h1v1h-1zM66 29h1v1h-1zM69 29h1v1h-1zM78 29h1v1h-1zM82 29h1v1h-1zM90 29h1v1h-1zM92 29h2v1h-2zM1 28h1v1h-1zM3 28h2v1h-2zM7 28h2v1h-2zM14 28h1v1h-1zM16 28h1v1h-1zM20 28h1v1h-1zM27 28h1v1h-1zM33 28h1v1h-1zM36 28h1v1h-1zM45 28h1v1h-1zM47 28h1v1h-1zM49 28h1v1h-1zM55 28h1v1h-1zM57 28h2v1h-2zM60 28h1v1h-1zM66 28h1v1h-1zM76 28h1v1h-1zM78 28h2v1h-2zM82 28h1v1h-1zM84 28h1v1h-1zM91 28h2v1h-2zM94 28h1v1h-1zM96 28h1v1h-1zM17 27h1v1h-1zM26 27h1v1h-1zM33 27h1v1h-1zM52 27h1v1h-1zM55 27h1v1h-1zM58 27h1v1h-1zM67 27h1v1h-1zM70 27h1v1h-1zM73 27h1v1h-1zM75 27h2v1h-2zM80 27h1v1h-1zM83 27h1v1h-1zM87 27h1v1h-1zM95 27h1v1h-1zM11 26h1v1h-1zM31 26h1v1h-1zM40 26h1v1h-1zM42 26h1v1h-1zM46 26h1v1h-1zM69 26h1v1h-1zM85 26h1v1h-1zM0 25h1v1h-1zM3 25h1v1h-1zM10 25h1v1h-1zM12 25h1v1h-1zM14 25h1v1h-1zM16 25h3v1h-3zM20 25h1v1h-1zM25 25h1v1h-1zM27 25h1v1h-1zM57 25h1v1h-1zM64 25h1v1h-1zM66 25h1v1h-1zM83 25h5v1h-5zM89 25h1v1h-1zM92 25h1v1h-1zM94 25h1v1h-1zM96 25h1v1h-1zM2 24h2v1h-2zM10 24h1v1h-1zM12 24h1v1h-1zM16 24h1v1h-1zM19 24h4v1h-4zM24 24h1v1h-1zM26 24h1v1h-1zM33 24h3v1h-3zM44 24h1v1h-1zM51 24h1v1h-1zM56 24h1v1h-1zM58 24h2v1h-2zM63 24h1v1h-1zM65 24h1v1h-1zM74 24h1v1h-1zM77 24h1v1h-1zM80 24h1v1h-1zM82 24h1v1h-1zM86 24h1v1h-1zM88 24h2v1h-2zM94 24h1v1h-1zM96 24h1v1h-1zM5 23h1v1h-1zM11 23h6v1h-6zM19 23h2v1h-2zM24 23h1v1h-1zM36 23h1v1h-1zM38 23h1v1h-1zM47 23h1v1h-1zM49 23h1v1h-1zM60 23h1v1h-1zM65 23h1v1h-1zM69 23h1v1h-1zM78 23h1v1h-1zM83 23h1v1h-1zM92 23h1v1h-1zM96 23h1v1h-1zM5 22h2v1h-2zM13 22h1v1h-1zM16 22h1v1h-1zM18 22h4v1h-4zM23 22h1v1h-1zM26 22h2v1h-2zM31 22h1v1h-1zM44 22h1v1h-1zM47 22h1v1h-1zM49 22h1v1h-1zM60 22h1v1h-1zM64 22h1v1h-1zM72 22h1v1h-1zM75 22h1v1h-1zM77 22h2v1h-2zM81 22h2v1h-2zM86 22h1v1h-1zM88 22h1v1h-1zM90 22h1v1h-1zM92 22h1v1h-1zM0 21h2v1h-2zM4 21h2v1h-2zM10 21h1v1h-1zM12 21h2v1h-2zM15 21h2v1h-2zM18 21h3v1h-3zM23 21h2v1h-2zM28 21h1v1h-1zM30 21h1v1h-1zM33 21h1v1h-1zM35 21h3v1h-3zM47 21h2v1h-2zM59 21h2v1h-2zM63 21h2v1h-2zM69 21h1v1h-1zM74 21h1v1h-1zM77 21h1v1h-1zM79 21h1v1h-1zM86 21h1v1h-1zM92 21h1v1h-1zM94 21h1v1h-1zM96 21h1v1h-1zM5 20h1v1h-1zM7 20h1v1h-1zM10 20h1v1h-1zM24 20h1v1h-1zM26 20h1v1h-1zM31 20h1v1h-1zM37 20h1v1h-1zM47 20h1v1h-1zM49 20h1v1h-1zM58 20h1v1h-1zM68 20h2v1h-2zM85 20h1v1h-1zM88 20h1v1h-1zM92 20h1v1h-1zM96 20h1v1h-1zM2 19h1v1h-1zM4 19h2v1h-2zM12 19h1v1h-1zM16 19h1v1h-1zM20 19h1v1h-1zM24 19h1v1h-1zM30 19h1v1h-1zM34 19h1v1h-1zM49 19h1v1h-1zM63 19h1v1h-1zM65 19h1v1h-1zM72 19h1v1h-1zM74 19h2v1h-2zM78 19h1v1h-1zM85 19h1v1h-1zM88 19h1v1h-1zM93 19h2v1h-2zM96 19h1v1h-1zM1 18h1v1h-1zM3 18h1v1h-1zM8 18h1v1h-1zM10 18h1v1h-1zM12 18h1v1h-1zM18 18h1v1h-1zM20 18h1v1h-1zM22 18h1v1h-1zM24 18h3v1h-3zM28 18h1v1h-1zM34 18h1v1h-1zM42 18h1v1h-1zM47 18h3v1h-3zM51 18h1v1h-1zM55 18h1v1h-1zM58 18h2v1h-2zM63 18h1v1h-1zM67 18h2v1h-2zM73 18h2v1h-2zM77 18h1v1h-1zM80 18h1v1h-1zM82 18h1v1h-1zM88 18h4v1h-4zM93 18h1v1h-1zM1 17h3v1h-3zM7 17h1v1h-1zM18 17h2v1h-2zM21 17h1v1h-1zM25 17h1v1h-1zM28 17h1v1h-1zM34 17h1v1h-1zM45 17h1v1h-1zM50 17h1v1h-1zM52 17h1v1h-1zM57 17h1v1h-1zM60 17h1v1h-1zM63 17h2v1h-2zM66 17h1v1h-1zM68 17h1v1h-1zM75 17h1v1h-1zM81 17h4v1h-4zM89 17h1v1h-1zM5 16h1v1h-1zM8 16h1v1h-1zM10 16h1v1h-1zM16 16h2v1h-2zM19 16h1v1h-1zM31 16h1v1h-1zM34 16h1v1h-1zM58 16h1v1h-1zM60 16h1v1h-1zM69 16h1v1h-1zM72 16h1v1h-1zM78 16h1v1h-1zM85 16h4v1h-4zM91 16h1v1h-1zM96 16h1v1h-1zM12 15h1v1h-1zM15 15h1v1h-1zM19 15h1v1h-1zM22 15h2v1h-2zM26 15h1v1h-1zM35 15h2v1h-2zM41 15h1v1h-1zM44 15h1v1h-1zM47 15h1v1h-1zM49 15h1v1h-1zM52 15h1v1h-1zM57 15h1v1h-1zM60 15h1v1h-1zM64 15h2v1h-2zM74 15h1v1h-1zM79 15h1v1h-1zM90 15h3v1h-3zM94 15h1v1h-1zM1 14h1v1h-1zM3 14h2v1h-2zM8 14h1v1h-1zM10 14h1v1h-1zM12 14h1v1h-1zM18 14h3v1h-3zM24 14h1v1h-1zM27 14h1v1h-1zM31 14h1v1h-1zM33 14h2v1h-2zM45 14h1v1h-1zM48 14h2v1h-2zM52 14h1v1h-1zM60 14h1v1h-1zM66 14h3v1h-3zM72 14h1v1h-1zM74 14h1v1h-1zM78 14h2v1h-2zM83 14h3v1h-3zM91 14h2v1h-2zM96 14h1v1h-1zM1 13h2v1h-2zM4 13h1v1h-1zM7 13h1v1h-1zM9 13h2v1h-2zM17 13h2v1h-2zM20 13h1v1h-1zM22 13h4v1h-4zM27 13h1v1h-1zM30 13h1v1h-1zM34 13h2v1h-2zM48 13h1v1h-1zM51 13h1v1h-1zM63 13h1v1h-1zM69 13h1v1h-1zM71 13h1v1h-1zM73 13h1v1h-1zM79 13h1v1h-1zM82 13h1v1h-1zM84 13h1v1h-1zM89 13h3v1h-3zM94 13h1v1h-1zM5 12h1v1h-1zM10 12h1v1h-1zM12 12h2v1h-2zM18 12h1v1h-1zM20 12h1v1h-1zM22 12h1v1h-1zM27 12h2v1h-2zM30 12h1v1h-1zM35 12h2v1h-2zM47 12h1v1h-1zM49 12h1v1h-1zM55 12h1v1h-1zM68 12h1v1h-1zM71 12h1v1h-1zM79 12h1v1h-1zM82 12h2v1h-2zM85 12h2v1h-2zM88 12h1v1h-1zM90 12h2v1h-2zM96 12h1v1h-1zM0 11h1v1h-1zM3 11h2v1h-2zM6 11h2v1h-2zM15 11h1v1h-1zM17 11h1v1h-1zM20 11h2v1h-2zM27 11h1v1h-1zM33 11h1v1h-1zM36 11h1v1h-1zM50 11h1v1h-1zM52 11h1v1h-1zM54 11h1v1h-1zM56 11h1v1h-1zM58 11h1v1h-1zM63 11h2v1h-2zM66 11h1v1h-1zM70 11h2v1h-2zM76 11h2v1h-2zM80 11h1v1h-1zM82 11h1v1h-1zM84 11h1v1h-1zM87 11h1v1h-1zM89 11h2v1h-2zM96 11h1v1h-1zM0 10h1v1h-1zM2 10h3v1h-3zM8 10h1v1h-1zM11 10h1v1h-1zM21 10h1v1h-1zM36 10h1v1h-1zM51 10h2v1h-2zM55 10h3v1h-3zM71 10h2v1h-2zM74 10h2v1h-2zM80 10h1v1h-1zM84 10h1v1h-1zM90 10h3v1h-3zM10 9h1v1h-1zM15 9h1v1h-1zM19 9h1v1h-1zM27 9h1v1h-1zM31 9h1v1h-1zM44 9h2v1h-2zM47 9h2v1h-2zM60 9h1v1h-1zM65 9h1v1h-1zM69 9h1v1h-1zM71 9h1v1h-1zM80 9h1v1h-1zM85 9h1v1h-1zM96 9h1v1h-1zM0 8h2v1h-2zM3 8h1v1h-1zM5 8h1v1h-1zM8 8h1v1h-1zM10 8h1v1h-1zM12 8h1v1h-1zM15 8h2v1h-2zM20 8h2v1h-2zM25 8h1v1h-1zM27 8h2v1h-2zM34 8h2v1h-2zM48 8h1v1h-1zM55 8h1v1h-1zM57 8h4v1h-4zM64 8h1v1h-1zM66 8h1v1h-1zM72 8h1v1h-1zM74 8h1v1h-1zM76 8h3v1h-3zM80 8h1v1h-1zM84 8h1v1h-1zM89 8h1v1h-1zM94 8h1v1h-1zM16 7h1v1h-1zM22 7h1v1h-1zM26 7h2v1h-2zM30 7h1v1h-1zM34 7h1v1h-1zM36 7h2v1h-2zM51 7h1v1h-1zM57 7h1v1h-1zM60 7h1v1h-1zM71 7h2v1h-2zM78 7h2v1h-2zM83 7h1v1h-1zM85 7h1v1h-1zM88 7h1v1h-1zM92 7h1v1h-1zM0 6h3v1h-3zM5 6h1v1h-1zM7 6h2v1h-2zM12 6h1v1h-1zM17 6h2v1h-2zM20 6h1v1h-1zM23 6h3v1h-3zM33 6h3v1h-3zM47 6h1v1h-1zM51 6h1v1h-1zM58 6h1v1h-1zM67 6h1v1h-1zM74 6h1v1h-1zM78 6h1v1h-1zM81 6h1v1h-1zM83 6h4v1h-4zM91 6h2v1h-2zM94 6h1v1h-1zM1 5h1v1h-1zM10 5h1v1h-1zM12 5h1v1h-1zM15 5h1v1h-1zM19 5h4v1h-4zM24 5h2v1h-2zM33 5h1v1h-1zM35 5h2v1h-2zM50 5h2v1h-2zM56 5h1v1h-1zM59 5h1v1h-1zM63 5h2v1h-2zM68 5h1v1h-1zM78 5h1v1h-1zM80 5h5v1h-5zM86 5h1v1h-1zM90 5h1v1h-1zM94 5h1v1h-1zM96 5h1v1h-1zM1 4h3v1h-3zM8 4h3v1h-3zM13 4h1v1h-1zM15 4h2v1h-2zM18 4h1v1h-1zM21 4h1v1h-1zM24 4h1v1h-1zM28 4h1v1h-1zM33 4h1v1h-1zM35 4h1v1h-1zM48 4h1v1h-1zM50 4h1v1h-1zM53 4h1v1h-1zM55 4h5v1h-5zM65 4h1v1h-1zM67 4h2v1h-2zM71 4h1v1h-1zM73 4h4v1h-4zM81 4h2v1h-2zM86 4h1v1h-1zM89 4h2v1h-2zM94 4h1v1h-1zM96 4h1v1h-1zM0 3h2v1h-2zM3 3h1v1h-1zM8 3h1v1h-1zM11 3h3v1h-3zM16 3h1v1h-1zM18 3h1v1h-1zM20 3h1v1h-1zM22 3h1v1h-1zM24 3h1v1h-1zM31 3h1v1h-1zM52 3h1v1h-1zM56 3h1v1h-1zM58 3h1v1h-1zM61 3h1v1h-1zM65 3h1v1h-1zM67 3h1v1h-1zM77 3h2v1h-2zM94 3h1v1h-1zM96 3h1v1h-1zM0 2h3v1h-3zM7 2h1v1h-1zM11 2h3v1h-3zM17 2h1v1h-1zM21 2h1v1h-1zM23 2h1v1h-1zM25 2h1v1h-1zM28 2h1v1h-1zM35 2h1v1h-1zM37 2h1v1h-1zM44 2h1v1h-1zM49 2h1v1h-1zM51 2h2v1h-2zM55 2h1v1h-1zM58 2h2v1h-2zM68 2h1v1h-1zM71 2h2v1h-2zM75 2h1v1h-1zM77 2h1v1h-1zM81 2h1v1h-1zM83 2h1v1h-1zM88 2h1v1h-1zM90 2h4v1h-4zM16 1h1v1h-1zM19 1h1v1h-1zM31 1h1v1h-1zM38 1h1v1h-1zM40 1h2v1h-2zM44 1h1v1h-1zM49 1h1v1h-1zM58 1h1v1h-1zM69 1h1v1h-1zM96 1h1v1h-1zM3 0h1v1h-1zM5 0h1v1h-1zM8 0h2v1h-2zM12 0h2v1h-2zM18 0h2v1h-2zM22 0h2v1h-2zM26 0h1v1h-1zM28 0h1v1h-1zM30 0h1v1h-1zM32 0h4v1h-4zM56 0h1v1h-1zM62 0h3v1h-3zM66 0h1v1h-1zM68 0h1v1h-1zM71 0h3v1h-3zM75 0h3v1h-3zM80 0h1v1h-1zM82 0h1v1h-1zM84 0h2v1h-2zM87 0h1v1h-1zM91 0h3v1h-3zM95 0h1v1h-1z"/>
<path fill="#e4a577" d="M10 96h2v1h-2zM13 96h2v1h-2zM16 96h1v1h-1zM19 96h1v1h-1zM24 96h1v1h-1zM30 96h2v1h-2zM36 96h2v1h-2zM41 96h2v1h-2zM44 96h1v1h-1zM58 96h1v1h-1zM60 96h1v1h-1zM65 96h1v1h-1zM69 96h1v1h-1zM76 96h1v1h-1zM92 96h1v1h-1zM96 96h1v1h-1zM11 95h1v1h-1zM16 95h1v1h-1zM40 95h1v1h-1zM42 95h2v1h-2zM45 95h1v1h-1zM47 95h1v1h-1zM58 95h1v1h-1zM60 95h1v1h-1zM71 95h1v1h-1zM19 94h1v1h-1zM40 94h2v1h-2zM44 94h1v1h-1zM65 94h1v1h-1zM69 94h1v1h-1zM14 93h1v1h-1zM23 93h1v1h-1zM35 93h3v1h-3zM39 93h1v1h-1zM44 93h1v1h-1zM47 93h1v1h-1zM60 93h1v1h-1zM74 93h2v1h-2zM77 93h1v1h-1zM83 93h1v1h-1zM90 93h1v1h-1zM94 93h1v1h-1zM19 92h1v1h-1zM30 92h2v1h-2zM36 92h1v1h-1zM40 92h1v1h-1zM42 92h1v1h-1zM45 92h1v1h-1zM48 92h1v1h-1zM65 92h1v1h-1zM69 92h1v1h-1zM90 92h1v1h-1zM16 91h1v1h-1zM31 91h1v1h-1zM40 91h3v1h-3zM58 91h1v1h-1zM68 91h2v1h-2zM72 91h1v1h-1zM14 90h1v1h-1zM16 90h1v1h-1zM19 90h1v1h-1zM37 90h1v1h-1zM39 90h1v1h-1zM42 90h1v1h-1zM11 89h1v1h-1zM14 89h1v1h-1zM24 89h1v1h-1zM31 89h1v1h-1zM37 89h1v1h-1zM42 89h1v1h-1zM46 89h1v1h-1zM49 89h1v1h-1zM60 89h1v1h-1zM65 89h1v1h-1zM69 89h1v1h-1zM96 89h1v1h-1zM11 88h1v1h-1zM19 88h1v1h-1zM31 88h1v1h-1zM35 88h1v1h-1zM37 88h1v1h-1zM40 88h1v1h-1zM43 88h3v1h-3zM60 88h1v1h-1zM63 88h1v1h-1zM65 88h1v1h-1zM69 88h1v1h-1zM79 88h1v1h-1zM83 88h1v1h-1zM85 88h1v1h-1zM14 87h1v1h-1zM20 87h1v1h-1zM37 87h2v1h-2zM42 87h1v1h-1zM44 87h1v1h-1zM47 87h1v1h-1zM49 87h1v1h-1zM58 87h1v1h-1zM69 87h1v1h-1zM90 87h1v1h-1zM0 86h1v1h-1zM11 86h1v1h-1zM14 86h2v1h-2zM22 86h1v1h-1zM31 86h1v1h-1zM40 86h1v1h-1zM42 86h1v1h-1zM45 86h1v1h-1zM48 86h2v1h-2zM56 86h1v1h-1zM58 86h1v1h-1zM63 86h2v1h-2zM79 86h1v1h-1zM85 86h2v1h-2zM89 86h1v1h-1zM94 86h1v1h-1zM0 85h2v1h-2zM7 85h2v1h-2zM10 85h1v1h-1zM12 85h2v1h-2zM19 85h2v1h-2zM22 85h3v1h-3zM35 85h1v1h-1zM51 85h1v1h-1zM55 85h1v1h-1zM57 85h1v1h-1zM63 85h1v1h-1zM65 85h2v1h-2zM68 85h1v1h-1zM71 85h1v1h-1zM74 85h1v1h-1zM76 85h3v1h-3zM80 85h4v1h-4zM85 85h1v1h-1zM89 85h3v1h-3zM95 85h2v1h-2zM11 84h1v1h-1zM13 84h2v1h-2zM16 84h1v1h-1zM26 84h1v1h-1zM30 84h1v1h-1zM36 84h1v1h-1zM40 84h1v1h-1zM47 84h3v1h-3zM58 84h1v1h-1zM60 84h1v1h-1zM63 84h3v1h-3zM69 84h1v1h-1zM83 84h1v1h-1zM85 84h1v1h-1zM0 83h1v1h-1zM11 83h2v1h-2zM25 83h1v1h-1zM35 83h1v1h-1zM37 83h1v1h-1zM44 83h1v1h-1zM47 83h1v1h-1zM50 83h1v1h-1zM58 83h1v1h-1zM60 83h1v1h-1zM65 83h1v1h-1zM68 83h2v1h-2zM71 83h1v1h-1zM78 83h1v1h-1zM80 83h1v1h-1zM83 83h1v1h-1zM86 83h1v1h-1zM88 83h1v1h-1zM0 82h1v1h-1zM3 82h1v1h-1zM6 82h2v1h-2zM9 82h2v1h-2zM12 82h1v1h-1zM15 82h1v1h-1zM17 82h4v1h-4zM22 82h7v1h-7zM30 82h1v1h-1zM34 82h1v1h-1zM40 82h1v1h-1zM49 82h1v1h-1zM57 82h1v1h-1zM63 82h2v1h-2zM67 82h1v1h-1zM69 82h1v1h-1zM76 82h1v1h-1zM78 82h2v1h-2zM81 82h8v1h-8zM91 82h6v1h-6zM10 81h1v1h-1zM14 81h1v1h-1zM19 81h2v1h-2zM22 81h1v1h-1zM26 81h3v1h-3zM36 81h2v1h-2zM42 81h1v1h-1zM45 81h1v1h-1zM49 81h1v1h-1zM58 81h1v1h-1zM60 81h1v1h-1zM64 81h2v1h-2zM71 81h1v1h-1zM78 81h1v1h-1zM83 81h1v1h-1zM90 81h1v1h-1zM94 81h1v1h-1zM0 80h2v1h-2zM5 80h2v1h-2zM12 80h1v1h-1zM20 80h4v1h-4zM25 80h3v1h-3zM30 80h2v1h-2zM33 80h1v1h-1zM35 80h1v1h-1zM48 80h1v1h-1zM50 80h1v1h-1zM56 80h1v1h-1zM58 80h1v1h-1zM64 80h2v1h-2zM67 80h1v1h-1zM78 80h2v1h-2zM81 80h5v1h-5zM90 80h1v1h-1zM94 80h1v1h-1zM14 79h1v1h-1zM41 79h1v1h-1zM44 79h1v1h-1zM47 79h1v1h-1zM60 79h1v1h-1zM14 78h1v1h-1zM19 78h1v1h-1zM31 78h1v1h-1zM35 78h2v1h-2zM38 78h1v1h-1zM40 78h1v1h-1zM42 78h1v1h-1zM44 78h2v1h-2zM47 78h1v1h-1zM58 78h1v1h-1zM69 78h1v1h-1zM72 78h1v1h-1zM85 78h1v1h-1zM88 78h1v1h-1zM0 77h1v1h-1zM2 77h1v1h-1zM4 77h1v1h-1zM6 77h1v1h-1zM8 77h1v1h-1zM11 77h1v1h-1zM14 77h2v1h-2zM18 77h1v1h-1zM21 77h2v1h-2zM24 77h2v1h-2zM30 77h1v1h-1zM33 77h3v1h-3zM47 77h1v1h-1zM49 77h1v1h-1zM60 77h1v1h-1zM63 77h2v1h-2zM68 77h1v1h-1zM71 77h1v1h-1zM77 77h2v1h-2zM83 77h2v1h-2zM86 77h1v1h-1zM88 77h2v1h-2zM93 77h1v1h-1zM9 76h1v1h-1zM11 76h1v1h-1zM14 76h3v1h-3zM22 76h1v1h-1zM24 76h4v1h-4zM35 76h1v1h-1zM47 76h1v1h-1zM58 76h1v1h-1zM60 76h1v1h-1zM65 76h1v1h-1zM69 76h1v1h-1zM79 76h1v1h-1zM86 76h1v1h-1zM92 76h1v1h-1zM94 76h1v1h-1zM16 75h1v1h-1zM19 75h1v1h-1zM22 75h1v1h-1zM31 75h1v1h-1zM41 75h1v1h-1zM45 75h1v1h-1zM49 75h1v1h-1zM65 75h1v1h-1zM69 75h1v1h-1zM78 75h1v1h-1zM84 75h1v1h-1zM90 75h1v1h-1zM96 75h1v1h-1zM10 74h2v1h-2zM14 74h3v1h-3zM19 74h3v1h-3zM27 74h1v1h-1zM36 74h1v1h-1zM40 74h2v1h-2zM49 74h1v1h-1zM51 74h1v1h-1zM60 74h1v1h-1zM65 74h1v1h-1zM68 74h1v1h-1zM71 74h1v1h-1zM74 74h1v1h-1zM77 74h1v1h-1zM79 74h2v1h-2zM82 74h1v1h-1zM85 74h2v1h-2zM88 74h1v1h-1zM92 74h1v1h-1zM3 73h1v1h-1zM11 73h1v1h-1zM14 73h1v1h-1zM16 73h1v1h-1zM24 73h1v1h-1zM31 73h1v1h-1zM36 73h1v1h-1zM40 73h1v1h-1zM42 73h1v1h-1zM45 73h1v1h-1zM47 73h1v1h-1zM49 73h1v1h-1zM55 73h1v1h-1zM60 73h1v1h-1zM65 73h1v1h-1zM69 73h1v1h-1zM71 73h1v1h-1zM79 73h1v1h-1zM82 73h1v1h-1zM85 73h2v1h-2zM88 73h1v1h-1zM91 73h1v1h-1zM93 73h1v1h-1zM0 72h1v1h-1zM7 72h1v1h-1zM11 72h1v1h-1zM14 72h1v1h-1zM19 72h2v1h-2zM23 72h1v1h-1zM34 72h1v1h-1zM37 72h1v1h-1zM42 72h1v1h-1zM44 72h1v1h-1zM47 72h1v1h-1zM49 72h1v1h-1zM58 72h1v1h-1zM64 72h1v1h-1zM71 72h1v1h-1zM79 72h1v1h-1zM85 72h2v1h-2zM88 72h1v1h-1zM96 72h1v1h-1zM13 71h2v1h-2zM16 71h1v1h-1zM19 71h2v1h-2zM37 71h1v1h-1zM41 71h1v1h-1zM47 71h1v1h-1zM84 71h1v1h-1zM92 71h1v1h-1zM12 70h1v1h-1zM14 70h3v1h-3zM20 70h1v1h-1zM31 70h1v1h-1zM36 70h1v1h-1zM40 70h2v1h-2zM44 70h1v1h-1zM55 70h1v1h-1zM67 70h1v1h-1zM71 70h1v1h-1zM75 70h1v1h-1zM79 70h1v1h-1zM83 70h1v1h-1zM86 70h1v1h-1zM88 70h1v1h-1zM90 70h1v1h-1zM92 70h1v1h-1zM94 70h1v1h-1zM14 69h3v1h-3zM20 69h1v1h-1zM22 69h1v1h-1zM31 69h1v1h-1zM39 69h3v1h-3zM45 69h1v1h-1zM69 69h1v1h-1zM75 69h1v1h-1zM77 69h3v1h-3zM81 69h1v1h-1zM86 69h1v1h-1zM90 69h1v1h-1zM92 69h1v1h-1zM96 69h1v1h-1zM14 68h2v1h-2zM40 68h1v1h-1zM42 68h3v1h-3zM60 68h1v1h-1zM65 68h1v1h-1zM69 68h1v1h-1zM89 68h1v1h-1zM38 67h1v1h-1zM44 67h1v1h-1zM0 66h1v1h-1zM4 66h1v1h-1zM12 66h1v1h-1zM14 66h1v1h-1zM16 66h1v1h-1zM19 66h1v1h-1zM36 66h5v1h-5zM69 66h1v1h-1zM82 66h1v1h-1zM85 66h1v1h-1zM88 66h1v1h-1zM92 66h1v1h-1zM0 65h1v1h-1zM4 65h2v1h-2zM7 65h2v1h-2zM10 65h1v1h-1zM16 65h1v1h-1zM18 65h1v1h-1zM21 65h1v1h-1zM23 65h1v1h-1zM26 65h2v1h-2zM33 65h1v1h-1zM36 65h1v1h-1zM50 65h1v1h-1zM52 65h1v1h-1zM56 65h2v1h-2zM66 65h1v1h-1zM68 65h1v1h-1zM71 65h1v1h-1zM73 65h1v1h-1zM78 65h2v1h-2zM84 65h1v1h-1zM86 65h1v1h-1zM89 65h1v1h-1zM94 65h1v1h-1zM96 65h1v1h-1zM46 64h1v1h-1zM16 63h1v1h-1zM19 63h1v1h-1zM31 63h1v1h-1zM38 63h1v1h-1zM41 63h2v1h-2zM14 62h1v1h-1zM19 62h1v1h-1zM24 62h1v1h-1zM41 62h1v1h-1zM43 62h3v1h-3zM58 62h1v1h-1zM65 62h1v1h-1zM69 62h1v1h-1zM84 62h2v1h-2zM92 62h1v1h-1zM3 61h1v1h-1zM8 61h1v1h-1zM11 61h1v1h-1zM13 61h1v1h-1zM16 61h1v1h-1zM18 61h3v1h-3zM36 61h2v1h-2zM42 61h1v1h-1zM44 61h1v1h-1zM47 61h1v1h-1zM58 61h1v1h-1zM60 61h1v1h-1zM64 61h1v1h-1zM69 61h1v1h-1zM77 61h1v1h-1zM79 61h1v1h-1zM82 61h1v1h-1zM85 61h2v1h-2zM0 60h1v1h-1zM3 60h2v1h-2zM12 60h1v1h-1zM15 60h1v1h-1zM18 60h1v1h-1zM22 60h2v1h-2zM26 60h1v1h-1zM30 60h2v1h-2zM35 60h1v1h-1zM43 60h1v1h-1zM48 60h3v1h-3zM55 60h1v1h-1zM57 60h1v1h-1zM60 60h1v1h-1zM63 60h2v1h-2zM67 60h1v1h-1zM71 60h2v1h-2zM74 60h1v1h-1zM77 60h2v1h-2zM80 60h1v1h-1zM82 60h2v1h-2zM88 60h1v1h-1zM90 60h1v1h-1zM92 60h3v1h-3zM0 59h1v1h-1zM3 59h1v1h-1zM6 59h4v1h-4zM13 59h1v1h-1zM15 59h1v1h-1zM24 59h2v1h-2zM30 59h1v1h-1zM35 59h1v1h-1zM40 59h2v1h-2zM45 59h1v1h-1zM49 59h1v1h-1zM51 59h1v1h-1zM58 59h1v1h-1zM63 59h1v1h-1zM66 59h3v1h-3zM70 59h1v1h-1zM72 59h3v1h-3zM80 59h2v1h-2zM83 59h2v1h-2zM88 59h1v1h-1zM90 59h1v1h-1zM92 59h2v1h-2zM9 58h1v1h-1zM18 58h1v1h-1zM29 58h2v1h-2zM33 58h1v1h-1zM53 58h1v1h-1zM68 58h1v1h-1zM72 58h1v1h-1zM74 58h1v1h-1zM77 58h1v1h-1zM80 58h2v1h-2zM89 58h1v1h-1zM93 58h1v1h-1zM3 57h1v1h-1zM6 57h1v1h-1zM27 57h1v1h-1zM30 57h1v1h-1zM50 57h1v1h-1zM53 57h1v1h-1zM55 57h1v1h-1zM61 57h1v1h-1zM68 57h1v1h-1zM72 57h1v1h-1zM74 57h1v1h-1zM76 57h1v1h-1zM84 57h1v1h-1zM87 57h1v1h-1zM93 57h1v1h-1zM95 57h1v1h-1zM1 56h2v1h-2zM4 56h2v1h-2zM8 56h1v1h-1zM10 56h1v1h-1zM12 56h1v1h-1zM14 56h1v1h-1zM18 56h1v1h-1zM22 56h2v1h-2zM26 56h3v1h-3zM30 56h1v1h-1zM37 56h1v1h-1zM42 56h1v1h-1zM44 56h1v1h-1zM47 56h1v1h-1zM49 56h4v1h-4zM56 56h1v1h-1zM58 56h3v1h-3zM63 56h2v1h-2zM67 56h1v1h-1zM71 56h3v1h-3zM75 56h3v1h-3zM79 56h1v1h-1zM82 56h3v1h-3zM87 56h1v1h-1zM91 56h1v1h-1zM94 56h1v1h-1zM0 55h1v1h-1zM2 55h1v1h-1zM5 55h1v1h-1zM17 55h1v1h-1zM21 55h2v1h-2zM25 55h3v1h-3zM33 55h2v1h-2zM37 55h1v1h-1zM42 55h1v1h-1zM44 55h2v1h-2zM50 55h1v1h-1zM55 55h2v1h-2zM58 55h2v1h-2zM62 55h3v1h-3zM66 55h3v1h-3zM70 55h1v1h-1zM72 55h6v1h-6zM87 55h2v1h-2zM94 55h1v1h-1zM0 54h2v1h-2zM4 54h4v1h-4zM9 54h2v1h-2zM15 54h1v1h-1zM18 54h1v1h-1zM23 54h2v1h-2zM28 54h1v1h-1zM33 54h1v1h-1zM35 54h1v1h-1zM40 54h2v1h-2zM44 54h1v1h-1zM48 54h1v1h-1zM52 54h2v1h-2zM55 54h1v1h-1zM59 54h1v1h-1zM63 54h2v1h-2zM67 54h2v1h-2zM72 54h1v1h-1zM74 54h1v1h-1zM76 54h2v1h-2zM79 54h2v1h-2zM82 54h1v1h-1zM84 54h1v1h-1zM89 54h3v1h-3zM95 54h1v1h-1zM1 53h1v1h-1zM8 53h1v1h-1zM28 53h1v1h-1zM34 53h1v1h-1zM36 53h1v1h-1zM45 53h1v1h-1zM48 53h1v1h-1zM50 53h2v1h-2zM54 53h1v1h-1zM57 53h1v1h-1zM59 53h1v1h-1zM62 53h1v1h-1zM64 53h1v1h-1zM66 53h3v1h-3zM72 53h3v1h-3zM76 53h1v1h-1zM87 53h1v1h-1zM89 53h1v1h-1zM95 53h1v1h-1zM0 52h1v1h-1zM2 52h2v1h-2zM8 52h2v1h-2zM13 52h1v1h-1zM17 52h2v1h-2zM24 52h1v1h-1zM26 52h1v1h-1zM28 52h2v1h-2zM34 52h2v1h-2zM40 52h3v1h-3zM48 52h1v1h-1zM50 52h3v1h-3zM55 52h1v1h-1zM63 52h2v1h-2zM66 52h3v1h-3zM71 52h1v1h-1zM73 52h1v1h-1zM77 52h2v1h-2zM89 52h1v1h-1zM91 52h1v1h-1zM1 51h1v1h-1zM4 51h1v1h-1zM8 51h1v1h-1zM10 51h1v1h-1zM15 51h1v1h-1zM18 51h1v1h-1zM21 51h1v1h-1zM23 51h1v1h-1zM27 51h1v1h-1zM34 51h1v1h-1zM37 51h1v1h-1zM41 51h1v1h-1zM43 51h1v1h-1zM47 51h1v1h-1zM49 51h1v1h-1zM55 51h1v1h-1zM57 51h1v1h-1zM60 51h1v1h-1zM65 51h3v1h-3zM71 51h1v1h-1zM73 51h3v1h-3zM77 51h2v1h-2zM80 51h2v1h-2zM84 51h1v1h-1zM93 51h1v1h-1zM95 51h1v1h-1zM7 50h1v1h-1zM32 50h1v1h-1zM48 50h1v1h-1zM52 50h1v1h-1zM54 50h1v1h-1zM59 50h1v1h-1zM61 50h1v1h-1zM73 50h1v1h-1zM75 50h2v1h-2zM87 50h1v1h-1zM89 50h1v1h-1zM1 49h1v1h-1zM3 49h1v1h-1zM9 49h1v1h-1zM12 49h2v1h-2zM17 49h4v1h-4zM23 49h3v1h-3zM35 49h1v1h-1zM40 49h1v1h-1zM45 49h1v1h-1zM49 49h1v1h-1zM51 49h1v1h-1zM58 49h1v1h-1zM60 49h2v1h-2zM63 49h2v1h-2zM66 49h2v1h-2zM72 49h1v1h-1zM77 49h1v1h-1zM79 49h1v1h-1zM82 49h2v1h-2zM86 49h1v1h-1zM91 49h2v1h-2zM94 49h1v1h-1zM4 48h1v1h-1zM10 48h1v1h-1zM12 48h1v1h-1zM16 48h1v1h-1zM36 48h1v1h-1zM42 48h3v1h-3zM46 48h1v1h-1zM49 48h1v1h-1zM60 48h1v1h-1zM72 48h1v1h-1zM85 48h1v1h-1zM94 48h1v1h-1zM7 47h1v1h-1zM9 47h2v1h-2zM12 47h1v1h-1zM14 47h2v1h-2zM19 47h1v1h-1zM21 47h4v1h-4zM36 47h2v1h-2zM40 47h1v1h-1zM45 47h1v1h-1zM47 47h2v1h-2zM56 47h1v1h-1zM72 47h1v1h-1zM79 47h1v1h-1zM85 47h2v1h-2zM88 47h1v1h-1zM90 47h3v1h-3zM96 47h1v1h-1zM13 46h1v1h-1zM16 46h1v1h-1zM31 46h1v1h-1zM36 46h1v1h-1zM39 46h3v1h-3zM43 46h2v1h-2zM69 46h1v1h-1zM96 46h1v1h-1zM11 45h1v1h-1zM22 45h1v1h-1zM37 45h1v1h-1zM40 45h1v1h-1zM43 45h2v1h-2zM47 45h1v1h-1zM60 45h1v1h-1zM69 45h1v1h-1zM82 45h1v1h-1zM85 45h1v1h-1zM96 45h1v1h-1zM31 44h1v1h-1zM40 44h1v1h-1zM42 44h1v1h-1zM44 44h1v1h-1zM46 44h1v1h-1zM60 44h1v1h-1zM64 44h2v1h-2zM74 44h1v1h-1zM90 44h1v1h-1zM92 44h1v1h-1zM38 43h2v1h-2zM42 43h1v1h-1zM43 42h1v1h-1zM46 42h1v1h-1zM11 41h1v1h-1zM23 41h1v1h-1zM26 41h1v1h-1zM36 41h1v1h-1zM39 41h1v1h-1zM41 41h2v1h-2zM44 41h2v1h-2zM60 41h1v1h-1zM71 41h1v1h-1zM75 41h1v1h-1zM79 41h1v1h-1zM82 41h1v1h-1zM85 41h1v1h-1zM96 41h1v1h-1zM10 40h1v1h-1zM16 40h1v1h-1zM31 40h1v1h-1zM40 40h2v1h-2zM49 40h1v1h-1zM65 40h1v1h-1zM11 39h1v1h-1zM14 39h1v1h-1zM31 39h1v1h-1zM36 39h1v1h-1zM43 39h1v1h-1zM45 39h1v1h-1zM58 39h1v1h-1zM69 39h1v1h-1zM77 39h1v1h-1zM90 39h1v1h-1zM96 39h1v1h-1zM0 38h2v1h-2zM5 38h1v1h-1zM9 38h2v1h-2zM12 38h2v1h-2zM15 38h2v1h-2zM18 38h1v1h-1zM20 38h1v1h-1zM24 38h1v1h-1zM34 38h2v1h-2zM37 38h1v1h-1zM40 38h2v1h-2zM47 38h1v1h-1zM57 38h1v1h-1zM74 38h1v1h-1zM79 38h1v1h-1zM83 38h2v1h-2zM86 38h1v1h-1zM89 38h1v1h-1zM91 38h1v1h-1zM40 37h4v1h-4zM46 37h1v1h-1zM60 37h1v1h-1zM85 37h1v1h-1zM0 36h2v1h-2zM3 36h1v1h-1zM7 36h2v1h-2zM12 36h2v1h-2zM15 36h1v1h-1zM17 36h1v1h-1zM19 36h2v1h-2zM22 36h2v1h-2zM28 36h1v1h-1zM35 36h2v1h-2zM40 36h1v1h-1zM45 36h1v1h-1zM47 36h2v1h-2zM51 36h2v1h-2zM55 36h1v1h-1zM59 36h1v1h-1zM63 36h2v1h-2zM66 36h2v1h-2zM69 36h1v1h-1zM71 36h2v1h-2zM76 36h3v1h-3zM83 36h4v1h-4zM90 36h4v1h-4zM96 36h1v1h-1zM39 35h1v1h-1zM46 35h2v1h-2zM69 35h1v1h-1zM41 34h1v1h-1zM43 34h1v1h-1zM8 33h1v1h-1zM10 33h3v1h-3zM14 33h1v1h-1zM19 33h1v1h-1zM36 33h2v1h-2zM40 33h3v1h-3zM44 33h1v1h-1zM47 33h1v1h-1zM60 33h1v1h-1zM84 33h1v1h-1zM93 33h1v1h-1zM10 32h1v1h-1zM12 32h1v1h-1zM14 32h3v1h-3zM19 32h1v1h-1zM24 32h1v1h-1zM35 32h2v1h-2zM40 32h5v1h-5zM47 32h1v1h-1zM52 32h1v1h-1zM60 32h1v1h-1zM67 32h2v1h-2zM72 32h1v1h-1zM78 32h1v1h-1zM83 32h1v1h-1zM86 32h1v1h-1zM92 32h2v1h-2zM0 31h1v1h-1zM2 31h1v1h-1zM4 31h1v1h-1zM7 31h2v1h-2zM11 31h3v1h-3zM15 31h2v1h-2zM20 31h4v1h-4zM28 31h1v1h-1zM34 31h1v1h-1zM45 31h1v1h-1zM52 31h1v1h-1zM56 31h1v1h-1zM67 31h2v1h-2zM71 31h1v1h-1zM75 31h1v1h-1zM79 31h2v1h-2zM82 31h1v1h-1zM84 31h3v1h-3zM89 31h2v1h-2zM94 31h1v1h-1zM11 30h1v1h-1zM31 30h1v1h-1zM37 30h1v1h-1zM41 30h1v1h-1zM43 30h3v1h-3zM47 30h1v1h-1zM60 30h1v1h-1zM69 30h1v1h-1zM78 30h1v1h-1zM83 30h2v1h-2zM14 29h1v1h-1zM16 29h1v1h-1zM26 29h1v1h-1zM36 29h2v1h-2zM40 29h6v1h-6zM47 29h1v1h-1zM60 29h1v1h-1zM64 29h2v1h-2zM85 29h1v1h-1zM5 28h1v1h-1zM11 28h1v1h-1zM13 28h1v1h-1zM19 28h1v1h-1zM22 28h1v1h-1zM31 28h1v1h-1zM37 28h3v1h-3zM41 28h4v1h-4zM64 28h2v1h-2zM69 28h1v1h-1zM0 27h1v1h-1zM2 27h1v1h-1zM4 27h2v1h-2zM7 27h3v1h-3zM12 27h3v1h-3zM18 27h1v1h-1zM20 27h2v1h-2zM23 27h1v1h-1zM27 27h2v1h-2zM30 27h1v1h-1zM34 27h2v1h-2zM50 27h2v1h-2zM57 27h1v1h-1zM60 27h2v1h-2zM66 27h1v1h-1zM68 27h1v1h-1zM74 27h1v1h-1zM79 27h1v1h-1zM81 27h2v1h-2zM84 27h1v1h-1zM90 27h2v1h-2zM94 27h1v1h-1zM37 26h1v1h-1zM41 26h1v1h-1zM1 25h1v1h-1zM11 25h1v1h-1zM13 25h1v1h-1zM15 25h1v1h-1zM19 25h1v1h-1zM22 25h3v1h-3zM26 25h1v1h-1zM31 25h1v1h-1zM36 25h1v1h-1zM40 25h1v1h-1zM44 25h2v1h-2zM55 25h1v1h-1zM60 25h1v1h-1zM65 25h1v1h-1zM72 25h1v1h-1zM75 25h1v1h-1zM77 25h3v1h-3zM90 25h1v1h-1zM5 24h1v1h-1zM18 24h1v1h-1zM36 24h8v1h-8zM47 24h3v1h-3zM60 24h1v1h-1zM64 24h1v1h-1zM71 24h1v1h-1zM79 24h1v1h-1zM85 24h1v1h-1zM90 24h1v1h-1zM31 23h1v1h-1zM37 23h1v1h-1zM40 23h2v1h-2zM43 23h4v1h-4zM3 22h1v1h-1zM11 22h1v1h-1zM22 22h1v1h-1zM36 22h4v1h-4zM41 22h3v1h-3zM45 22h1v1h-1zM52 22h1v1h-1zM58 22h1v1h-1zM69 22h1v1h-1zM3 21h1v1h-1zM26 21h2v1h-2zM40 21h2v1h-2zM45 21h2v1h-2zM55 21h1v1h-1zM65 21h1v1h-1zM71 21h1v1h-1zM78 21h1v1h-1zM83 21h2v1h-2zM88 21h1v1h-1zM0 20h1v1h-1zM11 20h1v1h-1zM14 20h1v1h-1zM39 20h5v1h-5zM46 20h1v1h-1zM60 20h1v1h-1zM3 19h1v1h-1zM11 19h1v1h-1zM19 19h1v1h-1zM22 19h1v1h-1zM27 19h1v1h-1zM35 19h2v1h-2zM38 19h1v1h-1zM40 19h3v1h-3zM44 19h2v1h-2zM47 19h1v1h-1zM57 19h1v1h-1zM60 19h1v1h-1zM71 19h1v1h-1zM11 18h1v1h-1zM13 18h4v1h-4zM19 18h1v1h-1zM21 18h1v1h-1zM27 18h1v1h-1zM31 18h1v1h-1zM36 18h1v1h-1zM44 18h2v1h-2zM60 18h1v1h-1zM64 18h1v1h-1zM66 18h1v1h-1zM71 18h1v1h-1zM75 18h1v1h-1zM84 18h3v1h-3zM92 18h1v1h-1zM96 18h1v1h-1zM8 17h1v1h-1zM10 17h1v1h-1zM14 17h1v1h-1zM16 17h1v1h-1zM20 17h1v1h-1zM22 17h3v1h-3zM26 17h2v1h-2zM31 17h1v1h-1zM35 17h1v1h-1zM40 17h1v1h-1zM42 17h1v1h-1zM47 17h1v1h-1zM49 17h1v1h-1zM55 17h1v1h-1zM58 17h1v1h-1zM65 17h1v1h-1zM69 17h1v1h-1zM71 17h2v1h-2zM86 17h1v1h-1zM88 17h1v1h-1zM90 17h2v1h-2zM93 17h1v1h-1zM96 17h1v1h-1zM11 16h1v1h-1zM13 16h1v1h-1zM22 16h1v1h-1zM36 16h3v1h-3zM42 16h1v1h-1zM45 16h1v1h-1zM65 16h1v1h-1zM90 16h1v1h-1zM11 15h1v1h-1zM14 15h1v1h-1zM16 15h1v1h-1zM27 15h1v1h-1zM37 15h2v1h-2zM45 15h1v1h-1zM69 15h1v1h-1zM83 15h1v1h-1zM96 15h1v1h-1zM11 14h1v1h-1zM14 14h1v1h-1zM16 14h1v1h-1zM22 14h2v1h-2zM30 14h1v1h-1zM35 14h2v1h-2zM40 14h1v1h-1zM42 14h1v1h-1zM47 14h1v1h-1zM51 14h1v1h-1zM55 14h1v1h-1zM65 14h1v1h-1zM69 14h1v1h-1zM88 14h1v1h-1zM90 14h1v1h-1zM3 13h1v1h-1zM8 13h1v1h-1zM11 13h6v1h-6zM19 13h1v1h-1zM26 13h1v1h-1zM36 13h2v1h-2zM40 13h1v1h-1zM47 13h1v1h-1zM58 13h1v1h-1zM60 13h1v1h-1zM64 13h1v1h-1zM66 13h1v1h-1zM75 13h1v1h-1zM81 13h1v1h-1zM85 13h2v1h-2zM88 13h1v1h-1zM96 13h1v1h-1zM14 12h1v1h-1zM16 12h1v1h-1zM19 12h1v1h-1zM21 12h1v1h-1zM25 12h1v1h-1zM31 12h1v1h-1zM34 12h1v1h-1zM37 12h1v1h-1zM39 12h2v1h-2zM42 12h1v1h-1zM45 12h1v1h-1zM58 12h1v1h-1zM60 12h1v1h-1zM63 12h1v1h-1zM65 12h2v1h-2zM69 12h1v1h-1zM75 12h1v1h-1zM78 12h1v1h-1zM8 11h1v1h-1zM10 11h3v1h-3zM14 11h1v1h-1zM16 11h1v1h-1zM18 11h1v1h-1zM22 11h3v1h-3zM30 11h1v1h-1zM34 11h2v1h-2zM48 11h2v1h-2zM51 11h1v1h-1zM55 11h1v1h-1zM59 11h2v1h-2zM65 11h1v1h-1zM67 11h1v1h-1zM72 11h1v1h-1zM78 11h1v1h-1zM83 11h1v1h-1zM86 11h1v1h-1zM91 11h1v1h-1zM93 11h1v1h-1zM10 10h1v1h-1zM13 10h2v1h-2zM19 10h2v1h-2zM22 10h3v1h-3zM26 10h2v1h-2zM31 10h1v1h-1zM35 10h1v1h-1zM47 10h1v1h-1zM49 10h1v1h-1zM58 10h1v1h-1zM60 10h1v1h-1zM64 10h2v1h-2zM78 10h2v1h-2zM83 10h1v1h-1zM85 10h1v1h-1zM88 10h1v1h-1zM94 10h1v1h-1zM14 9h1v1h-1zM39 9h3v1h-3zM43 9h1v1h-1zM46 9h1v1h-1zM88 9h1v1h-1zM13 8h2v1h-2zM18 8h2v1h-2zM22 8h3v1h-3zM26 8h1v1h-1zM30 8h1v1h-1zM36 8h2v1h-2zM41 8h1v1h-1zM49 8h1v1h-1zM75 8h1v1h-1zM79 8h1v1h-1zM82 8h2v1h-2zM86 8h2v1h-2zM90 8h4v1h-4zM96 8h1v1h-1zM10 7h2v1h-2zM19 7h1v1h-1zM28 7h1v1h-1zM31 7h1v1h-1zM38 7h1v1h-1zM42 7h3v1h-3zM46 7h1v1h-1zM58 7h1v1h-1zM65 7h1v1h-1zM96 7h1v1h-1zM3 6h2v1h-2zM9 6h1v1h-1zM11 6h1v1h-1zM15 6h2v1h-2zM21 6h1v1h-1zM26 6h2v1h-2zM36 6h2v1h-2zM42 6h1v1h-1zM49 6h1v1h-1zM52 6h1v1h-1zM57 6h1v1h-1zM60 6h1v1h-1zM65 6h1v1h-1zM69 6h1v1h-1zM71 6h2v1h-2zM79 6h2v1h-2zM82 6h1v1h-1zM88 6h1v1h-1zM11 5h1v1h-1zM14 5h1v1h-1zM23 5h1v1h-1zM40 5h1v1h-1zM42 5h1v1h-1zM44 5h1v1h-1zM47 5h1v1h-1zM49 5h1v1h-1zM58 5h1v1h-1zM60 5h1v1h-1zM69 5h1v1h-1zM79 5h1v1h-1zM85 5h1v1h-1zM88 5h1v1h-1zM92 5h1v1h-1zM0 4h1v1h-1zM14 4h1v1h-1zM20 4h1v1h-1zM22 4h1v1h-1zM25 4h3v1h-3zM30 4h1v1h-1zM34 4h1v1h-1zM36 4h2v1h-2zM47 4h1v1h-1zM49 4h1v1h-1zM52 4h1v1h-1zM60 4h1v1h-1zM64 4h1v1h-1zM78 4h1v1h-1zM88 4h1v1h-1zM91 4h1v1h-1zM93 4h1v1h-1zM14 3h1v1h-1zM19 3h1v1h-1zM23 3h1v1h-1zM36 3h4v1h-4zM45 3h1v1h-1zM60 3h1v1h-1zM63 3h2v1h-2zM79 3h1v1h-1zM85 3h1v1h-1zM88 3h1v1h-1zM92 3h1v1h-1zM3 2h1v1h-1zM10 2h1v1h-1zM14 2h3v1h-3zM20 2h1v1h-1zM26 2h1v1h-1zM31 2h1v1h-1zM36 2h1v1h-1zM40 2h2v1h-2zM47 2h2v1h-2zM65 2h1v1h-1zM69 2h1v1h-1zM86 2h1v1h-1zM96 2h1v1h-1zM11 1h1v1h-1zM14 1h1v1h-1zM39 1h1v1h-1zM42 1h2v1h-2zM45 1h1v1h-1zM0 0h1v1h-1zM7 0h1v1h-1zM11 0h1v1h-1zM14 0h1v1h-1zM21 0h1v1h-1zM24 0h1v1h-1zM27 0h1v1h-1zM31 0h1v1h-1zM49 0h3v1h-3zM55 0h1v1h-1zM57 0h1v1h-1zM60 0h1v1h-1zM78 0h2v1h-2zM81 0h1v1h-1zM83 0h1v1h-1zM88 0h2v1h-2zM94 0h1v1h-1z"/>
<path fill="#e19d72" d="M38 96h3v1h-3zM14 95h1v1h-1zM41 95h1v1h-1zM44 95h1v1h-1zM46 95h1v1h-1zM69 95h1v1h-1zM85 95h1v1h-1zM38 94h2v1h-2zM46 94h1v1h-1zM31 93h1v1h-1zM38 93h1v1h-1zM41 93h3v1h-3zM65 93h1v1h-1zM69 93h1v1h-1zM37 92h1v1h-1zM41 92h1v1h-1zM43 92h1v1h-1zM46 92h2v1h-2zM37 91h1v1h-1zM39 91h1v1h-1zM43 91h4v1h-4zM39 89h3v1h-3zM43 89h1v1h-1zM47 89h1v1h-1zM38 88h2v1h-2zM41 88h2v1h-2zM46 88h1v1h-1zM31 87h1v1h-1zM39 87h1v1h-1zM41 87h1v1h-1zM46 87h1v1h-1zM65 87h1v1h-1zM16 86h1v1h-1zM41 86h1v1h-1zM44 86h1v1h-1zM47 86h1v1h-1zM60 86h1v1h-1zM65 86h1v1h-1zM69 86h1v1h-1zM96 86h1v1h-1zM14 85h1v1h-1zM16 85h1v1h-1zM21 85h1v1h-1zM27 85h1v1h-1zM31 85h1v1h-1zM36 85h1v1h-1zM40 85h2v1h-2zM45 85h1v1h-1zM47 85h1v1h-1zM49 85h1v1h-1zM58 85h1v1h-1zM60 85h1v1h-1zM67 85h1v1h-1zM69 85h1v1h-1zM72 85h1v1h-1zM75 85h1v1h-1zM79 85h1v1h-1zM84 85h1v1h-1zM88 85h1v1h-1zM92 85h1v1h-1zM23 84h1v1h-1zM31 84h1v1h-1zM37 84h1v1h-1zM39 84h1v1h-1zM42 84h1v1h-1zM14 83h1v1h-1zM16 83h1v1h-1zM20 83h1v1h-1zM22 83h1v1h-1zM24 83h1v1h-1zM36 83h1v1h-1zM40 83h1v1h-1zM42 83h1v1h-1zM45 83h1v1h-1zM79 83h1v1h-1zM85 83h1v1h-1zM1 82h1v1h-1zM11 82h1v1h-1zM13 82h1v1h-1zM16 82h1v1h-1zM21 82h1v1h-1zM31 82h1v1h-1zM38 82h1v1h-1zM42 82h1v1h-1zM44 82h1v1h-1zM51 82h1v1h-1zM55 82h1v1h-1zM58 82h1v1h-1zM60 82h1v1h-1zM72 82h1v1h-1zM75 82h1v1h-1zM80 82h1v1h-1zM38 81h1v1h-1zM40 81h2v1h-2zM43 81h1v1h-1zM63 81h1v1h-1zM69 81h1v1h-1zM10 80h2v1h-2zM13 80h2v1h-2zM36 80h2v1h-2zM44 80h1v1h-1zM47 80h1v1h-1zM49 80h1v1h-1zM60 80h1v1h-1zM69 80h1v1h-1zM86 80h1v1h-1zM91 80h1v1h-1zM96 80h1v1h-1zM38 79h1v1h-1zM37 78h1v1h-1zM39 78h1v1h-1zM41 78h1v1h-1zM46 78h1v1h-1zM65 78h1v1h-1zM31 77h1v1h-1zM37 77h1v1h-1zM41 77h1v1h-1zM43 77h3v1h-3zM58 77h1v1h-1zM65 77h1v1h-1zM85 77h1v1h-1zM90 77h1v1h-1zM92 77h1v1h-1zM94 77h1v1h-1zM13 76h1v1h-1zM31 76h1v1h-1zM36 76h2v1h-2zM41 76h5v1h-5zM63 76h1v1h-1zM96 76h1v1h-1zM11 75h1v1h-1zM14 75h1v1h-1zM38 75h1v1h-1zM44 75h1v1h-1zM46 75h1v1h-1zM13 74h1v1h-1zM31 74h1v1h-1zM37 74h1v1h-1zM42 74h1v1h-1zM44 74h1v1h-1zM58 74h1v1h-1zM69 74h1v1h-1zM94 74h1v1h-1zM12 73h1v1h-1zM37 73h2v1h-2zM44 73h1v1h-1zM63 73h1v1h-1zM13 72h1v1h-1zM31 72h1v1h-1zM39 72h1v1h-1zM43 72h1v1h-1zM45 72h1v1h-1zM69 72h1v1h-1zM39 71h1v1h-1zM43 71h4v1h-4zM60 71h1v1h-1zM65 71h1v1h-1zM69 71h1v1h-1zM37 70h2v1h-2zM42 70h1v1h-1zM45 70h2v1h-2zM85 70h1v1h-1zM11 69h1v1h-1zM37 69h2v1h-2zM42 69h2v1h-2zM60 69h1v1h-1zM65 69h1v1h-1zM38 68h2v1h-2zM46 68h1v1h-1zM46 67h1v1h-1zM69 67h1v1h-1zM31 66h1v1h-1zM41 66h4v1h-4zM46 66h1v1h-1zM3 65h1v1h-1zM9 65h1v1h-1zM11 65h2v1h-2zM14 65h1v1h-1zM19 65h2v1h-2zM22 65h1v1h-1zM24 65h1v1h-1zM30 65h1v1h-1zM34 65h2v1h-2zM44 65h1v1h-1zM47 65h3v1h-3zM55 65h1v1h-1zM63 65h2v1h-2zM67 65h1v1h-1zM72 65h1v1h-1zM75 65h1v1h-1zM77 65h1v1h-1zM81 65h1v1h-1zM85 65h1v1h-1zM88 65h1v1h-1zM90 65h3v1h-3zM39 63h2v1h-2zM43 63h1v1h-1zM46 63h1v1h-1zM31 62h1v1h-1zM38 62h1v1h-1zM42 62h1v1h-1zM47 62h1v1h-1zM31 61h1v1h-1zM40 61h2v1h-2zM43 61h1v1h-1zM45 61h1v1h-1zM65 61h1v1h-1zM11 60h1v1h-1zM13 60h1v1h-1zM16 60h1v1h-1zM20 60h1v1h-1zM38 60h1v1h-1zM40 60h2v1h-2zM45 60h1v1h-1zM47 60h1v1h-1zM58 60h1v1h-1zM65 60h1v1h-1zM79 60h1v1h-1zM96 60h1v1h-1zM4 59h2v1h-2zM12 59h1v1h-1zM16 59h1v1h-1zM18 59h3v1h-3zM22 59h2v1h-2zM26 59h2v1h-2zM38 59h1v1h-1zM44 59h1v1h-1zM59 59h2v1h-2zM64 59h2v1h-2zM71 59h1v1h-1zM77 59h2v1h-2zM82 59h1v1h-1zM85 59h2v1h-2zM91 59h1v1h-1zM96 59h1v1h-1zM0 58h1v1h-1zM2 58h2v1h-2zM8 58h1v1h-1zM14 58h2v1h-2zM17 58h1v1h-1zM21 58h1v1h-1zM23 58h1v1h-1zM26 58h3v1h-3zM34 58h1v1h-1zM36 58h2v1h-2zM40 58h1v1h-1zM44 58h1v1h-1zM47 58h2v1h-2zM52 58h1v1h-1zM55 58h2v1h-2zM58 58h1v1h-1zM66 58h1v1h-1zM70 58h2v1h-2zM76 58h1v1h-1zM78 58h2v1h-2zM82 58h1v1h-1zM84 58h1v1h-1zM87 58h2v1h-2zM94 58h1v1h-1zM0 57h1v1h-1zM2 57h1v1h-1zM5 57h1v1h-1zM7 57h3v1h-3zM12 57h1v1h-1zM18 57h1v1h-1zM24 57h2v1h-2zM28 57h1v1h-1zM33 57h1v1h-1zM40 57h1v1h-1zM42 57h1v1h-1zM44 57h1v1h-1zM47 57h2v1h-2zM51 57h1v1h-1zM59 57h1v1h-1zM66 57h2v1h-2zM70 57h2v1h-2zM73 57h1v1h-1zM79 57h5v1h-5zM89 57h1v1h-1zM91 57h1v1h-1zM94 57h1v1h-1zM0 56h1v1h-1zM7 56h1v1h-1zM11 56h1v1h-1zM13 56h1v1h-1zM15 56h1v1h-1zM33 56h1v1h-1zM35 56h2v1h-2zM38 56h2v1h-2zM41 56h1v1h-1zM43 56h1v1h-1zM68 56h1v1h-1zM74 56h1v1h-1zM78 56h1v1h-1zM80 56h1v1h-1zM85 56h2v1h-2zM88 56h3v1h-3zM1 55h1v1h-1zM3 55h2v1h-2zM7 55h5v1h-5zM15 55h1v1h-1zM18 55h3v1h-3zM30 55h1v1h-1zM35 55h2v1h-2zM40 55h1v1h-1zM43 55h1v1h-1zM47 55h1v1h-1zM49 55h1v1h-1zM52 55h1v1h-1zM65 55h1v1h-1zM78 55h1v1h-1zM80 55h1v1h-1zM82 55h3v1h-3zM86 55h1v1h-1zM89 55h1v1h-1zM91 55h3v1h-3zM3 54h1v1h-1zM8 54h1v1h-1zM12 54h3v1h-3zM20 54h1v1h-1zM22 54h1v1h-1zM26 54h2v1h-2zM30 54h1v1h-1zM34 54h1v1h-1zM39 54h1v1h-1zM45 54h1v1h-1zM47 54h1v1h-1zM49 54h1v1h-1zM65 54h1v1h-1zM71 54h1v1h-1zM73 54h1v1h-1zM75 54h1v1h-1zM81 54h1v1h-1zM85 54h4v1h-4zM93 54h2v1h-2zM96 54h1v1h-1zM3 53h3v1h-3zM7 53h1v1h-1zM15 53h1v1h-1zM19 53h2v1h-2zM24 53h2v1h-2zM27 53h1v1h-1zM30 53h1v1h-1zM33 53h1v1h-1zM35 53h1v1h-1zM40 53h2v1h-2zM44 53h1v1h-1zM52 53h1v1h-1zM55 53h2v1h-2zM63 53h1v1h-1zM65 53h1v1h-1zM70 53h1v1h-1zM75 53h1v1h-1zM80 53h3v1h-3zM91 53h1v1h-1zM93 53h2v1h-2zM96 53h1v1h-1zM1 52h1v1h-1zM5 52h1v1h-1zM10 52h1v1h-1zM14 52h1v1h-1zM16 52h1v1h-1zM19 52h5v1h-5zM25 52h1v1h-1zM30 52h2v1h-2zM37 52h3v1h-3zM43 52h1v1h-1zM57 52h4v1h-4zM65 52h1v1h-1zM75 52h2v1h-2zM80 52h1v1h-1zM83 52h4v1h-4zM90 52h1v1h-1zM92 52h2v1h-2zM96 52h1v1h-1zM5 51h1v1h-1zM11 51h1v1h-1zM13 51h1v1h-1zM19 51h2v1h-2zM24 51h3v1h-3zM35 51h2v1h-2zM42 51h1v1h-1zM58 51h1v1h-1zM69 51h1v1h-1zM72 51h1v1h-1zM83 51h1v1h-1zM85 51h1v1h-1zM88 51h5v1h-5zM94 51h1v1h-1zM1 50h2v1h-2zM4 50h2v1h-2zM8 50h2v1h-2zM18 50h1v1h-1zM21 50h1v1h-1zM25 50h2v1h-2zM28 50h3v1h-3zM33 50h1v1h-1zM50 50h1v1h-1zM53 50h1v1h-1zM56 50h2v1h-2zM67 50h1v1h-1zM71 50h1v1h-1zM78 50h1v1h-1zM80 50h1v1h-1zM82 50h1v1h-1zM93 50h1v1h-1zM95 50h1v1h-1zM4 49h1v1h-1zM7 49h1v1h-1zM10 49h2v1h-2zM16 49h1v1h-1zM31 49h1v1h-1zM34 49h1v1h-1zM36 49h1v1h-1zM38 49h2v1h-2zM41 49h2v1h-2zM65 49h1v1h-1zM69 49h1v1h-1zM85 49h1v1h-1zM88 49h1v1h-1zM96 49h1v1h-1zM31 48h1v1h-1zM38 48h2v1h-2zM58 48h1v1h-1zM69 48h1v1h-1zM79 48h1v1h-1zM96 48h1v1h-1zM11 47h1v1h-1zM16 47h1v1h-1zM31 47h1v1h-1zM41 47h2v1h-2zM60 47h1v1h-1zM69 47h1v1h-1zM71 47h1v1h-1zM83 47h1v1h-1zM93 47h1v1h-1zM46 46h1v1h-1zM14 45h1v1h-1zM39 45h1v1h-1zM38 44h1v1h-1zM41 44h1v1h-1zM43 44h1v1h-1zM46 43h1v1h-1zM14 41h1v1h-1zM31 41h1v1h-1zM38 41h1v1h-1zM43 41h1v1h-1zM38 40h1v1h-1zM43 40h1v1h-1zM46 40h1v1h-1zM44 39h1v1h-1zM46 39h1v1h-1zM65 39h1v1h-1zM11 38h1v1h-1zM14 38h1v1h-1zM19 38h1v1h-1zM22 38h1v1h-1zM36 38h1v1h-1zM38 38h1v1h-1zM44 38h2v1h-2zM48 38h1v1h-1zM60 38h1v1h-1zM65 38h1v1h-1zM96 38h1v1h-1zM37 37h1v1h-1zM39 37h1v1h-1zM44 37h1v1h-1zM69 37h1v1h-1zM10 36h2v1h-2zM14 36h1v1h-1zM16 36h1v1h-1zM25 36h1v1h-1zM27 36h1v1h-1zM37 36h1v1h-1zM44 36h1v1h-1zM49 36h1v1h-1zM58 36h1v1h-1zM65 36h1v1h-1zM94 36h1v1h-1zM15 33h1v1h-1zM20 33h1v1h-1zM23 33h1v1h-1zM31 33h1v1h-1zM43 33h1v1h-1zM65 33h1v1h-1zM69 33h1v1h-1zM31 32h1v1h-1zM37 32h1v1h-1zM65 32h1v1h-1zM3 31h1v1h-1zM9 31h2v1h-2zM18 31h2v1h-2zM25 31h1v1h-1zM27 31h1v1h-1zM35 31h3v1h-3zM41 31h4v1h-4zM47 31h1v1h-1zM57 31h2v1h-2zM60 31h1v1h-1zM63 31h2v1h-2zM69 31h1v1h-1zM78 31h1v1h-1zM83 31h1v1h-1zM88 31h1v1h-1zM91 31h1v1h-1zM38 30h2v1h-2zM11 29h1v1h-1zM31 29h1v1h-1zM39 29h1v1h-1zM46 29h1v1h-1zM96 29h1v1h-1zM40 28h1v1h-1zM1 27h1v1h-1zM3 27h1v1h-1zM10 27h2v1h-2zM15 27h2v1h-2zM22 27h1v1h-1zM24 27h2v1h-2zM29 27h1v1h-1zM45 27h1v1h-1zM47 27h3v1h-3zM59 27h1v1h-1zM63 27h1v1h-1zM65 27h1v1h-1zM71 27h2v1h-2zM77 27h2v1h-2zM88 27h2v1h-2zM92 27h2v1h-2zM38 26h2v1h-2zM43 26h1v1h-1zM37 25h3v1h-3zM42 25h1v1h-1zM46 25h1v1h-1zM49 25h1v1h-1zM69 25h1v1h-1zM11 24h1v1h-1zM14 24h1v1h-1zM31 24h1v1h-1zM45 24h1v1h-1zM69 24h1v1h-1zM39 23h1v1h-1zM42 23h1v1h-1zM40 22h1v1h-1zM11 21h1v1h-1zM14 21h1v1h-1zM31 21h1v1h-1zM42 21h3v1h-3zM38 20h1v1h-1zM44 20h1v1h-1zM31 19h1v1h-1zM37 19h1v1h-1zM69 19h1v1h-1zM37 18h2v1h-2zM40 18h2v1h-2zM46 18h1v1h-1zM65 18h1v1h-1zM69 18h1v1h-1zM11 17h1v1h-1zM13 17h1v1h-1zM36 17h1v1h-1zM38 17h2v1h-2zM48 17h1v1h-1zM85 17h1v1h-1zM92 17h1v1h-1zM14 16h1v1h-1zM39 16h3v1h-3zM43 16h2v1h-2zM46 16h1v1h-1zM31 15h1v1h-1zM39 15h1v1h-1zM42 15h2v1h-2zM37 14h3v1h-3zM41 14h1v1h-1zM43 14h1v1h-1zM46 14h1v1h-1zM39 13h1v1h-1zM41 13h1v1h-1zM44 13h2v1h-2zM49 13h1v1h-1zM65 13h1v1h-1zM92 13h1v1h-1zM11 12h1v1h-1zM38 12h1v1h-1zM41 12h1v1h-1zM44 12h1v1h-1zM1 11h1v1h-1zM13 11h1v1h-1zM19 11h1v1h-1zM26 11h1v1h-1zM31 11h1v1h-1zM37 11h1v1h-1zM40 11h1v1h-1zM42 11h1v1h-1zM44 11h2v1h-2zM47 11h1v1h-1zM79 11h1v1h-1zM88 11h1v1h-1zM92 11h1v1h-1zM16 10h1v1h-1zM37 10h1v1h-1zM40 10h3v1h-3zM44 10h1v1h-1zM38 9h1v1h-1zM42 9h1v1h-1zM11 8h1v1h-1zM31 8h1v1h-1zM38 8h1v1h-1zM40 8h1v1h-1zM42 8h1v1h-1zM45 8h1v1h-1zM47 8h1v1h-1zM65 8h1v1h-1zM69 8h1v1h-1zM85 8h1v1h-1zM39 7h3v1h-3zM45 7h1v1h-1zM69 7h1v1h-1zM19 6h1v1h-1zM31 6h1v1h-1zM40 6h1v1h-1zM44 6h2v1h-2zM96 6h1v1h-1zM16 5h1v1h-1zM31 5h1v1h-1zM37 5h1v1h-1zM39 5h1v1h-1zM41 5h1v1h-1zM43 5h1v1h-1zM45 5h1v1h-1zM65 5h1v1h-1zM11 4h1v1h-1zM19 4h1v1h-1zM31 4h1v1h-1zM41 4h1v1h-1zM44 4h2v1h-2zM69 4h1v1h-1zM79 4h1v1h-1zM83 4h1v1h-1zM85 4h1v1h-1zM41 3h4v1h-4zM46 3h1v1h-1zM49 3h1v1h-1zM69 3h1v1h-1zM19 2h1v1h-1zM22 2h1v1h-1zM38 2h2v1h-2zM42 2h2v1h-2zM45 2h1v1h-1zM60 2h1v1h-1zM46 1h1v1h-1zM10 0h1v1h-1zM16 0h1v1h-1zM20 0h1v1h-1zM36 0h2v1h-2zM42 0h3v1h-3zM47 0h2v1h-2zM58 0h1v1h-1zM67 0h1v1h-1zM90 0h1v1h-1z"/>
<path fill="#de956c" d="M43 96h1v1h-1zM45 96h2v1h-2zM38 95h2v1h-2zM46 93h1v1h-1zM39 92h1v1h-1zM46 90h1v1h-1zM38 89h1v1h-1zM43 87h1v1h-1zM38 86h2v1h-2zM43 86h1v1h-1zM46 86h1v1h-1zM37 85h1v1h-1zM43 85h1v1h-1zM41 84h1v1h-1zM43 84h2v1h-2zM46 84h1v1h-1zM31 83h1v1h-1zM38 83h2v1h-2zM41 83h1v1h-1zM43 83h1v1h-1zM37 82h1v1h-1zM41 82h1v1h-1zM43 82h1v1h-1zM45 82h1v1h-1zM47 82h1v1h-1zM65 82h1v1h-1zM31 81h1v1h-1zM39 81h1v1h-1zM44 81h1v1h-1zM46 81h1v1h-1zM38 80h1v1h-1zM40 80h1v1h-1zM42 80h2v1h-2zM45 80h1v1h-1zM46 79h1v1h-1zM38 77h3v1h-3zM42 77h1v1h-1zM46 77h1v1h-1zM69 77h1v1h-1zM38 76h2v1h-2zM37 75h1v1h-1zM39 75h2v1h-2zM43 75h1v1h-1zM38 74h1v1h-1zM43 74h1v1h-1zM45 74h2v1h-2zM39 73h1v1h-1zM41 73h1v1h-1zM43 73h1v1h-1zM46 73h1v1h-1zM38 72h1v1h-1zM40 72h2v1h-2zM46 72h1v1h-1zM38 71h1v1h-1zM39 70h1v1h-1zM43 70h1v1h-1zM44 69h1v1h-1zM46 69h1v1h-1zM41 68h1v1h-1zM13 65h1v1h-1zM15 65h1v1h-1zM37 65h2v1h-2zM40 65h1v1h-1zM42 65h1v1h-1zM45 65h1v1h-1zM58 65h1v1h-1zM60 65h1v1h-1zM65 65h1v1h-1zM69 65h1v1h-1zM83 65h1v1h-1zM39 62h1v1h-1zM38 61h2v1h-2zM46 61h1v1h-1zM37 60h1v1h-1zM39 60h1v1h-1zM42 60h1v1h-1zM44 60h1v1h-1zM46 60h1v1h-1zM69 60h1v1h-1zM11 59h1v1h-1zM14 59h1v1h-1zM21 59h1v1h-1zM31 59h1v1h-1zM36 59h1v1h-1zM39 59h1v1h-1zM42 59h2v1h-2zM69 59h1v1h-1zM79 59h1v1h-1zM1 58h1v1h-1zM7 58h1v1h-1zM10 58h1v1h-1zM13 58h1v1h-1zM16 58h1v1h-1zM19 58h2v1h-2zM22 58h1v1h-1zM24 58h2v1h-2zM31 58h1v1h-1zM35 58h1v1h-1zM41 58h3v1h-3zM45 58h2v1h-2zM49 58h1v1h-1zM57 58h1v1h-1zM59 58h2v1h-2zM63 58h2v1h-2zM67 58h1v1h-1zM75 58h1v1h-1zM85 58h2v1h-2zM90 58h3v1h-3zM96 58h1v1h-1zM1 57h1v1h-1zM4 57h1v1h-1zM10 57h1v1h-1zM13 57h1v1h-1zM15 57h1v1h-1zM19 57h3v1h-3zM23 57h1v1h-1zM26 57h1v1h-1zM34 57h4v1h-4zM41 57h1v1h-1zM45 57h1v1h-1zM49 57h1v1h-1zM52 57h1v1h-1zM56 57h3v1h-3zM63 57h2v1h-2zM75 57h1v1h-1zM77 57h2v1h-2zM85 57h2v1h-2zM88 57h1v1h-1zM90 57h1v1h-1zM92 57h1v1h-1zM16 56h1v1h-1zM19 56h1v1h-1zM21 56h1v1h-1zM24 56h1v1h-1zM31 56h1v1h-1zM46 56h1v1h-1zM55 56h1v1h-1zM65 56h1v1h-1zM69 56h1v1h-1zM92 56h2v1h-2zM96 56h1v1h-1zM12 55h3v1h-3zM23 55h2v1h-2zM28 55h1v1h-1zM38 55h2v1h-2zM46 55h1v1h-1zM51 55h1v1h-1zM69 55h1v1h-1zM71 55h1v1h-1zM79 55h1v1h-1zM85 55h1v1h-1zM96 55h1v1h-1zM16 54h1v1h-1zM19 54h1v1h-1zM31 54h1v1h-1zM36 54h3v1h-3zM43 54h1v1h-1zM60 54h1v1h-1zM83 54h1v1h-1zM92 54h1v1h-1zM0 53h1v1h-1zM9 53h6v1h-6zM16 53h1v1h-1zM21 53h3v1h-3zM26 53h1v1h-1zM37 53h2v1h-2zM42 53h1v1h-1zM47 53h1v1h-1zM49 53h1v1h-1zM58 53h1v1h-1zM60 53h1v1h-1zM71 53h1v1h-1zM77 53h3v1h-3zM83 53h4v1h-4zM88 53h1v1h-1zM90 53h1v1h-1zM92 53h1v1h-1zM12 52h1v1h-1zM15 52h1v1h-1zM27 52h1v1h-1zM36 52h1v1h-1zM69 52h1v1h-1zM79 52h1v1h-1zM82 52h1v1h-1zM0 51h1v1h-1zM14 51h1v1h-1zM16 51h1v1h-1zM22 51h1v1h-1zM31 51h1v1h-1zM38 51h2v1h-2zM46 51h1v1h-1zM86 51h1v1h-1zM96 51h1v1h-1zM0 50h1v1h-1zM3 50h1v1h-1zM6 50h1v1h-1zM10 50h1v1h-1zM12 50h1v1h-1zM15 50h1v1h-1zM17 50h1v1h-1zM19 50h1v1h-1zM22 50h3v1h-3zM27 50h1v1h-1zM35 50h2v1h-2zM38 50h1v1h-1zM40 50h2v1h-2zM45 50h1v1h-1zM47 50h1v1h-1zM49 50h1v1h-1zM55 50h1v1h-1zM58 50h1v1h-1zM63 50h2v1h-2zM66 50h1v1h-1zM68 50h1v1h-1zM72 50h1v1h-1zM74 50h1v1h-1zM77 50h1v1h-1zM79 50h1v1h-1zM81 50h1v1h-1zM83 50h4v1h-4zM88 50h1v1h-1zM91 50h1v1h-1zM94 50h1v1h-1zM14 49h1v1h-1zM43 49h1v1h-1zM46 49h1v1h-1zM71 49h1v1h-1zM93 49h1v1h-1zM38 47h2v1h-2zM43 47h1v1h-1zM46 47h1v1h-1zM41 45h1v1h-1zM39 44h1v1h-1zM40 41h1v1h-1zM46 41h1v1h-1zM39 40h1v1h-1zM38 39h2v1h-2zM31 38h1v1h-1zM39 38h1v1h-1zM43 38h1v1h-1zM46 38h1v1h-1zM38 37h1v1h-1zM31 36h1v1h-1zM38 36h1v1h-1zM42 36h2v1h-2zM38 33h2v1h-2zM46 33h1v1h-1zM38 32h2v1h-2zM46 32h1v1h-1zM69 32h1v1h-1zM14 31h1v1h-1zM31 31h1v1h-1zM40 31h1v1h-1zM96 31h1v1h-1zM46 30h1v1h-1zM38 29h1v1h-1zM46 28h1v1h-1zM19 27h1v1h-1zM31 27h1v1h-1zM36 27h2v1h-2zM40 27h2v1h-2zM44 27h1v1h-1zM64 27h1v1h-1zM85 27h2v1h-2zM41 25h1v1h-1zM43 25h1v1h-1zM47 25h1v1h-1zM46 24h1v1h-1zM46 22h1v1h-1zM38 21h2v1h-2zM39 19h1v1h-1zM43 19h1v1h-1zM46 19h1v1h-1zM39 18h1v1h-1zM43 18h1v1h-1zM83 18h1v1h-1zM37 17h1v1h-1zM41 17h1v1h-1zM43 17h2v1h-2zM46 17h1v1h-1zM46 15h1v1h-1zM44 14h1v1h-1zM31 13h1v1h-1zM42 13h2v1h-2zM46 13h1v1h-1zM78 13h1v1h-1zM43 12h1v1h-1zM46 12h1v1h-1zM38 11h2v1h-2zM41 11h1v1h-1zM43 11h1v1h-1zM46 11h1v1h-1zM69 11h1v1h-1zM38 10h2v1h-2zM43 10h1v1h-1zM45 10h2v1h-2zM69 10h1v1h-1zM96 10h1v1h-1zM39 8h1v1h-1zM43 8h1v1h-1zM46 8h1v1h-1zM38 6h2v1h-2zM43 6h1v1h-1zM38 5h1v1h-1zM46 5h1v1h-1zM38 4h3v1h-3zM42 4h2v1h-2zM40 3h1v1h-1zM47 3h1v1h-1zM46 2h1v1h-1zM38 0h1v1h-1zM40 0h2v1h-2zM45 0h1v1h-1zM65 0h1v1h-1zM86 0h1v1h-1z"/>
<path fill="#db8d67" d="M43 94h1v1h-1zM39 85h1v1h-1zM42 85h1v1h-1zM44 85h1v1h-1zM46 85h1v1h-1zM46 83h1v1h-1zM41 80h1v1h-1zM46 76h1v1h-1zM41 65h1v1h-1zM43 65h1v1h-1zM46 62h1v1h-1zM46 59h1v1h-1zM39 58h1v1h-1zM65 58h1v1h-1zM69 58h1v1h-1zM83 58h1v1h-1zM11 57h1v1h-1zM38 57h1v1h-1zM43 57h1v1h-1zM46 57h1v1h-1zM60 57h1v1h-1zM65 57h1v1h-1zM69 57h1v1h-1zM96 57h1v1h-1zM16 55h1v1h-1zM31 55h1v1h-1zM60 55h1v1h-1zM90 55h1v1h-1zM11 54h1v1h-1zM46 54h1v1h-1zM69 54h1v1h-1zM2 53h1v1h-1zM31 53h1v1h-1zM39 53h1v1h-1zM46 53h1v1h-1zM69 53h1v1h-1zM11 52h1v1h-1zM46 52h1v1h-1zM88 52h1v1h-1zM11 50h1v1h-1zM13 50h1v1h-1zM20 50h1v1h-1zM34 50h1v1h-1zM37 50h1v1h-1zM39 50h1v1h-1zM42 50h3v1h-3zM51 50h1v1h-1zM60 50h1v1h-1zM65 50h1v1h-1zM90 50h1v1h-1zM92 50h1v1h-1zM96 50h1v1h-1zM46 45h1v1h-1zM39 36h1v1h-1zM41 36h1v1h-1zM46 36h1v1h-1zM38 31h2v1h-2zM46 31h1v1h-1zM38 27h2v1h-2zM42 27h2v1h-2zM96 27h1v1h-1zM38 13h1v1h-1zM44 8h1v1h-1zM41 6h1v1h-1zM46 6h1v1h-1zM46 4h1v1h-1zM39 0h1v1h-1zM46 0h1v1h-1zM69 0h1v1h-1z"/>
<path fill="#d88562" d="M38 85h1v1h-1zM39 82h1v1h-1zM46 82h1v1h-1zM39 80h1v1h-1zM46 80h1v1h-1zM39 74h1v1h-1zM39 65h1v1h-1zM11 58h1v1h-1zM14 57h1v1h-1zM16 57h1v1h-1zM22 57h1v1h-1zM31 57h1v1h-1zM14 50h1v1h-1zM16 50h1v1h-1zM69 50h1v1h-1zM46 27h1v1h-1z"/>
<path fill="#d57d5d" d="M46 65h1v1h-1zM31 50h1v1h-1z"/>
</g>
<line x1="1026" y1="646" x2="1026" y2="1185" stroke="#95503b" stroke-width="3.5" />
<line x1="1074.2" y1="646" x2="1074.2" y2="1185" stroke="#95503b" stroke-width="3.5" />
<line x1="813" y1="922.5" x2="1349.5" y2="922.5" stroke="#95503b" stroke-width="3.5" />
<line x1="813" y1="970.4" x2="1349.5" y2="970.4" stroke="#95503b" stroke-width="3.5" />
<line x1="116.7" y1="1255.7" x2="116.7" y2="1794" stroke="#111" stroke-width="3.9" />
<line x1="114.8" y1="1792.5" x2="650" y2="1792.5" stroke="#111" stroke-width="4" />
<line x1="135.8" y1="1794.4" x2="135.8" y2="1798" stroke="#3c4244" stroke-width="3" />
<line x1="233.7" y1="1794.4" x2="233.7" y2="1798" stroke="#3c4244" stroke-width="3" />
<line x1="331.5" y1="1794.4" x2="331.5" y2="1798" stroke="#3c4244" stroke-width="3" />
<line x1="429.3" y1="1794.4" x2="429.3" y2="1798" stroke="#3c4244" stroke-width="3" />
<line x1="527.2" y1="1794.4" x2="527.2" y2="1798" stroke="#3c4244" stroke-width="3" />
<line x1="625" y1="1794.4" x2="625" y2="1798" stroke="#3c4244" stroke-width="3" />
<line x1="111.4" y1="1315.8" x2="114.8" y2="1315.8" stroke="#3c4244" stroke-width="3" />
<text x="102.6" y="1324.7" font-size="39" text-anchor="end" font-weight="normal" fill="#111">2.0</text>
<line x1="111.4" y1="1449" x2="114.8" y2="1449" stroke="#3c4244" stroke-width="3" />
<text x="102.6" y="1458" font-size="39" text-anchor="end" font-weight="normal" fill="#111">1.5</text>
<line x1="111.4" y1="1582.3" x2="114.8" y2="1582.3" stroke="#3c4244" stroke-width="3" />
<text x="102.6" y="1591.2" font-size="39" text-anchor="end" font-weight="normal" fill="#111">1.0</text>
<line x1="111.4" y1="1715.5" x2="114.8" y2="1715.5" stroke="#3c4244" stroke-width="3" />
<text x="102.6" y="1724.5" font-size="39" text-anchor="end" font-weight="normal" fill="#111">0.5</text>
<text x="29.7" y="1518.7" font-size="41.5" text-anchor="middle" font-weight="normal" fill="#111" transform="rotate(-90 29.7 1518.7)">R</text>
<line x1="131.1" y1="1582.4" x2="650" y2="1582.4" stroke="#111" stroke-width="4" stroke-dasharray="4 10.27"/>
<polyline points="150,1678.5 155,1645 160,1530 165,1580 170,1558 175,1642.5 180,1623.5 185,1636.5 189.5,1688.5 194.5,1665.5 199.5,1688.5 204.5,1672.5 209.5,1656.5 214.5,1660 219,1702.5 224,1720.5 229,1721.5 233.5,1727.5 238.5,1729 243.5,1710 248.5,1661 253.5,1655 258.5,1672.5 263,1710 268,1742.5 273,1732.5 278,1710.5 283,1715 287.5,1712.5 292.5,1695.5 297.5,1702.5 302.5,1675 307.5,1640 312,1610 317,1582.5 322,1540 327,1490 331.5,1440 336.5,1385 341.5,1330 346.5,1300 351.5,1290 356,1279 361,1287.5 366,1320 371,1355 376,1400 381,1450 385.5,1495 390.5,1530 395.5,1565 400.5,1595 405.5,1617.5 410,1642.5 415,1655 420,1661.5 425,1683.5 430,1688.5 435,1696 439.5,1718.5 444.5,1730 449.5,1692.5 454,1680.5 459,1707.5 464,1737.5 469,1761 474,1766 479,1764 483.5,1769 488.5,1762.5 493.5,1761 498.5,1758.5 503,1735 508,1706.5 513,1712.5 518,1706.5 523,1734 527.5,1692.5 532.5,1677.5 537.5,1702.5 542.5,1699 547.5,1710 552,1692.5 557,1674 562,1652.5 567,1622.5 571.5,1567.5 576.5,1587.5 581.5,1583 586.5,1607.5 591.5,1638 596,1583.5 601,1598 606,1525 611,1559 616,1556.5 621,1523.5" fill="none" stroke="#111" stroke-width="4" stroke-linejoin="round" stroke-linecap="butt"/>
<line x1="330.4" y1="1262" x2="330.4" y2="1799" stroke="#dc8c78" stroke-width="2" />
<line x1="332.8" y1="1254.8" x2="332.8" y2="1799" stroke="#95503b" stroke-width="3.6" />
<line x1="381.2" y1="1254.8" x2="381.2" y2="1794" stroke="#95503b" stroke-width="3.6" />
<line x1="814.3" y1="1266.4" x2="814.3" y2="1794" stroke="#111" stroke-width="3.6" />
<line x1="812.4" y1="1792.7" x2="1336.2" y2="1792.7" stroke="#111" stroke-width="4" />
<line x1="827.9" y1="1794.6" x2="827.9" y2="1798" stroke="#3c4244" stroke-width="3" />
<line x1="924.8" y1="1794.6" x2="924.8" y2="1798" stroke="#3c4244" stroke-width="3" />
<line x1="1021.6" y1="1794.6" x2="1021.6" y2="1798" stroke="#3c4244" stroke-width="3" />
<line x1="1118.4" y1="1794.6" x2="1118.4" y2="1798" stroke="#3c4244" stroke-width="3" />
<line x1="1215.3" y1="1794.6" x2="1215.3" y2="1798" stroke="#3c4244" stroke-width="3" />
<line x1="1312.2" y1="1794.6" x2="1312.2" y2="1798" stroke="#3c4244" stroke-width="3" />
<line x1="809.1" y1="1287.1" x2="812.6" y2="1287.1" stroke="#3c4244" stroke-width="3" />
<text x="800.3" y="1299.8" font-size="41" text-anchor="end" font-weight="normal" fill="#111">1.6</text>
<line x1="809.1" y1="1390" x2="812.6" y2="1390" stroke="#3c4244" stroke-width="3" />
<text x="800.3" y="1402.7" font-size="41" text-anchor="end" font-weight="normal" fill="#111">1.4</text>
<line x1="809.1" y1="1492.9" x2="812.6" y2="1492.9" stroke="#3c4244" stroke-width="3" />
<text x="800.3" y="1505.6" font-size="41" text-anchor="end" font-weight="normal" fill="#111">1.2</text>
<line x1="809.1" y1="1595.8" x2="812.6" y2="1595.8" stroke="#3c4244" stroke-width="3" />
<text x="800.3" y="1608.5" font-size="41" text-anchor="end" font-weight="normal" fill="#111">1.0</text>
<line x1="809.1" y1="1698.7" x2="812.6" y2="1698.7" stroke="#3c4244" stroke-width="3" />
<text x="800.3" y="1711.4" font-size="41" text-anchor="end" font-weight="normal" fill="#111">0.8</text>
<line x1="824.9" y1="1596" x2="1336" y2="1596" stroke="#111" stroke-width="4" stroke-dasharray="4 10.06"/>
<polyline points="848,1592.5 852.5,1680 857.5,1582.5 862.5,1656 867,1665 872,1686.5 877,1692.5 881.5,1560 886.5,1559 891.5,1671 896,1702.5 901,1726 905.5,1687.5 910.5,1700 915.5,1690 920.5,1680 925,1677.5 930,1681.5 934.5,1608.5 939.5,1614 944.5,1620 949.5,1610 954,1625 959,1652.5 964,1677.5 968.5,1679 973.5,1655 978.5,1632.5 983.5,1595 988,1569 993,1522.5 997.5,1456 1002.5,1453 1007.5,1462.5 1012.5,1446 1017,1395 1022,1316 1027,1382.5 1031.5,1550 1036.5,1665 1041.5,1725 1046,1769 1051,1732.5 1056,1692.5 1060.5,1660 1065.5,1570 1070.5,1390 1075,1302.5 1080,1290 1085,1388.5 1089.5,1418.5 1094.5,1418 1099.5,1426.5 1104,1485 1109,1552.5 1114,1585 1118.5,1635 1123.5,1704 1128,1722.5 1133,1711.5 1138,1719 1142.5,1689 1147.5,1690 1152,1671.5 1157,1671 1162,1718.5 1167,1721.5 1171.5,1707.5 1176.5,1674 1181.5,1690 1186.5,1734 1191,1683.5 1196,1696 1201,1731.5 1205.5,1705 1210.5,1679 1215.5,1661.5 1220.5,1676.5 1225.5,1687.5 1230,1732.5 1235,1752 1240,1707.5 1244.5,1622.5 1249.5,1682.5 1254.5,1726 1259,1635 1264,1525 1269,1572.5 1273.5,1587.5 1278.5,1448 1283.5,1592.5 1288,1596.5 1293,1685 1298,1641.5 1302.5,1670 1307.5,1707.5" fill="none" stroke="#111" stroke-width="3.9" stroke-linejoin="round" stroke-linecap="butt"/>
<line x1="1022" y1="1266" x2="1022" y2="1794" stroke="#95503b" stroke-width="3.6" />
<line x1="1070" y1="1266" x2="1070" y2="1794" stroke="#95503b" stroke-width="3.6" />
<line x1="114.1" y1="1850.2" x2="114.1" y2="2405.5" stroke="#111" stroke-width="3.8" />
<line x1="112.2" y1="2403.8" x2="665.8" y2="2403.8" stroke="#111" stroke-width="4" />
<line x1="134.1" y1="2405.7" x2="134.1" y2="2408.7" stroke="#3c4244" stroke-width="3" />
<text x="134" y="2443.3" font-size="38" text-anchor="middle" font-weight="normal" fill="#111">0</text>
<line x1="235.4" y1="2405.7" x2="235.4" y2="2408.7" stroke="#3c4244" stroke-width="3" />
<text x="235.3" y="2443.3" font-size="38" text-anchor="middle" font-weight="normal" fill="#111">20</text>
<line x1="336.7" y1="2405.7" x2="336.7" y2="2408.7" stroke="#3c4244" stroke-width="3" />
<text x="336.6" y="2443.3" font-size="38" text-anchor="middle" font-weight="normal" fill="#111">40</text>
<line x1="438" y1="2405.7" x2="438" y2="2408.7" stroke="#3c4244" stroke-width="3" />
<text x="437.9" y="2443.3" font-size="38" text-anchor="middle" font-weight="normal" fill="#111">60</text>
<line x1="539.3" y1="2405.7" x2="539.3" y2="2408.7" stroke="#3c4244" stroke-width="3" />
<text x="539.2" y="2443.3" font-size="38" text-anchor="middle" font-weight="normal" fill="#111">80</text>
<line x1="640.6" y1="2405.7" x2="640.6" y2="2408.7" stroke="#3c4244" stroke-width="3" />
<text x="640.5" y="2443.3" font-size="38" text-anchor="middle" font-weight="normal" fill="#111">100</text>
<line x1="108.4" y1="2378.9" x2="112.3" y2="2378.9" stroke="#3c4244" stroke-width="3" />
<text x="104.6" y="2388.1" font-size="38.7" text-anchor="end" font-weight="normal" fill="#111">0</text>
<line x1="108.4" y1="2276.1" x2="112.3" y2="2276.1" stroke="#3c4244" stroke-width="3" />
<text x="104.6" y="2285.3" font-size="38.7" text-anchor="end" font-weight="normal" fill="#111">10</text>
<line x1="108.4" y1="2173.3" x2="112.3" y2="2173.3" stroke="#3c4244" stroke-width="3" />
<text x="104.6" y="2182.5" font-size="38.7" text-anchor="end" font-weight="normal" fill="#111">20</text>
<line x1="108.4" y1="2070.5" x2="112.3" y2="2070.5" stroke="#3c4244" stroke-width="3" />
<text x="104.6" y="2079.7" font-size="38.7" text-anchor="end" font-weight="normal" fill="#111">30</text>
<line x1="108.4" y1="1967.7" x2="112.3" y2="1967.7" stroke="#3c4244" stroke-width="3" />
<text x="104.6" y="1976.9" font-size="38.7" text-anchor="end" font-weight="normal" fill="#111">40</text>
<line x1="108.4" y1="1864.9" x2="112.3" y2="1864.9" stroke="#3c4244" stroke-width="3" />
<text x="104.6" y="1874.1" font-size="38.7" text-anchor="end" font-weight="normal" fill="#111">50</text>
<text x="30.6" y="2122" font-size="39" text-anchor="middle" font-weight="normal" fill="#111" transform="rotate(-90 30.6 2122)">k</text>
<g transform="translate(131 1869.2) scale(5.0800 10.3000)" shape-rendering="crispEdges">
<path fill="#ececf1" d="M77 44h1v1h-1zM80 44h1v1h-1zM88 44h3v1h-3zM77 43h1v1h-1zM80 43h1v1h-1zM88 43h3v1h-3zM77 42h1v1h-1zM80 42h1v1h-1zM88 42h3v1h-3zM77 41h1v1h-1zM80 41h1v1h-1zM88 41h3v1h-3zM77 40h1v1h-1zM80 40h1v1h-1zM88 40h3v1h-3zM77 39h1v1h-1zM80 39h1v1h-1zM88 39h3v1h-3zM77 38h1v1h-1zM80 38h1v1h-1zM88 38h2v1h-2zM77 37h1v1h-1zM80 37h1v1h-1zM88 37h1v1h-1zM77 36h1v1h-1zM80 36h1v1h-1zM77 35h1v1h-1zM80 35h1v1h-1zM77 34h1v1h-1zM80 34h1v1h-1zM77 33h1v1h-1zM80 33h1v1h-1zM77 32h1v1h-1zM80 32h1v1h-1zM77 31h1v1h-1zM80 31h1v1h-1zM77 30h1v1h-1zM80 30h1v1h-1zM77 29h1v1h-1zM80 29h1v1h-1zM77 28h1v1h-1zM77 27h1v1h-1zM77 26h1v1h-1z"/>
<path fill="#dadbe3" d="M10 47h2v1h-2zM15 47h1v1h-1zM19 47h1v1h-1zM21 47h1v1h-1zM29 47h2v1h-2zM35 47h1v1h-1zM43 47h1v1h-1zM46 47h1v1h-1zM48 47h1v1h-1zM56 47h1v1h-1zM65 47h1v1h-1zM69 47h1v1h-1zM71 47h1v1h-1zM75 47h2v1h-2zM78 47h1v1h-1zM80 47h3v1h-3zM88 47h5v1h-5zM95 47h1v1h-1zM98 47h1v1h-1zM6 46h1v1h-1zM9 46h8v1h-8zM18 46h9v1h-9zM28 46h7v1h-7zM36 46h1v1h-1zM42 46h7v1h-7zM56 46h11v1h-11zM68 46h4v1h-4zM74 46h24v1h-24zM6 45h1v1h-1zM9 45h8v1h-8zM18 45h9v1h-9zM28 45h7v1h-7zM42 45h7v1h-7zM56 45h11v1h-11zM68 45h4v1h-4zM74 45h23v1h-23zM7 44h29v1h-29zM41 44h10v1h-10zM56 44h21v1h-21zM78 44h2v1h-2zM81 44h7v1h-7zM91 44h5v1h-5zM8 43h28v1h-28zM40 43h11v1h-11zM56 43h21v1h-21zM78 43h2v1h-2zM81 43h7v1h-7zM91 43h4v1h-4zM9 42h29v1h-29zM42 42h7v1h-7zM54 42h23v1h-23zM78 42h2v1h-2zM81 42h7v1h-7zM91 42h3v1h-3zM10 41h28v1h-28zM42 41h8v1h-8zM54 41h23v1h-23zM78 41h2v1h-2zM81 41h7v1h-7zM91 41h2v1h-2zM11 40h26v1h-26zM42 40h8v1h-8zM55 40h22v1h-22zM78 40h2v1h-2zM81 40h7v1h-7zM91 40h1v1h-1zM12 39h25v1h-25zM41 39h9v1h-9zM55 39h22v1h-22zM78 39h2v1h-2zM81 39h7v1h-7zM13 38h24v1h-24zM41 38h10v1h-10zM55 38h22v1h-22zM78 38h2v1h-2zM81 38h7v1h-7zM14 37h22v1h-22zM41 37h10v1h-10zM56 37h21v1h-21zM78 37h2v1h-2zM81 37h7v1h-7zM15 36h21v1h-21zM41 36h10v1h-10zM56 36h21v1h-21zM78 36h2v1h-2zM81 36h7v1h-7zM16 35h20v1h-20zM40 35h11v1h-11zM56 35h21v1h-21zM78 35h2v1h-2zM81 35h6v1h-6zM17 34h18v1h-18zM40 34h12v1h-12zM57 34h20v1h-20zM78 34h2v1h-2zM81 34h5v1h-5zM18 33h17v1h-17zM40 33h12v1h-12zM57 33h20v1h-20zM78 33h2v1h-2zM81 33h4v1h-4zM19 32h16v1h-16zM39 32h13v1h-13zM57 32h20v1h-20zM78 32h2v1h-2zM81 32h3v1h-3zM20 31h14v1h-14zM39 31h14v1h-14zM58 31h19v1h-19zM78 31h2v1h-2zM81 31h2v1h-2zM21 30h13v1h-13zM39 30h14v1h-14zM58 30h19v1h-19zM78 30h2v1h-2zM81 30h1v1h-1zM22 29h12v1h-12zM38 29h15v1h-15zM58 29h19v1h-19zM78 29h2v1h-2zM23 28h10v1h-10zM38 28h16v1h-16zM58 28h19v1h-19zM78 28h2v1h-2zM24 27h9v1h-9zM38 27h16v1h-16zM59 27h18v1h-18zM78 27h1v1h-1zM25 26h8v1h-8zM37 26h18v1h-18zM59 26h18v1h-18zM26 25h6v1h-6zM37 25h18v1h-18zM60 25h17v1h-17zM27 24h5v1h-5zM37 24h18v1h-18zM60 24h16v1h-16zM28 23h4v1h-4zM36 23h19v1h-19zM60 23h15v1h-15zM29 22h3v1h-3zM36 22h20v1h-20zM60 22h14v1h-14zM30 21h1v1h-1zM36 21h20v1h-20zM61 21h12v1h-12zM31 20h1v1h-1zM36 20h20v1h-20zM60 20h12v1h-12zM36 19h19v1h-19zM60 19h11v1h-11zM37 18h18v1h-18zM60 18h10v1h-10zM37 17h18v1h-18zM60 17h9v1h-9zM37 16h18v1h-18zM59 16h9v1h-9zM38 15h16v1h-16zM59 15h8v1h-8zM38 14h16v1h-16zM58 14h8v1h-8zM38 13h15v1h-15zM58 13h7v1h-7zM39 12h14v1h-14zM58 12h6v1h-6zM40 11h13v1h-13zM58 11h5v1h-5zM41 10h11v1h-11zM57 10h5v1h-5zM42 9h10v1h-10zM57 9h4v1h-4zM43 8h9v1h-9zM57 8h3v1h-3zM44 7h7v1h-7zM56 7h3v1h-3zM45 6h6v1h-6zM56 6h2v1h-2zM46 5h5v1h-5zM56 5h1v1h-1zM47 4h4v1h-4zM55 4h1v1h-1zM48 3h2v1h-2zM49 2h1v1h-1z"/>
<path fill="#c8cad3" d="M5 47h1v1h-1zM7 47h1v1h-1zM13 47h2v1h-2zM16 47h1v1h-1zM22 47h6v1h-6zM32 47h1v1h-1zM37 47h1v1h-1zM42 47h1v1h-1zM44 47h1v1h-1zM47 47h1v1h-1zM58 47h5v1h-5zM70 47h1v1h-1zM74 47h1v1h-1zM77 47h1v1h-1zM79 47h1v1h-1zM83 47h1v1h-1zM85 47h3v1h-3zM94 47h1v1h-1zM97 47h1v1h-1zM5 46h1v1h-1zM7 46h2v1h-2zM17 46h1v1h-1zM27 46h1v1h-1zM35 46h1v1h-1zM37 46h2v1h-2zM41 46h1v1h-1zM49 46h1v1h-1zM55 46h1v1h-1zM67 46h1v1h-1zM72 46h2v1h-2zM7 45h2v1h-2zM17 45h1v1h-1zM27 45h1v1h-1zM35 45h3v1h-3zM41 45h1v1h-1zM49 45h2v1h-2zM55 45h1v1h-1zM67 45h1v1h-1zM72 45h2v1h-2zM36 44h2v1h-2zM39 44h2v1h-2zM51 44h1v1h-1zM54 44h2v1h-2zM36 43h4v1h-4zM51 43h2v1h-2zM55 43h1v1h-1zM38 42h2v1h-2zM41 42h1v1h-1zM49 42h2v1h-2zM53 42h1v1h-1zM38 41h4v1h-4zM50 41h1v1h-1zM53 41h1v1h-1zM37 40h2v1h-2zM40 40h2v1h-2zM50 40h2v1h-2zM53 40h2v1h-2zM37 39h2v1h-2zM40 39h1v1h-1zM50 39h2v1h-2zM54 39h1v1h-1zM37 38h4v1h-4zM51 38h1v1h-1zM54 38h1v1h-1zM36 37h2v1h-2zM39 37h2v1h-2zM51 37h1v1h-1zM54 37h2v1h-2zM36 36h2v1h-2zM39 36h2v1h-2zM51 36h2v1h-2zM54 36h2v1h-2zM36 35h4v1h-4zM51 35h2v1h-2zM55 35h1v1h-1zM35 34h5v1h-5zM52 34h1v1h-1zM55 34h2v1h-2zM35 33h5v1h-5zM52 33h2v1h-2zM55 33h2v1h-2zM35 32h4v1h-4zM52 32h2v1h-2zM56 32h1v1h-1zM34 31h5v1h-5zM53 31h2v1h-2zM56 31h2v1h-2zM34 30h5v1h-5zM53 30h2v1h-2zM56 30h2v1h-2zM34 29h4v1h-4zM53 29h2v1h-2zM57 29h1v1h-1zM33 28h2v1h-2zM36 28h2v1h-2zM54 28h2v1h-2zM57 28h1v1h-1zM33 27h2v1h-2zM36 27h2v1h-2zM54 27h2v1h-2zM57 27h2v1h-2zM33 26h4v1h-4zM55 26h1v1h-1zM57 26h2v1h-2zM32 25h2v1h-2zM35 25h2v1h-2zM55 25h2v1h-2zM58 25h2v1h-2zM32 24h2v1h-2zM35 24h2v1h-2zM55 24h2v1h-2zM58 24h2v1h-2zM32 23h2v1h-2zM35 23h1v1h-1zM55 23h5v1h-5zM32 22h1v1h-1zM34 22h2v1h-2zM56 22h4v1h-4zM31 21h2v1h-2zM34 21h2v1h-2zM56 21h5v1h-5zM32 20h1v1h-1zM34 20h2v1h-2zM56 20h4v1h-4zM32 19h2v1h-2zM35 19h1v1h-1zM55 19h5v1h-5zM33 18h1v1h-1zM35 18h2v1h-2zM55 18h2v1h-2zM58 18h2v1h-2zM35 17h2v1h-2zM55 17h2v1h-2zM58 17h2v1h-2zM35 16h2v1h-2zM55 16h1v1h-1zM57 16h2v1h-2zM36 15h2v1h-2zM54 15h2v1h-2zM57 15h2v1h-2zM37 14h1v1h-1zM54 14h2v1h-2zM57 14h1v1h-1zM53 13h2v1h-2zM57 13h1v1h-1zM53 12h2v1h-2zM56 12h2v1h-2zM53 11h2v1h-2zM56 11h2v1h-2zM52 10h2v1h-2zM56 10h1v1h-1zM52 9h2v1h-2zM55 9h2v1h-2zM52 8h1v1h-1zM55 8h2v1h-2zM51 7h2v1h-2zM55 7h1v1h-1zM51 6h2v1h-2zM54 6h2v1h-2zM51 5h1v1h-1zM54 5h2v1h-2zM51 4h1v1h-1zM54 4h1v1h-1zM50 3h2v1h-2zM54 3h1v1h-1zM50 2h2v1h-2zM53 2h1v1h-1zM50 1h1v1h-1z"/>
<path fill="#b7b9c3" d="M15 48h1v1h-1zM35 48h1v1h-1zM37 48h1v1h-1zM56 48h1v1h-1zM65 48h1v1h-1zM75 48h2v1h-2zM78 48h1v1h-1zM81 48h1v1h-1zM88 48h2v1h-2zM92 48h1v1h-1zM4 47h1v1h-1zM6 47h1v1h-1zM8 47h2v1h-2zM12 47h1v1h-1zM17 47h2v1h-2zM20 47h1v1h-1zM28 47h1v1h-1zM31 47h1v1h-1zM33 47h2v1h-2zM36 47h1v1h-1zM38 47h1v1h-1zM45 47h1v1h-1zM49 47h1v1h-1zM53 47h1v1h-1zM55 47h1v1h-1zM57 47h1v1h-1zM63 47h2v1h-2zM66 47h3v1h-3zM72 47h2v1h-2zM84 47h1v1h-1zM93 47h1v1h-1zM96 47h1v1h-1zM39 46h2v1h-2zM50 46h5v1h-5zM38 45h3v1h-3zM51 45h4v1h-4zM38 44h1v1h-1zM52 44h2v1h-2zM53 43h2v1h-2zM40 42h1v1h-1zM51 42h2v1h-2zM51 41h2v1h-2zM39 40h1v1h-1zM52 40h1v1h-1zM39 39h1v1h-1zM52 39h2v1h-2zM52 38h2v1h-2zM38 37h1v1h-1zM52 37h2v1h-2zM38 36h1v1h-1zM53 36h1v1h-1zM53 35h2v1h-2zM53 34h2v1h-2zM54 33h1v1h-1zM54 32h2v1h-2zM55 31h1v1h-1zM55 30h1v1h-1zM55 29h2v1h-2zM35 28h1v1h-1zM56 28h1v1h-1zM35 27h1v1h-1zM56 27h1v1h-1zM56 26h1v1h-1zM34 25h1v1h-1zM57 25h1v1h-1zM34 24h1v1h-1zM57 24h1v1h-1zM34 23h1v1h-1zM33 22h1v1h-1zM33 21h1v1h-1zM33 20h1v1h-1zM34 19h1v1h-1zM34 18h1v1h-1zM57 18h1v1h-1zM34 17h1v1h-1zM57 17h1v1h-1zM56 16h1v1h-1zM56 15h1v1h-1zM56 14h1v1h-1zM55 13h2v1h-2zM55 12h1v1h-1zM55 11h1v1h-1zM54 10h2v1h-2zM54 9h1v1h-1zM53 8h2v1h-2zM53 7h2v1h-2zM53 6h1v1h-1zM52 5h2v1h-2zM52 4h2v1h-2zM52 3h2v1h-2zM52 2h1v1h-1zM51 1h2v1h-2zM51 0h1v1h-1z"/>
<path fill="#a6a9b2" d="M3 48h1v1h-1zM10 48h2v1h-2zM19 48h1v1h-1zM21 48h1v1h-1zM29 48h2v1h-2zM32 48h1v1h-1zM62 48h1v1h-1zM69 48h3v1h-3zM80 48h1v1h-1zM82 48h2v1h-2zM85 48h1v1h-1zM87 48h1v1h-1zM90 48h2v1h-2zM95 48h1v1h-1zM97 48h3v1h-3zM39 47h3v1h-3zM52 47h1v1h-1zM54 47h1v1h-1z"/>
<path fill="#9698a1" d="M5 48h1v1h-1zM7 48h1v1h-1zM13 48h2v1h-2zM22 48h2v1h-2zM25 48h3v1h-3zM38 48h2v1h-2zM53 48h1v1h-1zM59 48h3v1h-3zM77 48h1v1h-1zM79 48h1v1h-1zM86 48h1v1h-1zM94 48h1v1h-1zM50 47h2v1h-2z"/>
<path fill="#85888f" d="M9 48h1v1h-1zM16 48h1v1h-1zM24 48h1v1h-1zM33 48h1v1h-1zM40 48h1v1h-1zM57 48h2v1h-2zM74 48h1v1h-1zM84 48h1v1h-1z"/>
<path fill="#75777c" d="M4 48h1v1h-1zM6 48h1v1h-1zM8 48h1v1h-1zM12 48h1v1h-1zM17 48h2v1h-2zM20 48h1v1h-1zM31 48h1v1h-1zM36 48h1v1h-1zM41 48h1v1h-1zM55 48h1v1h-1zM63 48h2v1h-2zM66 48h3v1h-3zM93 48h1v1h-1zM96 48h1v1h-1z"/>
<path fill="#65676a" d="M28 48h1v1h-1zM34 48h1v1h-1zM42 48h2v1h-2zM46 48h1v1h-1zM48 48h1v1h-1zM54 48h1v1h-1zM72 48h2v1h-2z"/>
<path fill="#434649" d="M49 48h1v1h-1z"/>
<path fill="#323538" d="M44 48h2v1h-2zM47 48h1v1h-1zM52 48h1v1h-1z"/>
<path fill="#212527" d="M51 48h1v1h-1z"/>
<path fill="#101416" d="M50 48h1v1h-1z"/>
</g>
<path d="M179.2 2306.9h0M184.3 2306.9h0M189.4 2306.9h0M194.5 2306.9h0M199.5 2306.9h0M204.6 2306.9h0M209.7 2306.9h0M214.8 2306.9h0M219.9 2306.9h0M224.9 2306.9h0M230 2306.9h0M235.1 2306.9h0M240.2 2306.9h0M245.3 2306.9h0M250.3 2306.9h0M255.4 2306.9h0M265.6 2306.9h0M270.7 2306.9h0M275.7 2306.9h0M280.8 2306.9h0M285.9 2306.9h0M291 2306.9h0M296.1 2306.9h0M301.1 2306.9h0M306.2 2306.9h0M418 2306.9h0M423.1 2306.9h0M428.1 2306.9h0M433.2 2306.9h0M438.3 2306.9h0M443.4 2306.9h0M448.5 2306.9h0M453.5 2306.9h0M458.6 2306.9h0M463.7 2306.9h0M468.8 2306.9h0M473.9 2306.9h0M478.9 2306.9h0M484 2306.9h0M489.1 2306.9h0M494.2 2306.9h0M499.3 2306.9h0M504.3 2306.9h0M509.4 2306.9h0M514.5 2306.9h0M519.6 2306.9h0M524.7 2306.9h0M529.7 2306.9h0M534.8 2306.9h0M539.9 2306.9h0M545 2306.9h0M550.1 2306.9h0M555.1 2306.9h0M560.2 2306.9h0M565.3 2306.9h0M570.4 2306.9h0M575.5 2306.9h0M580.5 2306.9h0M585.6 2306.9h0M590.7 2306.9h0M595.8 2306.9h0M600.9 2306.9h0M605.9 2306.9h0M184.3 2296.6h0M189.4 2296.6h0M194.5 2296.6h0M199.5 2296.6h0M204.6 2296.6h0M209.7 2296.6h0M214.8 2296.6h0M219.9 2296.6h0M224.9 2296.6h0M230 2296.6h0M235.1 2296.6h0M240.2 2296.6h0M245.3 2296.6h0M250.3 2296.6h0M255.4 2296.6h0M260.5 2296.6h0M265.6 2296.6h0M270.7 2296.6h0M275.7 2296.6h0M280.8 2296.6h0M285.9 2296.6h0M291 2296.6h0M296.1 2296.6h0M301.1 2296.6h0M306.2 2296.6h0M418 2296.6h0M423.1 2296.6h0M428.1 2296.6h0M433.2 2296.6h0M438.3 2296.6h0M443.4 2296.6h0M448.5 2296.6h0M453.5 2296.6h0M458.6 2296.6h0M463.7 2296.6h0M468.8 2296.6h0M473.9 2296.6h0M478.9 2296.6h0M484 2296.6h0M489.1 2296.6h0M494.2 2296.6h0M499.3 2296.6h0M504.3 2296.6h0M509.4 2296.6h0M514.5 2296.6h0M519.6 2296.6h0M524.7 2296.6h0M529.7 2296.6h0M534.8 2296.6h0M539.9 2296.6h0M545 2296.6h0M550.1 2296.6h0M555.1 2296.6h0M560.2 2296.6h0M565.3 2296.6h0M570.4 2296.6h0M575.5 2296.6h0M580.5 2296.6h0M585.6 2296.6h0M590.7 2296.6h0M595.8 2296.6h0M600.9 2296.6h0M189.4 2286.3h0M194.5 2286.3h0M199.5 2286.3h0M204.6 2286.3h0M209.7 2286.3h0M214.8 2286.3h0M219.9 2286.3h0M224.9 2286.3h0M230 2286.3h0M235.1 2286.3h0M240.2 2286.3h0M245.3 2286.3h0M250.3 2286.3h0M255.4 2286.3h0M260.5 2286.3h0M265.6 2286.3h0M270.7 2286.3h0M275.7 2286.3h0M280.8 2286.3h0M285.9 2286.3h0M291 2286.3h0M296.1 2286.3h0M301.1 2286.3h0M306.2 2286.3h0M311.3 2286.3h0M418 2286.3h0M423.1 2286.3h0M428.1 2286.3h0M433.2 2286.3h0M438.3 2286.3h0M443.4 2286.3h0M448.5 2286.3h0M453.5 2286.3h0M458.6 2286.3h0M463.7 2286.3h0M468.8 2286.3h0M473.9 2286.3h0M478.9 2286.3h0M484 2286.3h0M489.1 2286.3h0M494.2 2286.3h0M499.3 2286.3h0M504.3 2286.3h0M509.4 2286.3h0M514.5 2286.3h0M519.6 2286.3h0M524.7 2286.3h0M529.7 2286.3h0M534.8 2286.3h0M539.9 2286.3h0M545 2286.3h0M550.1 2286.3h0M555.1 2286.3h0M560.2 2286.3h0M565.3 2286.3h0M570.4 2286.3h0M575.5 2286.3h0M580.5 2286.3h0M585.6 2286.3h0M590.7 2286.3h0M595.8 2286.3h0M194.5 2276h0M199.5 2276h0M204.6 2276h0M209.7 2276h0M214.8 2276h0M219.9 2276h0M224.9 2276h0M230 2276h0M235.1 2276h0M240.2 2276h0M245.3 2276h0M250.3 2276h0M255.4 2276h0M260.5 2276h0M265.6 2276h0M270.7 2276h0M275.7 2276h0M280.8 2276h0M285.9 2276h0M291 2276h0M296.1 2276h0M301.1 2276h0M306.2 2276h0M311.3 2276h0M418 2276h0M423.1 2276h0M428.1 2276h0M433.2 2276h0M438.3 2276h0M443.4 2276h0M448.5 2276h0M453.5 2276h0M458.6 2276h0M463.7 2276h0M468.8 2276h0M473.9 2276h0M478.9 2276h0M484 2276h0M489.1 2276h0M494.2 2276h0M499.3 2276h0M504.3 2276h0M509.4 2276h0M514.5 2276h0M519.6 2276h0M524.7 2276h0M529.7 2276h0M534.8 2276h0M539.9 2276h0M545 2276h0M550.1 2276h0M555.1 2276h0M560.2 2276h0M565.3 2276h0M570.4 2276h0M575.5 2276h0M580.5 2276h0M585.6 2276h0M590.7 2276h0M199.5 2265.7h0M204.6 2265.7h0M209.7 2265.7h0M214.8 2265.7h0M219.9 2265.7h0M224.9 2265.7h0M230 2265.7h0M235.1 2265.7h0M240.2 2265.7h0M245.3 2265.7h0M250.3 2265.7h0M255.4 2265.7h0M260.5 2265.7h0M265.6 2265.7h0M270.7 2265.7h0M275.7 2265.7h0M280.8 2265.7h0M285.9 2265.7h0M291 2265.7h0M296.1 2265.7h0M301.1 2265.7h0M306.2 2265.7h0M311.3 2265.7h0M418 2265.7h0M423.1 2265.7h0M428.1 2265.7h0M433.2 2265.7h0M438.3 2265.7h0M443.4 2265.7h0M448.5 2265.7h0M453.5 2265.7h0M458.6 2265.7h0M463.7 2265.7h0M468.8 2265.7h0M473.9 2265.7h0M478.9 2265.7h0M484 2265.7h0M489.1 2265.7h0M494.2 2265.7h0M499.3 2265.7h0M504.3 2265.7h0M509.4 2265.7h0M514.5 2265.7h0M519.6 2265.7h0M524.7 2265.7h0M529.7 2265.7h0M534.8 2265.7h0M539.9 2265.7h0M545 2265.7h0M550.1 2265.7h0M555.1 2265.7h0M560.2 2265.7h0M565.3 2265.7h0M570.4 2265.7h0M575.5 2265.7h0M580.5 2265.7h0M585.6 2265.7h0M204.6 2255.4h0M209.7 2255.4h0M214.8 2255.4h0M219.9 2255.4h0M224.9 2255.4h0M230 2255.4h0M235.1 2255.4h0M240.2 2255.4h0M245.3 2255.4h0M250.3 2255.4h0M255.4 2255.4h0M260.5 2255.4h0M265.6 2255.4h0M270.7 2255.4h0M275.7 2255.4h0M280.8 2255.4h0M285.9 2255.4h0M291 2255.4h0M296.1 2255.4h0M301.1 2255.4h0M306.2 2255.4h0M311.3 2255.4h0M418 2255.4h0M423.1 2255.4h0M428.1 2255.4h0M433.2 2255.4h0M438.3 2255.4h0M443.4 2255.4h0M448.5 2255.4h0M453.5 2255.4h0M458.6 2255.4h0M463.7 2255.4h0M468.8 2255.4h0M473.9 2255.4h0M478.9 2255.4h0M484 2255.4h0M489.1 2255.4h0M494.2 2255.4h0M499.3 2255.4h0M504.3 2255.4h0M509.4 2255.4h0M514.5 2255.4h0M519.6 2255.4h0M524.7 2255.4h0M529.7 2255.4h0M534.8 2255.4h0M539.9 2255.4h0M545 2255.4h0M550.1 2255.4h0M555.1 2255.4h0M560.2 2255.4h0M565.3 2255.4h0M570.4 2255.4h0M575.5 2255.4h0M580.5 2255.4h0M209.7 2245.1h0M214.8 2245.1h0M219.9 2245.1h0M224.9 2245.1h0M230 2245.1h0M235.1 2245.1h0M240.2 2245.1h0M245.3 2245.1h0M250.3 2245.1h0M255.4 2245.1h0M260.5 2245.1h0M265.6 2245.1h0M270.7 2245.1h0M275.7 2245.1h0M280.8 2245.1h0M285.9 2245.1h0M291 2245.1h0M296.1 2245.1h0M301.1 2245.1h0M306.2 2245.1h0M311.3 2245.1h0M423.1 2245.1h0M428.1 2245.1h0M433.2 2245.1h0M438.3 2245.1h0M443.4 2245.1h0M448.5 2245.1h0M453.5 2245.1h0M458.6 2245.1h0M463.7 2245.1h0M468.8 2245.1h0M473.9 2245.1h0M478.9 2245.1h0M484 2245.1h0M489.1 2245.1h0M494.2 2245.1h0M499.3 2245.1h0M504.3 2245.1h0M509.4 2245.1h0M514.5 2245.1h0M519.6 2245.1h0M524.7 2245.1h0M529.7 2245.1h0M534.8 2245.1h0M539.9 2245.1h0M545 2245.1h0M550.1 2245.1h0M555.1 2245.1h0M560.2 2245.1h0M565.3 2245.1h0M570.4 2245.1h0M575.5 2245.1h0M214.8 2234.8h0M219.9 2234.8h0M224.9 2234.8h0M230 2234.8h0M235.1 2234.8h0M240.2 2234.8h0M245.3 2234.8h0M250.3 2234.8h0M255.4 2234.8h0M260.5 2234.8h0M265.6 2234.8h0M270.7 2234.8h0M275.7 2234.8h0M280.8 2234.8h0M285.9 2234.8h0M291 2234.8h0M296.1 2234.8h0M301.1 2234.8h0M306.2 2234.8h0M423.1 2234.8h0M428.1 2234.8h0M433.2 2234.8h0M438.3 2234.8h0M443.4 2234.8h0M448.5 2234.8h0M453.5 2234.8h0M458.6 2234.8h0M463.7 2234.8h0M468.8 2234.8h0M473.9 2234.8h0M478.9 2234.8h0M484 2234.8h0M489.1 2234.8h0M494.2 2234.8h0M499.3 2234.8h0M504.3 2234.8h0M509.4 2234.8h0M514.5 2234.8h0M519.6 2234.8h0M524.7 2234.8h0M529.7 2234.8h0M534.8 2234.8h0M539.9 2234.8h0M545 2234.8h0M550.1 2234.8h0M555.1 2234.8h0M560.2 2234.8h0M565.3 2234.8h0M570.4 2234.8h0M219.9 2224.5h0M224.9 2224.5h0M230 2224.5h0M235.1 2224.5h0M240.2 2224.5h0M245.3 2224.5h0M250.3 2224.5h0M255.4 2224.5h0M260.5 2224.5h0M265.6 2224.5h0M270.7 2224.5h0M275.7 2224.5h0M280.8 2224.5h0M285.9 2224.5h0M291 2224.5h0M296.1 2224.5h0M301.1 2224.5h0M306.2 2224.5h0M423.1 2224.5h0M428.1 2224.5h0M433.2 2224.5h0M438.3 2224.5h0M443.4 2224.5h0M448.5 2224.5h0M453.5 2224.5h0M458.6 2224.5h0M463.7 2224.5h0M468.8 2224.5h0M473.9 2224.5h0M478.9 2224.5h0M484 2224.5h0M489.1 2224.5h0M494.2 2224.5h0M499.3 2224.5h0M504.3 2224.5h0M509.4 2224.5h0M514.5 2224.5h0M519.6 2224.5h0M524.7 2224.5h0M529.7 2224.5h0M534.8 2224.5h0M539.9 2224.5h0M545 2224.5h0M550.1 2224.5h0M555.1 2224.5h0M560.2 2224.5h0M565.3 2224.5h0M224.9 2214.2h0M230 2214.2h0M235.1 2214.2h0M240.2 2214.2h0M245.3 2214.2h0M250.3 2214.2h0M255.4 2214.2h0M260.5 2214.2h0M265.6 2214.2h0M270.7 2214.2h0M275.7 2214.2h0M280.8 2214.2h0M285.9 2214.2h0M291 2214.2h0M296.1 2214.2h0M301.1 2214.2h0M306.2 2214.2h0M423.1 2214.2h0M428.1 2214.2h0M433.2 2214.2h0M438.3 2214.2h0M443.4 2214.2h0M448.5 2214.2h0M453.5 2214.2h0M458.6 2214.2h0M463.7 2214.2h0M468.8 2214.2h0M473.9 2214.2h0M478.9 2214.2h0M484 2214.2h0M489.1 2214.2h0M494.2 2214.2h0M499.3 2214.2h0M504.3 2214.2h0M509.4 2214.2h0M514.5 2214.2h0M519.6 2214.2h0M524.7 2214.2h0M529.7 2214.2h0M534.8 2214.2h0M539.9 2214.2h0M545 2214.2h0M550.1 2214.2h0M555.1 2214.2h0M560.2 2214.2h0M230 2203.9h0M235.1 2203.9h0M240.2 2203.9h0M245.3 2203.9h0M250.3 2203.9h0M255.4 2203.9h0M260.5 2203.9h0M265.6 2203.9h0M270.7 2203.9h0M275.7 2203.9h0M280.8 2203.9h0M285.9 2203.9h0M291 2203.9h0M296.1 2203.9h0M301.1 2203.9h0M428.1 2203.9h0M433.2 2203.9h0M438.3 2203.9h0M443.4 2203.9h0M448.5 2203.9h0M453.5 2203.9h0M458.6 2203.9h0M463.7 2203.9h0M468.8 2203.9h0M473.9 2203.9h0M478.9 2203.9h0M484 2203.9h0M489.1 2203.9h0M494.2 2203.9h0M499.3 2203.9h0M504.3 2203.9h0M509.4 2203.9h0M514.5 2203.9h0M519.6 2203.9h0M524.7 2203.9h0M529.7 2203.9h0M534.8 2203.9h0M539.9 2203.9h0M545 2203.9h0M550.1 2203.9h0M555.1 2203.9h0M235.1 2193.6h0M240.2 2193.6h0M245.3 2193.6h0M250.3 2193.6h0M255.4 2193.6h0M260.5 2193.6h0M265.6 2193.6h0M270.7 2193.6h0M275.7 2193.6h0M280.8 2193.6h0M285.9 2193.6h0M291 2193.6h0M296.1 2193.6h0M301.1 2193.6h0M428.1 2193.6h0M433.2 2193.6h0M438.3 2193.6h0M443.4 2193.6h0M448.5 2193.6h0M453.5 2193.6h0M458.6 2193.6h0M463.7 2193.6h0M468.8 2193.6h0M473.9 2193.6h0M478.9 2193.6h0M484 2193.6h0M489.1 2193.6h0M494.2 2193.6h0M499.3 2193.6h0M504.3 2193.6h0M509.4 2193.6h0M514.5 2193.6h0M519.6 2193.6h0M524.7 2193.6h0M529.7 2193.6h0M534.8 2193.6h0M539.9 2193.6h0M545 2193.6h0M550.1 2193.6h0M240.2 2183.3h0M245.3 2183.3h0M250.3 2183.3h0M255.4 2183.3h0M260.5 2183.3h0M265.6 2183.3h0M270.7 2183.3h0M275.7 2183.3h0M280.8 2183.3h0M285.9 2183.3h0M291 2183.3h0M296.1 2183.3h0M301.1 2183.3h0M428.1 2183.3h0M433.2 2183.3h0M438.3 2183.3h0M443.4 2183.3h0M448.5 2183.3h0M453.5 2183.3h0M458.6 2183.3h0M463.7 2183.3h0M468.8 2183.3h0M473.9 2183.3h0M478.9 2183.3h0M484 2183.3h0M489.1 2183.3h0M494.2 2183.3h0M499.3 2183.3h0M504.3 2183.3h0M509.4 2183.3h0M514.5 2183.3h0M519.6 2183.3h0M524.7 2183.3h0M529.7 2183.3h0M534.8 2183.3h0M539.9 2183.3h0M545 2183.3h0M245.3 2173h0M250.3 2173h0M255.4 2173h0M260.5 2173h0M265.6 2173h0M270.7 2173h0M275.7 2173h0M280.8 2173h0M285.9 2173h0M291 2173h0M296.1 2173h0M301.1 2173h0M428.1 2173h0M433.2 2173h0M438.3 2173h0M443.4 2173h0M448.5 2173h0M453.5 2173h0M458.6 2173h0M463.7 2173h0M468.8 2173h0M473.9 2173h0M478.9 2173h0M484 2173h0M489.1 2173h0M494.2 2173h0M499.3 2173h0M504.3 2173h0M509.4 2173h0M514.5 2173h0M519.6 2173h0M524.7 2173h0M529.7 2173h0M534.8 2173h0M539.9 2173h0M250.3 2162.7h0M255.4 2162.7h0M260.5 2162.7h0M265.6 2162.7h0M270.7 2162.7h0M275.7 2162.7h0M280.8 2162.7h0M285.9 2162.7h0M291 2162.7h0M296.1 2162.7h0M301.1 2162.7h0M428.1 2162.7h0M433.2 2162.7h0M438.3 2162.7h0M443.4 2162.7h0M448.5 2162.7h0M453.5 2162.7h0M458.6 2162.7h0M463.7 2162.7h0M468.8 2162.7h0M473.9 2162.7h0M478.9 2162.7h0M484 2162.7h0M489.1 2162.7h0M494.2 2162.7h0M499.3 2162.7h0M504.3 2162.7h0M509.4 2162.7h0M514.5 2162.7h0M519.6 2162.7h0M524.7 2162.7h0M529.7 2162.7h0M534.8 2162.7h0M255.4 2152.4h0M260.5 2152.4h0M265.6 2152.4h0M270.7 2152.4h0M275.7 2152.4h0M280.8 2152.4h0M285.9 2152.4h0M291 2152.4h0M296.1 2152.4h0M433.2 2152.4h0M438.3 2152.4h0M443.4 2152.4h0M448.5 2152.4h0M453.5 2152.4h0M458.6 2152.4h0M463.7 2152.4h0M468.8 2152.4h0M473.9 2152.4h0M478.9 2152.4h0M484 2152.4h0M489.1 2152.4h0M494.2 2152.4h0M499.3 2152.4h0M504.3 2152.4h0M509.4 2152.4h0M514.5 2152.4h0M519.6 2152.4h0M524.7 2152.4h0M529.7 2152.4h0M260.5 2142.1h0M265.6 2142.1h0M270.7 2142.1h0M275.7 2142.1h0M280.8 2142.1h0M285.9 2142.1h0M291 2142.1h0M296.1 2142.1h0M433.2 2142.1h0M438.3 2142.1h0M443.4 2142.1h0M448.5 2142.1h0M453.5 2142.1h0M458.6 2142.1h0M463.7 2142.1h0M468.8 2142.1h0M473.9 2142.1h0M478.9 2142.1h0M484 2142.1h0M489.1 2142.1h0M494.2 2142.1h0M499.3 2142.1h0M504.3 2142.1h0M509.4 2142.1h0M514.5 2142.1h0M519.6 2142.1h0M524.7 2142.1h0M265.6 2131.8h0M270.7 2131.8h0M275.7 2131.8h0M280.8 2131.8h0M285.9 2131.8h0M291 2131.8h0M296.1 2131.8h0M433.2 2131.8h0M438.3 2131.8h0M443.4 2131.8h0M448.5 2131.8h0M453.5 2131.8h0M458.6 2131.8h0M463.7 2131.8h0M468.8 2131.8h0M473.9 2131.8h0M478.9 2131.8h0M484 2131.8h0M489.1 2131.8h0M494.2 2131.8h0M499.3 2131.8h0M504.3 2131.8h0M509.4 2131.8h0M514.5 2131.8h0M519.6 2131.8h0M270.7 2121.5h0M275.7 2121.5h0M280.8 2121.5h0M285.9 2121.5h0M291 2121.5h0M296.1 2121.5h0M433.2 2121.5h0M438.3 2121.5h0M443.4 2121.5h0M448.5 2121.5h0M453.5 2121.5h0M458.6 2121.5h0M463.7 2121.5h0M468.8 2121.5h0M473.9 2121.5h0M478.9 2121.5h0M484 2121.5h0M489.1 2121.5h0M494.2 2121.5h0M499.3 2121.5h0M504.3 2121.5h0M509.4 2121.5h0M514.5 2121.5h0M275.7 2111.2h0M280.8 2111.2h0M285.9 2111.2h0M291 2111.2h0M296.1 2111.2h0M433.2 2111.2h0M438.3 2111.2h0M443.4 2111.2h0M448.5 2111.2h0M453.5 2111.2h0M458.6 2111.2h0M463.7 2111.2h0M468.8 2111.2h0M473.9 2111.2h0M478.9 2111.2h0M484 2111.2h0M489.1 2111.2h0M494.2 2111.2h0M499.3 2111.2h0M504.3 2111.2h0M509.4 2111.2h0M280.8 2100.9h0M285.9 2100.9h0M291 2100.9h0M296.1 2100.9h0M433.2 2100.9h0M438.3 2100.9h0M443.4 2100.9h0M448.5 2100.9h0M453.5 2100.9h0M458.6 2100.9h0M463.7 2100.9h0M468.8 2100.9h0M473.9 2100.9h0M478.9 2100.9h0M484 2100.9h0M489.1 2100.9h0M494.2 2100.9h0M499.3 2100.9h0M504.3 2100.9h0M285.9 2090.6h0M291 2090.6h0M296.1 2090.6h0M301.1 2090.6h0M433.2 2090.6h0M438.3 2090.6h0M443.4 2090.6h0M448.5 2090.6h0M453.5 2090.6h0M458.6 2090.6h0M463.7 2090.6h0M468.8 2090.6h0M473.9 2090.6h0M478.9 2090.6h0M484 2090.6h0M489.1 2090.6h0M494.2 2090.6h0M499.3 2090.6h0M291 2080.3h0M296.1 2080.3h0M301.1 2080.3h0M433.2 2080.3h0M438.3 2080.3h0M443.4 2080.3h0M448.5 2080.3h0M453.5 2080.3h0M458.6 2080.3h0M463.7 2080.3h0M468.8 2080.3h0M473.9 2080.3h0M478.9 2080.3h0M484 2080.3h0M489.1 2080.3h0M494.2 2080.3h0M296.1 2070h0M301.1 2070h0M433.2 2070h0M438.3 2070h0M443.4 2070h0M448.5 2070h0M453.5 2070h0M458.6 2070h0M463.7 2070h0M468.8 2070h0M473.9 2070h0M478.9 2070h0M484 2070h0M489.1 2070h0M433.2 2059.7h0M438.3 2059.7h0M443.4 2059.7h0M448.5 2059.7h0M453.5 2059.7h0M458.6 2059.7h0M463.7 2059.7h0M468.8 2059.7h0M473.9 2059.7h0M478.9 2059.7h0M484 2059.7h0M433.2 2049.4h0M438.3 2049.4h0M443.4 2049.4h0M448.5 2049.4h0M453.5 2049.4h0M458.6 2049.4h0M463.7 2049.4h0M468.8 2049.4h0M473.9 2049.4h0M478.9 2049.4h0M433.2 2039.1h0M438.3 2039.1h0M443.4 2039.1h0M448.5 2039.1h0M453.5 2039.1h0M458.6 2039.1h0M463.7 2039.1h0M468.8 2039.1h0M473.9 2039.1h0M433.2 2028.8h0M438.3 2028.8h0M443.4 2028.8h0M448.5 2028.8h0M453.5 2028.8h0M458.6 2028.8h0M463.7 2028.8h0M468.8 2028.8h0M433.2 2018.5h0M438.3 2018.5h0M443.4 2018.5h0M448.5 2018.5h0M453.5 2018.5h0M458.6 2018.5h0M463.7 2018.5h0M433.2 2008.2h0M438.3 2008.2h0M443.4 2008.2h0M448.5 2008.2h0M453.5 2008.2h0M458.6 2008.2h0M433.2 1997.9h0M438.3 1997.9h0M443.4 1997.9h0M448.5 1997.9h0M453.5 1997.9h0M433.2 1987.6h0M438.3 1987.6h0M443.4 1987.6h0M448.5 1987.6h0M433.2 1977.3h0M438.3 1977.3h0M443.4 1977.3h0M433.2 1967h0M438.3 1967h0M433.2 1956.7h0M184.3 2317.2h0M189.4 2317.2h0M194.5 2317.2h0M199.5 2317.2h0M224.9 2317.2h0M230 2317.2h0M235.1 2317.2h0M240.2 2317.2h0M270.7 2317.2h0M275.7 2317.2h0M189.4 2327.5h0M194.5 2327.5h0M199.5 2327.5h0M194.5 2337.8h0M423.1 2317.2h0M453.5 2317.2h0M504.3 2317.2h0M509.4 2317.2h0M509.4 2327.5h0M311.3 2368.7h0M423.1 2368.7h0M524.7 2368.7h0" stroke="#5aa5d3" stroke-width="11.5" stroke-linecap="round" fill="none"/>
<path d="M346.9 2358.4h0M351.9 2358.4h0M357 2358.4h0M362.1 2358.4h0M367.2 2358.4h0M372.3 2358.4h0M377.3 2358.4h0M382.4 2358.4h0M387.5 2358.4h0M341.8 2348.1h0M346.9 2348.1h0M351.9 2348.1h0M357 2348.1h0M362.1 2348.1h0M367.2 2348.1h0M372.3 2348.1h0M377.3 2348.1h0M382.4 2348.1h0M387.5 2348.1h0M336.7 2337.8h0M341.8 2337.8h0M346.9 2337.8h0M351.9 2337.8h0M357 2337.8h0M362.1 2337.8h0M367.2 2337.8h0M372.3 2337.8h0M377.3 2337.8h0M382.4 2337.8h0M387.5 2337.8h0M336.7 2327.5h0M341.8 2327.5h0M346.9 2327.5h0M351.9 2327.5h0M357 2327.5h0M362.1 2327.5h0M367.2 2327.5h0M372.3 2327.5h0M377.3 2327.5h0M382.4 2327.5h0M387.5 2327.5h0M392.6 2327.5h0M336.7 2317.2h0M341.8 2317.2h0M346.9 2317.2h0M351.9 2317.2h0M357 2317.2h0M362.1 2317.2h0M367.2 2317.2h0M372.3 2317.2h0M377.3 2317.2h0M382.4 2317.2h0M387.5 2317.2h0M392.6 2317.2h0M331.6 2306.9h0M336.7 2306.9h0M341.8 2306.9h0M346.9 2306.9h0M351.9 2306.9h0M357 2306.9h0M362.1 2306.9h0M367.2 2306.9h0M372.3 2306.9h0M377.3 2306.9h0M382.4 2306.9h0M387.5 2306.9h0M392.6 2306.9h0M331.6 2296.6h0M336.7 2296.6h0M341.8 2296.6h0M346.9 2296.6h0M351.9 2296.6h0M357 2296.6h0M362.1 2296.6h0M367.2 2296.6h0M372.3 2296.6h0M377.3 2296.6h0M382.4 2296.6h0M387.5 2296.6h0M392.6 2296.6h0M397.7 2296.6h0M331.6 2286.3h0M336.7 2286.3h0M341.8 2286.3h0M346.9 2286.3h0M351.9 2286.3h0M357 2286.3h0M362.1 2286.3h0M367.2 2286.3h0M372.3 2286.3h0M377.3 2286.3h0M382.4 2286.3h0M387.5 2286.3h0M392.6 2286.3h0M397.7 2286.3h0M326.5 2276h0M331.6 2276h0M336.7 2276h0M341.8 2276h0M346.9 2276h0M351.9 2276h0M357 2276h0M362.1 2276h0M367.2 2276h0M372.3 2276h0M377.3 2276h0M382.4 2276h0M387.5 2276h0M392.6 2276h0M397.7 2276h0M326.5 2265.7h0M331.6 2265.7h0M336.7 2265.7h0M341.8 2265.7h0M346.9 2265.7h0M351.9 2265.7h0M357 2265.7h0M362.1 2265.7h0M367.2 2265.7h0M372.3 2265.7h0M377.3 2265.7h0M382.4 2265.7h0M387.5 2265.7h0M392.6 2265.7h0M397.7 2265.7h0M402.7 2265.7h0M326.5 2255.4h0M331.6 2255.4h0M336.7 2255.4h0M341.8 2255.4h0M346.9 2255.4h0M351.9 2255.4h0M357 2255.4h0M362.1 2255.4h0M367.2 2255.4h0M372.3 2255.4h0M377.3 2255.4h0M382.4 2255.4h0M387.5 2255.4h0M392.6 2255.4h0M397.7 2255.4h0M402.7 2255.4h0M321.5 2245.1h0M326.5 2245.1h0M331.6 2245.1h0M336.7 2245.1h0M341.8 2245.1h0M346.9 2245.1h0M351.9 2245.1h0M357 2245.1h0M362.1 2245.1h0M367.2 2245.1h0M372.3 2245.1h0M377.3 2245.1h0M382.4 2245.1h0M387.5 2245.1h0M392.6 2245.1h0M397.7 2245.1h0M402.7 2245.1h0M321.5 2234.8h0M326.5 2234.8h0M331.6 2234.8h0M336.7 2234.8h0M341.8 2234.8h0M346.9 2234.8h0M351.9 2234.8h0M357 2234.8h0M362.1 2234.8h0M367.2 2234.8h0M372.3 2234.8h0M377.3 2234.8h0M382.4 2234.8h0M387.5 2234.8h0M392.6 2234.8h0M397.7 2234.8h0M402.7 2234.8h0M407.8 2234.8h0M321.5 2224.5h0M326.5 2224.5h0M331.6 2224.5h0M336.7 2224.5h0M341.8 2224.5h0M346.9 2224.5h0M351.9 2224.5h0M357 2224.5h0M362.1 2224.5h0M367.2 2224.5h0M372.3 2224.5h0M377.3 2224.5h0M382.4 2224.5h0M387.5 2224.5h0M392.6 2224.5h0M397.7 2224.5h0M402.7 2224.5h0M407.8 2224.5h0M321.5 2214.2h0M326.5 2214.2h0M331.6 2214.2h0M336.7 2214.2h0M341.8 2214.2h0M346.9 2214.2h0M351.9 2214.2h0M357 2214.2h0M362.1 2214.2h0M367.2 2214.2h0M372.3 2214.2h0M377.3 2214.2h0M382.4 2214.2h0M387.5 2214.2h0M392.6 2214.2h0M397.7 2214.2h0M402.7 2214.2h0M407.8 2214.2h0M316.4 2203.9h0M321.5 2203.9h0M326.5 2203.9h0M331.6 2203.9h0M336.7 2203.9h0M341.8 2203.9h0M346.9 2203.9h0M351.9 2203.9h0M357 2203.9h0M362.1 2203.9h0M367.2 2203.9h0M372.3 2203.9h0M377.3 2203.9h0M382.4 2203.9h0M387.5 2203.9h0M392.6 2203.9h0M397.7 2203.9h0M402.7 2203.9h0M407.8 2203.9h0M412.9 2203.9h0M316.4 2193.6h0M321.5 2193.6h0M326.5 2193.6h0M331.6 2193.6h0M336.7 2193.6h0M341.8 2193.6h0M346.9 2193.6h0M351.9 2193.6h0M357 2193.6h0M362.1 2193.6h0M367.2 2193.6h0M372.3 2193.6h0M377.3 2193.6h0M382.4 2193.6h0M387.5 2193.6h0M392.6 2193.6h0M397.7 2193.6h0M402.7 2193.6h0M407.8 2193.6h0M412.9 2193.6h0M316.4 2183.3h0M321.5 2183.3h0M326.5 2183.3h0M331.6 2183.3h0M336.7 2183.3h0M341.8 2183.3h0M346.9 2183.3h0M351.9 2183.3h0M357 2183.3h0M362.1 2183.3h0M367.2 2183.3h0M372.3 2183.3h0M377.3 2183.3h0M382.4 2183.3h0M387.5 2183.3h0M392.6 2183.3h0M397.7 2183.3h0M402.7 2183.3h0M407.8 2183.3h0M412.9 2183.3h0M316.4 2173h0M321.5 2173h0M326.5 2173h0M331.6 2173h0M336.7 2173h0M341.8 2173h0M346.9 2173h0M351.9 2173h0M357 2173h0M362.1 2173h0M367.2 2173h0M372.3 2173h0M377.3 2173h0M382.4 2173h0M387.5 2173h0M392.6 2173h0M397.7 2173h0M402.7 2173h0M407.8 2173h0M412.9 2173h0M311.3 2162.7h0M316.4 2162.7h0M321.5 2162.7h0M326.5 2162.7h0M331.6 2162.7h0M336.7 2162.7h0M341.8 2162.7h0M346.9 2162.7h0M351.9 2162.7h0M357 2162.7h0M362.1 2162.7h0M367.2 2162.7h0M372.3 2162.7h0M377.3 2162.7h0M382.4 2162.7h0M387.5 2162.7h0M392.6 2162.7h0M397.7 2162.7h0M402.7 2162.7h0M407.8 2162.7h0M412.9 2162.7h0M311.3 2152.4h0M316.4 2152.4h0M321.5 2152.4h0M326.5 2152.4h0M331.6 2152.4h0M336.7 2152.4h0M341.8 2152.4h0M346.9 2152.4h0M351.9 2152.4h0M357 2152.4h0M362.1 2152.4h0M367.2 2152.4h0M372.3 2152.4h0M377.3 2152.4h0M382.4 2152.4h0M387.5 2152.4h0M392.6 2152.4h0M397.7 2152.4h0M402.7 2152.4h0M407.8 2152.4h0M412.9 2152.4h0M418 2152.4h0M311.3 2142.1h0M316.4 2142.1h0M321.5 2142.1h0M326.5 2142.1h0M331.6 2142.1h0M336.7 2142.1h0M341.8 2142.1h0M346.9 2142.1h0M351.9 2142.1h0M357 2142.1h0M362.1 2142.1h0M367.2 2142.1h0M372.3 2142.1h0M377.3 2142.1h0M382.4 2142.1h0M387.5 2142.1h0M392.6 2142.1h0M397.7 2142.1h0M402.7 2142.1h0M407.8 2142.1h0M412.9 2142.1h0M418 2142.1h0M311.3 2131.8h0M316.4 2131.8h0M321.5 2131.8h0M326.5 2131.8h0M331.6 2131.8h0M336.7 2131.8h0M341.8 2131.8h0M346.9 2131.8h0M351.9 2131.8h0M357 2131.8h0M362.1 2131.8h0M367.2 2131.8h0M372.3 2131.8h0M377.3 2131.8h0M382.4 2131.8h0M387.5 2131.8h0M392.6 2131.8h0M397.7 2131.8h0M402.7 2131.8h0M407.8 2131.8h0M412.9 2131.8h0M418 2131.8h0M311.3 2121.5h0M316.4 2121.5h0M321.5 2121.5h0M326.5 2121.5h0M331.6 2121.5h0M336.7 2121.5h0M341.8 2121.5h0M346.9 2121.5h0M351.9 2121.5h0M357 2121.5h0M362.1 2121.5h0M367.2 2121.5h0M372.3 2121.5h0M377.3 2121.5h0M382.4 2121.5h0M387.5 2121.5h0M392.6 2121.5h0M397.7 2121.5h0M402.7 2121.5h0M407.8 2121.5h0M412.9 2121.5h0M418 2121.5h0M311.3 2111.2h0M316.4 2111.2h0M321.5 2111.2h0M326.5 2111.2h0M331.6 2111.2h0M336.7 2111.2h0M341.8 2111.2h0M346.9 2111.2h0M351.9 2111.2h0M357 2111.2h0M362.1 2111.2h0M367.2 2111.2h0M372.3 2111.2h0M377.3 2111.2h0M382.4 2111.2h0M387.5 2111.2h0M392.6 2111.2h0M397.7 2111.2h0M402.7 2111.2h0M407.8 2111.2h0M412.9 2111.2h0M418 2111.2h0M311.3 2100.9h0M316.4 2100.9h0M321.5 2100.9h0M326.5 2100.9h0M331.6 2100.9h0M336.7 2100.9h0M341.8 2100.9h0M346.9 2100.9h0M351.9 2100.9h0M357 2100.9h0M362.1 2100.9h0M367.2 2100.9h0M372.3 2100.9h0M377.3 2100.9h0M382.4 2100.9h0M387.5 2100.9h0M392.6 2100.9h0M397.7 2100.9h0M402.7 2100.9h0M407.8 2100.9h0M412.9 2100.9h0M418 2100.9h0M306.2 2090.6h0M311.3 2090.6h0M316.4 2090.6h0M321.5 2090.6h0M326.5 2090.6h0M331.6 2090.6h0M336.7 2090.6h0M341.8 2090.6h0M346.9 2090.6h0M351.9 2090.6h0M357 2090.6h0M362.1 2090.6h0M367.2 2090.6h0M372.3 2090.6h0M377.3 2090.6h0M382.4 2090.6h0M387.5 2090.6h0M392.6 2090.6h0M397.7 2090.6h0M402.7 2090.6h0M407.8 2090.6h0M412.9 2090.6h0M418 2090.6h0M423.1 2090.6h0M306.2 2080.3h0M311.3 2080.3h0M316.4 2080.3h0M321.5 2080.3h0M326.5 2080.3h0M331.6 2080.3h0M336.7 2080.3h0M341.8 2080.3h0M346.9 2080.3h0M351.9 2080.3h0M357 2080.3h0M362.1 2080.3h0M367.2 2080.3h0M372.3 2080.3h0M377.3 2080.3h0M382.4 2080.3h0M387.5 2080.3h0M392.6 2080.3h0M397.7 2080.3h0M402.7 2080.3h0M407.8 2080.3h0M412.9 2080.3h0M418 2080.3h0M423.1 2080.3h0M306.2 2070h0M311.3 2070h0M316.4 2070h0M321.5 2070h0M326.5 2070h0M331.6 2070h0M336.7 2070h0M341.8 2070h0M346.9 2070h0M351.9 2070h0M357 2070h0M362.1 2070h0M367.2 2070h0M372.3 2070h0M377.3 2070h0M382.4 2070h0M387.5 2070h0M392.6 2070h0M397.7 2070h0M402.7 2070h0M407.8 2070h0M412.9 2070h0M418 2070h0M423.1 2070h0M306.2 2059.7h0M311.3 2059.7h0M316.4 2059.7h0M321.5 2059.7h0M326.5 2059.7h0M331.6 2059.7h0M336.7 2059.7h0M341.8 2059.7h0M346.9 2059.7h0M351.9 2059.7h0M357 2059.7h0M362.1 2059.7h0M367.2 2059.7h0M372.3 2059.7h0M377.3 2059.7h0M382.4 2059.7h0M387.5 2059.7h0M392.6 2059.7h0M397.7 2059.7h0M402.7 2059.7h0M407.8 2059.7h0M412.9 2059.7h0M418 2059.7h0M423.1 2059.7h0M306.2 2049.4h0M311.3 2049.4h0M316.4 2049.4h0M321.5 2049.4h0M326.5 2049.4h0M331.6 2049.4h0M336.7 2049.4h0M341.8 2049.4h0M346.9 2049.4h0M351.9 2049.4h0M357 2049.4h0M362.1 2049.4h0M367.2 2049.4h0M372.3 2049.4h0M377.3 2049.4h0M382.4 2049.4h0M387.5 2049.4h0M392.6 2049.4h0M397.7 2049.4h0M402.7 2049.4h0M407.8 2049.4h0M412.9 2049.4h0M418 2049.4h0M423.1 2049.4h0M311.3 2039.1h0M316.4 2039.1h0M321.5 2039.1h0M326.5 2039.1h0M331.6 2039.1h0M336.7 2039.1h0M341.8 2039.1h0M346.9 2039.1h0M351.9 2039.1h0M357 2039.1h0M362.1 2039.1h0M367.2 2039.1h0M372.3 2039.1h0M377.3 2039.1h0M382.4 2039.1h0M387.5 2039.1h0M392.6 2039.1h0M397.7 2039.1h0M402.7 2039.1h0M407.8 2039.1h0M412.9 2039.1h0M418 2039.1h0M423.1 2039.1h0M316.4 2028.8h0M321.5 2028.8h0M326.5 2028.8h0M331.6 2028.8h0M336.7 2028.8h0M341.8 2028.8h0M346.9 2028.8h0M351.9 2028.8h0M357 2028.8h0M362.1 2028.8h0M367.2 2028.8h0M372.3 2028.8h0M377.3 2028.8h0M382.4 2028.8h0M387.5 2028.8h0M392.6 2028.8h0M397.7 2028.8h0M402.7 2028.8h0M407.8 2028.8h0M412.9 2028.8h0M418 2028.8h0M423.1 2028.8h0M321.5 2018.5h0M326.5 2018.5h0M331.6 2018.5h0M336.7 2018.5h0M341.8 2018.5h0M346.9 2018.5h0M351.9 2018.5h0M357 2018.5h0M362.1 2018.5h0M367.2 2018.5h0M372.3 2018.5h0M377.3 2018.5h0M382.4 2018.5h0M387.5 2018.5h0M392.6 2018.5h0M397.7 2018.5h0M402.7 2018.5h0M407.8 2018.5h0M412.9 2018.5h0M418 2018.5h0M423.1 2018.5h0M326.5 2008.2h0M331.6 2008.2h0M336.7 2008.2h0M341.8 2008.2h0M346.9 2008.2h0M351.9 2008.2h0M357 2008.2h0M362.1 2008.2h0M367.2 2008.2h0M372.3 2008.2h0M377.3 2008.2h0M382.4 2008.2h0M387.5 2008.2h0M392.6 2008.2h0M397.7 2008.2h0M402.7 2008.2h0M407.8 2008.2h0M412.9 2008.2h0M418 2008.2h0M423.1 2008.2h0M331.6 1997.9h0M336.7 1997.9h0M341.8 1997.9h0M346.9 1997.9h0M351.9 1997.9h0M357 1997.9h0M362.1 1997.9h0M367.2 1997.9h0M372.3 1997.9h0M377.3 1997.9h0M382.4 1997.9h0M387.5 1997.9h0M392.6 1997.9h0M397.7 1997.9h0M402.7 1997.9h0M407.8 1997.9h0M412.9 1997.9h0M418 1997.9h0M423.1 1997.9h0M336.7 1987.6h0M341.8 1987.6h0M346.9 1987.6h0M351.9 1987.6h0M357 1987.6h0M362.1 1987.6h0M367.2 1987.6h0M372.3 1987.6h0M377.3 1987.6h0M382.4 1987.6h0M387.5 1987.6h0M392.6 1987.6h0M397.7 1987.6h0M402.7 1987.6h0M407.8 1987.6h0M412.9 1987.6h0M418 1987.6h0M423.1 1987.6h0M341.8 1977.3h0M346.9 1977.3h0M351.9 1977.3h0M357 1977.3h0M362.1 1977.3h0M367.2 1977.3h0M372.3 1977.3h0M377.3 1977.3h0M382.4 1977.3h0M387.5 1977.3h0M392.6 1977.3h0M397.7 1977.3h0M402.7 1977.3h0M407.8 1977.3h0M412.9 1977.3h0M418 1977.3h0M423.1 1977.3h0M346.9 1967h0M351.9 1967h0M357 1967h0M362.1 1967h0M367.2 1967h0M372.3 1967h0M377.3 1967h0M382.4 1967h0M387.5 1967h0M392.6 1967h0M397.7 1967h0M402.7 1967h0M407.8 1967h0M412.9 1967h0M418 1967h0M423.1 1967h0M351.9 1956.7h0M357 1956.7h0M362.1 1956.7h0M367.2 1956.7h0M372.3 1956.7h0M377.3 1956.7h0M382.4 1956.7h0M387.5 1956.7h0M392.6 1956.7h0M397.7 1956.7h0M402.7 1956.7h0M407.8 1956.7h0M412.9 1956.7h0M418 1956.7h0M423.1 1956.7h0M357 1946.4h0M362.1 1946.4h0M367.2 1946.4h0M372.3 1946.4h0M377.3 1946.4h0M382.4 1946.4h0M387.5 1946.4h0M392.6 1946.4h0M397.7 1946.4h0M402.7 1946.4h0M407.8 1946.4h0M412.9 1946.4h0M418 1946.4h0M423.1 1946.4h0M362.1 1936.1h0M367.2 1936.1h0M372.3 1936.1h0M377.3 1936.1h0M382.4 1936.1h0M387.5 1936.1h0M392.6 1936.1h0M397.7 1936.1h0M402.7 1936.1h0M407.8 1936.1h0M412.9 1936.1h0M418 1936.1h0M423.1 1936.1h0M367.2 1925.8h0M372.3 1925.8h0M377.3 1925.8h0M382.4 1925.8h0M387.5 1925.8h0M392.6 1925.8h0M397.7 1925.8h0M402.7 1925.8h0M407.8 1925.8h0M412.9 1925.8h0M418 1925.8h0M372.3 1915.5h0M377.3 1915.5h0M382.4 1915.5h0M387.5 1915.5h0M392.6 1915.5h0M397.7 1915.5h0M402.7 1915.5h0M407.8 1915.5h0M412.9 1915.5h0M377.3 1905.2h0M382.4 1905.2h0M387.5 1905.2h0M392.6 1905.2h0M397.7 1905.2h0M402.7 1905.2h0M407.8 1905.2h0M382.4 1894.9h0M387.5 1894.9h0M392.6 1894.9h0M397.7 1894.9h0M402.7 1894.9h0M387.5 1884.6h0M392.6 1884.6h0M397.7 1884.6h0M392.6 1874.3h0M351.9 2368.7h0M377.3 2368.7h0" stroke="#d87b72" stroke-width="11.5" stroke-linecap="round" fill="none"/>
<line x1="338.2" y1="1869" x2="338.2" y2="2407" stroke="#95503b" stroke-width="3.5" />
<line x1="386.3" y1="1869" x2="386.3" y2="2407" stroke="#95503b" stroke-width="3.5" />
<line x1="817" y1="1872.3" x2="817" y2="2402" stroke="#111" stroke-width="3.8" />
<line x1="815.1" y1="2400.5" x2="1343.7" y2="2400.5" stroke="#111" stroke-width="4" />
<line x1="831.1" y1="2402.4" x2="831.1" y2="2405.5" stroke="#3c4244" stroke-width="3" />
<text x="831.7" y="2443.3" font-size="40.5" text-anchor="middle" font-weight="normal" fill="#111">0</text>
<line x1="928.8" y1="2402.4" x2="928.8" y2="2405.5" stroke="#3c4244" stroke-width="3" />
<text x="929.4" y="2443.3" font-size="40.5" text-anchor="middle" font-weight="normal" fill="#111">20</text>
<line x1="1026.4" y1="2402.4" x2="1026.4" y2="2405.5" stroke="#3c4244" stroke-width="3" />
<text x="1027" y="2443.3" font-size="40.5" text-anchor="middle" font-weight="normal" fill="#111">40</text>
<line x1="1124.1" y1="2402.4" x2="1124.1" y2="2405.5" stroke="#3c4244" stroke-width="3" />
<text x="1124.7" y="2443.3" font-size="40.5" text-anchor="middle" font-weight="normal" fill="#111">60</text>
<line x1="1221.7" y1="2402.4" x2="1221.7" y2="2405.5" stroke="#3c4244" stroke-width="3" />
<text x="1222.3" y="2443.3" font-size="40.5" text-anchor="middle" font-weight="normal" fill="#111">80</text>
<line x1="1319.4" y1="2402.4" x2="1319.4" y2="2405.5" stroke="#3c4244" stroke-width="3" />
<text x="1320" y="2443.3" font-size="40.5" text-anchor="middle" font-weight="normal" fill="#111">100</text>
<line x1="812.1" y1="2376.5" x2="815.2" y2="2376.5" stroke="#3c4244" stroke-width="3" />
<text x="799.4" y="2387.3" font-size="40.5" text-anchor="end" font-weight="normal" fill="#111">0</text>
<line x1="812.1" y1="2276.5" x2="815.2" y2="2276.5" stroke="#3c4244" stroke-width="3" />
<text x="799.4" y="2287.3" font-size="40.5" text-anchor="end" font-weight="normal" fill="#111">10</text>
<line x1="812.1" y1="2176.5" x2="815.2" y2="2176.5" stroke="#3c4244" stroke-width="3" />
<text x="799.4" y="2187.3" font-size="40.5" text-anchor="end" font-weight="normal" fill="#111">20</text>
<line x1="812.1" y1="2076.5" x2="815.2" y2="2076.5" stroke="#3c4244" stroke-width="3" />
<text x="799.4" y="2087.3" font-size="40.5" text-anchor="end" font-weight="normal" fill="#111">30</text>
<line x1="812.1" y1="1976.5" x2="815.2" y2="1976.5" stroke="#3c4244" stroke-width="3" />
<text x="799.4" y="1987.3" font-size="40.5" text-anchor="end" font-weight="normal" fill="#111">40</text>
<line x1="812.1" y1="1876.5" x2="815.2" y2="1876.5" stroke="#3c4244" stroke-width="3" />
<text x="799.4" y="1887.3" font-size="40.5" text-anchor="end" font-weight="normal" fill="#111">50</text>
<text x="706.8" y="2482.7" font-size="41" text-anchor="start" font-weight="normal" fill="#111">time</text>
<g transform="translate(828.6 1891.5) scale(4.8900 10.0000)" shape-rendering="crispEdges">
<path fill="#ececf1" d="M87 45h2v1h-2zM87 44h2v1h-2zM86 42h3v1h-3zM86 41h3v1h-3zM86 40h3v1h-3zM87 39h1v1h-1zM87 38h1v1h-1z"/>
<path fill="#dedfe6" d="M32 45h1v1h-1zM86 45h1v1h-1zM32 44h1v1h-1zM86 44h1v1h-1zM32 43h1v1h-1zM86 43h3v1h-3zM32 42h1v1h-1zM52 42h1v1h-1zM75 42h1v1h-1zM85 42h1v1h-1zM89 42h1v1h-1zM73 41h2v1h-2zM85 41h1v1h-1zM89 41h1v1h-1zM73 40h2v1h-2zM85 40h1v1h-1zM89 40h1v1h-1zM70 39h1v1h-1zM73 39h2v1h-2zM85 39h2v1h-2zM88 39h1v1h-1zM70 38h1v1h-1zM73 38h2v1h-2zM85 38h2v1h-2zM70 37h1v1h-1zM73 37h2v1h-2zM85 37h3v1h-3zM70 36h1v1h-1zM73 36h2v1h-2zM86 36h1v1h-1zM71 35h2v1h-2zM75 35h1v1h-1zM83 35h2v1h-2zM71 34h2v1h-2zM75 34h1v1h-1zM83 34h1v1h-1zM71 33h2v1h-2zM75 33h1v1h-1zM76 32h1v1h-1zM84 32h1v1h-1zM76 31h1v1h-1zM76 30h1v1h-1zM76 29h1v1h-1zM76 28h1v1h-1zM76 27h1v1h-1zM76 26h1v1h-1zM76 25h1v1h-1zM49 20h1v1h-1zM49 19h1v1h-1zM49 18h1v1h-1zM49 17h1v1h-1zM49 16h1v1h-1z"/>
<path fill="#d1d2db" d="M21 46h1v1h-1zM31 46h1v1h-1zM87 46h1v1h-1zM89 46h1v1h-1zM52 45h1v1h-1zM75 45h1v1h-1zM85 45h1v1h-1zM52 44h1v1h-1zM75 44h1v1h-1zM85 44h1v1h-1zM15 43h1v1h-1zM20 43h2v1h-2zM31 43h1v1h-1zM33 43h1v1h-1zM52 43h1v1h-1zM75 43h1v1h-1zM85 43h1v1h-1zM89 43h1v1h-1zM15 42h1v1h-1zM20 42h2v1h-2zM31 42h1v1h-1zM33 42h1v1h-1zM37 42h2v1h-2zM51 42h1v1h-1zM53 42h1v1h-1zM67 42h2v1h-2zM71 42h4v1h-4zM76 42h1v1h-1zM79 42h2v1h-2zM90 42h1v1h-1zM20 41h1v1h-1zM31 41h3v1h-3zM51 41h2v1h-2zM69 41h2v1h-2zM72 41h1v1h-1zM75 41h4v1h-4zM80 41h1v1h-1zM84 41h1v1h-1zM90 41h1v1h-1zM20 40h1v1h-1zM31 40h3v1h-3zM51 40h2v1h-2zM69 40h2v1h-2zM72 40h1v1h-1zM75 40h4v1h-4zM80 40h1v1h-1zM84 40h1v1h-1zM16 39h1v1h-1zM19 39h2v1h-2zM23 39h1v1h-1zM30 39h4v1h-4zM38 39h3v1h-3zM51 39h3v1h-3zM68 39h2v1h-2zM71 39h2v1h-2zM75 39h10v1h-10zM89 39h1v1h-1zM19 38h2v1h-2zM23 38h1v1h-1zM30 38h4v1h-4zM39 38h2v1h-2zM51 38h3v1h-3zM68 38h2v1h-2zM71 38h2v1h-2zM75 38h10v1h-10zM88 38h1v1h-1zM19 37h2v1h-2zM23 37h1v1h-1zM31 37h3v1h-3zM39 37h2v1h-2zM51 37h3v1h-3zM68 37h2v1h-2zM71 37h2v1h-2zM75 37h10v1h-10zM88 37h1v1h-1zM20 36h1v1h-1zM23 36h1v1h-1zM31 36h3v1h-3zM39 36h2v1h-2zM51 36h3v1h-3zM68 36h2v1h-2zM71 36h2v1h-2zM75 36h11v1h-11zM87 36h2v1h-2zM22 35h2v1h-2zM29 35h1v1h-1zM68 35h3v1h-3zM73 35h2v1h-2zM76 35h7v1h-7zM85 35h3v1h-3zM22 34h2v1h-2zM29 34h1v1h-1zM68 34h3v1h-3zM73 34h2v1h-2zM76 34h7v1h-7zM84 34h3v1h-3zM29 33h1v1h-1zM68 33h3v1h-3zM73 33h2v1h-2zM76 33h10v1h-10zM70 32h6v1h-6zM77 32h7v1h-7zM70 31h6v1h-6zM77 31h7v1h-7zM70 30h6v1h-6zM77 30h6v1h-6zM71 29h5v1h-5zM77 29h5v1h-5zM71 28h5v1h-5zM77 28h4v1h-4zM73 27h3v1h-3zM77 27h3v1h-3zM48 26h2v1h-2zM73 26h3v1h-3zM77 26h2v1h-2zM48 25h2v1h-2zM74 25h2v1h-2zM77 25h1v1h-1zM48 24h2v1h-2zM74 24h3v1h-3zM48 23h2v1h-2zM74 23h2v1h-2zM48 22h2v1h-2zM74 22h1v1h-1zM48 21h2v1h-2zM48 20h1v1h-1zM48 19h1v1h-1zM48 18h1v1h-1zM48 17h1v1h-1zM48 16h1v1h-1zM48 15h2v1h-2zM48 14h2v1h-2zM49 13h1v1h-1zM49 12h1v1h-1zM49 11h1v1h-1z"/>
<path fill="#c3c5cf" d="M21 47h1v1h-1zM86 47h2v1h-2zM89 47h1v1h-1zM7 46h1v1h-1zM9 46h1v1h-1zM32 46h1v1h-1zM53 46h1v1h-1zM68 46h1v1h-1zM72 46h1v1h-1zM86 46h1v1h-1zM88 46h1v1h-1zM93 46h1v1h-1zM20 45h2v1h-2zM31 45h1v1h-1zM33 45h1v1h-1zM68 45h1v1h-1zM71 45h3v1h-3zM80 45h1v1h-1zM89 45h2v1h-2zM20 44h2v1h-2zM31 44h1v1h-1zM33 44h1v1h-1zM68 44h1v1h-1zM71 44h3v1h-3zM80 44h1v1h-1zM89 44h2v1h-2zM16 43h4v1h-4zM22 43h1v1h-1zM30 43h1v1h-1zM34 43h1v1h-1zM37 43h5v1h-5zM47 43h1v1h-1zM50 43h2v1h-2zM53 43h1v1h-1zM67 43h2v1h-2zM71 43h4v1h-4zM76 43h1v1h-1zM79 43h2v1h-2zM90 43h1v1h-1zM14 42h1v1h-1zM16 42h4v1h-4zM22 42h1v1h-1zM30 42h1v1h-1zM34 42h1v1h-1zM39 42h3v1h-3zM47 42h1v1h-1zM50 42h1v1h-1zM69 42h2v1h-2zM77 42h2v1h-2zM81 42h4v1h-4zM92 42h1v1h-1zM14 41h6v1h-6zM21 41h3v1h-3zM30 41h1v1h-1zM34 41h3v1h-3zM38 41h3v1h-3zM50 41h1v1h-1zM53 41h1v1h-1zM66 41h3v1h-3zM71 41h1v1h-1zM79 41h1v1h-1zM81 41h3v1h-3zM91 41h1v1h-1zM16 40h4v1h-4zM21 40h4v1h-4zM27 40h1v1h-1zM29 40h2v1h-2zM34 40h3v1h-3zM38 40h3v1h-3zM50 40h1v1h-1zM53 40h1v1h-1zM66 40h3v1h-3zM71 40h1v1h-1zM79 40h1v1h-1zM81 40h3v1h-3zM90 40h1v1h-1zM15 39h1v1h-1zM17 39h2v1h-2zM21 39h2v1h-2zM24 39h6v1h-6zM34 39h4v1h-4zM41 39h1v1h-1zM44 39h2v1h-2zM47 39h4v1h-4zM54 39h2v1h-2zM65 39h3v1h-3zM16 38h3v1h-3zM21 38h2v1h-2zM24 38h6v1h-6zM34 38h5v1h-5zM41 38h1v1h-1zM44 38h2v1h-2zM47 38h4v1h-4zM54 38h2v1h-2zM65 38h3v1h-3zM89 38h1v1h-1zM16 37h3v1h-3zM21 37h2v1h-2zM24 37h7v1h-7zM34 37h5v1h-5zM41 37h1v1h-1zM44 37h2v1h-2zM47 37h4v1h-4zM54 37h2v1h-2zM65 37h3v1h-3zM89 37h1v1h-1zM17 36h3v1h-3zM21 36h2v1h-2zM24 36h7v1h-7zM34 36h5v1h-5zM41 36h1v1h-1zM44 36h2v1h-2zM47 36h4v1h-4zM54 36h2v1h-2zM65 36h3v1h-3zM18 35h4v1h-4zM24 35h5v1h-5zM30 35h2v1h-2zM33 35h9v1h-9zM48 35h9v1h-9zM66 35h2v1h-2zM19 34h3v1h-3zM24 34h5v1h-5zM30 34h2v1h-2zM33 34h9v1h-9zM48 34h9v1h-9zM66 34h2v1h-2zM21 33h8v1h-8zM30 33h2v1h-2zM33 33h8v1h-8zM48 33h8v1h-8zM66 33h2v1h-2zM21 32h19v1h-19zM47 32h9v1h-9zM67 32h3v1h-3zM24 31h1v1h-1zM26 31h14v1h-14zM47 31h9v1h-9zM67 31h3v1h-3zM26 30h14v1h-14zM47 30h9v1h-9zM67 30h3v1h-3zM27 29h13v1h-13zM47 29h9v1h-9zM67 29h4v1h-4zM29 28h10v1h-10zM47 28h9v1h-9zM67 28h4v1h-4zM30 27h1v1h-1zM32 27h6v1h-6zM47 27h9v1h-9zM71 27h2v1h-2zM33 26h5v1h-5zM47 26h1v1h-1zM50 26h5v1h-5zM71 26h2v1h-2zM34 25h3v1h-3zM47 25h1v1h-1zM50 25h2v1h-2zM53 25h2v1h-2zM72 25h2v1h-2zM46 24h2v1h-2zM50 24h1v1h-1zM52 24h1v1h-1zM73 24h1v1h-1zM46 23h2v1h-2zM50 23h1v1h-1zM73 23h1v1h-1zM46 22h2v1h-2zM50 22h1v1h-1zM73 22h1v1h-1zM46 21h2v1h-2zM50 21h1v1h-1zM73 21h1v1h-1zM46 20h2v1h-2zM50 20h1v1h-1zM46 19h2v1h-2zM50 19h1v1h-1zM46 18h2v1h-2zM50 18h1v1h-1zM46 17h2v1h-2zM50 17h1v1h-1zM45 16h3v1h-3zM45 15h3v1h-3zM46 14h2v1h-2zM46 13h3v1h-3zM47 12h2v1h-2zM47 11h2v1h-2zM48 10h2v1h-2zM48 9h2v1h-2zM48 8h3v1h-3zM48 7h3v1h-3zM48 6h4v1h-4zM46 5h6v1h-6zM47 4h5v1h-5zM48 3h4v1h-4zM49 2h2v1h-2zM50 1h1v1h-1z"/>
<path fill="#b6b8c2" d="M7 47h1v1h-1zM9 47h1v1h-1zM32 47h1v1h-1zM53 47h1v1h-1zM68 47h1v1h-1zM72 47h1v1h-1zM37 46h2v1h-2zM40 46h1v1h-1zM46 46h1v1h-1zM51 46h2v1h-2zM71 46h1v1h-1zM74 46h3v1h-3zM79 46h1v1h-1zM91 46h1v1h-1zM8 45h1v1h-1zM22 45h1v1h-1zM30 45h1v1h-1zM37 45h3v1h-3zM41 45h1v1h-1zM50 45h2v1h-2zM53 45h1v1h-1zM67 45h1v1h-1zM69 45h1v1h-1zM74 45h1v1h-1zM76 45h1v1h-1zM79 45h1v1h-1zM81 45h1v1h-1zM92 45h1v1h-1zM15 44h1v1h-1zM19 44h1v1h-1zM22 44h1v1h-1zM30 44h1v1h-1zM37 44h3v1h-3zM41 44h1v1h-1zM50 44h2v1h-2zM53 44h1v1h-1zM67 44h1v1h-1zM69 44h1v1h-1zM74 44h1v1h-1zM76 44h1v1h-1zM79 44h1v1h-1zM81 44h1v1h-1zM92 44h1v1h-1zM10 43h5v1h-5zM35 43h2v1h-2zM46 43h1v1h-1zM48 43h2v1h-2zM69 43h2v1h-2zM77 43h2v1h-2zM81 43h4v1h-4zM91 43h2v1h-2zM13 42h1v1h-1zM35 42h2v1h-2zM45 42h2v1h-2zM48 42h2v1h-2zM54 42h1v1h-1zM64 42h1v1h-1zM66 42h1v1h-1zM91 42h1v1h-1zM13 41h1v1h-1zM24 41h1v1h-1zM27 41h3v1h-3zM37 41h1v1h-1zM41 41h1v1h-1zM44 41h6v1h-6zM54 41h1v1h-1zM65 41h1v1h-1zM14 40h2v1h-2zM25 40h2v1h-2zM28 40h1v1h-1zM37 40h1v1h-1zM41 40h1v1h-1zM44 40h6v1h-6zM54 40h2v1h-2zM65 40h1v1h-1zM91 40h1v1h-1zM14 39h1v1h-1zM46 39h1v1h-1zM56 39h3v1h-3zM64 39h1v1h-1zM90 39h2v1h-2zM15 38h1v1h-1zM46 38h1v1h-1zM56 38h3v1h-3zM62 38h3v1h-3zM90 38h1v1h-1zM46 37h1v1h-1zM56 37h3v1h-3zM62 37h3v1h-3zM16 36h1v1h-1zM46 36h1v1h-1zM56 36h3v1h-3zM62 36h3v1h-3zM17 35h1v1h-1zM32 35h1v1h-1zM44 35h4v1h-4zM57 35h1v1h-1zM63 35h3v1h-3zM17 34h2v1h-2zM32 34h1v1h-1zM44 34h4v1h-4zM63 34h3v1h-3zM18 33h3v1h-3zM32 33h1v1h-1zM41 33h1v1h-1zM44 33h4v1h-4zM56 33h1v1h-1zM63 33h3v1h-3zM19 32h2v1h-2zM40 32h2v1h-2zM44 32h3v1h-3zM56 32h1v1h-1zM63 32h4v1h-4zM21 31h3v1h-3zM25 31h1v1h-1zM40 31h2v1h-2zM43 31h4v1h-4zM56 31h1v1h-1zM63 31h4v1h-4zM23 30h3v1h-3zM40 30h1v1h-1zM43 30h4v1h-4zM62 30h5v1h-5zM26 29h1v1h-1zM40 29h1v1h-1zM43 29h4v1h-4zM62 29h5v1h-5zM27 28h2v1h-2zM39 28h2v1h-2zM43 28h4v1h-4zM63 28h4v1h-4zM29 27h1v1h-1zM31 27h1v1h-1zM38 27h3v1h-3zM43 27h4v1h-4zM63 27h8v1h-8zM30 26h3v1h-3zM38 26h2v1h-2zM43 26h4v1h-4zM55 26h1v1h-1zM63 26h2v1h-2zM66 26h5v1h-5zM32 25h2v1h-2zM37 25h2v1h-2zM43 25h4v1h-4zM52 25h1v1h-1zM55 25h1v1h-1zM63 25h1v1h-1zM67 25h1v1h-1zM71 25h1v1h-1zM33 24h5v1h-5zM43 24h3v1h-3zM51 24h1v1h-1zM53 24h3v1h-3zM72 24h1v1h-1zM34 23h3v1h-3zM43 23h3v1h-3zM51 23h5v1h-5zM72 23h1v1h-1zM43 22h3v1h-3zM51 22h2v1h-2zM54 22h1v1h-1zM44 21h2v1h-2zM51 21h2v1h-2zM44 20h2v1h-2zM51 20h1v1h-1zM44 19h2v1h-2zM51 19h1v1h-1zM44 18h2v1h-2zM51 18h1v1h-1zM44 17h2v1h-2zM51 17h1v1h-1zM44 16h1v1h-1zM50 16h1v1h-1zM44 15h1v1h-1zM50 15h1v1h-1zM44 14h2v1h-2zM50 14h1v1h-1zM45 13h1v1h-1zM50 13h1v1h-1zM45 12h2v1h-2zM50 12h1v1h-1zM46 11h1v1h-1zM50 11h2v1h-2zM47 10h1v1h-1zM50 10h2v1h-2zM47 9h1v1h-1zM50 9h2v1h-2zM51 8h1v1h-1zM47 7h1v1h-1zM51 7h2v1h-2zM46 6h2v1h-2zM52 6h3v1h-3zM52 5h3v1h-3zM52 4h4v1h-4zM52 3h4v1h-4zM51 2h4v1h-4zM51 1h3v1h-3zM51 0h2v1h-2z"/>
<path fill="#a9acb6" d="M4 47h1v1h-1zM16 47h1v1h-1zM38 47h1v1h-1zM40 47h1v1h-1zM46 47h1v1h-1zM51 47h1v1h-1zM71 47h1v1h-1zM74 47h2v1h-2zM79 47h1v1h-1zM88 47h1v1h-1zM91 47h1v1h-1zM14 46h1v1h-1zM16 46h1v1h-1zM18 46h2v1h-2zM22 46h1v1h-1zM29 46h1v1h-1zM33 46h1v1h-1zM67 46h1v1h-1zM80 46h2v1h-2zM84 46h2v1h-2zM9 45h2v1h-2zM15 45h1v1h-1zM18 45h2v1h-2zM40 45h1v1h-1zM46 45h2v1h-2zM70 45h1v1h-1zM77 45h2v1h-2zM82 45h3v1h-3zM94 45h1v1h-1zM8 44h3v1h-3zM17 44h2v1h-2zM34 44h1v1h-1zM40 44h1v1h-1zM46 44h2v1h-2zM70 44h1v1h-1zM77 44h2v1h-2zM82 44h3v1h-3zM8 43h2v1h-2zM23 43h1v1h-1zM28 43h2v1h-2zM45 43h1v1h-1zM54 43h1v1h-1zM64 43h1v1h-1zM66 43h1v1h-1zM10 42h3v1h-3zM23 42h7v1h-7zM55 42h5v1h-5zM63 42h1v1h-1zM65 42h1v1h-1zM12 41h1v1h-1zM25 41h2v1h-2zM55 41h4v1h-4zM64 41h1v1h-1zM13 40h1v1h-1zM56 40h3v1h-3zM64 40h1v1h-1zM13 39h1v1h-1zM42 39h1v1h-1zM59 39h5v1h-5zM14 38h1v1h-1zM42 38h1v1h-1zM59 38h3v1h-3zM14 37h2v1h-2zM42 37h1v1h-1zM59 37h3v1h-3zM15 36h1v1h-1zM42 36h1v1h-1zM59 36h3v1h-3zM16 35h1v1h-1zM42 35h2v1h-2zM61 35h2v1h-2zM42 34h2v1h-2zM57 34h1v1h-1zM61 34h2v1h-2zM42 33h2v1h-2zM57 33h1v1h-1zM61 33h2v1h-2zM42 32h2v1h-2zM61 32h2v1h-2zM20 31h1v1h-1zM42 31h1v1h-1zM61 31h2v1h-2zM21 30h2v1h-2zM41 30h2v1h-2zM56 30h1v1h-1zM61 30h1v1h-1zM24 29h2v1h-2zM41 29h1v1h-1zM56 29h1v1h-1zM61 29h1v1h-1zM26 28h1v1h-1zM56 28h1v1h-1zM61 28h2v1h-2zM28 27h1v1h-1zM61 27h2v1h-2zM29 26h1v1h-1zM40 26h1v1h-1zM61 26h2v1h-2zM65 26h1v1h-1zM31 25h1v1h-1zM39 25h2v1h-2zM62 25h1v1h-1zM64 25h3v1h-3zM68 25h3v1h-3zM32 24h1v1h-1zM38 24h1v1h-1zM62 24h6v1h-6zM71 24h1v1h-1zM33 23h1v1h-1zM37 23h1v1h-1zM63 23h4v1h-4zM35 22h2v1h-2zM53 22h1v1h-1zM55 22h1v1h-1zM72 22h1v1h-1zM43 21h1v1h-1zM53 21h3v1h-3zM72 21h1v1h-1zM43 20h1v1h-1zM52 20h1v1h-1zM55 20h1v1h-1zM72 20h1v1h-1zM43 19h1v1h-1zM43 18h1v1h-1zM43 17h1v1h-1zM51 16h1v1h-1zM51 15h1v1h-1zM51 14h1v1h-1zM44 13h1v1h-1zM51 13h1v1h-1zM51 12h1v1h-1zM45 11h1v1h-1zM46 10h1v1h-1zM46 9h1v1h-1zM47 8h1v1h-1zM55 8h1v1h-1zM46 7h1v1h-1zM53 7h3v1h-3zM45 6h1v1h-1zM55 6h1v1h-1zM55 5h1v1h-1zM56 4h1v1h-1z"/>
<path fill="#9c9fa8" d="M14 47h1v1h-1zM18 47h2v1h-2zM22 47h1v1h-1zM25 47h1v1h-1zM52 47h1v1h-1zM85 47h1v1h-1zM10 46h1v1h-1zM25 46h1v1h-1zM34 46h1v1h-1zM41 46h2v1h-2zM47 46h1v1h-1zM49 46h1v1h-1zM58 46h1v1h-1zM63 46h1v1h-1zM69 46h1v1h-1zM78 46h1v1h-1zM82 46h1v1h-1zM6 45h1v1h-1zM13 45h2v1h-2zM17 45h1v1h-1zM34 45h1v1h-1zM36 45h1v1h-1zM42 45h1v1h-1zM48 45h2v1h-2zM54 45h1v1h-1zM59 45h1v1h-1zM66 45h1v1h-1zM91 45h1v1h-1zM93 45h1v1h-1zM11 44h1v1h-1zM13 44h2v1h-2zM16 44h1v1h-1zM35 44h2v1h-2zM48 44h2v1h-2zM54 44h1v1h-1zM66 44h1v1h-1zM91 44h1v1h-1zM93 44h2v1h-2zM24 43h1v1h-1zM42 43h3v1h-3zM55 43h1v1h-1zM57 43h3v1h-3zM63 43h1v1h-1zM65 43h1v1h-1zM93 43h2v1h-2zM9 42h1v1h-1zM42 42h3v1h-3zM60 42h1v1h-1zM62 42h1v1h-1zM93 42h2v1h-2zM10 41h2v1h-2zM42 41h1v1h-1zM59 41h1v1h-1zM61 41h3v1h-3zM92 41h2v1h-2zM12 40h1v1h-1zM42 40h1v1h-1zM59 40h5v1h-5zM92 40h1v1h-1zM12 39h1v1h-1zM43 39h1v1h-1zM13 38h1v1h-1zM43 38h1v1h-1zM43 37h1v1h-1zM43 36h1v1h-1zM58 35h3v1h-3zM58 34h3v1h-3zM58 33h3v1h-3zM57 32h1v1h-1zM59 32h2v1h-2zM60 31h1v1h-1zM60 30h1v1h-1zM22 29h2v1h-2zM42 29h1v1h-1zM60 29h1v1h-1zM25 28h1v1h-1zM41 28h2v1h-2zM60 28h1v1h-1zM27 27h1v1h-1zM56 27h1v1h-1zM60 27h1v1h-1zM56 26h1v1h-1zM60 26h1v1h-1zM30 25h1v1h-1zM56 25h1v1h-1zM60 25h2v1h-2zM31 24h1v1h-1zM39 24h2v1h-2zM61 24h1v1h-1zM68 24h3v1h-3zM38 23h1v1h-1zM61 23h2v1h-2zM67 23h5v1h-5zM34 22h1v1h-1zM37 22h1v1h-1zM62 22h5v1h-5zM71 22h1v1h-1zM35 21h2v1h-2zM66 21h1v1h-1zM71 21h1v1h-1zM54 20h1v1h-1zM52 19h1v1h-1zM55 19h1v1h-1zM55 18h1v1h-1zM43 16h1v1h-1zM43 15h1v1h-1zM43 14h1v1h-1zM44 12h1v1h-1zM45 10h1v1h-1zM55 10h1v1h-1zM55 9h1v1h-1zM46 8h1v1h-1zM52 8h1v1h-1zM45 7h1v1h-1zM56 7h1v1h-1zM56 6h1v1h-1zM56 5h1v1h-1z"/>
<path fill="#90939a" d="M26 47h1v1h-1zM29 47h1v1h-1zM31 47h1v1h-1zM33 47h1v1h-1zM42 47h1v1h-1zM67 47h1v1h-1zM80 47h2v1h-2zM84 47h1v1h-1zM5 46h1v1h-1zM8 46h1v1h-1zM11 46h2v1h-2zM15 46h1v1h-1zM20 46h1v1h-1zM26 46h2v1h-2zM36 46h1v1h-1zM39 46h1v1h-1zM48 46h1v1h-1zM50 46h1v1h-1zM59 46h2v1h-2zM64 46h1v1h-1zM66 46h1v1h-1zM70 46h1v1h-1zM73 46h1v1h-1zM83 46h1v1h-1zM90 46h1v1h-1zM95 46h1v1h-1zM7 45h1v1h-1zM11 45h2v1h-2zM16 45h1v1h-1zM23 45h1v1h-1zM26 45h1v1h-1zM28 45h2v1h-2zM35 45h1v1h-1zM45 45h1v1h-1zM57 45h2v1h-2zM63 45h2v1h-2zM7 44h1v1h-1zM12 44h1v1h-1zM23 44h1v1h-1zM28 44h2v1h-2zM42 44h1v1h-1zM45 44h1v1h-1zM58 44h2v1h-2zM64 44h1v1h-1zM25 43h3v1h-3zM56 43h1v1h-1zM60 43h1v1h-1zM62 43h1v1h-1zM61 42h1v1h-1zM43 41h1v1h-1zM60 41h1v1h-1zM11 40h1v1h-1zM43 40h1v1h-1zM58 32h1v1h-1zM57 31h3v1h-3zM59 30h1v1h-1zM59 29h1v1h-1zM23 28h2v1h-2zM59 28h1v1h-1zM26 27h1v1h-1zM41 27h2v1h-2zM28 26h1v1h-1zM41 26h2v1h-2zM29 25h1v1h-1zM56 24h1v1h-1zM60 24h1v1h-1zM32 23h1v1h-1zM39 23h2v1h-2zM56 23h1v1h-1zM60 23h1v1h-1zM33 22h1v1h-1zM38 22h1v1h-1zM56 22h1v1h-1zM61 22h1v1h-1zM67 22h4v1h-4zM34 21h1v1h-1zM37 21h1v1h-1zM56 21h1v1h-1zM61 21h5v1h-5zM67 21h4v1h-4zM53 20h1v1h-1zM56 20h1v1h-1zM62 20h5v1h-5zM70 20h2v1h-2zM70 19h2v1h-2zM52 18h1v1h-1zM70 18h1v1h-1zM55 17h1v1h-1zM43 13h1v1h-1zM44 11h1v1h-1zM55 11h1v1h-1zM45 9h1v1h-1zM56 9h1v1h-1zM45 8h1v1h-1zM54 8h1v1h-1zM56 8h1v1h-1zM44 7h1v1h-1zM57 5h1v1h-1z"/>
<path fill="#83868d" d="M5 47h1v1h-1zM10 47h1v1h-1zM15 47h1v1h-1zM20 47h1v1h-1zM27 47h1v1h-1zM41 47h1v1h-1zM47 47h1v1h-1zM49 47h1v1h-1zM58 47h3v1h-3zM76 47h1v1h-1zM78 47h1v1h-1zM82 47h1v1h-1zM93 47h1v1h-1zM99 47h1v1h-1zM13 46h1v1h-1zM17 46h1v1h-1zM23 46h2v1h-2zM30 46h1v1h-1zM35 46h1v1h-1zM43 46h1v1h-1zM54 46h4v1h-4zM77 46h1v1h-1zM92 46h1v1h-1zM94 46h1v1h-1zM98 46h1v1h-1zM24 45h2v1h-2zM27 45h1v1h-1zM43 45h1v1h-1zM55 45h2v1h-2zM60 45h1v1h-1zM65 45h1v1h-1zM95 45h1v1h-1zM24 44h1v1h-1zM26 44h1v1h-1zM43 44h2v1h-2zM55 44h3v1h-3zM60 44h1v1h-1zM63 44h1v1h-1zM65 44h1v1h-1zM61 43h1v1h-1zM95 43h1v1h-1zM57 30h2v1h-2zM24 27h2v1h-2zM59 27h1v1h-1zM27 26h1v1h-1zM59 26h1v1h-1zM41 25h2v1h-2zM30 24h1v1h-1zM42 24h1v1h-1zM31 23h1v1h-1zM42 23h1v1h-1zM39 22h2v1h-2zM42 22h1v1h-1zM60 22h1v1h-1zM42 21h1v1h-1zM35 20h2v1h-2zM42 20h1v1h-1zM61 20h1v1h-1zM67 20h3v1h-3zM42 19h1v1h-1zM54 19h1v1h-1zM56 19h1v1h-1zM62 19h8v1h-8zM42 18h1v1h-1zM56 18h1v1h-1zM62 18h2v1h-2zM65 18h5v1h-5zM42 17h1v1h-1zM52 17h1v1h-1zM56 17h1v1h-1zM66 17h1v1h-1zM68 17h2v1h-2zM42 16h1v1h-1zM55 16h1v1h-1zM68 16h1v1h-1zM42 15h1v1h-1zM55 15h1v1h-1zM55 14h1v1h-1zM55 13h1v1h-1zM43 12h1v1h-1zM55 12h2v1h-2zM52 11h1v1h-1zM56 11h1v1h-1zM44 10h1v1h-1zM56 10h1v1h-1zM61 9h1v1h-1zM44 8h1v1h-1zM60 8h1v1h-1zM57 6h1v1h-1z"/>
<path fill="#77797f" d="M8 47h1v1h-1zM11 47h2v1h-2zM17 47h1v1h-1zM24 47h1v1h-1zM36 47h2v1h-2zM39 47h1v1h-1zM43 47h1v1h-1zM48 47h1v1h-1zM50 47h1v1h-1zM57 47h1v1h-1zM64 47h1v1h-1zM66 47h1v1h-1zM70 47h1v1h-1zM73 47h1v1h-1zM83 47h1v1h-1zM90 47h1v1h-1zM98 47h1v1h-1zM6 46h1v1h-1zM28 46h1v1h-1zM44 46h2v1h-2zM62 46h1v1h-1zM65 46h1v1h-1zM96 46h1v1h-1zM44 45h1v1h-1zM61 45h2v1h-2zM96 45h2v1h-2zM25 44h1v1h-1zM27 44h1v1h-1zM62 44h1v1h-1zM95 44h1v1h-1zM57 29h2v1h-2zM26 26h1v1h-1zM28 25h1v1h-1zM59 25h1v1h-1zM41 24h1v1h-1zM59 24h1v1h-1zM41 23h1v1h-1zM59 23h1v1h-1zM32 22h1v1h-1zM41 22h1v1h-1zM33 21h1v1h-1zM38 21h1v1h-1zM40 21h1v1h-1zM60 21h1v1h-1zM37 20h1v1h-1zM60 20h1v1h-1zM53 19h1v1h-1zM61 19h1v1h-1zM61 18h1v1h-1zM64 18h1v1h-1zM62 17h4v1h-4zM67 17h1v1h-1zM56 16h1v1h-1zM64 16h4v1h-4zM56 15h1v1h-1zM65 15h3v1h-3zM42 14h1v1h-1zM56 14h1v1h-1zM65 14h2v1h-2zM56 13h1v1h-1zM65 13h1v1h-1zM52 12h1v1h-1zM64 12h1v1h-1zM61 11h3v1h-3zM61 10h2v1h-2zM44 9h1v1h-1zM52 9h1v1h-1zM43 8h1v1h-1zM57 7h1v1h-1zM59 7h1v1h-1zM58 6h1v1h-1z"/>
<path fill="#6a6d71" d="M6 47h1v1h-1zM23 47h1v1h-1zM28 47h1v1h-1zM30 47h1v1h-1zM35 47h1v1h-1zM44 47h1v1h-1zM54 47h3v1h-3zM77 47h1v1h-1zM94 47h1v1h-1zM61 46h1v1h-1zM97 46h1v1h-1zM61 44h1v1h-1zM96 44h1v1h-1zM57 28h2v1h-2zM57 27h1v1h-1zM25 26h1v1h-1zM27 25h1v1h-1zM29 24h1v1h-1zM59 22h1v1h-1zM39 21h1v1h-1zM41 21h1v1h-1zM34 20h1v1h-1zM38 20h1v1h-1zM41 20h1v1h-1zM35 19h2v1h-2zM41 19h1v1h-1zM60 19h1v1h-1zM54 18h1v1h-1zM61 17h1v1h-1zM52 16h1v1h-1zM61 16h3v1h-3zM52 15h1v1h-1zM61 15h4v1h-4zM52 14h1v1h-1zM61 14h4v1h-4zM42 13h1v1h-1zM52 13h1v1h-1zM61 13h4v1h-4zM61 12h3v1h-3zM43 11h1v1h-1zM52 10h1v1h-1zM60 10h1v1h-1zM43 9h1v1h-1zM54 9h1v1h-1zM57 9h1v1h-1zM60 9h1v1h-1zM53 8h1v1h-1zM57 8h1v1h-1zM59 8h1v1h-1zM58 7h1v1h-1z"/>
<path fill="#5e6063" d="M34 47h1v1h-1zM45 47h1v1h-1zM62 47h2v1h-2zM65 47h1v1h-1zM97 47h1v1h-1zM58 27h1v1h-1zM57 26h2v1h-2zM26 25h1v1h-1zM57 25h1v1h-1zM27 24h2v1h-2zM57 24h1v1h-1zM30 23h1v1h-1zM57 23h1v1h-1zM31 22h1v1h-1zM57 22h1v1h-1zM32 21h1v1h-1zM57 21h1v1h-1zM59 21h1v1h-1zM39 20h2v1h-2zM57 20h1v1h-1zM59 20h1v1h-1zM37 19h1v1h-1zM57 19h1v1h-1zM41 18h1v1h-1zM60 18h1v1h-1zM41 17h1v1h-1zM60 17h1v1h-1zM41 16h1v1h-1zM60 16h1v1h-1zM42 12h1v1h-1zM60 12h1v1h-1zM54 11h1v1h-1zM60 11h1v1h-1zM43 10h1v1h-1zM57 10h1v1h-1zM42 9h1v1h-1zM59 9h1v1h-1zM58 8h1v1h-1z"/>
<path fill="#515456" d="M61 47h1v1h-1zM69 47h1v1h-1zM95 47h1v1h-1zM58 25h1v1h-1zM58 24h1v1h-1zM28 23h2v1h-2zM58 23h1v1h-1zM30 22h1v1h-1zM58 22h1v1h-1zM33 20h1v1h-1zM34 19h1v1h-1zM38 19h1v1h-1zM40 19h1v1h-1zM59 19h1v1h-1zM53 18h1v1h-1zM57 18h1v1h-1zM54 17h1v1h-1zM57 17h1v1h-1zM41 15h1v1h-1zM60 15h1v1h-1zM41 14h1v1h-1zM60 14h1v1h-1zM60 13h1v1h-1zM54 12h1v1h-1zM57 12h1v1h-1zM42 11h1v1h-1zM57 11h1v1h-1zM42 10h1v1h-1zM54 10h1v1h-1zM59 10h1v1h-1zM58 9h1v1h-1z"/>
<path fill="#44474a" d="M29 22h1v1h-1zM30 21h2v1h-2zM58 21h1v1h-1zM31 20h2v1h-2zM58 20h1v1h-1zM32 19h2v1h-2zM39 19h1v1h-1zM35 18h3v1h-3zM40 18h1v1h-1zM59 18h1v1h-1zM57 16h1v1h-1zM57 15h1v1h-1zM57 14h1v1h-1zM41 13h1v1h-1zM57 13h1v1h-1zM59 11h1v1h-1zM41 10h1v1h-1zM58 10h1v1h-1z"/>
<path fill="#373a3d" d="M13 47h1v1h-1zM92 47h1v1h-1zM96 47h1v1h-1zM58 19h1v1h-1zM33 18h2v1h-2zM38 18h1v1h-1zM58 18h1v1h-1zM34 17h1v1h-1zM40 17h1v1h-1zM59 17h1v1h-1zM54 16h1v1h-1zM59 16h1v1h-1zM59 15h1v1h-1zM59 14h1v1h-1zM54 13h1v1h-1zM59 13h1v1h-1zM41 12h1v1h-1zM59 12h1v1h-1zM58 11h1v1h-1z"/>
<path fill="#2a2d30" d="M39 18h1v1h-1zM35 17h3v1h-3zM53 17h1v1h-1zM58 17h1v1h-1zM35 16h1v1h-1zM40 16h1v1h-1zM58 16h1v1h-1zM40 15h1v1h-1zM54 15h1v1h-1zM58 15h1v1h-1zM54 14h1v1h-1zM58 14h1v1h-1zM58 13h1v1h-1zM53 12h1v1h-1zM58 12h1v1h-1zM41 11h1v1h-1zM53 11h1v1h-1z"/>
<path fill="#1d2123" d="M38 17h2v1h-2zM36 16h1v1h-1zM40 14h1v1h-1zM40 11h1v1h-1z"/>
<path fill="#101416" d="M37 16h3v1h-3zM53 16h1v1h-1zM36 15h4v1h-4zM53 15h1v1h-1zM37 14h3v1h-3zM53 14h1v1h-1zM38 13h3v1h-3zM53 13h1v1h-1zM39 12h2v1h-2zM53 10h1v1h-1zM53 9h1v1h-1z"/>
</g>
<path d="M1051 1976.5h0M1055.9 1976.5h0M1046.2 1986.5h0M1051 1986.5h0M1055.9 1986.5h0M1060.8 1986.5h0M1065.7 1986.5h0M1046.2 1996.5h0M1051 1996.5h0M1055.9 1996.5h0M1060.8 1996.5h0M1065.7 1996.5h0M1041.3 2006.5h0M1046.2 2006.5h0M1051 2006.5h0M1055.9 2006.5h0M1060.8 2006.5h0M1065.7 2006.5h0M1046.2 2016.5h0M1051 2016.5h0M1055.9 2016.5h0M1060.8 2016.5h0M1065.7 2016.5h0M1041.3 2116.5h0M1046.2 2116.5h0M1051 2116.5h0M1055.9 2116.5h0M1060.8 2116.5h0M1041.3 2126.5h0M1046.2 2126.5h0M1051 2126.5h0M1055.9 2126.5h0M1060.8 2126.5h0M1041.3 2136.5h0M1046.2 2136.5h0M1051 2136.5h0M1055.9 2136.5h0M1060.8 2136.5h0M1046.2 2146.5h0M1051 2146.5h0M1055.9 2146.5h0M1060.8 2146.5h0M1046.2 2156.5h0M1051 2156.5h0M1055.9 2156.5h0M1060.8 2156.5h0M1046.2 2166.5h0M1051 2166.5h0M1055.9 2166.5h0M1046.2 2176.5h0M1051 2176.5h0M1055.9 2176.5h0M1046.2 2186.5h0M1051 2186.5h0M1055.9 2186.5h0M1046.2 2196.5h0M1051 2196.5h0M1055.9 2196.5h0M1046.2 2206.5h0M1051 2206.5h0M1055.9 2206.5h0M1051 2216.5h0M1055.9 2216.5h0M1051 2226.5h0M1051 2236.5h0M1041.3 2106.5h0M1046.2 2106.5h0M1051 2106.5h0M1055.9 2106.5h0M1060.8 2106.5h0M1065.7 2106.5h0M1041.3 2096.5h0M1046.2 2096.5h0M1051 2096.5h0M1055.9 2096.5h0M1060.8 2096.5h0M1065.7 2096.5h0M1041.3 2086.5h0M1046.2 2086.5h0M1051 2086.5h0M1055.9 2086.5h0M1060.8 2086.5h0M1065.7 2086.5h0M1041.3 2076.5h0M1046.2 2076.5h0M1051 2076.5h0M1055.9 2076.5h0M1060.8 2076.5h0M1065.7 2076.5h0M1041.3 2066.5h0M1046.2 2066.5h0M1051 2066.5h0M1055.9 2066.5h0M1060.8 2066.5h0M1065.7 2066.5h0M1041.3 2056.5h0M1046.2 2056.5h0M1051 2056.5h0M1055.9 2056.5h0M1060.8 2056.5h0M1065.7 2056.5h0M1041.3 2046.5h0M1046.2 2046.5h0M1051 2046.5h0M1055.9 2046.5h0M1060.8 2046.5h0M1065.7 2046.5h0M1041.3 2036.5h0M1046.2 2036.5h0M1051 2036.5h0M1055.9 2036.5h0M1060.8 2036.5h0M1065.7 2036.5h0M1041.3 2026.5h0M1046.2 2026.5h0M1051 2026.5h0M1055.9 2026.5h0M1060.8 2026.5h0M1065.7 2026.5h0M938.6 2186.5h0M943.5 2186.5h0M933.7 2196.5h0M938.6 2196.5h0M928.8 2206.5h0M933.7 2206.5h0M938.6 2206.5h0M943.5 2206.5h0M923.9 2216.5h0M928.8 2216.5h0M919 2226.5h0M923.9 2226.5h0M928.8 2226.5h0M914.1 2236.5h0M919 2236.5h0M923.9 2236.5h0M928.8 2236.5h0M914.1 2246.5h0M919 2246.5h0M919 2256.5h0M972.8 2236.5h0M977.7 2236.5h0M972.8 2246.5h0M977.7 2246.5h0M982.6 2246.5h0M967.9 2256.5h0M972.8 2256.5h0M977.7 2256.5h0M982.6 2256.5h0M972.8 2266.5h0M977.7 2266.5h0M982.6 2266.5h0M972.8 2276.5h0M977.7 2276.5h0M982.6 2276.5h0M972.8 2286.5h0M977.7 2286.5h0M982.6 2286.5h0M904.4 2326.5h0M904.4 2336.5h0M1011.9 2336.5h0M1011.9 2346.5h0M1011.9 2356.5h0M992.4 2366.5h0M1241.8 2356.5h0M1241.8 2366.5h0M1144 2156.5h0M1148.8 2156.5h0M1139.1 2166.5h0M1144 2166.5h0M1148.8 2166.5h0M1134.2 2176.5h0M1139.1 2176.5h0M1144 2176.5h0M1148.8 2176.5h0M1153.7 2176.5h0M1158.6 2176.5h0M1163.5 2176.5h0M1168.4 2176.5h0M1173.3 2176.5h0M1134.2 2186.5h0M1139.1 2186.5h0M1144 2186.5h0M1148.8 2186.5h0M1153.7 2186.5h0M1158.6 2186.5h0M1163.5 2186.5h0M1168.4 2186.5h0M1173.3 2186.5h0M1129.3 2196.5h0M1134.2 2196.5h0M1139.1 2196.5h0M1144 2196.5h0M1148.8 2196.5h0M1153.7 2196.5h0M1158.6 2196.5h0M1163.5 2196.5h0M1168.4 2196.5h0M1173.3 2196.5h0M1129.3 2206.5h0M1134.2 2206.5h0M1139.1 2206.5h0M1144 2206.5h0M1148.8 2206.5h0M1153.7 2206.5h0M1158.6 2206.5h0M1163.5 2206.5h0M1168.4 2206.5h0M1173.3 2206.5h0M1129.3 2216.5h0M1134.2 2216.5h0M1139.1 2216.5h0M1144 2216.5h0M1148.8 2216.5h0M1153.7 2216.5h0M1158.6 2216.5h0M1163.5 2216.5h0M1168.4 2216.5h0M1173.3 2216.5h0M1129.3 2226.5h0M1134.2 2226.5h0M1139.1 2226.5h0M1144 2226.5h0M1148.8 2226.5h0M1153.7 2226.5h0M1158.6 2226.5h0M1163.5 2226.5h0M1168.4 2226.5h0M1173.3 2226.5h0M1129.3 2236.5h0M1134.2 2236.5h0M1139.1 2236.5h0M1144 2236.5h0M1148.8 2236.5h0M1153.7 2236.5h0M1158.6 2236.5h0M1163.5 2236.5h0M1168.4 2236.5h0M1173.3 2236.5h0M1129.3 2246.5h0M1134.2 2246.5h0M1139.1 2246.5h0M1144 2246.5h0M1148.8 2246.5h0M1153.7 2246.5h0M1158.6 2246.5h0M1163.5 2246.5h0M1168.4 2246.5h0M1173.3 2246.5h0M1129.3 2256.5h0M1134.2 2256.5h0M1139.1 2256.5h0M1144 2256.5h0M1148.8 2256.5h0M1153.7 2256.5h0M1158.6 2256.5h0M1163.5 2256.5h0M1168.4 2256.5h0M1129.3 2266.5h0M1134.2 2266.5h0M1139.1 2266.5h0M1144 2266.5h0M1148.8 2266.5h0M1153.7 2266.5h0M1158.6 2266.5h0M1129.3 2276.5h0M1134.2 2276.5h0M1139.1 2276.5h0M1144 2276.5h0M1148.8 2276.5h0M1153.7 2276.5h0M1129.3 2286.5h0M1134.2 2286.5h0M1139.1 2286.5h0M1144 2286.5h0M1129.3 2296.5h0M1134.2 2296.5h0M1139.1 2296.5h0M1178.2 2086.5h0M1178.2 2096.5h0M1183.1 2096.5h0M1178.2 2106.5h0M1183.1 2106.5h0M1188 2106.5h0M1178.2 2116.5h0M1183.1 2116.5h0M1188 2116.5h0M1192.9 2116.5h0M1173.3 2126.5h0M1178.2 2126.5h0M1183.1 2126.5h0M1188 2126.5h0M1192.9 2126.5h0M1197.8 2126.5h0M1173.3 2136.5h0M1178.2 2136.5h0M1183.1 2136.5h0M1188 2136.5h0M1192.9 2136.5h0M1197.8 2136.5h0M1202.6 2136.5h0M1168.4 2146.5h0M1173.3 2146.5h0M1178.2 2146.5h0M1183.1 2146.5h0M1188 2146.5h0M1192.9 2146.5h0M1197.8 2146.5h0M1202.6 2146.5h0M1207.5 2146.5h0M1168.4 2156.5h0M1173.3 2156.5h0M1178.2 2156.5h0M1183.1 2156.5h0M1188 2156.5h0M1192.9 2156.5h0M1197.8 2156.5h0M1202.6 2156.5h0M1207.5 2156.5h0M1212.4 2156.5h0M1168.4 2166.5h0M1173.3 2166.5h0M1178.2 2166.5h0M1183.1 2166.5h0M1188 2166.5h0M1192.9 2166.5h0M1197.8 2166.5h0M1202.6 2166.5h0M1207.5 2166.5h0M1212.4 2166.5h0M1217.3 2166.5h0M1188 2176.5h0M1192.9 2176.5h0M1197.8 2176.5h0M1202.6 2176.5h0M1207.5 2176.5h0M1212.4 2176.5h0M1217.3 2176.5h0M1222.2 2176.5h0M1192.9 2186.5h0M1197.8 2186.5h0M1202.6 2186.5h0M1207.5 2186.5h0M1212.4 2186.5h0M1217.3 2186.5h0M1222.2 2186.5h0M1227.1 2186.5h0M1207.5 2196.5h0M1212.4 2196.5h0M1217.3 2196.5h0M1222.2 2196.5h0M1227.1 2196.5h0M1232 2196.5h0M1207.5 2206.5h0M1212.4 2206.5h0M1217.3 2206.5h0M1222.2 2206.5h0M1227.1 2206.5h0M1232 2206.5h0M1236.9 2206.5h0M1207.5 2216.5h0M1212.4 2216.5h0M1217.3 2216.5h0M1222.2 2216.5h0M1227.1 2216.5h0M1232 2216.5h0M1236.9 2216.5h0M1241.8 2216.5h0M1227.1 2226.5h0M1232 2226.5h0M1236.9 2226.5h0M1241.8 2226.5h0M1246.7 2226.5h0M1227.1 2236.5h0M1232 2236.5h0M1236.9 2236.5h0M1241.8 2236.5h0M1246.7 2236.5h0M1251.5 2236.5h0M1236.9 2246.5h0M1241.8 2246.5h0M1246.7 2246.5h0M1236.9 2256.5h0M1241.8 2256.5h0M1212.4 2226.5h0M1207.5 2236.5h0" stroke="#5aa5d3" stroke-width="11.0" stroke-linecap="round" fill="none"/>
<path d="M1007 2046.5h0M1002.1 2056.5h0M1007 2056.5h0M1011.9 2056.5h0M997.3 2066.5h0M1002.1 2066.5h0M1007 2066.5h0M1011.9 2066.5h0M1002.1 2076.5h0M1007 2076.5h0M1011.9 2076.5h0M1002.1 2086.5h0M1007 2086.5h0M1011.9 2086.5h0M997.3 2096.5h0M1002.1 2096.5h0M1007 2096.5h0M1011.9 2096.5h0M1016.8 2096.5h0M1021.7 2096.5h0M1026.6 2096.5h0M1002.1 2106.5h0M1007 2106.5h0M1011.9 2106.5h0M1016.8 2106.5h0M1021.7 2106.5h0M1026.6 2106.5h0M997.3 2116.5h0M1002.1 2116.5h0M1007 2116.5h0M1011.9 2116.5h0M1016.8 2116.5h0M1021.7 2116.5h0M1026.6 2116.5h0M992.4 2126.5h0M997.3 2126.5h0M1002.1 2126.5h0M1007 2126.5h0M1011.9 2126.5h0M1016.8 2126.5h0M1021.7 2126.5h0M1026.6 2126.5h0M987.5 2136.5h0M992.4 2136.5h0M997.3 2136.5h0M1002.1 2136.5h0M1007 2136.5h0M1011.9 2136.5h0M1016.8 2136.5h0M1021.7 2136.5h0M1026.6 2136.5h0M987.5 2146.5h0M992.4 2146.5h0M997.3 2146.5h0M1002.1 2146.5h0M1007 2146.5h0M1011.9 2146.5h0M1016.8 2146.5h0M1021.7 2146.5h0M1026.6 2146.5h0M987.5 2156.5h0M992.4 2156.5h0M997.3 2156.5h0M1002.1 2156.5h0M1007 2156.5h0M1011.9 2156.5h0M1016.8 2156.5h0M1021.7 2156.5h0M1026.6 2156.5h0M987.5 2166.5h0M992.4 2166.5h0M997.3 2166.5h0M1002.1 2166.5h0M1007 2166.5h0M1011.9 2166.5h0M1016.8 2166.5h0M1021.7 2166.5h0M1026.6 2166.5h0M1031.5 2166.5h0M987.5 2176.5h0M992.4 2176.5h0M997.3 2176.5h0M1002.1 2176.5h0M1007 2176.5h0M1011.9 2176.5h0M1016.8 2176.5h0M1021.7 2176.5h0M1026.6 2176.5h0M1031.5 2176.5h0M987.5 2186.5h0M992.4 2186.5h0M997.3 2186.5h0M1002.1 2186.5h0M1007 2186.5h0M1011.9 2186.5h0M1016.8 2186.5h0M1021.7 2186.5h0M1026.6 2186.5h0M1031.5 2186.5h0M992.4 2196.5h0M997.3 2196.5h0M1002.1 2196.5h0M1007 2196.5h0M1011.9 2196.5h0M1016.8 2196.5h0M1021.7 2196.5h0M1026.6 2196.5h0M1031.5 2196.5h0M992.4 2206.5h0M997.3 2206.5h0M1002.1 2206.5h0M1007 2206.5h0M1011.9 2206.5h0M1016.8 2206.5h0M1021.7 2206.5h0M1026.6 2206.5h0M1031.5 2206.5h0M997.3 2216.5h0M1002.1 2216.5h0M1007 2216.5h0M1011.9 2216.5h0M1016.8 2216.5h0M1021.7 2216.5h0M1026.6 2216.5h0M1031.5 2216.5h0M997.3 2226.5h0M1002.1 2226.5h0M1007 2226.5h0M1011.9 2226.5h0M1016.8 2226.5h0M1021.7 2226.5h0M1026.6 2226.5h0M1031.5 2226.5h0M1002.1 2236.5h0M1007 2236.5h0M1011.9 2236.5h0M1016.8 2236.5h0M1021.7 2236.5h0M1026.6 2236.5h0M1031.5 2236.5h0M1036.4 2236.5h0M1002.1 2246.5h0M1007 2246.5h0M1011.9 2246.5h0M1016.8 2246.5h0M1021.7 2246.5h0M1026.6 2246.5h0M1031.5 2246.5h0M1036.4 2246.5h0M1007 2256.5h0M1011.9 2256.5h0M1016.8 2256.5h0M1021.7 2256.5h0M1026.6 2256.5h0M1031.5 2256.5h0M1036.4 2256.5h0M1011.9 2266.5h0M1016.8 2266.5h0M1021.7 2266.5h0M1026.6 2266.5h0M1031.5 2266.5h0M1036.4 2266.5h0M1016.8 2276.5h0M1021.7 2276.5h0M1026.6 2276.5h0M1031.5 2276.5h0M1036.4 2276.5h0M1016.8 2286.5h0M1021.7 2286.5h0M1026.6 2286.5h0M1031.5 2286.5h0M1036.4 2286.5h0M1021.7 2296.5h0M1026.6 2296.5h0M1031.5 2296.5h0M1036.4 2296.5h0M1021.7 2306.5h0M1026.6 2306.5h0M1031.5 2306.5h0M1036.4 2306.5h0M1026.6 2316.5h0M1031.5 2316.5h0M1036.4 2316.5h0M1026.6 2326.5h0M1031.5 2326.5h0M1026.6 2336.5h0M1031.5 2336.5h0M1026.6 2346.5h0M1031.5 2346.5h0M1026.6 2356.5h0M1031.5 2356.5h0M1026.6 2366.5h0M1026.6 2086.5h0M1085.3 2366.5h0M1080.4 2356.5h0M1085.3 2356.5h0M1075.5 2346.5h0M1080.4 2346.5h0M1085.3 2346.5h0M1075.5 2336.5h0M1080.4 2336.5h0M1085.3 2336.5h0M1075.5 2326.5h0M1080.4 2326.5h0M1085.3 2326.5h0M1075.5 2316.5h0M1080.4 2316.5h0M1085.3 2316.5h0M1070.6 2306.5h0M1075.5 2306.5h0M1080.4 2306.5h0M1085.3 2306.5h0M1090.2 2306.5h0M1070.6 2296.5h0M1075.5 2296.5h0M1080.4 2296.5h0M1085.3 2296.5h0M1090.2 2296.5h0M1070.6 2286.5h0M1075.5 2286.5h0M1080.4 2286.5h0M1085.3 2286.5h0M1090.2 2286.5h0M1095.1 2286.5h0M1100 2286.5h0M1070.6 2276.5h0M1075.5 2276.5h0M1080.4 2276.5h0M1085.3 2276.5h0M1090.2 2276.5h0M1095.1 2276.5h0M1100 2276.5h0M1070.6 2266.5h0M1075.5 2266.5h0M1080.4 2266.5h0M1085.3 2266.5h0M1090.2 2266.5h0M1095.1 2266.5h0M1100 2266.5h0M1104.8 2266.5h0M1070.6 2256.5h0M1075.5 2256.5h0M1080.4 2256.5h0M1085.3 2256.5h0M1090.2 2256.5h0M1095.1 2256.5h0M1100 2256.5h0M1104.8 2256.5h0M1070.6 2246.5h0M1075.5 2246.5h0M1080.4 2246.5h0M1085.3 2246.5h0M1090.2 2246.5h0M1095.1 2246.5h0M1100 2246.5h0M1104.8 2246.5h0M1070.6 2236.5h0M1075.5 2236.5h0M1080.4 2236.5h0M1085.3 2236.5h0M1090.2 2236.5h0M1095.1 2236.5h0M1100 2236.5h0M1104.8 2236.5h0M1109.7 2236.5h0M1070.6 2226.5h0M1075.5 2226.5h0M1080.4 2226.5h0M1085.3 2226.5h0M1090.2 2226.5h0M1095.1 2226.5h0M1100 2226.5h0M1104.8 2226.5h0M1109.7 2226.5h0M1075.5 2216.5h0M1080.4 2216.5h0M1085.3 2216.5h0M1090.2 2216.5h0M1095.1 2216.5h0M1100 2216.5h0M1104.8 2216.5h0M1109.7 2216.5h0M1075.5 2206.5h0M1080.4 2206.5h0M1085.3 2206.5h0M1090.2 2206.5h0M1095.1 2206.5h0M1100 2206.5h0M1104.8 2206.5h0M1109.7 2206.5h0M1114.6 2206.5h0M1075.5 2196.5h0M1080.4 2196.5h0M1085.3 2196.5h0M1090.2 2196.5h0M1095.1 2196.5h0M1100 2196.5h0M1104.8 2196.5h0M1109.7 2196.5h0M1114.6 2196.5h0M1075.5 2186.5h0M1080.4 2186.5h0M1085.3 2186.5h0M1090.2 2186.5h0M1095.1 2186.5h0M1100 2186.5h0M1104.8 2186.5h0M1109.7 2186.5h0M1114.6 2186.5h0M1075.5 2176.5h0M1080.4 2176.5h0M1085.3 2176.5h0M1090.2 2176.5h0M1095.1 2176.5h0M1100 2176.5h0M1104.8 2176.5h0M1109.7 2176.5h0M1114.6 2176.5h0M1075.5 2166.5h0M1080.4 2166.5h0M1085.3 2166.5h0M1090.2 2166.5h0M1095.1 2166.5h0M1100 2166.5h0M1104.8 2166.5h0M1109.7 2166.5h0M1075.5 2156.5h0M1080.4 2156.5h0M1085.3 2156.5h0M1090.2 2156.5h0M1095.1 2156.5h0M1100 2156.5h0M1104.8 2156.5h0M1109.7 2156.5h0M1075.5 2146.5h0M1080.4 2146.5h0M1085.3 2146.5h0M1090.2 2146.5h0M1095.1 2146.5h0M1100 2146.5h0M1104.8 2146.5h0M1109.7 2146.5h0M1080.4 2136.5h0M1085.3 2136.5h0M1090.2 2136.5h0M1095.1 2136.5h0M1100 2136.5h0M1104.8 2136.5h0M1109.7 2136.5h0M1080.4 2126.5h0M1085.3 2126.5h0M1090.2 2126.5h0M1095.1 2126.5h0M1100 2126.5h0M1104.8 2126.5h0M1080.4 2116.5h0M1085.3 2116.5h0M1090.2 2116.5h0M1095.1 2116.5h0M1100 2116.5h0M1104.8 2116.5h0M1080.4 2106.5h0M1085.3 2106.5h0M1090.2 2106.5h0M1095.1 2106.5h0M1100 2106.5h0M1104.8 2106.5h0M1080.4 2096.5h0M1085.3 2096.5h0M1090.2 2096.5h0M1100 2096.5h0M1104.8 2096.5h0M1080.4 2086.5h0M1085.3 2086.5h0M1090.2 2086.5h0M1100 2086.5h0M1104.8 2086.5h0M1080.4 2076.5h0M1085.3 2076.5h0M1090.2 2076.5h0M1095.1 2076.5h0M1100 2076.5h0M1104.8 2076.5h0M1080.4 2066.5h0M1085.3 2066.5h0M1100 2066.5h0M1104.8 2066.5h0M1080.4 2056.5h0M1085.3 2056.5h0M1100 2056.5h0M1104.8 2056.5h0M1100 2046.5h0M1104.8 2046.5h0M1100 2036.5h0M1104.8 2036.5h0M1100 2026.5h0M1104.8 2026.5h0M1085.3 2016.5h0M1090.2 2016.5h0M1095.1 2016.5h0M1100 2016.5h0M1104.8 2016.5h0M1085.3 2006.5h0M1090.2 2006.5h0M1095.1 2006.5h0M1100 2006.5h0M1104.8 2006.5h0M1080.4 1996.5h0M1085.3 1996.5h0M1100 1996.5h0M1104.8 1996.5h0M1080.4 1986.5h0M1085.3 1986.5h0M1100 1986.5h0M1104.8 1986.5h0M1080.4 1976.5h0M1085.3 1976.5h0M1090.2 1976.5h0M1095.1 1976.5h0M1100 1976.5h0M1104.8 1976.5h0M1109.7 1976.5h0M1080.4 1966.5h0M1085.3 1966.5h0M1090.2 1966.5h0M1095.1 1966.5h0M1100 1966.5h0M1104.8 1966.5h0M1080.4 1956.5h0M1085.3 1956.5h0M1090.2 1956.5h0M1095.1 1956.5h0M1100 1956.5h0M1104.8 1956.5h0M1080.4 1946.5h0M1085.3 1946.5h0M1090.2 1946.5h0M1095.1 1946.5h0M1100 1946.5h0M1104.8 1946.5h0M1109.7 1946.5h0M1080.4 1936.5h0M1085.3 1936.5h0M1090.2 1936.5h0M1095.1 1936.5h0M1100 1936.5h0M1104.8 1936.5h0M1080.4 1926.5h0M1085.3 1926.5h0M1090.2 1926.5h0M1095.1 1926.5h0M1100 1926.5h0M1075.5 1916.5h0M1080.4 1916.5h0M1085.3 1916.5h0M1090.2 1916.5h0M1095.1 1916.5h0M1080.4 1906.5h0M1085.3 1906.5h0M1090.2 1906.5h0M1080.4 1896.5h0M1085.3 1896.5h0M1280.9 2296.5h0M1285.8 2306.5h0M1285.8 2316.5h0M938.6 2336.5h0M938.6 2346.5h0M938.6 2356.5h0" stroke="#d87b72" stroke-width="11.0" stroke-linecap="round" fill="none"/>
<line x1="1026" y1="1862" x2="1026" y2="2400" stroke="#95503b" stroke-width="3.5" />
<line x1="1074.3" y1="1862" x2="1074.3" y2="2400" stroke="#95503b" stroke-width="3.5" />
</svg>
</body></html>
